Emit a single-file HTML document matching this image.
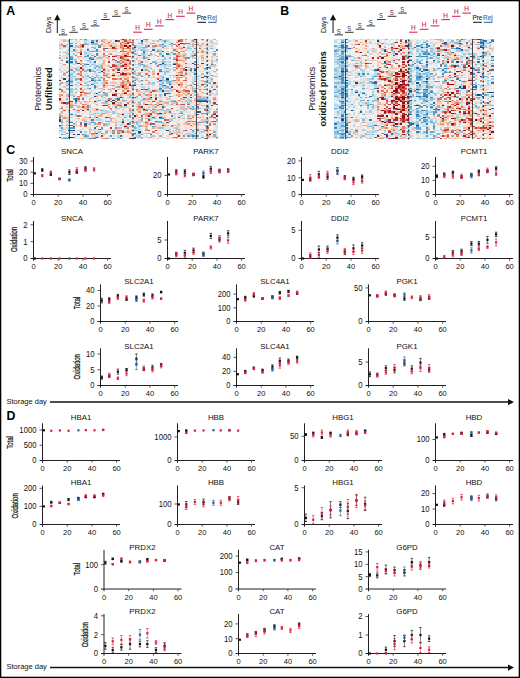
<!DOCTYPE html>
<html><head><meta charset="utf-8"><style>
html,body{margin:0;padding:0;background:#fff;}
svg{display:block;}
text{font-family:"Liberation Sans", sans-serif;}
</style></head><body>
<svg width="520" height="678" viewBox="0 0 520 678" font-family='"Liberation Sans", sans-serif'>
<defs><filter id="hb" x="-2%" y="-2%" width="104%" height="104%"><feGaussianBlur stdDeviation="0.6 0.35"/></filter></defs>
<rect x="0" y="0" width="520" height="678" fill="#fff"/>
<g filter="url(#hb)"><g transform="translate(58.60,38.90) scale(2.3426,1.3197)" shape-rendering="crispEdges">
<rect x="0" y="0" width="68" height="76" fill="#f7f6f6"/>
<path fill="#114781" d="M58 0h1v1h-1zM35 1h1v1h-1zM14 2h1v1h-1zM32 6h1v1h-1zM3 17h1v1h-1zM8 18h1v1h-1zM44 18h1v1h-1zM49 19h1v1h-1zM35 23h1v1h-1zM2 30h1v1h-1zM46 30h1v1h-1zM0 31h1v1h-1zM32 35h1v1h-1zM44 39h1v1h-1zM15 43h1v1h-1zM41 45h1v1h-1zM23 46h1v1h-1zM15 47h1v1h-1zM43 56h1v1h-1zM32 58h1v1h-1zM43 59h1v1h-1zM0 61h1v1h-1zM0 62h1v1h-1zM29 64h1v1h-1zM6 66h1v1h-1zM4 69h1v1h-1zM46 69h1v1h-1zM34 70h1v1h-1zM6 72h1v1h-1zM8 72h1v1h-1zM4 74h1v1h-1zM31 75h1v1h-1z"/>
<path fill="#1e61a5" d="M5 5h1v1h-1zM44 9h1v1h-1zM14 15h1v1h-1zM38 15h1v1h-1zM58 19h1v1h-1zM25 23h1v1h-1zM58 23h1v1h-1zM38 27h1v1h-1zM62 28h1v1h-1zM14 31h1v1h-1zM43 31h1v1h-1zM47 34h1v1h-1zM5 35h1v1h-1zM45 35h1v1h-1zM0 38h1v1h-1zM35 38h1v1h-1zM64 39h1v1h-1zM16 41h1v1h-1zM45 41h2v1h-2zM45 42h1v1h-1zM53 44h1v1h-1zM7 46h1v1h-1zM5 47h1v1h-1zM65 50h1v1h-1zM35 51h1v1h-1zM16 53h1v1h-1zM59 55h2v1h-2zM16 59h1v1h-1zM46 63h1v1h-1zM11 64h1v1h-1zM11 65h1v1h-1zM44 65h1v1h-1zM0 74h1v1h-1zM16 74h1v1h-1zM32 74h1v1h-1zM32 75h1v1h-1z"/>
<path fill="#2c75b4" d="M16 1h1v1h-1zM25 1h1v1h-1zM20 7h1v1h-1zM40 8h1v1h-1zM36 10h1v1h-1zM46 11h1v1h-1zM58 12h1v1h-1zM15 13h1v1h-1zM44 13h1v1h-1zM5 17h1v1h-1zM15 17h1v1h-1zM12 19h1v1h-1zM43 19h1v1h-1zM13 23h1v1h-1zM13 24h1v1h-1zM58 26h1v1h-1zM63 28h1v1h-1zM4 31h1v1h-1zM3 32h1v1h-1zM4 34h1v1h-1zM14 34h1v1h-1zM58 34h1v1h-1zM7 45h1v1h-1zM25 45h1v1h-1zM7 47h1v1h-1zM24 47h1v1h-1zM67 49h1v1h-1zM20 50h1v1h-1zM42 50h1v1h-1zM44 51h1v1h-1zM40 59h1v1h-1zM27 62h1v1h-1zM41 62h1v1h-1zM66 62h1v1h-1zM0 65h1v1h-1zM5 65h1v1h-1zM15 67h1v1h-1zM5 69h1v1h-1zM62 69h1v1h-1zM32 71h1v1h-1zM26 73h1v1h-1z"/>
<path fill="#3c8abe" d="M55 3h1v1h-1zM38 5h1v1h-1zM17 6h1v1h-1zM6 8h1v1h-1zM12 8h1v1h-1zM16 8h1v1h-1zM67 8h1v1h-1zM36 9h1v1h-1zM16 11h1v1h-1zM12 12h1v1h-1zM34 12h1v1h-1zM38 12h1v1h-1zM44 12h1v1h-1zM13 14h1v1h-1zM5 15h1v1h-1zM35 17h1v1h-1zM39 18h1v1h-1zM65 19h1v1h-1zM58 22h1v1h-1zM62 22h1v1h-1zM56 23h1v1h-1zM4 24h1v1h-1zM43 24h1v1h-1zM4 27h1v1h-1zM13 29h1v1h-1zM4 32h2v1h-2zM44 35h1v1h-1zM15 36h1v1h-1zM13 37h1v1h-1zM43 37h1v1h-1zM58 39h1v1h-1zM20 47h1v1h-1zM22 47h1v1h-1zM3 48h1v1h-1zM25 50h2v1h-2zM6 53h1v1h-1zM37 54h1v1h-1zM47 55h1v1h-1zM5 57h1v1h-1zM48 58h1v1h-1zM21 59h1v1h-1zM44 60h1v1h-1zM14 61h1v1h-1zM5 63h1v1h-1zM39 64h1v1h-1zM59 69h1v1h-1zM9 70h1v1h-1zM39 72h1v1h-1zM57 73h1v1h-1zM6 74h1v1h-1zM13 75h1v1h-1zM15 75h1v1h-1zM62 75h1v1h-1z"/>
<path fill="#569fc9" d="M11 0h1v1h-1zM43 0h1v1h-1zM14 1h1v1h-1zM45 1h1v1h-1zM5 3h1v1h-1zM35 3h1v1h-1zM44 4h1v1h-1zM49 4h1v1h-1zM17 5h1v1h-1zM32 5h1v1h-1zM44 6h1v1h-1zM58 7h1v1h-1zM49 8h1v1h-1zM14 9h1v1h-1zM42 9h1v1h-1zM49 11h1v1h-1zM7 12h1v1h-1zM16 12h1v1h-1zM11 13h1v1h-1zM36 13h1v1h-1zM5 14h1v1h-1zM36 14h1v1h-1zM55 14h1v1h-1zM7 17h1v1h-1zM25 17h1v1h-1zM58 17h1v1h-1zM41 18h1v1h-1zM49 18h1v1h-1zM11 19h1v1h-1zM35 19h1v1h-1zM45 19h1v1h-1zM64 21h1v1h-1zM64 22h1v1h-1zM5 23h1v1h-1zM43 23h1v1h-1zM53 23h1v1h-1zM3 25h1v1h-1zM65 27h1v1h-1zM35 28h1v1h-1zM15 29h1v1h-1zM14 30h1v1h-1zM17 31h1v1h-1zM32 31h1v1h-1zM35 31h1v1h-1zM46 31h1v1h-1zM49 31h1v1h-1zM58 32h1v1h-1zM62 32h1v1h-1zM35 34h1v1h-1zM43 34h1v1h-1zM15 35h1v1h-1zM56 35h1v1h-1zM47 37h1v1h-1zM4 38h1v1h-1zM33 38h1v1h-1zM36 38h1v1h-1zM43 38h1v1h-1zM60 38h1v1h-1zM62 38h1v1h-1zM17 40h1v1h-1zM11 41h2v1h-2zM24 41h1v1h-1zM47 41h1v1h-1zM55 41h1v1h-1zM47 43h1v1h-1zM6 45h1v1h-1zM21 45h1v1h-1zM36 45h1v1h-1zM63 46h1v1h-1zM43 47h1v1h-1zM12 50h1v1h-1zM12 51h1v1h-1zM24 51h1v1h-1zM63 51h1v1h-1zM56 52h1v1h-1zM62 53h1v1h-1zM18 54h1v1h-1zM38 56h1v1h-1zM45 56h1v1h-1zM62 56h1v1h-1zM30 58h1v1h-1zM35 60h1v1h-1zM43 60h1v1h-1zM47 62h1v1h-1zM58 62h1v1h-1zM65 62h1v1h-1zM4 63h1v1h-1zM9 63h1v1h-1zM14 63h1v1h-1zM30 63h1v1h-1zM60 63h1v1h-1zM30 64h1v1h-1zM4 65h1v1h-1zM64 65h1v1h-1zM16 66h1v1h-1zM40 66h1v1h-1zM1 67h1v1h-1zM5 67h2v1h-2zM18 67h1v1h-1zM56 68h1v1h-1zM23 69h1v1h-1zM26 69h1v1h-1zM57 69h1v1h-1zM3 71h1v1h-1zM23 71h1v1h-1zM25 71h1v1h-1zM31 71h1v1h-1zM34 71h1v1h-1zM1 72h1v1h-1zM11 73h1v1h-1zM22 73h1v1h-1zM53 73h1v1h-1zM58 73h2v1h-2zM49 74h1v1h-1zM2 75h2v1h-2zM23 75h1v1h-1zM26 75h1v1h-1z"/>
<path fill="#78b4d5" d="M36 0h1v1h-1zM4 1h1v1h-1zM7 3h1v1h-1zM11 3h1v1h-1zM14 3h3v1h-3zM40 3h1v1h-1zM11 4h2v1h-2zM43 4h1v1h-1zM47 4h1v1h-1zM58 4h1v1h-1zM45 5h1v1h-1zM14 6h1v1h-1zM36 6h1v1h-1zM15 7h1v1h-1zM65 7h1v1h-1zM4 8h1v1h-1zM35 8h1v1h-1zM13 9h1v1h-1zM15 9h2v1h-2zM32 9h1v1h-1zM4 11h1v1h-1zM32 11h1v1h-1zM36 11h1v1h-1zM39 11h1v1h-1zM43 11h1v1h-1zM58 11h1v1h-1zM66 11h1v1h-1zM14 12h1v1h-1zM20 12h1v1h-1zM24 12h2v1h-2zM5 13h1v1h-1zM12 13h1v1h-1zM0 14h1v1h-1zM3 14h1v1h-1zM14 14h1v1h-1zM47 14h1v1h-1zM13 15h1v1h-1zM45 15h1v1h-1zM4 16h1v1h-1zM12 16h1v1h-1zM40 17h1v1h-1zM44 17h1v1h-1zM16 20h1v1h-1zM36 20h1v1h-1zM15 21h1v1h-1zM49 21h1v1h-1zM7 22h1v1h-1zM15 22h1v1h-1zM25 22h1v1h-1zM39 22h1v1h-1zM46 22h1v1h-1zM12 23h1v1h-1zM11 24h1v1h-1zM14 24h2v1h-2zM32 24h1v1h-1zM38 24h1v1h-1zM46 24h1v1h-1zM17 25h1v1h-1zM63 25h1v1h-1zM34 26h1v1h-1zM12 27h1v1h-1zM16 27h1v1h-1zM20 27h1v1h-1zM33 27h1v1h-1zM12 28h1v1h-1zM44 28h1v1h-1zM59 28h1v1h-1zM32 29h1v1h-1zM7 30h1v1h-1zM65 30h1v1h-1zM15 31h1v1h-1zM44 31h1v1h-1zM13 32h1v1h-1zM15 32h1v1h-1zM43 32h1v1h-1zM46 32h2v1h-2zM32 33h1v1h-1zM38 33h1v1h-1zM44 33h1v1h-1zM47 33h1v1h-1zM0 34h1v1h-1zM7 34h1v1h-1zM32 34h1v1h-1zM3 35h1v1h-1zM12 35h1v1h-1zM25 36h1v1h-1zM46 36h1v1h-1zM65 36h1v1h-1zM3 37h1v1h-1zM15 37h1v1h-1zM38 37h1v1h-1zM58 37h1v1h-1zM49 38h1v1h-1zM41 39h1v1h-1zM7 40h1v1h-1zM58 40h1v1h-1zM36 41h1v1h-1zM53 41h1v1h-1zM4 42h1v1h-1zM20 42h1v1h-1zM64 42h1v1h-1zM6 43h1v1h-1zM18 43h1v1h-1zM33 43h1v1h-1zM3 45h1v1h-1zM24 45h1v1h-1zM17 46h1v1h-1zM35 46h1v1h-1zM56 46h1v1h-1zM11 47h1v1h-1zM7 48h1v1h-1zM38 49h1v1h-1zM5 50h1v1h-1zM5 51h1v1h-1zM57 51h1v1h-1zM44 52h1v1h-1zM59 52h2v1h-2zM22 53h1v1h-1zM33 53h1v1h-1zM37 53h1v1h-1zM41 53h1v1h-1zM43 53h1v1h-1zM46 53h1v1h-1zM63 54h1v1h-1zM66 55h1v1h-1zM15 56h1v1h-1zM0 58h1v1h-1zM57 59h1v1h-1zM22 60h1v1h-1zM55 60h1v1h-1zM27 61h1v1h-1zM67 61h1v1h-1zM3 62h1v1h-1zM11 62h1v1h-1zM21 62h1v1h-1zM42 62h2v1h-2zM56 62h1v1h-1zM62 62h2v1h-2zM1 63h1v1h-1zM15 63h1v1h-1zM43 63h1v1h-1zM15 64h1v1h-1zM19 64h1v1h-1zM1 65h1v1h-1zM19 65h1v1h-1zM24 65h1v1h-1zM0 66h1v1h-1zM34 66h1v1h-1zM63 66h1v1h-1zM32 67h1v1h-1zM18 68h1v1h-1zM31 69h3v1h-3zM53 69h1v1h-1zM20 70h1v1h-1zM66 70h1v1h-1zM65 71h1v1h-1zM50 72h1v1h-1zM57 72h1v1h-1zM66 72h1v1h-1zM12 73h1v1h-1zM43 73h1v1h-1zM15 74h1v1h-1zM61 74h1v1h-1zM58 75h1v1h-1z"/>
<path fill="#98c8e0" d="M5 0h1v1h-1zM33 0h1v1h-1zM66 0h1v1h-1zM42 1h1v1h-1zM45 2h1v1h-1zM58 2h1v1h-1zM20 3h1v1h-1zM0 4h1v1h-1zM3 4h1v1h-1zM14 4h3v1h-3zM7 5h1v1h-1zM60 5h1v1h-1zM8 6h1v1h-1zM15 6h1v1h-1zM0 7h1v1h-1zM12 7h1v1h-1zM36 7h1v1h-1zM55 7h2v1h-2zM32 8h1v1h-1zM42 8h1v1h-1zM7 9h1v1h-1zM17 9h1v1h-1zM43 9h1v1h-1zM46 9h1v1h-1zM0 10h1v1h-1zM11 10h1v1h-1zM6 11h1v1h-1zM0 12h1v1h-1zM41 12h1v1h-1zM17 14h1v1h-1zM37 14h1v1h-1zM45 14h1v1h-1zM49 14h1v1h-1zM53 14h1v1h-1zM6 15h1v1h-1zM44 15h1v1h-1zM61 16h1v1h-1zM67 16h1v1h-1zM4 17h1v1h-1zM13 17h1v1h-1zM41 17h1v1h-1zM45 17h1v1h-1zM65 17h1v1h-1zM5 18h1v1h-1zM7 18h1v1h-1zM65 18h1v1h-1zM14 19h1v1h-1zM34 19h1v1h-1zM36 19h1v1h-1zM44 19h1v1h-1zM25 21h1v1h-1zM36 21h1v1h-1zM38 21h1v1h-1zM7 23h2v1h-2zM31 23h1v1h-1zM49 23h1v1h-1zM67 23h1v1h-1zM40 24h1v1h-1zM44 24h1v1h-1zM56 24h1v1h-1zM58 24h1v1h-1zM6 25h1v1h-1zM31 25h1v1h-1zM45 25h1v1h-1zM54 25h1v1h-1zM5 26h1v1h-1zM20 26h1v1h-1zM32 26h1v1h-1zM45 26h1v1h-1zM5 27h1v1h-1zM34 27h1v1h-1zM47 27h1v1h-1zM49 27h1v1h-1zM62 27h1v1h-1zM4 28h1v1h-1zM6 28h1v1h-1zM38 29h1v1h-1zM44 29h1v1h-1zM58 29h1v1h-1zM33 30h1v1h-1zM44 30h1v1h-1zM5 31h1v1h-1zM7 31h1v1h-1zM16 31h1v1h-1zM45 31h1v1h-1zM12 32h1v1h-1zM3 33h1v1h-1zM5 33h1v1h-1zM11 33h1v1h-1zM40 33h1v1h-1zM46 33h1v1h-1zM57 33h1v1h-1zM12 34h1v1h-1zM62 34h1v1h-1zM55 35h1v1h-1zM67 35h1v1h-1zM62 36h1v1h-1zM0 37h1v1h-1zM5 37h1v1h-1zM7 37h1v1h-1zM12 37h1v1h-1zM31 37h1v1h-1zM45 37h1v1h-1zM3 38h1v1h-1zM5 38h1v1h-1zM5 39h1v1h-1zM5 40h1v1h-1zM13 40h1v1h-1zM13 41h1v1h-1zM62 41h1v1h-1zM65 41h1v1h-1zM67 41h1v1h-1zM19 42h1v1h-1zM43 42h1v1h-1zM58 42h1v1h-1zM30 43h1v1h-1zM31 44h1v1h-1zM39 45h1v1h-1zM53 45h1v1h-1zM59 45h1v1h-1zM28 46h1v1h-1zM31 46h1v1h-1zM49 46h1v1h-1zM8 47h1v1h-1zM13 47h1v1h-1zM16 47h1v1h-1zM30 47h1v1h-1zM54 47h1v1h-1zM60 47h1v1h-1zM19 48h2v1h-2zM26 48h1v1h-1zM34 48h1v1h-1zM55 48h1v1h-1zM6 50h1v1h-1zM13 50h1v1h-1zM18 50h1v1h-1zM58 50h1v1h-1zM61 50h1v1h-1zM63 50h1v1h-1zM45 51h1v1h-1zM55 51h1v1h-1zM0 52h1v1h-1zM57 52h2v1h-2zM62 52h1v1h-1zM9 53h1v1h-1zM38 53h1v1h-1zM12 54h1v1h-1zM19 54h1v1h-1zM44 54h1v1h-1zM50 54h1v1h-1zM53 54h1v1h-1zM1 55h1v1h-1zM4 55h1v1h-1zM23 55h1v1h-1zM52 55h1v1h-1zM63 55h1v1h-1zM0 56h1v1h-1zM18 56h1v1h-1zM23 56h1v1h-1zM25 56h1v1h-1zM27 56h1v1h-1zM7 57h1v1h-1zM43 57h1v1h-1zM53 57h1v1h-1zM7 58h1v1h-1zM11 59h1v1h-1zM44 59h1v1h-1zM40 60h2v1h-2zM49 60h1v1h-1zM53 60h1v1h-1zM66 60h1v1h-1zM22 61h1v1h-1zM48 61h1v1h-1zM35 62h1v1h-1zM67 62h1v1h-1zM24 63h1v1h-1zM42 63h1v1h-1zM44 63h1v1h-1zM13 64h1v1h-1zM20 64h1v1h-1zM33 64h1v1h-1zM51 64h1v1h-1zM3 65h1v1h-1zM20 65h1v1h-1zM26 65h1v1h-1zM34 65h1v1h-1zM36 65h1v1h-1zM45 65h1v1h-1zM62 65h1v1h-1zM32 66h1v1h-1zM25 67h1v1h-1zM43 67h2v1h-2zM50 67h1v1h-1zM4 68h1v1h-1zM15 68h1v1h-1zM47 68h1v1h-1zM50 68h1v1h-1zM0 69h2v1h-2zM17 70h1v1h-1zM26 70h1v1h-1zM47 70h1v1h-1zM57 70h1v1h-1zM61 70h1v1h-1zM4 71h1v1h-1zM58 71h1v1h-1zM2 72h1v1h-1zM11 72h1v1h-1zM32 72h1v1h-1zM56 72h1v1h-1zM34 73h1v1h-1zM40 73h1v1h-1zM56 73h1v1h-1zM11 74h1v1h-1zM25 74h1v1h-1zM63 74h1v1h-1zM1 75h1v1h-1zM4 75h1v1h-1zM12 75h1v1h-1zM21 75h1v1h-1zM35 75h1v1h-1zM59 75h1v1h-1z"/>
<path fill="#b1d5e7" d="M2 0h1v1h-1zM63 0h1v1h-1zM11 1h1v1h-1zM15 1h1v1h-1zM44 1h1v1h-1zM46 1h1v1h-1zM58 1h1v1h-1zM65 1h1v1h-1zM13 2h1v1h-1zM16 2h1v1h-1zM35 2h1v1h-1zM47 2h1v1h-1zM65 2h1v1h-1zM4 3h1v1h-1zM44 3h1v1h-1zM65 3h1v1h-1zM36 4h1v1h-1zM56 4h1v1h-1zM63 4h1v1h-1zM0 5h1v1h-1zM33 5h1v1h-1zM44 5h1v1h-1zM65 5h1v1h-1zM4 6h1v1h-1zM6 6h2v1h-2zM32 7h1v1h-1zM34 7h1v1h-1zM62 7h1v1h-1zM64 7h1v1h-1zM24 8h1v1h-1zM36 8h2v1h-2zM43 8h1v1h-1zM63 8h1v1h-1zM5 9h1v1h-1zM31 9h1v1h-1zM62 9h1v1h-1zM3 10h1v1h-1zM12 10h1v1h-1zM43 10h1v1h-1zM3 11h1v1h-1zM11 11h1v1h-1zM13 11h1v1h-1zM21 11h1v1h-1zM33 11h1v1h-1zM35 11h1v1h-1zM47 11h1v1h-1zM53 11h1v1h-1zM35 12h2v1h-2zM47 12h1v1h-1zM56 12h1v1h-1zM56 13h1v1h-1zM65 13h1v1h-1zM20 14h1v1h-1zM25 14h1v1h-1zM31 14h1v1h-1zM33 14h1v1h-1zM57 14h2v1h-2zM15 15h2v1h-2zM3 16h1v1h-1zM32 16h1v1h-1zM44 16h1v1h-1zM24 17h1v1h-1zM47 17h1v1h-1zM4 18h1v1h-1zM11 18h1v1h-1zM6 19h1v1h-1zM15 19h1v1h-1zM25 19h1v1h-1zM32 19h1v1h-1zM41 19h2v1h-2zM46 19h2v1h-2zM4 20h1v1h-1zM13 20h1v1h-1zM15 20h1v1h-1zM17 20h1v1h-1zM25 20h1v1h-1zM34 20h1v1h-1zM45 20h1v1h-1zM47 20h1v1h-1zM64 20h3v1h-3zM5 21h1v1h-1zM33 21h1v1h-1zM45 21h1v1h-1zM45 22h1v1h-1zM0 23h1v1h-1zM11 23h1v1h-1zM14 23h1v1h-1zM16 23h2v1h-2zM36 23h1v1h-1zM47 23h1v1h-1zM55 23h1v1h-1zM62 23h1v1h-1zM3 24h1v1h-1zM45 24h1v1h-1zM15 25h1v1h-1zM32 25h1v1h-1zM46 25h1v1h-1zM57 25h2v1h-2zM64 26h1v1h-1zM35 27h1v1h-1zM43 27h1v1h-1zM5 28h1v1h-1zM7 28h1v1h-1zM11 28h1v1h-1zM14 28h1v1h-1zM16 28h1v1h-1zM38 28h1v1h-1zM58 28h1v1h-1zM67 28h1v1h-1zM5 29h1v1h-1zM16 29h2v1h-2zM40 29h1v1h-1zM43 29h1v1h-1zM45 29h1v1h-1zM64 29h1v1h-1zM5 30h1v1h-1zM15 30h1v1h-1zM17 30h1v1h-1zM32 30h1v1h-1zM58 30h1v1h-1zM58 31h1v1h-1zM63 31h1v1h-1zM65 31h1v1h-1zM35 32h1v1h-1zM65 32h1v1h-1zM8 33h1v1h-1zM15 33h2v1h-2zM18 33h1v1h-1zM63 33h1v1h-1zM33 34h1v1h-1zM40 34h1v1h-1zM56 34h1v1h-1zM65 34h1v1h-1zM4 35h1v1h-1zM8 35h1v1h-1zM11 35h1v1h-1zM16 36h1v1h-1zM31 36h1v1h-1zM35 36h2v1h-2zM43 36h3v1h-3zM57 36h1v1h-1zM17 37h1v1h-1zM46 37h1v1h-1zM6 38h1v1h-1zM11 38h1v1h-1zM13 38h1v1h-1zM23 38h1v1h-1zM32 38h1v1h-1zM38 38h1v1h-1zM40 38h1v1h-1zM42 38h1v1h-1zM18 39h1v1h-1zM37 39h2v1h-2zM43 39h1v1h-1zM45 39h1v1h-1zM47 39h1v1h-1zM65 39h1v1h-1zM67 39h1v1h-1zM15 40h1v1h-1zM21 40h1v1h-1zM35 40h1v1h-1zM38 40h1v1h-1zM4 41h1v1h-1zM15 41h1v1h-1zM25 41h1v1h-1zM57 41h1v1h-1zM5 42h1v1h-1zM17 42h1v1h-1zM3 43h1v1h-1zM24 43h1v1h-1zM26 43h1v1h-1zM43 43h1v1h-1zM19 44h1v1h-1zM29 44h1v1h-1zM33 44h1v1h-1zM42 44h1v1h-1zM59 44h1v1h-1zM47 45h1v1h-1zM55 45h1v1h-1zM20 46h1v1h-1zM43 46h1v1h-1zM48 46h1v1h-1zM54 46h1v1h-1zM64 46h1v1h-1zM27 47h1v1h-1zM44 47h1v1h-1zM46 47h1v1h-1zM25 48h1v1h-1zM49 48h1v1h-1zM60 48h1v1h-1zM64 48h1v1h-1zM51 49h1v1h-1zM40 50h1v1h-1zM53 50h1v1h-1zM56 50h1v1h-1zM62 50h1v1h-1zM13 51h1v1h-1zM27 51h2v1h-2zM33 51h1v1h-1zM40 51h1v1h-1zM52 51h2v1h-2zM16 52h1v1h-1zM25 52h1v1h-1zM35 52h1v1h-1zM53 52h1v1h-1zM64 52h1v1h-1zM17 53h1v1h-1zM27 53h1v1h-1zM30 53h1v1h-1zM34 53h1v1h-1zM44 53h1v1h-1zM56 53h1v1h-1zM58 53h1v1h-1zM64 53h1v1h-1zM20 54h1v1h-1zM46 54h2v1h-2zM8 55h1v1h-1zM13 55h1v1h-1zM20 55h1v1h-1zM30 55h1v1h-1zM41 55h1v1h-1zM58 55h1v1h-1zM1 56h1v1h-1zM16 56h2v1h-2zM20 56h1v1h-1zM30 56h1v1h-1zM40 56h1v1h-1zM44 56h1v1h-1zM49 56h1v1h-1zM58 56h1v1h-1zM13 57h1v1h-1zM65 57h1v1h-1zM15 58h1v1h-1zM39 58h1v1h-1zM52 58h1v1h-1zM5 59h1v1h-1zM31 59h2v1h-2zM39 59h1v1h-1zM55 59h1v1h-1zM17 60h1v1h-1zM38 60h1v1h-1zM1 61h1v1h-1zM16 61h2v1h-2zM29 61h1v1h-1zM34 61h1v1h-1zM39 61h1v1h-1zM62 61h2v1h-2zM5 62h1v1h-1zM7 62h1v1h-1zM12 62h1v1h-1zM14 62h1v1h-1zM22 62h1v1h-1zM25 62h1v1h-1zM18 63h1v1h-1zM26 63h1v1h-1zM34 63h1v1h-1zM62 63h1v1h-1zM12 64h1v1h-1zM21 64h1v1h-1zM27 64h1v1h-1zM59 64h1v1h-1zM50 65h1v1h-1zM59 65h1v1h-1zM45 66h1v1h-1zM67 66h1v1h-1zM3 67h2v1h-2zM28 67h1v1h-1zM33 67h1v1h-1zM37 67h1v1h-1zM49 67h1v1h-1zM2 68h1v1h-1zM58 68h1v1h-1zM61 68h1v1h-1zM8 69h1v1h-1zM14 69h1v1h-1zM49 69h1v1h-1zM5 70h1v1h-1zM11 70h1v1h-1zM13 71h1v1h-1zM20 71h1v1h-1zM30 71h1v1h-1zM36 71h1v1h-1zM42 71h1v1h-1zM49 71h2v1h-2zM60 71h1v1h-1zM64 71h1v1h-1zM54 72h1v1h-1zM63 72h1v1h-1zM4 73h1v1h-1zM16 73h1v1h-1zM25 73h1v1h-1zM33 73h1v1h-1zM64 73h1v1h-1zM3 74h1v1h-1zM46 75h1v1h-1zM53 75h2v1h-2zM67 75h1v1h-1z"/>
<path fill="#cce2ef" d="M0 0h1v1h-1zM16 0h1v1h-1zM32 0h1v1h-1zM38 0h1v1h-1zM46 0h1v1h-1zM3 1h1v1h-1zM7 1h1v1h-1zM12 1h1v1h-1zM20 1h1v1h-1zM43 1h1v1h-1zM56 1h1v1h-1zM64 1h1v1h-1zM6 2h1v1h-1zM11 2h1v1h-1zM34 2h1v1h-1zM36 2h1v1h-1zM62 2h1v1h-1zM66 2h1v1h-1zM12 3h1v1h-1zM21 3h2v1h-2zM45 3h2v1h-2zM5 4h1v1h-1zM35 4h1v1h-1zM41 4h1v1h-1zM48 4h1v1h-1zM3 5h1v1h-1zM15 5h1v1h-1zM18 5h1v1h-1zM34 5h2v1h-2zM46 5h1v1h-1zM55 5h2v1h-2zM5 6h1v1h-1zM39 6h1v1h-1zM60 6h1v1h-1zM4 7h2v1h-2zM40 7h1v1h-1zM45 7h1v1h-1zM15 8h1v1h-1zM33 8h2v1h-2zM55 8h2v1h-2zM58 8h1v1h-1zM0 9h1v1h-1zM25 10h1v1h-1zM12 11h1v1h-1zM56 11h2v1h-2zM2 12h1v1h-1zM4 12h1v1h-1zM11 12h1v1h-1zM17 12h1v1h-1zM40 12h1v1h-1zM43 12h1v1h-1zM3 13h1v1h-1zM17 13h1v1h-1zM43 13h1v1h-1zM8 14h1v1h-1zM11 14h2v1h-2zM35 14h1v1h-1zM38 14h1v1h-1zM65 14h1v1h-1zM25 15h1v1h-1zM36 15h1v1h-1zM63 15h1v1h-1zM6 16h1v1h-1zM11 16h1v1h-1zM13 16h1v1h-1zM18 16h1v1h-1zM41 16h1v1h-1zM46 16h1v1h-1zM65 16h1v1h-1zM14 17h1v1h-1zM32 17h1v1h-1zM43 17h1v1h-1zM46 17h1v1h-1zM59 17h1v1h-1zM67 17h1v1h-1zM14 18h2v1h-2zM25 18h1v1h-1zM35 18h1v1h-1zM45 18h1v1h-1zM7 19h1v1h-1zM17 19h1v1h-1zM33 19h1v1h-1zM38 19h1v1h-1zM48 19h1v1h-1zM53 19h1v1h-1zM56 19h1v1h-1zM63 19h1v1h-1zM11 20h1v1h-1zM20 20h1v1h-1zM41 20h1v1h-1zM43 20h2v1h-2zM58 20h1v1h-1zM3 21h1v1h-1zM11 21h2v1h-2zM16 21h1v1h-1zM32 21h1v1h-1zM58 21h1v1h-1zM0 22h1v1h-1zM3 22h1v1h-1zM8 22h1v1h-1zM17 22h1v1h-1zM4 23h1v1h-1zM18 23h1v1h-1zM20 23h1v1h-1zM32 23h2v1h-2zM38 23h1v1h-1zM40 23h1v1h-1zM45 23h2v1h-2zM8 24h1v1h-1zM20 24h1v1h-1zM31 24h1v1h-1zM35 24h1v1h-1zM63 24h1v1h-1zM0 25h1v1h-1zM5 25h1v1h-1zM18 25h1v1h-1zM36 25h1v1h-1zM43 25h1v1h-1zM47 25h1v1h-1zM56 25h1v1h-1zM11 26h1v1h-1zM15 26h2v1h-2zM55 26h1v1h-1zM40 27h1v1h-1zM48 27h1v1h-1zM17 28h1v1h-1zM25 28h1v1h-1zM36 28h1v1h-1zM43 28h1v1h-1zM49 28h1v1h-1zM6 29h1v1h-1zM11 29h1v1h-1zM31 29h1v1h-1zM33 29h1v1h-1zM49 29h1v1h-1zM11 30h2v1h-2zM43 30h1v1h-1zM57 30h1v1h-1zM59 30h1v1h-1zM64 30h1v1h-1zM3 31h1v1h-1zM18 31h1v1h-1zM36 31h1v1h-1zM47 31h1v1h-1zM60 31h1v1h-1zM64 31h1v1h-1zM33 32h1v1h-1zM38 32h1v1h-1zM44 32h2v1h-2zM49 32h1v1h-1zM56 32h1v1h-1zM4 33h1v1h-1zM14 33h1v1h-1zM39 33h1v1h-1zM43 33h1v1h-1zM49 33h1v1h-1zM67 33h1v1h-1zM3 34h1v1h-1zM25 34h1v1h-1zM36 34h1v1h-1zM0 35h1v1h-1zM16 35h1v1h-1zM25 35h1v1h-1zM34 35h1v1h-1zM38 35h1v1h-1zM43 35h1v1h-1zM66 35h1v1h-1zM12 36h1v1h-1zM38 36h1v1h-1zM47 36h1v1h-1zM4 37h1v1h-1zM11 37h1v1h-1zM22 37h1v1h-1zM44 37h1v1h-1zM16 38h1v1h-1zM44 38h2v1h-2zM56 38h1v1h-1zM2 39h1v1h-1zM36 39h1v1h-1zM0 40h1v1h-1zM20 40h1v1h-1zM30 40h1v1h-1zM36 40h1v1h-1zM44 40h1v1h-1zM47 40h1v1h-1zM0 41h1v1h-1zM5 41h1v1h-1zM34 41h1v1h-1zM38 41h1v1h-1zM43 41h1v1h-1zM15 42h2v1h-2zM36 42h1v1h-1zM55 42h1v1h-1zM67 42h1v1h-1zM11 43h2v1h-2zM45 43h1v1h-1zM55 43h1v1h-1zM57 43h1v1h-1zM7 44h1v1h-1zM37 44h2v1h-2zM62 44h1v1h-1zM20 45h1v1h-1zM32 45h2v1h-2zM35 45h1v1h-1zM63 45h1v1h-1zM4 46h1v1h-1zM16 46h1v1h-1zM36 46h1v1h-1zM60 46h1v1h-1zM10 47h1v1h-1zM32 47h1v1h-1zM41 47h1v1h-1zM45 47h1v1h-1zM58 47h1v1h-1zM62 47h1v1h-1zM44 48h1v1h-1zM53 48h1v1h-1zM56 48h1v1h-1zM65 48h1v1h-1zM4 49h1v1h-1zM20 49h1v1h-1zM42 49h1v1h-1zM46 49h2v1h-2zM58 49h1v1h-1zM60 49h1v1h-1zM8 50h1v1h-1zM11 50h1v1h-1zM16 50h1v1h-1zM24 50h1v1h-1zM33 50h1v1h-1zM35 50h1v1h-1zM39 50h1v1h-1zM46 50h2v1h-2zM49 50h1v1h-1zM60 50h1v1h-1zM9 51h1v1h-1zM23 51h1v1h-1zM29 51h1v1h-1zM43 51h1v1h-1zM10 52h1v1h-1zM14 52h1v1h-1zM31 52h1v1h-1zM38 52h1v1h-1zM1 53h1v1h-1zM3 53h1v1h-1zM14 53h1v1h-1zM35 53h1v1h-1zM51 53h1v1h-1zM22 54h1v1h-1zM40 54h2v1h-2zM54 54h1v1h-1zM67 54h1v1h-1zM7 55h1v1h-1zM16 55h1v1h-1zM18 55h2v1h-2zM22 55h1v1h-1zM24 55h1v1h-1zM28 55h1v1h-1zM39 55h1v1h-1zM43 55h1v1h-1zM54 55h1v1h-1zM17 57h1v1h-1zM13 58h1v1h-1zM27 58h3v1h-3zM40 58h1v1h-1zM43 58h1v1h-1zM49 58h1v1h-1zM56 58h1v1h-1zM49 59h1v1h-1zM53 59h1v1h-1zM7 60h1v1h-1zM15 60h1v1h-1zM27 60h1v1h-1zM39 60h1v1h-1zM45 60h1v1h-1zM3 61h1v1h-1zM13 61h1v1h-1zM18 61h1v1h-1zM31 61h1v1h-1zM51 61h1v1h-1zM55 61h2v1h-2zM18 62h1v1h-1zM23 62h1v1h-1zM26 62h1v1h-1zM30 62h1v1h-1zM32 62h1v1h-1zM53 62h2v1h-2zM64 62h1v1h-1zM7 63h1v1h-1zM11 63h1v1h-1zM21 63h1v1h-1zM40 63h2v1h-2zM1 64h1v1h-1zM26 64h1v1h-1zM32 64h1v1h-1zM34 64h1v1h-1zM41 64h1v1h-1zM60 64h1v1h-1zM2 65h1v1h-1zM14 65h1v1h-1zM41 65h1v1h-1zM60 65h1v1h-1zM66 65h1v1h-1zM27 66h1v1h-1zM44 66h1v1h-1zM0 67h1v1h-1zM34 67h1v1h-1zM41 67h1v1h-1zM54 67h1v1h-1zM16 68h1v1h-1zM25 68h1v1h-1zM32 68h1v1h-1zM52 68h1v1h-1zM67 68h1v1h-1zM43 69h1v1h-1zM66 69h1v1h-1zM0 70h2v1h-2zM22 70h1v1h-1zM35 70h1v1h-1zM48 70h2v1h-2zM58 70h1v1h-1zM60 70h1v1h-1zM19 71h1v1h-1zM33 71h1v1h-1zM44 71h1v1h-1zM56 71h1v1h-1zM63 71h1v1h-1zM67 71h1v1h-1zM17 72h1v1h-1zM33 72h2v1h-2zM42 72h1v1h-1zM53 72h1v1h-1zM55 72h1v1h-1zM7 73h1v1h-1zM14 73h1v1h-1zM21 73h1v1h-1zM37 73h1v1h-1zM61 73h1v1h-1zM67 73h1v1h-1zM1 74h1v1h-1zM27 74h1v1h-1zM37 74h1v1h-1zM47 74h1v1h-1zM66 74h1v1h-1zM25 75h1v1h-1zM55 75h1v1h-1zM57 75h1v1h-1z"/>
<path fill="#ddebf2" d="M3 0h1v1h-1zM15 0h1v1h-1zM17 0h1v1h-1zM45 0h1v1h-1zM47 0h1v1h-1zM8 1h1v1h-1zM36 1h1v1h-1zM47 1h1v1h-1zM3 2h3v1h-3zM23 2h1v1h-1zM42 2h1v1h-1zM44 2h1v1h-1zM54 2h1v1h-1zM57 2h1v1h-1zM38 3h1v1h-1zM47 3h1v1h-1zM49 3h1v1h-1zM33 4h1v1h-1zM39 4h1v1h-1zM54 4h1v1h-1zM66 4h2v1h-2zM12 5h1v1h-1zM52 5h1v1h-1zM58 5h1v1h-1zM12 6h1v1h-1zM31 6h1v1h-1zM45 6h2v1h-2zM58 6h1v1h-1zM63 6h1v1h-1zM35 7h1v1h-1zM37 7h1v1h-1zM3 8h1v1h-1zM8 8h1v1h-1zM11 8h1v1h-1zM13 8h2v1h-2zM22 8h1v1h-1zM31 8h1v1h-1zM45 8h1v1h-1zM58 9h1v1h-1zM4 10h1v1h-1zM16 10h1v1h-1zM56 10h1v1h-1zM60 10h1v1h-1zM66 10h1v1h-1zM7 11h1v1h-1zM14 11h1v1h-1zM17 11h1v1h-1zM31 11h1v1h-1zM44 11h1v1h-1zM65 11h1v1h-1zM18 12h1v1h-1zM46 12h1v1h-1zM49 12h1v1h-1zM4 13h1v1h-1zM32 13h1v1h-1zM35 13h1v1h-1zM40 13h1v1h-1zM55 13h1v1h-1zM62 13h2v1h-2zM4 14h1v1h-1zM6 14h2v1h-2zM15 14h1v1h-1zM32 14h1v1h-1zM46 14h1v1h-1zM60 14h1v1h-1zM62 14h1v1h-1zM66 14h1v1h-1zM8 15h1v1h-1zM11 15h1v1h-1zM17 15h1v1h-1zM32 15h1v1h-1zM40 15h1v1h-1zM47 15h1v1h-1zM61 15h1v1h-1zM0 16h1v1h-1zM10 16h1v1h-1zM21 16h1v1h-1zM27 16h1v1h-1zM35 16h1v1h-1zM6 17h1v1h-1zM12 17h1v1h-1zM23 17h1v1h-1zM36 17h1v1h-1zM56 17h1v1h-1zM66 17h1v1h-1zM3 18h1v1h-1zM6 18h1v1h-1zM13 18h1v1h-1zM17 18h1v1h-1zM46 18h2v1h-2zM55 18h1v1h-1zM58 18h1v1h-1zM62 18h1v1h-1zM64 18h1v1h-1zM1 19h1v1h-1zM13 19h1v1h-1zM37 19h1v1h-1zM54 19h2v1h-2zM5 20h1v1h-1zM14 20h1v1h-1zM30 20h1v1h-1zM32 20h1v1h-1zM38 20h1v1h-1zM55 20h1v1h-1zM61 20h1v1h-1zM31 21h1v1h-1zM43 21h2v1h-2zM66 21h1v1h-1zM16 22h1v1h-1zM35 22h1v1h-1zM47 22h1v1h-1zM15 23h1v1h-1zM60 23h1v1h-1zM10 24h1v1h-1zM17 24h1v1h-1zM19 24h1v1h-1zM36 24h1v1h-1zM47 24h1v1h-1zM49 24h1v1h-1zM65 24h1v1h-1zM8 25h1v1h-1zM11 25h1v1h-1zM13 25h1v1h-1zM16 25h1v1h-1zM62 25h1v1h-1zM4 26h1v1h-1zM14 26h1v1h-1zM44 26h1v1h-1zM59 26h1v1h-1zM7 27h2v1h-2zM11 27h1v1h-1zM14 27h2v1h-2zM17 27h1v1h-1zM39 27h1v1h-1zM55 27h1v1h-1zM58 27h1v1h-1zM0 28h1v1h-1zM39 28h1v1h-1zM47 28h1v1h-1zM57 28h1v1h-1zM60 28h1v1h-1zM8 29h1v1h-1zM12 29h1v1h-1zM22 29h1v1h-1zM35 29h1v1h-1zM55 29h1v1h-1zM0 30h2v1h-2zM6 30h1v1h-1zM34 30h1v1h-1zM36 30h1v1h-1zM6 31h1v1h-1zM8 31h1v1h-1zM11 31h1v1h-1zM13 31h1v1h-1zM21 31h1v1h-1zM25 31h1v1h-1zM0 32h1v1h-1zM7 32h2v1h-2zM39 32h2v1h-2zM63 32h1v1h-1zM12 33h1v1h-1zM25 33h1v1h-1zM34 33h2v1h-2zM60 33h1v1h-1zM5 34h1v1h-1zM17 34h1v1h-1zM64 34h1v1h-1zM7 35h1v1h-1zM17 35h1v1h-1zM35 35h1v1h-1zM48 35h1v1h-1zM60 35h1v1h-1zM65 35h1v1h-1zM3 36h3v1h-3zM7 36h1v1h-1zM14 36h1v1h-1zM23 36h1v1h-1zM8 37h1v1h-1zM34 37h2v1h-2zM37 37h1v1h-1zM60 37h1v1h-1zM14 38h2v1h-2zM20 38h1v1h-1zM30 38h1v1h-1zM46 38h1v1h-1zM6 39h1v1h-1zM12 40h1v1h-1zM27 40h1v1h-1zM43 40h1v1h-1zM46 40h1v1h-1zM67 40h1v1h-1zM3 41h1v1h-1zM6 41h2v1h-2zM10 41h1v1h-1zM14 41h1v1h-1zM40 41h1v1h-1zM44 41h1v1h-1zM48 41h1v1h-1zM51 41h1v1h-1zM64 41h1v1h-1zM14 42h1v1h-1zM32 42h1v1h-1zM40 42h1v1h-1zM46 42h1v1h-1zM61 42h1v1h-1zM65 42h1v1h-1zM5 43h1v1h-1zM32 43h1v1h-1zM49 43h1v1h-1zM63 43h1v1h-1zM66 43h1v1h-1zM4 44h2v1h-2zM16 44h1v1h-1zM24 44h1v1h-1zM36 44h1v1h-1zM47 44h1v1h-1zM14 45h1v1h-1zM28 45h2v1h-2zM34 45h1v1h-1zM48 45h1v1h-1zM56 45h1v1h-1zM3 46h1v1h-1zM10 46h1v1h-1zM52 46h1v1h-1zM67 46h1v1h-1zM0 47h1v1h-1zM23 47h1v1h-1zM37 47h1v1h-1zM39 47h1v1h-1zM66 47h1v1h-1zM0 48h1v1h-1zM14 48h1v1h-1zM16 48h1v1h-1zM21 48h1v1h-1zM27 48h1v1h-1zM33 48h1v1h-1zM54 48h1v1h-1zM57 48h1v1h-1zM22 49h1v1h-1zM31 49h1v1h-1zM49 49h1v1h-1zM61 49h1v1h-1zM4 50h1v1h-1zM31 50h1v1h-1zM48 50h1v1h-1zM52 50h1v1h-1zM25 51h1v1h-1zM36 51h1v1h-1zM51 51h1v1h-1zM58 51h1v1h-1zM64 51h2v1h-2zM8 52h1v1h-1zM27 52h1v1h-1zM33 52h1v1h-1zM39 52h1v1h-1zM4 53h1v1h-1zM7 53h1v1h-1zM29 53h1v1h-1zM32 53h1v1h-1zM55 53h1v1h-1zM60 53h1v1h-1zM28 54h1v1h-1zM31 54h2v1h-2zM60 54h1v1h-1zM2 55h1v1h-1zM14 55h1v1h-1zM17 55h1v1h-1zM32 55h1v1h-1zM35 55h2v1h-2zM51 55h1v1h-1zM53 55h1v1h-1zM55 55h1v1h-1zM14 56h1v1h-1zM36 56h1v1h-1zM46 56h1v1h-1zM53 56h1v1h-1zM4 57h1v1h-1zM15 57h1v1h-1zM19 57h1v1h-1zM23 57h1v1h-1zM25 57h1v1h-1zM28 57h2v1h-2zM45 57h1v1h-1zM51 57h1v1h-1zM56 57h1v1h-1zM5 58h2v1h-2zM11 58h1v1h-1zM42 58h1v1h-1zM66 58h1v1h-1zM1 59h1v1h-1zM12 59h1v1h-1zM24 59h1v1h-1zM38 59h1v1h-1zM41 59h1v1h-1zM62 59h1v1h-1zM67 59h1v1h-1zM14 60h1v1h-1zM16 60h1v1h-1zM18 60h1v1h-1zM25 60h1v1h-1zM36 60h1v1h-1zM7 61h2v1h-2zM19 61h2v1h-2zM26 61h1v1h-1zM28 61h1v1h-1zM33 61h1v1h-1zM42 61h1v1h-1zM8 62h1v1h-1zM13 62h1v1h-1zM2 63h2v1h-2zM25 63h1v1h-1zM31 63h1v1h-1zM50 63h1v1h-1zM67 63h1v1h-1zM4 64h1v1h-1zM25 64h1v1h-1zM43 64h1v1h-1zM65 64h1v1h-1zM67 64h1v1h-1zM23 65h1v1h-1zM29 65h1v1h-1zM32 65h2v1h-2zM52 65h1v1h-1zM55 65h1v1h-1zM58 65h1v1h-1zM61 65h1v1h-1zM20 66h1v1h-1zM33 66h1v1h-1zM54 66h1v1h-1zM10 67h1v1h-1zM45 67h2v1h-2zM66 67h2v1h-2zM5 68h1v1h-1zM23 68h1v1h-1zM46 68h1v1h-1zM62 68h1v1h-1zM2 69h1v1h-1zM34 69h2v1h-2zM52 69h1v1h-1zM58 69h1v1h-1zM60 69h1v1h-1zM32 70h1v1h-1zM44 70h1v1h-1zM56 70h1v1h-1zM62 70h1v1h-1zM67 70h1v1h-1zM5 71h1v1h-1zM9 71h1v1h-1zM12 71h1v1h-1zM26 71h1v1h-1zM29 71h1v1h-1zM4 72h2v1h-2zM7 72h1v1h-1zM16 72h1v1h-1zM23 72h1v1h-1zM26 72h2v1h-2zM29 72h1v1h-1zM51 72h1v1h-1zM59 72h1v1h-1zM17 73h1v1h-1zM23 73h2v1h-2zM29 73h1v1h-1zM32 73h1v1h-1zM36 73h1v1h-1zM20 74h1v1h-1zM24 74h1v1h-1zM36 74h1v1h-1zM55 74h1v1h-1zM16 75h1v1h-1zM34 75h1v1h-1zM65 75h1v1h-1z"/>
<path fill="#eaf1f5" d="M13 0h2v1h-2zM39 0h1v1h-1zM48 0h2v1h-2zM65 0h1v1h-1zM0 1h1v1h-1zM6 1h1v1h-1zM9 1h1v1h-1zM13 1h1v1h-1zM17 1h1v1h-1zM33 1h2v1h-2zM38 1h2v1h-2zM49 1h1v1h-1zM62 1h1v1h-1zM7 2h1v1h-1zM20 2h1v1h-1zM40 2h1v1h-1zM46 2h1v1h-1zM43 3h1v1h-1zM50 3h1v1h-1zM58 3h2v1h-2zM63 3h1v1h-1zM2 4h1v1h-1zM13 4h1v1h-1zM25 4h1v1h-1zM31 4h2v1h-2zM34 4h1v1h-1zM45 4h2v1h-2zM62 4h1v1h-1zM64 4h2v1h-2zM4 5h1v1h-1zM14 5h1v1h-1zM36 5h1v1h-1zM47 5h1v1h-1zM54 5h1v1h-1zM66 5h1v1h-1zM11 6h1v1h-1zM16 6h1v1h-1zM25 6h1v1h-1zM41 6h3v1h-3zM49 6h1v1h-1zM56 6h1v1h-1zM8 7h1v1h-1zM13 7h1v1h-1zM16 7h1v1h-1zM33 7h1v1h-1zM41 7h1v1h-1zM5 8h1v1h-1zM21 8h1v1h-1zM39 8h1v1h-1zM44 8h1v1h-1zM48 8h1v1h-1zM53 8h1v1h-1zM57 8h1v1h-1zM59 8h2v1h-2zM65 8h2v1h-2zM25 9h1v1h-1zM47 9h1v1h-1zM65 9h1v1h-1zM1 10h1v1h-1zM5 10h1v1h-1zM7 10h1v1h-1zM35 10h1v1h-1zM38 10h1v1h-1zM40 10h2v1h-2zM45 10h3v1h-3zM52 10h2v1h-2zM55 10h1v1h-1zM0 11h1v1h-1zM5 11h1v1h-1zM15 11h1v1h-1zM18 11h1v1h-1zM25 11h1v1h-1zM41 11h1v1h-1zM1 12h1v1h-1zM30 12h1v1h-1zM32 12h1v1h-1zM60 12h1v1h-1zM33 13h1v1h-1zM45 13h1v1h-1zM47 13h2v1h-2zM54 13h1v1h-1zM64 13h1v1h-1zM19 14h1v1h-1zM40 14h1v1h-1zM43 14h1v1h-1zM56 14h1v1h-1zM67 14h1v1h-1zM4 15h1v1h-1zM12 15h1v1h-1zM18 15h1v1h-1zM35 15h1v1h-1zM46 15h1v1h-1zM48 15h1v1h-1zM56 15h2v1h-2zM15 16h1v1h-1zM22 16h1v1h-1zM25 16h1v1h-1zM31 16h1v1h-1zM39 16h1v1h-1zM48 16h2v1h-2zM55 16h1v1h-1zM57 16h1v1h-1zM59 16h1v1h-1zM62 16h1v1h-1zM0 17h1v1h-1zM17 17h2v1h-2zM31 17h1v1h-1zM38 17h1v1h-1zM55 17h1v1h-1zM57 17h1v1h-1zM62 17h1v1h-1zM12 18h1v1h-1zM21 18h1v1h-1zM33 18h1v1h-1zM38 18h1v1h-1zM43 18h1v1h-1zM63 18h1v1h-1zM3 19h3v1h-3zM21 19h1v1h-1zM0 20h1v1h-1zM7 20h1v1h-1zM22 20h1v1h-1zM48 20h1v1h-1zM53 20h1v1h-1zM4 21h1v1h-1zM10 21h1v1h-1zM14 21h1v1h-1zM40 21h1v1h-1zM47 21h1v1h-1zM14 22h1v1h-1zM36 22h1v1h-1zM38 22h1v1h-1zM44 22h1v1h-1zM55 22h1v1h-1zM60 22h1v1h-1zM63 22h1v1h-1zM3 23h1v1h-1zM34 23h1v1h-1zM39 23h1v1h-1zM42 23h1v1h-1zM61 23h1v1h-1zM63 23h1v1h-1zM65 23h2v1h-2zM5 24h1v1h-1zM37 24h1v1h-1zM39 24h1v1h-1zM48 24h1v1h-1zM10 25h1v1h-1zM12 25h1v1h-1zM20 25h1v1h-1zM41 25h1v1h-1zM44 25h1v1h-1zM65 25h1v1h-1zM18 26h1v1h-1zM31 26h1v1h-1zM43 26h1v1h-1zM46 26h1v1h-1zM13 27h1v1h-1zM32 27h1v1h-1zM42 27h1v1h-1zM46 27h1v1h-1zM63 27h1v1h-1zM15 28h1v1h-1zM18 28h1v1h-1zM46 28h1v1h-1zM3 29h1v1h-1zM7 29h1v1h-1zM23 29h1v1h-1zM46 29h1v1h-1zM62 29h1v1h-1zM67 29h1v1h-1zM3 30h1v1h-1zM16 30h1v1h-1zM39 31h3v1h-3zM56 31h1v1h-1zM59 31h1v1h-1zM62 31h1v1h-1zM6 32h1v1h-1zM11 32h1v1h-1zM17 32h1v1h-1zM31 32h2v1h-2zM41 32h1v1h-1zM55 32h1v1h-1zM7 33h1v1h-1zM13 33h1v1h-1zM17 33h1v1h-1zM31 33h1v1h-1zM53 33h1v1h-1zM6 34h1v1h-1zM11 34h1v1h-1zM15 34h1v1h-1zM18 34h1v1h-1zM22 34h1v1h-1zM31 34h1v1h-1zM45 34h1v1h-1zM59 34h1v1h-1zM63 34h1v1h-1zM41 35h1v1h-1zM49 35h1v1h-1zM54 35h1v1h-1zM6 36h1v1h-1zM11 36h1v1h-1zM13 36h1v1h-1zM17 36h1v1h-1zM22 36h1v1h-1zM39 36h1v1h-1zM41 36h1v1h-1zM58 36h2v1h-2zM64 36h1v1h-1zM66 36h1v1h-1zM1 37h1v1h-1zM24 37h1v1h-1zM30 37h1v1h-1zM32 37h2v1h-2zM42 37h1v1h-1zM49 37h1v1h-1zM62 37h2v1h-2zM67 37h1v1h-1zM8 38h1v1h-1zM12 38h1v1h-1zM26 38h1v1h-1zM52 38h1v1h-1zM0 39h1v1h-1zM31 39h1v1h-1zM35 39h1v1h-1zM61 39h1v1h-1zM14 40h1v1h-1zM16 40h1v1h-1zM18 40h1v1h-1zM24 40h2v1h-2zM49 40h1v1h-1zM53 40h1v1h-1zM65 40h2v1h-2zM17 41h1v1h-1zM52 41h1v1h-1zM58 41h1v1h-1zM60 41h1v1h-1zM63 41h1v1h-1zM33 42h1v1h-1zM47 42h1v1h-1zM10 43h1v1h-1zM21 43h1v1h-1zM23 43h1v1h-1zM31 43h1v1h-1zM34 43h1v1h-1zM37 43h1v1h-1zM50 43h1v1h-1zM54 43h1v1h-1zM67 43h1v1h-1zM11 44h1v1h-1zM13 44h1v1h-1zM17 44h1v1h-1zM21 44h1v1h-1zM34 44h1v1h-1zM49 44h2v1h-2zM11 45h1v1h-1zM30 45h1v1h-1zM40 45h1v1h-1zM44 45h1v1h-1zM49 45h1v1h-1zM22 46h1v1h-1zM3 47h1v1h-1zM6 47h1v1h-1zM17 47h1v1h-1zM42 47h1v1h-1zM51 47h1v1h-1zM57 47h1v1h-1zM59 47h1v1h-1zM8 48h1v1h-1zM10 48h1v1h-1zM13 48h1v1h-1zM17 48h1v1h-1zM22 48h1v1h-1zM28 48h1v1h-1zM63 48h1v1h-1zM67 48h1v1h-1zM62 49h1v1h-1zM3 50h1v1h-1zM17 50h1v1h-1zM21 50h1v1h-1zM36 50h1v1h-1zM43 50h1v1h-1zM45 50h1v1h-1zM51 50h1v1h-1zM54 50h2v1h-2zM6 51h1v1h-1zM14 51h3v1h-3zM20 51h1v1h-1zM30 51h1v1h-1zM42 51h1v1h-1zM3 52h1v1h-1zM20 52h1v1h-1zM23 52h1v1h-1zM26 52h1v1h-1zM43 52h1v1h-1zM61 52h1v1h-1zM65 52h1v1h-1zM15 53h1v1h-1zM19 53h1v1h-1zM31 53h1v1h-1zM3 54h1v1h-1zM11 54h1v1h-1zM29 54h1v1h-1zM57 54h1v1h-1zM61 54h1v1h-1zM64 54h1v1h-1zM5 55h2v1h-2zM9 55h1v1h-1zM15 55h1v1h-1zM42 55h1v1h-1zM44 55h1v1h-1zM48 55h1v1h-1zM57 55h1v1h-1zM65 55h1v1h-1zM2 56h1v1h-1zM6 56h1v1h-1zM28 56h1v1h-1zM34 56h2v1h-2zM57 56h1v1h-1zM65 56h1v1h-1zM8 57h1v1h-1zM10 57h1v1h-1zM22 57h1v1h-1zM46 57h1v1h-1zM48 57h1v1h-1zM50 57h1v1h-1zM60 57h1v1h-1zM24 58h1v1h-1zM50 58h1v1h-1zM59 58h1v1h-1zM62 58h1v1h-1zM23 59h1v1h-1zM29 59h1v1h-1zM5 60h1v1h-1zM19 60h1v1h-1zM24 60h1v1h-1zM31 60h1v1h-1zM54 60h1v1h-1zM62 60h1v1h-1zM2 61h1v1h-1zM21 61h1v1h-1zM50 61h1v1h-1zM52 61h1v1h-1zM2 62h1v1h-1zM6 62h1v1h-1zM15 62h1v1h-1zM19 62h1v1h-1zM38 62h1v1h-1zM40 62h1v1h-1zM48 62h1v1h-1zM51 62h2v1h-2zM59 62h1v1h-1zM14 64h1v1h-1zM48 64h2v1h-2zM62 64h1v1h-1zM12 65h1v1h-1zM17 65h1v1h-1zM43 65h1v1h-1zM53 65h1v1h-1zM57 65h1v1h-1zM4 66h1v1h-1zM10 66h1v1h-1zM24 66h1v1h-1zM26 66h1v1h-1zM47 66h1v1h-1zM58 66h1v1h-1zM7 67h1v1h-1zM11 67h1v1h-1zM35 67h1v1h-1zM39 67h1v1h-1zM53 67h1v1h-1zM3 68h1v1h-1zM12 68h1v1h-1zM21 68h2v1h-2zM28 68h1v1h-1zM33 68h1v1h-1zM36 68h1v1h-1zM48 68h1v1h-1zM53 68h1v1h-1zM11 69h1v1h-1zM17 69h3v1h-3zM56 69h1v1h-1zM61 69h1v1h-1zM4 70h1v1h-1zM8 70h1v1h-1zM10 70h1v1h-1zM12 70h1v1h-1zM21 70h1v1h-1zM46 70h1v1h-1zM1 71h2v1h-2zM7 71h1v1h-1zM17 71h1v1h-1zM21 71h1v1h-1zM27 71h2v1h-2zM46 71h1v1h-1zM53 71h1v1h-1zM18 72h1v1h-1zM20 72h1v1h-1zM22 72h1v1h-1zM46 72h1v1h-1zM58 72h1v1h-1zM61 72h1v1h-1zM5 73h1v1h-1zM8 73h2v1h-2zM28 73h1v1h-1zM44 73h1v1h-1zM60 73h1v1h-1zM7 74h1v1h-1zM10 74h1v1h-1zM13 74h1v1h-1zM18 74h1v1h-1zM23 74h1v1h-1zM26 74h1v1h-1zM31 74h1v1h-1zM43 74h1v1h-1zM46 74h1v1h-1zM54 74h1v1h-1zM59 74h2v1h-2zM7 75h1v1h-1zM17 75h1v1h-1zM39 75h1v1h-1zM43 75h1v1h-1zM45 75h1v1h-1zM66 75h1v1h-1z"/>
<path fill="#f9eee7" d="M12 0h1v1h-1zM22 0h1v1h-1zM24 0h1v1h-1zM29 0h1v1h-1zM50 0h1v1h-1zM56 0h1v1h-1zM60 0h1v1h-1zM64 0h1v1h-1zM5 1h1v1h-1zM10 1h1v1h-1zM23 1h1v1h-1zM48 1h1v1h-1zM53 1h1v1h-1zM63 1h1v1h-1zM2 2h1v1h-1zM9 2h2v1h-2zM18 2h1v1h-1zM24 2h1v1h-1zM33 2h1v1h-1zM41 2h1v1h-1zM49 2h1v1h-1zM52 2h2v1h-2zM55 2h1v1h-1zM63 2h1v1h-1zM2 3h2v1h-2zM6 3h1v1h-1zM8 3h2v1h-2zM27 3h1v1h-1zM33 3h1v1h-1zM36 3h1v1h-1zM51 3h1v1h-1zM62 3h1v1h-1zM64 3h1v1h-1zM7 4h2v1h-2zM20 4h1v1h-1zM29 4h2v1h-2zM6 5h1v1h-1zM11 5h1v1h-1zM13 5h1v1h-1zM16 5h1v1h-1zM59 5h1v1h-1zM2 7h1v1h-1zM14 7h1v1h-1zM31 7h1v1h-1zM57 7h1v1h-1zM59 7h1v1h-1zM61 7h1v1h-1zM67 7h1v1h-1zM17 8h1v1h-1zM24 9h1v1h-1zM29 9h1v1h-1zM35 9h1v1h-1zM40 9h1v1h-1zM64 9h1v1h-1zM6 10h1v1h-1zM10 10h1v1h-1zM14 10h1v1h-1zM19 10h4v1h-4zM33 10h1v1h-1zM49 10h1v1h-1zM54 10h1v1h-1zM63 10h1v1h-1zM2 11h1v1h-1zM8 11h1v1h-1zM10 11h1v1h-1zM38 11h1v1h-1zM60 11h2v1h-2zM64 11h1v1h-1zM15 12h1v1h-1zM21 12h1v1h-1zM31 12h1v1h-1zM42 12h1v1h-1zM48 12h1v1h-1zM55 12h1v1h-1zM59 12h1v1h-1zM67 12h1v1h-1zM6 13h1v1h-1zM10 13h1v1h-1zM16 13h1v1h-1zM20 13h1v1h-1zM34 13h1v1h-1zM49 13h1v1h-1zM1 14h1v1h-1zM9 14h1v1h-1zM30 14h1v1h-1zM42 14h1v1h-1zM59 14h1v1h-1zM0 15h1v1h-1zM2 15h2v1h-2zM9 15h1v1h-1zM24 15h1v1h-1zM34 15h1v1h-1zM55 15h1v1h-1zM2 16h1v1h-1zM16 16h1v1h-1zM42 16h1v1h-1zM47 16h1v1h-1zM56 16h1v1h-1zM58 16h1v1h-1zM2 17h1v1h-1zM10 17h1v1h-1zM20 17h1v1h-1zM22 17h1v1h-1zM54 17h1v1h-1zM31 18h1v1h-1zM37 18h1v1h-1zM48 18h1v1h-1zM59 18h2v1h-2zM67 18h1v1h-1zM10 19h1v1h-1zM22 19h1v1h-1zM40 19h1v1h-1zM60 19h1v1h-1zM62 19h1v1h-1zM64 19h1v1h-1zM67 19h1v1h-1zM6 20h1v1h-1zM12 20h1v1h-1zM19 20h1v1h-1zM35 20h1v1h-1zM62 20h1v1h-1zM67 20h1v1h-1zM2 21h1v1h-1zM19 21h1v1h-1zM29 21h1v1h-1zM46 21h1v1h-1zM52 21h1v1h-1zM62 21h1v1h-1zM2 22h1v1h-1zM27 22h1v1h-1zM43 22h1v1h-1zM49 22h1v1h-1zM51 22h1v1h-1zM67 22h1v1h-1zM44 23h1v1h-1zM48 23h1v1h-1zM51 23h1v1h-1zM0 24h1v1h-1zM12 24h1v1h-1zM25 24h1v1h-1zM34 24h1v1h-1zM50 24h1v1h-1zM53 24h1v1h-1zM62 24h1v1h-1zM21 25h2v1h-2zM30 25h1v1h-1zM59 25h1v1h-1zM61 25h1v1h-1zM67 25h1v1h-1zM10 26h1v1h-1zM13 26h1v1h-1zM17 26h1v1h-1zM35 26h1v1h-1zM47 26h1v1h-1zM49 26h1v1h-1zM53 26h1v1h-1zM57 26h1v1h-1zM0 27h1v1h-1zM6 27h1v1h-1zM18 27h1v1h-1zM21 27h1v1h-1zM41 27h1v1h-1zM44 27h2v1h-2zM66 27h2v1h-2zM1 28h1v1h-1zM13 28h1v1h-1zM32 28h2v1h-2zM37 28h1v1h-1zM45 28h1v1h-1zM51 28h2v1h-2zM55 28h1v1h-1zM0 29h1v1h-1zM9 29h1v1h-1zM14 29h1v1h-1zM34 29h1v1h-1zM42 29h1v1h-1zM48 29h1v1h-1zM21 30h2v1h-2zM45 30h1v1h-1zM48 30h1v1h-1zM56 30h1v1h-1zM12 31h1v1h-1zM28 31h1v1h-1zM31 31h1v1h-1zM67 31h1v1h-1zM14 32h1v1h-1zM16 32h1v1h-1zM21 32h1v1h-1zM37 32h1v1h-1zM54 32h1v1h-1zM59 32h2v1h-2zM67 32h1v1h-1zM6 33h1v1h-1zM10 33h1v1h-1zM21 33h1v1h-1zM36 33h2v1h-2zM55 33h2v1h-2zM61 33h1v1h-1zM2 34h1v1h-1zM16 34h1v1h-1zM23 34h1v1h-1zM34 34h1v1h-1zM53 34h1v1h-1zM60 34h1v1h-1zM67 34h1v1h-1zM24 35h1v1h-1zM33 35h1v1h-1zM37 35h1v1h-1zM42 35h1v1h-1zM46 35h2v1h-2zM50 35h1v1h-1zM57 35h1v1h-1zM62 35h3v1h-3zM1 36h1v1h-1zM18 36h1v1h-1zM30 36h1v1h-1zM34 36h1v1h-1zM49 36h1v1h-1zM51 36h1v1h-1zM61 36h1v1h-1zM2 37h1v1h-1zM6 37h1v1h-1zM39 37h1v1h-1zM50 37h1v1h-1zM61 37h1v1h-1zM65 37h1v1h-1zM39 38h1v1h-1zM50 38h2v1h-2zM59 38h1v1h-1zM64 38h2v1h-2zM3 39h1v1h-1zM15 39h1v1h-1zM19 39h1v1h-1zM21 39h1v1h-1zM26 39h1v1h-1zM49 39h1v1h-1zM56 39h1v1h-1zM62 39h2v1h-2zM66 39h1v1h-1zM3 40h2v1h-2zM22 40h1v1h-1zM26 40h1v1h-1zM33 40h1v1h-1zM41 40h1v1h-1zM50 40h1v1h-1zM2 41h1v1h-1zM22 41h1v1h-1zM39 41h1v1h-1zM42 41h1v1h-1zM49 41h2v1h-2zM2 42h1v1h-1zM12 42h1v1h-1zM21 42h1v1h-1zM42 42h1v1h-1zM53 42h1v1h-1zM19 43h1v1h-1zM27 43h1v1h-1zM44 43h1v1h-1zM46 43h1v1h-1zM56 43h1v1h-1zM64 43h2v1h-2zM6 44h1v1h-1zM15 44h1v1h-1zM20 44h1v1h-1zM48 44h1v1h-1zM51 44h1v1h-1zM55 44h1v1h-1zM64 44h2v1h-2zM26 45h1v1h-1zM45 45h1v1h-1zM61 45h2v1h-2zM9 46h1v1h-1zM32 46h2v1h-2zM46 46h1v1h-1zM61 46h1v1h-1zM2 47h1v1h-1zM21 47h1v1h-1zM25 47h1v1h-1zM29 47h1v1h-1zM37 48h1v1h-1zM47 48h1v1h-1zM51 48h1v1h-1zM0 49h1v1h-1zM8 49h1v1h-1zM27 49h1v1h-1zM32 49h1v1h-1zM54 49h1v1h-1zM65 49h1v1h-1zM2 50h1v1h-1zM14 50h2v1h-2zM22 50h1v1h-1zM38 50h1v1h-1zM57 50h1v1h-1zM0 51h1v1h-1zM7 51h1v1h-1zM17 51h3v1h-3zM46 51h2v1h-2zM2 52h1v1h-1zM4 52h1v1h-1zM6 52h2v1h-2zM18 52h1v1h-1zM29 52h1v1h-1zM41 52h2v1h-2zM46 52h2v1h-2zM49 52h3v1h-3zM5 53h1v1h-1zM18 53h1v1h-1zM21 53h1v1h-1zM0 54h1v1h-1zM6 54h1v1h-1zM9 54h1v1h-1zM14 54h1v1h-1zM23 54h1v1h-1zM25 54h1v1h-1zM55 54h2v1h-2zM0 55h1v1h-1zM3 55h1v1h-1zM27 55h1v1h-1zM29 55h1v1h-1zM33 55h1v1h-1zM49 55h2v1h-2zM61 55h2v1h-2zM4 56h1v1h-1zM60 56h1v1h-1zM67 56h1v1h-1zM1 57h1v1h-1zM16 57h1v1h-1zM31 57h1v1h-1zM34 57h1v1h-1zM40 57h1v1h-1zM47 57h1v1h-1zM54 57h1v1h-1zM62 57h1v1h-1zM10 58h1v1h-1zM34 58h1v1h-1zM36 58h1v1h-1zM46 58h1v1h-1zM6 59h1v1h-1zM36 59h2v1h-2zM46 59h1v1h-1zM52 59h1v1h-1zM56 59h1v1h-1zM9 60h1v1h-1zM11 60h1v1h-1zM21 60h1v1h-1zM26 60h1v1h-1zM28 60h3v1h-3zM32 60h1v1h-1zM46 60h1v1h-1zM5 61h1v1h-1zM9 61h1v1h-1zM23 61h1v1h-1zM25 61h1v1h-1zM37 61h1v1h-1zM40 61h1v1h-1zM44 61h1v1h-1zM49 61h1v1h-1zM54 61h1v1h-1zM57 61h2v1h-2zM60 61h1v1h-1zM36 62h1v1h-1zM44 62h1v1h-1zM46 62h1v1h-1zM6 63h1v1h-1zM12 63h1v1h-1zM16 63h1v1h-1zM35 63h1v1h-1zM58 63h1v1h-1zM63 63h1v1h-1zM0 64h1v1h-1zM18 64h1v1h-1zM35 64h1v1h-1zM52 64h1v1h-1zM61 64h1v1h-1zM63 64h1v1h-1zM6 65h2v1h-2zM13 65h1v1h-1zM16 65h1v1h-1zM25 65h1v1h-1zM1 66h1v1h-1zM8 66h1v1h-1zM12 66h1v1h-1zM14 66h1v1h-1zM18 66h1v1h-1zM23 66h1v1h-1zM31 66h1v1h-1zM38 66h1v1h-1zM52 66h1v1h-1zM60 66h1v1h-1zM66 66h1v1h-1zM14 67h1v1h-1zM16 67h2v1h-2zM21 67h1v1h-1zM23 67h1v1h-1zM31 67h1v1h-1zM36 67h1v1h-1zM48 67h1v1h-1zM52 67h1v1h-1zM56 67h2v1h-2zM62 67h1v1h-1zM64 67h1v1h-1zM6 68h1v1h-1zM38 68h1v1h-1zM40 68h1v1h-1zM49 68h1v1h-1zM64 68h2v1h-2zM7 69h1v1h-1zM12 69h1v1h-1zM30 69h1v1h-1zM40 69h1v1h-1zM3 70h1v1h-1zM36 70h2v1h-2zM41 70h3v1h-3zM45 70h1v1h-1zM0 71h1v1h-1zM10 71h1v1h-1zM24 71h1v1h-1zM35 71h1v1h-1zM40 71h1v1h-1zM45 71h1v1h-1zM57 71h1v1h-1zM59 71h1v1h-1zM61 71h1v1h-1zM0 72h1v1h-1zM12 72h2v1h-2zM24 72h1v1h-1zM36 72h1v1h-1zM41 72h1v1h-1zM45 72h1v1h-1zM52 72h1v1h-1zM0 73h1v1h-1zM20 73h1v1h-1zM30 73h1v1h-1zM42 73h1v1h-1zM47 73h3v1h-3zM65 73h1v1h-1zM21 74h1v1h-1zM28 74h1v1h-1zM53 74h1v1h-1zM64 74h1v1h-1zM5 75h2v1h-2zM24 75h1v1h-1zM37 75h1v1h-1zM64 75h1v1h-1z"/>
<path fill="#fbe4d6" d="M8 0h1v1h-1zM23 0h1v1h-1zM31 0h1v1h-1zM53 0h1v1h-1zM55 0h1v1h-1zM21 1h1v1h-1zM26 1h1v1h-1zM31 1h1v1h-1zM59 1h1v1h-1zM1 2h1v1h-1zM12 2h1v1h-1zM17 2h1v1h-1zM22 2h1v1h-1zM38 2h2v1h-2zM67 2h1v1h-1zM0 3h2v1h-2zM13 3h1v1h-1zM19 3h1v1h-1zM24 3h1v1h-1zM30 3h3v1h-3zM37 3h1v1h-1zM42 3h1v1h-1zM60 3h1v1h-1zM4 4h1v1h-1zM37 4h1v1h-1zM42 4h1v1h-1zM55 4h1v1h-1zM60 4h1v1h-1zM1 6h1v1h-1zM3 6h1v1h-1zM38 6h1v1h-1zM48 6h1v1h-1zM54 6h1v1h-1zM59 6h1v1h-1zM61 6h1v1h-1zM66 6h1v1h-1zM1 7h1v1h-1zM7 7h1v1h-1zM18 7h1v1h-1zM39 7h1v1h-1zM42 7h2v1h-2zM1 8h1v1h-1zM10 8h1v1h-1zM23 8h1v1h-1zM26 8h1v1h-1zM28 8h1v1h-1zM38 8h1v1h-1zM41 8h1v1h-1zM2 9h1v1h-1zM10 9h1v1h-1zM12 9h1v1h-1zM33 9h1v1h-1zM51 9h1v1h-1zM55 9h1v1h-1zM63 9h1v1h-1zM13 10h1v1h-1zM18 10h1v1h-1zM26 10h1v1h-1zM28 10h1v1h-1zM32 10h1v1h-1zM37 10h1v1h-1zM44 10h1v1h-1zM62 10h1v1h-1zM65 10h1v1h-1zM23 11h2v1h-2zM26 11h1v1h-1zM30 11h1v1h-1zM67 11h1v1h-1zM3 12h1v1h-1zM9 12h1v1h-1zM65 12h1v1h-1zM2 13h1v1h-1zM7 13h1v1h-1zM13 13h2v1h-2zM38 13h2v1h-2zM59 13h1v1h-1zM66 13h1v1h-1zM23 14h1v1h-1zM51 14h2v1h-2zM10 15h1v1h-1zM30 15h1v1h-1zM53 15h1v1h-1zM14 16h1v1h-1zM17 16h1v1h-1zM20 16h1v1h-1zM33 16h1v1h-1zM36 16h1v1h-1zM43 16h1v1h-1zM8 17h1v1h-1zM42 17h1v1h-1zM52 17h1v1h-1zM61 17h1v1h-1zM63 17h1v1h-1zM22 18h2v1h-2zM27 18h1v1h-1zM32 18h1v1h-1zM42 18h1v1h-1zM52 18h2v1h-2zM56 18h1v1h-1zM20 19h1v1h-1zM31 19h1v1h-1zM39 19h1v1h-1zM61 19h1v1h-1zM1 20h2v1h-2zM8 20h1v1h-1zM57 20h1v1h-1zM6 21h1v1h-1zM13 21h1v1h-1zM21 21h1v1h-1zM27 21h1v1h-1zM39 21h1v1h-1zM1 22h1v1h-1zM5 22h1v1h-1zM23 22h1v1h-1zM31 22h1v1h-1zM33 22h2v1h-2zM41 22h2v1h-2zM54 22h1v1h-1zM61 22h1v1h-1zM22 23h1v1h-1zM24 23h1v1h-1zM26 23h1v1h-1zM30 23h1v1h-1zM57 23h1v1h-1zM59 23h1v1h-1zM64 23h1v1h-1zM7 24h1v1h-1zM26 24h1v1h-1zM42 24h1v1h-1zM57 24h1v1h-1zM67 24h1v1h-1zM4 25h1v1h-1zM7 25h1v1h-1zM28 25h1v1h-1zM33 25h1v1h-1zM37 25h2v1h-2zM53 25h1v1h-1zM55 25h1v1h-1zM6 26h1v1h-1zM12 26h1v1h-1zM24 26h1v1h-1zM38 26h1v1h-1zM48 26h1v1h-1zM56 26h1v1h-1zM63 26h1v1h-1zM67 26h1v1h-1zM1 27h1v1h-1zM3 27h1v1h-1zM31 27h1v1h-1zM37 27h1v1h-1zM57 27h1v1h-1zM59 27h1v1h-1zM2 28h2v1h-2zM19 28h1v1h-1zM22 28h1v1h-1zM24 28h1v1h-1zM27 28h1v1h-1zM30 28h1v1h-1zM34 28h1v1h-1zM40 28h2v1h-2zM48 28h1v1h-1zM56 28h1v1h-1zM65 28h1v1h-1zM25 29h1v1h-1zM28 29h1v1h-1zM41 29h1v1h-1zM53 29h1v1h-1zM10 30h1v1h-1zM18 30h1v1h-1zM31 30h1v1h-1zM39 30h1v1h-1zM55 30h1v1h-1zM60 30h1v1h-1zM1 31h1v1h-1zM23 31h1v1h-1zM33 31h1v1h-1zM52 31h1v1h-1zM9 32h1v1h-1zM20 32h1v1h-1zM22 32h1v1h-1zM25 32h1v1h-1zM52 32h1v1h-1zM41 33h2v1h-2zM51 33h1v1h-1zM21 34h1v1h-1zM29 34h1v1h-1zM38 34h1v1h-1zM50 34h1v1h-1zM1 35h1v1h-1zM6 35h1v1h-1zM29 35h1v1h-1zM0 36h1v1h-1zM8 36h2v1h-2zM33 36h1v1h-1zM37 36h1v1h-1zM40 36h1v1h-1zM42 36h1v1h-1zM53 36h1v1h-1zM19 37h1v1h-1zM25 37h1v1h-1zM41 37h1v1h-1zM48 37h1v1h-1zM51 37h2v1h-2zM55 37h1v1h-1zM66 37h1v1h-1zM17 38h2v1h-2zM29 38h1v1h-1zM54 38h1v1h-1zM7 39h1v1h-1zM12 39h2v1h-2zM17 39h1v1h-1zM1 40h1v1h-1zM23 40h1v1h-1zM32 40h1v1h-1zM37 40h1v1h-1zM56 40h1v1h-1zM63 40h1v1h-1zM31 41h1v1h-1zM54 41h1v1h-1zM7 42h1v1h-1zM44 42h1v1h-1zM57 42h1v1h-1zM7 43h1v1h-1zM13 43h1v1h-1zM29 43h1v1h-1zM36 43h1v1h-1zM39 43h2v1h-2zM12 44h1v1h-1zM18 44h1v1h-1zM23 44h1v1h-1zM40 44h1v1h-1zM45 44h1v1h-1zM57 44h2v1h-2zM67 44h1v1h-1zM1 45h2v1h-2zM15 45h1v1h-1zM17 45h1v1h-1zM19 45h1v1h-1zM50 45h1v1h-1zM54 45h1v1h-1zM64 45h1v1h-1zM2 46h1v1h-1zM5 46h1v1h-1zM13 46h1v1h-1zM18 46h1v1h-1zM26 46h1v1h-1zM29 46h2v1h-2zM38 46h2v1h-2zM42 46h1v1h-1zM47 46h1v1h-1zM50 46h1v1h-1zM53 46h1v1h-1zM62 46h1v1h-1zM9 47h1v1h-1zM14 47h1v1h-1zM18 47h1v1h-1zM33 47h1v1h-1zM63 47h1v1h-1zM6 48h1v1h-1zM41 48h1v1h-1zM52 48h1v1h-1zM58 48h2v1h-2zM61 48h1v1h-1zM6 49h2v1h-2zM15 49h1v1h-1zM19 49h1v1h-1zM35 49h1v1h-1zM57 49h1v1h-1zM9 50h1v1h-1zM29 50h2v1h-2zM32 50h1v1h-1zM4 51h1v1h-1zM37 51h1v1h-1zM50 51h1v1h-1zM54 51h1v1h-1zM61 51h2v1h-2zM67 51h1v1h-1zM5 52h1v1h-1zM37 52h1v1h-1zM0 53h1v1h-1zM10 53h1v1h-1zM13 53h1v1h-1zM26 53h1v1h-1zM39 53h1v1h-1zM48 53h1v1h-1zM50 53h1v1h-1zM61 53h1v1h-1zM63 53h1v1h-1zM66 53h1v1h-1zM5 54h1v1h-1zM49 54h1v1h-1zM51 54h1v1h-1zM66 54h1v1h-1zM26 55h1v1h-1zM38 55h1v1h-1zM56 55h1v1h-1zM3 56h1v1h-1zM8 56h2v1h-2zM12 56h2v1h-2zM22 56h1v1h-1zM26 56h1v1h-1zM32 56h1v1h-1zM2 57h1v1h-1zM6 57h1v1h-1zM41 57h1v1h-1zM44 57h1v1h-1zM52 57h1v1h-1zM64 57h1v1h-1zM67 57h1v1h-1zM3 58h1v1h-1zM16 58h1v1h-1zM21 58h1v1h-1zM31 58h1v1h-1zM53 58h1v1h-1zM64 58h1v1h-1zM10 59h1v1h-1zM27 59h1v1h-1zM33 59h1v1h-1zM42 59h1v1h-1zM4 60h1v1h-1zM50 60h1v1h-1zM60 60h2v1h-2zM63 60h2v1h-2zM6 61h1v1h-1zM30 61h1v1h-1zM41 61h1v1h-1zM53 61h1v1h-1zM64 61h2v1h-2zM24 62h1v1h-1zM28 62h1v1h-1zM45 62h1v1h-1zM10 63h1v1h-1zM22 63h1v1h-1zM29 63h1v1h-1zM38 63h1v1h-1zM45 63h1v1h-1zM49 63h1v1h-1zM52 63h1v1h-1zM56 63h1v1h-1zM65 63h2v1h-2zM22 64h1v1h-1zM28 64h1v1h-1zM42 64h1v1h-1zM10 65h1v1h-1zM15 65h1v1h-1zM22 65h1v1h-1zM27 65h1v1h-1zM47 65h1v1h-1zM54 65h1v1h-1zM65 65h1v1h-1zM67 65h1v1h-1zM3 66h1v1h-1zM15 66h1v1h-1zM17 66h1v1h-1zM21 66h1v1h-1zM25 66h1v1h-1zM42 66h1v1h-1zM50 66h1v1h-1zM53 66h1v1h-1zM59 66h1v1h-1zM64 66h1v1h-1zM2 67h1v1h-1zM12 67h1v1h-1zM55 67h1v1h-1zM58 67h1v1h-1zM61 67h1v1h-1zM19 68h1v1h-1zM26 68h1v1h-1zM43 68h2v1h-2zM66 68h1v1h-1zM9 69h2v1h-2zM13 69h1v1h-1zM16 69h1v1h-1zM22 69h1v1h-1zM24 69h1v1h-1zM28 69h1v1h-1zM44 69h1v1h-1zM63 69h1v1h-1zM67 69h1v1h-1zM7 70h1v1h-1zM18 70h1v1h-1zM24 70h1v1h-1zM38 70h1v1h-1zM6 71h1v1h-1zM8 71h1v1h-1zM43 71h1v1h-1zM62 71h1v1h-1zM25 72h1v1h-1zM60 72h1v1h-1zM67 72h1v1h-1zM13 73h1v1h-1zM19 73h1v1h-1zM41 73h1v1h-1zM50 73h1v1h-1zM52 73h1v1h-1zM22 74h1v1h-1zM29 74h2v1h-2zM40 74h1v1h-1zM52 74h1v1h-1zM8 75h1v1h-1zM22 75h1v1h-1zM27 75h1v1h-1zM38 75h1v1h-1zM51 75h1v1h-1z"/>
<path fill="#fcd7c2" d="M1 0h1v1h-1zM6 0h1v1h-1zM10 0h1v1h-1zM18 0h1v1h-1zM20 0h1v1h-1zM34 0h1v1h-1zM59 0h1v1h-1zM1 1h1v1h-1zM41 1h1v1h-1zM50 1h1v1h-1zM54 1h1v1h-1zM61 1h1v1h-1zM67 1h1v1h-1zM0 2h1v1h-1zM8 2h1v1h-1zM25 2h1v1h-1zM37 2h1v1h-1zM48 2h1v1h-1zM56 2h1v1h-1zM41 3h1v1h-1zM66 3h1v1h-1zM19 4h1v1h-1zM38 4h1v1h-1zM50 4h1v1h-1zM20 5h2v1h-2zM25 5h1v1h-1zM31 5h1v1h-1zM53 5h1v1h-1zM61 5h4v1h-4zM0 6h1v1h-1zM19 6h1v1h-1zM22 6h1v1h-1zM33 6h1v1h-1zM57 6h1v1h-1zM64 6h2v1h-2zM9 7h1v1h-1zM25 7h1v1h-1zM44 7h1v1h-1zM49 7h2v1h-2zM53 7h2v1h-2zM66 7h1v1h-1zM29 8h1v1h-1zM52 8h1v1h-1zM11 9h1v1h-1zM19 9h1v1h-1zM22 9h1v1h-1zM38 9h1v1h-1zM48 9h2v1h-2zM60 9h1v1h-1zM24 10h1v1h-1zM27 10h1v1h-1zM30 10h1v1h-1zM42 10h1v1h-1zM64 10h1v1h-1zM37 11h1v1h-1zM40 11h1v1h-1zM48 11h1v1h-1zM52 11h1v1h-1zM62 11h2v1h-2zM5 12h1v1h-1zM23 12h1v1h-1zM33 12h1v1h-1zM37 12h1v1h-1zM1 13h1v1h-1zM18 13h1v1h-1zM25 13h1v1h-1zM37 13h1v1h-1zM46 13h1v1h-1zM60 13h1v1h-1zM2 14h1v1h-1zM10 14h1v1h-1zM34 14h1v1h-1zM1 15h1v1h-1zM19 15h1v1h-1zM37 15h1v1h-1zM43 15h1v1h-1zM51 15h2v1h-2zM62 15h1v1h-1zM37 16h1v1h-1zM63 16h1v1h-1zM29 17h1v1h-1zM37 17h1v1h-1zM49 17h1v1h-1zM0 18h2v1h-2zM24 18h1v1h-1zM26 19h1v1h-1zM52 19h1v1h-1zM39 20h1v1h-1zM46 20h1v1h-1zM54 20h1v1h-1zM59 20h1v1h-1zM1 21h1v1h-1zM7 21h1v1h-1zM23 21h1v1h-1zM53 21h1v1h-1zM56 21h1v1h-1zM61 21h1v1h-1zM4 22h1v1h-1zM20 22h1v1h-1zM26 22h1v1h-1zM29 22h1v1h-1zM37 22h1v1h-1zM48 22h1v1h-1zM59 22h1v1h-1zM2 23h1v1h-1zM9 23h1v1h-1zM27 23h1v1h-1zM50 23h1v1h-1zM23 24h2v1h-2zM27 24h2v1h-2zM30 24h1v1h-1zM60 24h2v1h-2zM64 24h1v1h-1zM1 25h2v1h-2zM26 25h1v1h-1zM35 25h1v1h-1zM39 25h1v1h-1zM42 25h1v1h-1zM64 25h1v1h-1zM66 25h1v1h-1zM7 26h1v1h-1zM33 26h1v1h-1zM50 26h1v1h-1zM10 27h1v1h-1zM24 27h1v1h-1zM29 27h1v1h-1zM36 27h1v1h-1zM54 27h1v1h-1zM56 27h1v1h-1zM61 27h1v1h-1zM64 27h1v1h-1zM21 28h1v1h-1zM23 28h1v1h-1zM29 28h1v1h-1zM31 28h1v1h-1zM42 28h1v1h-1zM50 28h1v1h-1zM19 29h1v1h-1zM30 29h1v1h-1zM36 29h2v1h-2zM39 29h1v1h-1zM47 29h1v1h-1zM57 29h1v1h-1zM37 30h1v1h-1zM41 30h1v1h-1zM63 30h1v1h-1zM10 31h1v1h-1zM38 31h1v1h-1zM57 31h1v1h-1zM10 32h1v1h-1zM23 32h1v1h-1zM26 32h1v1h-1zM30 32h1v1h-1zM50 32h2v1h-2zM53 32h1v1h-1zM57 32h1v1h-1zM64 32h1v1h-1zM2 33h1v1h-1zM9 33h1v1h-1zM48 33h1v1h-1zM54 33h1v1h-1zM59 33h1v1h-1zM20 34h1v1h-1zM24 34h1v1h-1zM44 34h1v1h-1zM49 34h1v1h-1zM57 34h1v1h-1zM66 34h1v1h-1zM9 35h1v1h-1zM18 35h1v1h-1zM40 35h1v1h-1zM10 36h1v1h-1zM20 36h1v1h-1zM50 36h1v1h-1zM56 36h1v1h-1zM21 37h1v1h-1zM26 37h2v1h-2zM54 37h1v1h-1zM56 37h1v1h-1zM10 38h1v1h-1zM24 38h1v1h-1zM34 38h1v1h-1zM41 38h1v1h-1zM47 38h1v1h-1zM8 39h2v1h-2zM14 39h1v1h-1zM28 39h1v1h-1zM31 40h1v1h-1zM42 40h1v1h-1zM57 40h1v1h-1zM59 40h1v1h-1zM26 41h1v1h-1zM33 41h1v1h-1zM61 41h1v1h-1zM66 41h1v1h-1zM10 42h1v1h-1zM13 42h1v1h-1zM27 42h2v1h-2zM35 42h1v1h-1zM49 42h1v1h-1zM60 42h1v1h-1zM66 42h1v1h-1zM2 43h1v1h-1zM25 43h1v1h-1zM52 43h2v1h-2zM61 43h2v1h-2zM1 44h1v1h-1zM3 44h1v1h-1zM35 44h1v1h-1zM43 44h2v1h-2zM60 44h1v1h-1zM16 45h1v1h-1zM18 45h1v1h-1zM23 45h1v1h-1zM27 45h1v1h-1zM31 45h1v1h-1zM43 45h1v1h-1zM65 45h1v1h-1zM67 45h1v1h-1zM15 46h1v1h-1zM19 46h1v1h-1zM40 46h2v1h-2zM44 46h1v1h-1zM57 46h1v1h-1zM12 47h1v1h-1zM19 47h1v1h-1zM26 47h1v1h-1zM36 47h1v1h-1zM53 47h1v1h-1zM67 47h1v1h-1zM11 48h2v1h-2zM15 48h1v1h-1zM24 48h1v1h-1zM39 48h1v1h-1zM43 48h1v1h-1zM2 49h1v1h-1zM12 49h2v1h-2zM29 49h1v1h-1zM63 49h2v1h-2zM10 50h1v1h-1zM23 50h1v1h-1zM50 50h1v1h-1zM59 50h1v1h-1zM39 51h1v1h-1zM56 51h1v1h-1zM9 52h1v1h-1zM13 52h1v1h-1zM19 52h1v1h-1zM21 52h1v1h-1zM28 52h1v1h-1zM40 52h1v1h-1zM2 53h1v1h-1zM8 53h1v1h-1zM24 53h2v1h-2zM42 53h1v1h-1zM65 53h1v1h-1zM24 54h1v1h-1zM27 54h1v1h-1zM35 54h1v1h-1zM43 54h1v1h-1zM48 54h1v1h-1zM58 54h1v1h-1zM11 55h1v1h-1zM37 55h1v1h-1zM31 56h1v1h-1zM50 56h1v1h-1zM55 56h1v1h-1zM3 57h1v1h-1zM12 57h1v1h-1zM49 57h1v1h-1zM55 57h1v1h-1zM61 57h1v1h-1zM2 58h1v1h-1zM4 58h1v1h-1zM20 58h1v1h-1zM22 58h1v1h-1zM41 58h1v1h-1zM44 58h2v1h-2zM51 58h1v1h-1zM58 58h1v1h-1zM61 58h1v1h-1zM14 59h1v1h-1zM19 59h1v1h-1zM22 59h1v1h-1zM25 59h1v1h-1zM48 59h1v1h-1zM63 59h1v1h-1zM1 60h1v1h-1zM10 60h1v1h-1zM13 60h1v1h-1zM20 60h1v1h-1zM48 60h1v1h-1zM57 60h1v1h-1zM67 60h1v1h-1zM15 61h1v1h-1zM32 61h1v1h-1zM4 62h1v1h-1zM9 62h1v1h-1zM49 62h2v1h-2zM8 63h1v1h-1zM28 63h1v1h-1zM55 63h1v1h-1zM57 63h1v1h-1zM3 64h1v1h-1zM46 64h1v1h-1zM50 64h1v1h-1zM56 64h1v1h-1zM21 65h1v1h-1zM37 65h1v1h-1zM7 66h1v1h-1zM13 66h1v1h-1zM36 66h1v1h-1zM46 66h1v1h-1zM62 66h1v1h-1zM13 67h1v1h-1zM47 67h1v1h-1zM51 67h1v1h-1zM59 67h1v1h-1zM9 68h2v1h-2zM14 68h1v1h-1zM20 68h1v1h-1zM30 68h1v1h-1zM35 68h1v1h-1zM39 68h1v1h-1zM54 68h1v1h-1zM57 68h1v1h-1zM20 69h1v1h-1zM42 69h1v1h-1zM47 69h2v1h-2zM50 69h2v1h-2zM55 69h1v1h-1zM6 70h1v1h-1zM16 70h1v1h-1zM52 70h2v1h-2zM55 70h1v1h-1zM59 70h1v1h-1zM63 70h1v1h-1zM11 71h1v1h-1zM51 71h1v1h-1zM10 73h1v1h-1zM27 73h1v1h-1zM46 73h1v1h-1zM41 74h1v1h-1zM45 74h1v1h-1zM48 74h1v1h-1zM65 74h1v1h-1zM40 75h1v1h-1zM48 75h2v1h-2zM56 75h1v1h-1zM63 75h1v1h-1z"/>
<path fill="#f8bfa4" d="M51 0h1v1h-1zM57 0h1v1h-1zM19 1h1v1h-1zM22 1h1v1h-1zM27 1h1v1h-1zM37 1h1v1h-1zM40 1h1v1h-1zM28 2h1v1h-1zM51 2h1v1h-1zM64 2h1v1h-1zM18 3h1v1h-1zM67 3h1v1h-1zM17 4h1v1h-1zM24 4h1v1h-1zM61 4h1v1h-1zM1 5h1v1h-1zM8 5h1v1h-1zM19 5h1v1h-1zM23 5h2v1h-2zM42 5h1v1h-1zM51 5h1v1h-1zM2 6h1v1h-1zM24 6h1v1h-1zM34 6h1v1h-1zM51 6h2v1h-2zM21 7h1v1h-1zM26 7h1v1h-1zM46 7h1v1h-1zM48 7h1v1h-1zM51 7h1v1h-1zM7 8h1v1h-1zM50 8h1v1h-1zM54 8h1v1h-1zM61 8h1v1h-1zM3 9h1v1h-1zM6 9h1v1h-1zM20 9h2v1h-2zM23 9h1v1h-1zM37 9h1v1h-1zM59 9h1v1h-1zM57 10h1v1h-1zM27 11h1v1h-1zM50 11h1v1h-1zM54 11h1v1h-1zM27 12h1v1h-1zM29 12h1v1h-1zM39 12h1v1h-1zM52 12h1v1h-1zM54 12h1v1h-1zM31 13h1v1h-1zM61 13h1v1h-1zM16 14h1v1h-1zM21 14h1v1h-1zM28 14h1v1h-1zM7 15h1v1h-1zM21 15h1v1h-1zM42 15h1v1h-1zM59 15h1v1h-1zM65 15h1v1h-1zM23 16h1v1h-1zM34 16h1v1h-1zM54 16h1v1h-1zM64 16h1v1h-1zM66 16h1v1h-1zM9 17h1v1h-1zM26 17h1v1h-1zM28 17h1v1h-1zM34 17h1v1h-1zM53 17h1v1h-1zM9 18h1v1h-1zM18 18h1v1h-1zM29 18h1v1h-1zM51 18h1v1h-1zM18 19h2v1h-2zM24 19h1v1h-1zM29 19h1v1h-1zM60 20h1v1h-1zM8 21h1v1h-1zM37 21h1v1h-1zM6 22h1v1h-1zM57 22h1v1h-1zM21 23h1v1h-1zM28 23h2v1h-2zM52 23h1v1h-1zM1 24h1v1h-1zM21 24h1v1h-1zM54 24h1v1h-1zM40 25h1v1h-1zM50 25h1v1h-1zM21 26h1v1h-1zM51 26h1v1h-1zM2 27h1v1h-1zM22 27h1v1h-1zM25 27h1v1h-1zM30 27h1v1h-1zM60 27h1v1h-1zM28 28h1v1h-1zM20 29h1v1h-1zM26 29h2v1h-2zM4 30h1v1h-1zM34 31h1v1h-1zM34 32h1v1h-1zM61 32h1v1h-1zM0 33h1v1h-1zM19 33h1v1h-1zM22 33h3v1h-3zM28 33h1v1h-1zM50 33h1v1h-1zM62 33h1v1h-1zM27 34h1v1h-1zM37 34h1v1h-1zM39 34h1v1h-1zM48 34h1v1h-1zM54 34h1v1h-1zM10 35h1v1h-1zM20 35h2v1h-2zM2 36h1v1h-1zM29 36h1v1h-1zM52 36h1v1h-1zM60 36h1v1h-1zM36 37h1v1h-1zM64 37h1v1h-1zM22 38h1v1h-1zM27 38h1v1h-1zM61 38h1v1h-1zM22 39h1v1h-1zM30 39h1v1h-1zM34 39h1v1h-1zM39 39h1v1h-1zM42 39h1v1h-1zM48 39h1v1h-1zM52 39h1v1h-1zM60 39h1v1h-1zM34 40h1v1h-1zM54 40h2v1h-2zM9 41h1v1h-1zM23 41h1v1h-1zM30 41h1v1h-1zM59 41h1v1h-1zM6 42h1v1h-1zM11 42h1v1h-1zM18 42h1v1h-1zM29 42h1v1h-1zM52 42h1v1h-1zM9 43h1v1h-1zM20 43h1v1h-1zM35 43h1v1h-1zM38 43h1v1h-1zM41 43h1v1h-1zM10 44h1v1h-1zM14 44h1v1h-1zM25 44h1v1h-1zM46 44h1v1h-1zM63 44h1v1h-1zM13 45h1v1h-1zM46 45h1v1h-1zM58 45h1v1h-1zM1 46h1v1h-1zM8 46h1v1h-1zM37 46h1v1h-1zM55 46h1v1h-1zM59 46h1v1h-1zM66 46h1v1h-1zM1 47h1v1h-1zM28 47h1v1h-1zM47 47h1v1h-1zM50 47h1v1h-1zM55 47h1v1h-1zM61 47h1v1h-1zM5 48h1v1h-1zM18 48h1v1h-1zM31 48h2v1h-2zM48 48h1v1h-1zM26 49h1v1h-1zM30 49h1v1h-1zM33 49h1v1h-1zM40 49h1v1h-1zM44 50h1v1h-1zM3 51h1v1h-1zM38 51h1v1h-1zM15 52h1v1h-1zM55 52h1v1h-1zM67 52h1v1h-1zM11 53h1v1h-1zM47 53h1v1h-1zM52 53h2v1h-2zM59 53h1v1h-1zM7 54h1v1h-1zM13 54h1v1h-1zM16 54h2v1h-2zM33 54h2v1h-2zM45 54h1v1h-1zM21 55h1v1h-1zM31 55h1v1h-1zM46 55h1v1h-1zM64 55h1v1h-1zM5 56h1v1h-1zM10 56h1v1h-1zM24 56h1v1h-1zM29 56h1v1h-1zM47 56h1v1h-1zM51 56h1v1h-1zM21 57h1v1h-1zM30 57h1v1h-1zM35 57h1v1h-1zM38 57h1v1h-1zM18 58h1v1h-1zM25 58h1v1h-1zM3 59h1v1h-1zM26 59h1v1h-1zM35 59h1v1h-1zM45 59h1v1h-1zM61 59h1v1h-1zM3 60h1v1h-1zM12 60h1v1h-1zM33 60h1v1h-1zM47 60h1v1h-1zM52 60h1v1h-1zM11 61h1v1h-1zM24 61h1v1h-1zM47 61h1v1h-1zM61 61h1v1h-1zM34 62h1v1h-1zM60 62h2v1h-2zM23 63h1v1h-1zM64 63h1v1h-1zM7 64h1v1h-1zM24 64h1v1h-1zM44 64h2v1h-2zM53 64h2v1h-2zM57 64h1v1h-1zM8 65h1v1h-1zM42 65h1v1h-1zM46 65h1v1h-1zM51 65h1v1h-1zM63 65h1v1h-1zM19 66h1v1h-1zM29 66h1v1h-1zM43 66h1v1h-1zM51 66h1v1h-1zM56 66h2v1h-2zM1 68h1v1h-1zM24 68h1v1h-1zM29 68h1v1h-1zM34 68h1v1h-1zM45 68h1v1h-1zM60 68h1v1h-1zM63 68h1v1h-1zM21 69h1v1h-1zM29 69h1v1h-1zM65 69h1v1h-1zM2 70h1v1h-1zM28 70h1v1h-1zM50 70h1v1h-1zM41 71h1v1h-1zM47 71h1v1h-1zM52 71h1v1h-1zM54 71h2v1h-2zM15 72h1v1h-1zM31 72h1v1h-1zM44 72h1v1h-1zM15 73h1v1h-1zM31 73h1v1h-1zM39 73h1v1h-1zM12 74h1v1h-1zM14 74h1v1h-1zM17 74h1v1h-1zM33 74h1v1h-1zM44 74h1v1h-1zM9 75h1v1h-1zM50 75h1v1h-1z"/>
<path fill="#f5aa89" d="M7 0h1v1h-1zM26 0h1v1h-1zM2 1h1v1h-1zM29 1h2v1h-2zM26 2h1v1h-1zM59 2h1v1h-1zM23 3h1v1h-1zM34 3h1v1h-1zM39 3h1v1h-1zM57 3h1v1h-1zM61 3h1v1h-1zM21 4h2v1h-2zM27 4h2v1h-2zM57 4h1v1h-1zM43 5h1v1h-1zM48 5h1v1h-1zM57 5h1v1h-1zM9 6h1v1h-1zM30 6h1v1h-1zM35 6h1v1h-1zM40 6h1v1h-1zM55 6h1v1h-1zM22 7h1v1h-1zM9 8h1v1h-1zM30 8h1v1h-1zM41 9h1v1h-1zM52 9h1v1h-1zM2 10h1v1h-1zM28 11h1v1h-1zM51 11h1v1h-1zM19 12h1v1h-1zM26 12h1v1h-1zM51 12h1v1h-1zM61 12h1v1h-1zM66 12h1v1h-1zM8 13h1v1h-1zM52 13h2v1h-2zM67 13h1v1h-1zM18 14h1v1h-1zM61 14h1v1h-1zM33 15h1v1h-1zM54 15h1v1h-1zM7 16h1v1h-1zM19 16h1v1h-1zM53 16h1v1h-1zM19 17h1v1h-1zM50 17h1v1h-1zM10 18h1v1h-1zM19 18h1v1h-1zM27 19h1v1h-1zM66 19h1v1h-1zM21 20h1v1h-1zM29 20h1v1h-1zM37 20h1v1h-1zM52 20h1v1h-1zM24 21h1v1h-1zM26 21h1v1h-1zM28 21h1v1h-1zM50 21h1v1h-1zM55 21h1v1h-1zM18 22h1v1h-1zM66 24h1v1h-1zM24 25h1v1h-1zM29 25h1v1h-1zM34 25h1v1h-1zM19 26h1v1h-1zM23 26h1v1h-1zM29 26h1v1h-1zM40 26h1v1h-1zM52 26h1v1h-1zM61 26h1v1h-1zM20 28h1v1h-1zM53 28h1v1h-1zM66 28h1v1h-1zM1 29h1v1h-1zM10 29h1v1h-1zM29 29h1v1h-1zM25 30h1v1h-1zM29 30h1v1h-1zM50 30h2v1h-2zM54 30h1v1h-1zM19 31h1v1h-1zM48 31h1v1h-1zM50 31h1v1h-1zM61 31h1v1h-1zM28 32h1v1h-1zM42 32h1v1h-1zM48 32h1v1h-1zM26 33h1v1h-1zM29 33h1v1h-1zM52 33h1v1h-1zM13 35h1v1h-1zM22 35h1v1h-1zM52 35h1v1h-1zM24 36h1v1h-1zM26 36h1v1h-1zM28 36h1v1h-1zM54 36h1v1h-1zM18 37h1v1h-1zM57 37h1v1h-1zM59 37h1v1h-1zM7 38h1v1h-1zM25 38h1v1h-1zM28 38h1v1h-1zM48 38h1v1h-1zM57 38h1v1h-1zM10 39h1v1h-1zM46 39h1v1h-1zM51 39h1v1h-1zM57 39h1v1h-1zM2 40h1v1h-1zM11 40h1v1h-1zM52 40h1v1h-1zM61 40h1v1h-1zM19 41h1v1h-1zM0 42h1v1h-1zM3 42h1v1h-1zM26 42h1v1h-1zM30 42h2v1h-2zM38 42h1v1h-1zM50 42h2v1h-2zM54 42h1v1h-1zM59 42h1v1h-1zM48 43h1v1h-1zM8 44h1v1h-1zM61 44h1v1h-1zM66 44h1v1h-1zM37 45h1v1h-1zM52 45h1v1h-1zM34 47h1v1h-1zM52 47h1v1h-1zM56 47h1v1h-1zM9 48h1v1h-1zM36 48h1v1h-1zM42 48h1v1h-1zM45 48h2v1h-2zM5 49h1v1h-1zM16 49h1v1h-1zM24 49h2v1h-2zM34 49h1v1h-1zM36 49h1v1h-1zM44 49h1v1h-1zM7 50h1v1h-1zM34 50h1v1h-1zM1 51h1v1h-1zM8 51h1v1h-1zM11 51h1v1h-1zM26 51h1v1h-1zM11 52h2v1h-2zM24 52h1v1h-1zM34 52h1v1h-1zM36 52h1v1h-1zM52 52h1v1h-1zM54 52h1v1h-1zM63 52h1v1h-1zM54 53h1v1h-1zM15 54h1v1h-1zM45 55h1v1h-1zM37 56h1v1h-1zM41 56h1v1h-1zM48 56h1v1h-1zM63 56h1v1h-1zM0 57h1v1h-1zM14 57h1v1h-1zM26 57h1v1h-1zM33 57h1v1h-1zM37 57h1v1h-1zM58 57h1v1h-1zM1 58h1v1h-1zM17 58h1v1h-1zM33 58h1v1h-1zM37 58h1v1h-1zM55 58h1v1h-1zM57 58h1v1h-1zM15 59h1v1h-1zM34 59h1v1h-1zM59 59h1v1h-1zM8 60h1v1h-1zM23 60h1v1h-1zM10 61h1v1h-1zM33 62h1v1h-1zM37 62h1v1h-1zM13 63h1v1h-1zM32 63h1v1h-1zM36 63h1v1h-1zM39 63h1v1h-1zM16 64h1v1h-1zM37 64h2v1h-2zM58 64h1v1h-1zM9 65h1v1h-1zM28 65h1v1h-1zM35 65h1v1h-1zM39 65h1v1h-1zM49 65h1v1h-1zM30 66h1v1h-1zM35 66h1v1h-1zM41 66h1v1h-1zM26 67h1v1h-1zM40 67h1v1h-1zM42 67h1v1h-1zM13 70h1v1h-1zM15 70h1v1h-1zM30 70h1v1h-1zM51 70h1v1h-1zM37 71h3v1h-3zM19 72h1v1h-1zM48 72h1v1h-1zM2 74h1v1h-1zM34 74h1v1h-1zM38 74h2v1h-2zM57 74h1v1h-1zM10 75h1v1h-1zM18 75h2v1h-2zM42 75h1v1h-1zM60 75h1v1h-1z"/>
<path fill="#ea8e70" d="M9 0h1v1h-1zM19 0h1v1h-1zM54 0h1v1h-1zM18 1h1v1h-1zM57 1h1v1h-1zM19 2h1v1h-1zM50 2h1v1h-1zM9 4h1v1h-1zM18 4h1v1h-1zM53 4h1v1h-1zM9 5h1v1h-1zM26 5h2v1h-2zM29 5h1v1h-1zM37 5h1v1h-1zM40 5h1v1h-1zM27 6h1v1h-1zM37 6h1v1h-1zM28 7h1v1h-1zM52 7h1v1h-1zM27 8h1v1h-1zM30 9h1v1h-1zM39 9h1v1h-1zM57 9h1v1h-1zM61 9h1v1h-1zM66 9h1v1h-1zM8 10h1v1h-1zM48 10h1v1h-1zM59 10h1v1h-1zM61 10h1v1h-1zM22 11h1v1h-1zM29 11h1v1h-1zM53 12h1v1h-1zM9 13h1v1h-1zM19 13h1v1h-1zM42 13h1v1h-1zM57 13h1v1h-1zM67 15h1v1h-1zM28 16h1v1h-1zM30 16h1v1h-1zM52 16h1v1h-1zM28 18h1v1h-1zM34 18h1v1h-1zM50 18h1v1h-1zM2 19h1v1h-1zM30 19h1v1h-1zM50 19h1v1h-1zM59 19h1v1h-1zM10 20h1v1h-1zM18 20h1v1h-1zM28 20h1v1h-1zM50 20h1v1h-1zM17 21h2v1h-2zM30 21h1v1h-1zM51 21h1v1h-1zM19 22h1v1h-1zM52 22h1v1h-1zM37 23h1v1h-1zM6 24h1v1h-1zM52 24h1v1h-1zM9 25h1v1h-1zM51 25h1v1h-1zM2 26h1v1h-1zM8 26h2v1h-2zM27 27h2v1h-2zM51 27h1v1h-1zM53 27h1v1h-1zM10 28h1v1h-1zM50 29h3v1h-3zM54 29h1v1h-1zM8 30h1v1h-1zM28 30h1v1h-1zM20 31h1v1h-1zM27 31h1v1h-1zM37 31h1v1h-1zM51 31h1v1h-1zM19 32h1v1h-1zM27 32h1v1h-1zM1 33h1v1h-1zM30 33h1v1h-1zM64 33h1v1h-1zM19 34h1v1h-1zM26 34h1v1h-1zM28 34h1v1h-1zM52 34h1v1h-1zM23 35h1v1h-1zM26 35h1v1h-1zM28 35h1v1h-1zM59 35h1v1h-1zM61 35h1v1h-1zM19 36h1v1h-1zM67 36h1v1h-1zM23 37h1v1h-1zM29 37h1v1h-1zM1 38h1v1h-1zM19 38h1v1h-1zM21 38h1v1h-1zM27 39h1v1h-1zM33 39h1v1h-1zM53 39h1v1h-1zM20 41h1v1h-1zM1 42h1v1h-1zM34 42h1v1h-1zM37 42h1v1h-1zM39 42h1v1h-1zM41 42h1v1h-1zM0 43h1v1h-1zM16 43h1v1h-1zM59 43h2v1h-2zM30 44h1v1h-1zM22 45h1v1h-1zM38 45h1v1h-1zM66 45h1v1h-1zM58 46h1v1h-1zM4 47h1v1h-1zM38 47h1v1h-1zM48 47h1v1h-1zM50 48h1v1h-1zM3 49h1v1h-1zM11 49h1v1h-1zM21 49h1v1h-1zM23 49h1v1h-1zM39 49h1v1h-1zM48 49h1v1h-1zM66 49h1v1h-1zM21 51h1v1h-1zM41 51h1v1h-1zM30 52h1v1h-1zM4 54h1v1h-1zM36 54h1v1h-1zM39 54h1v1h-1zM42 54h1v1h-1zM34 55h1v1h-1zM40 55h1v1h-1zM67 55h1v1h-1zM19 56h1v1h-1zM18 57h1v1h-1zM36 57h1v1h-1zM42 57h1v1h-1zM9 58h1v1h-1zM2 59h1v1h-1zM28 59h1v1h-1zM30 59h1v1h-1zM60 59h1v1h-1zM65 59h1v1h-1zM0 60h1v1h-1zM2 60h1v1h-1zM37 60h1v1h-1zM4 61h1v1h-1zM35 61h1v1h-1zM1 62h1v1h-1zM20 62h1v1h-1zM33 63h1v1h-1zM54 63h1v1h-1zM61 63h1v1h-1zM6 64h1v1h-1zM17 64h1v1h-1zM55 64h1v1h-1zM66 64h1v1h-1zM56 65h1v1h-1zM9 66h1v1h-1zM37 66h1v1h-1zM13 68h1v1h-1zM37 68h1v1h-1zM51 68h1v1h-1zM37 69h1v1h-1zM64 69h1v1h-1zM23 70h1v1h-1zM25 70h1v1h-1zM29 70h1v1h-1zM14 72h1v1h-1zM63 73h1v1h-1zM66 73h1v1h-1zM35 74h1v1h-1zM52 75h1v1h-1z"/>
<path fill="#dd7059" d="M28 0h1v1h-1zM30 0h1v1h-1zM37 0h1v1h-1zM52 0h1v1h-1zM61 0h1v1h-1zM52 1h1v1h-1zM27 2h1v1h-1zM26 3h1v1h-1zM28 3h1v1h-1zM53 3h1v1h-1zM1 4h1v1h-1zM26 4h1v1h-1zM59 4h1v1h-1zM22 5h1v1h-1zM41 5h1v1h-1zM50 5h1v1h-1zM10 6h1v1h-1zM26 6h1v1h-1zM24 7h1v1h-1zM27 7h1v1h-1zM29 7h2v1h-2zM19 8h1v1h-1zM9 9h1v1h-1zM27 9h2v1h-2zM50 9h1v1h-1zM53 9h1v1h-1zM9 10h1v1h-1zM29 10h1v1h-1zM19 11h1v1h-1zM50 12h1v1h-1zM57 12h1v1h-1zM27 13h1v1h-1zM27 14h1v1h-1zM50 14h1v1h-1zM54 14h1v1h-1zM27 15h2v1h-2zM49 15h1v1h-1zM1 16h1v1h-1zM51 16h1v1h-1zM27 17h1v1h-1zM30 17h1v1h-1zM26 18h1v1h-1zM9 19h1v1h-1zM51 19h1v1h-1zM26 20h1v1h-1zM42 20h1v1h-1zM10 22h1v1h-1zM24 22h1v1h-1zM53 22h1v1h-1zM56 22h1v1h-1zM10 23h1v1h-1zM23 23h1v1h-1zM9 24h1v1h-1zM27 25h1v1h-1zM52 25h1v1h-1zM30 26h1v1h-1zM37 26h1v1h-1zM54 26h1v1h-1zM26 27h1v1h-1zM18 29h1v1h-1zM19 30h1v1h-1zM23 30h2v1h-2zM26 30h1v1h-1zM53 31h1v1h-1zM29 32h1v1h-1zM20 33h1v1h-1zM27 33h1v1h-1zM31 35h1v1h-1zM51 35h1v1h-1zM28 37h1v1h-1zM53 38h1v1h-1zM1 39h1v1h-1zM10 40h1v1h-1zM27 41h1v1h-1zM9 42h1v1h-1zM56 42h1v1h-1zM4 43h1v1h-1zM8 43h1v1h-1zM51 43h1v1h-1zM27 44h1v1h-1zM41 44h1v1h-1zM60 45h1v1h-1zM0 46h1v1h-1zM25 46h1v1h-1zM27 46h1v1h-1zM51 46h1v1h-1zM49 47h1v1h-1zM64 47h1v1h-1zM1 48h1v1h-1zM29 48h1v1h-1zM10 49h1v1h-1zM41 49h1v1h-1zM59 49h1v1h-1zM34 51h1v1h-1zM1 52h1v1h-1zM22 52h1v1h-1zM40 53h1v1h-1zM57 53h1v1h-1zM67 53h1v1h-1zM8 54h1v1h-1zM30 54h1v1h-1zM62 54h1v1h-1zM52 56h1v1h-1zM61 56h1v1h-1zM4 59h1v1h-1zM64 59h1v1h-1zM56 60h1v1h-1zM46 61h1v1h-1zM31 62h1v1h-1zM55 62h1v1h-1zM57 62h1v1h-1zM59 63h1v1h-1zM64 64h1v1h-1zM31 65h1v1h-1zM48 65h1v1h-1zM11 66h1v1h-1zM48 66h1v1h-1zM24 67h1v1h-1zM29 67h1v1h-1zM59 68h1v1h-1zM25 69h1v1h-1zM27 69h1v1h-1zM40 70h1v1h-1zM14 71h2v1h-2zM18 71h1v1h-1zM35 72h1v1h-1zM55 73h1v1h-1zM50 74h1v1h-1zM67 74h1v1h-1zM14 75h1v1h-1zM20 75h1v1h-1z"/>
<path fill="#cf5246" d="M28 1h1v1h-1zM21 2h1v1h-1zM29 2h3v1h-3zM48 3h1v1h-1zM54 3h1v1h-1zM10 4h1v1h-1zM2 5h1v1h-1zM19 7h1v1h-1zM60 7h1v1h-1zM26 9h1v1h-1zM31 10h1v1h-1zM51 10h1v1h-1zM24 13h1v1h-1zM26 13h1v1h-1zM30 13h1v1h-1zM50 13h2v1h-2zM23 15h1v1h-1zM29 15h1v1h-1zM9 16h1v1h-1zM24 16h1v1h-1zM26 16h1v1h-1zM30 18h1v1h-1zM54 18h1v1h-1zM23 19h1v1h-1zM24 20h1v1h-1zM51 20h1v1h-1zM50 22h1v1h-1zM19 25h1v1h-1zM26 26h1v1h-1zM9 27h1v1h-1zM19 27h1v1h-1zM21 29h1v1h-1zM42 30h1v1h-1zM9 31h1v1h-1zM29 31h1v1h-1zM54 31h1v1h-1zM19 35h1v1h-1zM9 37h1v1h-1zM9 38h1v1h-1zM40 39h1v1h-1zM54 39h2v1h-2zM19 40h1v1h-1zM28 40h1v1h-1zM64 40h1v1h-1zM32 44h1v1h-1zM8 45h1v1h-1zM10 45h1v1h-1zM4 48h1v1h-1zM50 49h1v1h-1zM52 49h2v1h-2zM55 49h1v1h-1zM59 51h1v1h-1zM2 54h1v1h-1zM39 56h1v1h-1zM42 56h1v1h-1zM66 56h1v1h-1zM8 58h1v1h-1zM35 58h1v1h-1zM65 58h1v1h-1zM13 59h1v1h-1zM66 59h1v1h-1zM45 61h1v1h-1zM17 63h1v1h-1zM37 63h1v1h-1zM9 64h1v1h-1zM40 64h1v1h-1zM63 67h1v1h-1zM17 68h1v1h-1zM38 69h1v1h-1zM10 72h1v1h-1zM47 72h1v1h-1z"/>
<path fill="#be3036" d="M51 1h1v1h-1zM23 7h1v1h-1zM21 13h1v1h-1zM28 13h2v1h-2zM26 14h1v1h-1zM50 15h1v1h-1zM50 16h1v1h-1zM21 17h1v1h-1zM23 20h1v1h-1zM54 21h1v1h-1zM59 21h1v1h-1zM30 22h1v1h-1zM19 23h1v1h-1zM28 26h1v1h-1zM52 27h1v1h-1zM9 30h1v1h-1zM66 33h1v1h-1zM61 34h1v1h-1zM37 38h1v1h-1zM66 38h1v1h-1zM29 39h1v1h-1zM39 40h1v1h-1zM24 42h1v1h-1zM54 44h1v1h-1zM40 47h1v1h-1zM66 48h1v1h-1zM43 49h1v1h-1zM10 51h1v1h-1zM48 52h1v1h-1zM59 57h1v1h-1zM0 59h1v1h-1zM20 59h1v1h-1zM38 61h1v1h-1zM22 67h1v1h-1zM41 69h1v1h-1zM54 69h1v1h-1zM27 70h1v1h-1zM48 71h1v1h-1zM18 73h1v1h-1z"/>
<path fill="#ab162a" d="M27 0h1v1h-1zM29 3h1v1h-1zM53 6h1v1h-1zM23 13h1v1h-1zM57 18h1v1h-1zM61 18h1v1h-1zM28 19h1v1h-1zM27 20h1v1h-1zM9 21h1v1h-1zM22 21h1v1h-1zM63 21h1v1h-1zM9 22h1v1h-1zM42 26h1v1h-1zM50 27h1v1h-1zM61 29h1v1h-1zM9 34h1v1h-1zM30 34h1v1h-1zM51 34h1v1h-1zM27 35h1v1h-1zM27 36h1v1h-1zM48 36h1v1h-1zM50 39h1v1h-1zM51 40h1v1h-1zM28 41h1v1h-1zM26 44h1v1h-1zM56 44h1v1h-1zM21 46h1v1h-1zM2 48h1v1h-1zM12 53h1v1h-1zM39 57h1v1h-1zM66 57h1v1h-1zM38 58h1v1h-1zM51 59h1v1h-1zM16 71h1v1h-1zM51 73h1v1h-1zM30 75h1v1h-1z"/>
<path fill="#870a24" d="M24 1h1v1h-1zM52 3h1v1h-1zM51 4h1v1h-1zM10 5h1v1h-1zM28 5h1v1h-1zM30 5h1v1h-1zM23 6h1v1h-1zM29 6h1v1h-1zM9 11h1v1h-1zM28 12h1v1h-1zM29 16h1v1h-1zM28 22h1v1h-1zM54 23h1v1h-1zM18 24h1v1h-1zM25 25h1v1h-1zM27 26h1v1h-1zM23 27h1v1h-1zM30 35h1v1h-1zM24 39h1v1h-1zM9 40h1v1h-1zM23 42h1v1h-1zM39 44h1v1h-1zM0 45h1v1h-1zM23 48h1v1h-1zM28 49h1v1h-1zM37 49h1v1h-1zM19 50h1v1h-1zM28 50h1v1h-1zM36 53h1v1h-1zM10 54h1v1h-1zM27 57h1v1h-1zM67 58h1v1h-1zM27 63h1v1h-1zM28 66h1v1h-1zM6 69h1v1h-1zM64 72h1v1h-1zM5 74h1v1h-1z"/>
</g>
<line x1="133.00" y1="39.40" x2="133.00" y2="139.20" stroke="#333" stroke-width="1.3" stroke-dasharray="2.0,2.1"/>
<line x1="207.20" y1="39.40" x2="207.20" y2="139.20" stroke="#333" stroke-width="1.3" stroke-dasharray="2.0,2.1"/>
</g>
<line x1="69.50" y1="38.90" x2="69.50" y2="139.20" stroke="#333" stroke-width="0.9" />
<line x1="196.50" y1="38.90" x2="196.50" y2="139.20" stroke="#333" stroke-width="0.9" />
<rect x="197" y="96.8" width="10" height="2.6000000000000085" fill="#93c3e5"/>
<rect x="197" y="99.4" width="10" height="1.0" fill="#5a95c8"/>
<rect x="197" y="100.4" width="10" height="1.5" fill="#0d3b7c"/>
<line x1="57.30" y1="33.00" x2="57.30" y2="19.00" stroke="#111" stroke-width="1.0" />
<path d="M54.20 20.2 L57.30 14.2 L60.40 20.2 Z" fill="#111"/>
<text transform="translate(50.60,24.90) rotate(-90) scale(1.0,1)" x="0" y="0" font-size="7.2" text-anchor="middle" fill="#111">Days</text>
<line x1="58.80" y1="34.90" x2="67.30" y2="34.90" stroke="#333" stroke-width="1.0" />
<text transform="translate(62.90,33.70) scale(0.8,1)" x="0" y="0" font-size="7.5" text-anchor="middle" fill="#333" >S</text>
<line x1="69.30" y1="32.30" x2="77.80" y2="32.30" stroke="#333" stroke-width="1.0" />
<text transform="translate(73.40,31.10) scale(0.8,1)" x="0" y="0" font-size="7.5" text-anchor="middle" fill="#333" >S</text>
<line x1="80.00" y1="29.20" x2="88.50" y2="29.20" stroke="#333" stroke-width="1.0" />
<text transform="translate(84.10,28.00) scale(0.8,1)" x="0" y="0" font-size="7.5" text-anchor="middle" fill="#333" >S</text>
<line x1="90.80" y1="25.90" x2="99.30" y2="25.90" stroke="#333" stroke-width="1.0" />
<text transform="translate(94.90,24.70) scale(0.8,1)" x="0" y="0" font-size="7.5" text-anchor="middle" fill="#333" >S</text>
<line x1="101.20" y1="19.50" x2="109.70" y2="19.50" stroke="#333" stroke-width="1.0" />
<text transform="translate(105.30,18.30) scale(0.8,1)" x="0" y="0" font-size="7.5" text-anchor="middle" fill="#333" >S</text>
<line x1="112.00" y1="16.30" x2="120.50" y2="16.30" stroke="#333" stroke-width="1.0" />
<text transform="translate(116.10,15.10) scale(0.8,1)" x="0" y="0" font-size="7.5" text-anchor="middle" fill="#333" >S</text>
<line x1="122.50" y1="13.10" x2="131.00" y2="13.10" stroke="#333" stroke-width="1.0" />
<text transform="translate(126.60,11.90) scale(0.8,1)" x="0" y="0" font-size="7.5" text-anchor="middle" fill="#333" >S</text>
<line x1="133.20" y1="32.20" x2="141.80" y2="32.20" stroke="#d52a50" stroke-width="1.1" />
<text x="137.50" y="30.30" font-size="6.4" text-anchor="middle" fill="#d52a50" stroke="#d52a50" stroke-width="0.15">H</text>
<line x1="144.00" y1="29.30" x2="152.60" y2="29.30" stroke="#d52a50" stroke-width="1.1" />
<text x="148.30" y="27.40" font-size="6.4" text-anchor="middle" fill="#d52a50" stroke="#d52a50" stroke-width="0.15">H</text>
<line x1="155.00" y1="25.90" x2="163.60" y2="25.90" stroke="#d52a50" stroke-width="1.1" />
<text x="159.30" y="24.00" font-size="6.4" text-anchor="middle" fill="#d52a50" stroke="#d52a50" stroke-width="0.15">H</text>
<line x1="165.60" y1="19.60" x2="174.20" y2="19.60" stroke="#d52a50" stroke-width="1.1" />
<text x="169.90" y="17.70" font-size="6.4" text-anchor="middle" fill="#d52a50" stroke="#d52a50" stroke-width="0.15">H</text>
<line x1="176.20" y1="16.30" x2="184.80" y2="16.30" stroke="#d52a50" stroke-width="1.1" />
<text x="180.50" y="14.40" font-size="6.4" text-anchor="middle" fill="#d52a50" stroke="#d52a50" stroke-width="0.15">H</text>
<line x1="186.60" y1="13.10" x2="195.20" y2="13.10" stroke="#d52a50" stroke-width="1.1" />
<text x="190.90" y="11.20" font-size="6.4" text-anchor="middle" fill="#d52a50" stroke="#d52a50" stroke-width="0.15">H</text>
<line x1="197.40" y1="22.30" x2="206.00" y2="22.30" stroke="#222" stroke-width="1.1" />
<text x="201.60" y="20.20" font-size="6.3" text-anchor="middle" fill="#222" stroke="#222" stroke-width="0.12">Pre</text>
<line x1="208.00" y1="22.30" x2="216.40" y2="22.30" stroke="#2f6aa6" stroke-width="1.1" />
<text x="212.10" y="20.20" font-size="6.3" text-anchor="middle" fill="#2f6aa6" stroke="#2f6aa6" stroke-width="0.12">Rej</text>
<text transform="translate(41.30,88.80) rotate(-90) scale(1.0,1)" x="0" y="0" font-size="8.8" text-anchor="middle" fill="#111">Proteomics</text>
<text transform="translate(52.00,88.80) rotate(-90) scale(1.0,1)" x="0" y="0" font-size="9.2" text-anchor="middle" font-weight="bold" fill="#111">Unfiltered</text>
<g filter="url(#hb)"><g transform="translate(334.35,38.90) scale(2.3426,1.3197)" shape-rendering="crispEdges">
<rect x="0" y="0" width="68" height="76" fill="#f7f6f6"/>
<path fill="#124984" d="M61 0h1v1h-1zM18 1h1v1h-1zM30 1h1v1h-1zM47 2h1v1h-1zM31 5h1v1h-1zM24 6h1v1h-1zM37 6h1v1h-1zM57 6h1v1h-1zM62 6h2v1h-2zM32 13h1v1h-1zM58 13h1v1h-1zM62 13h1v1h-1zM67 13h1v1h-1zM5 14h1v1h-1zM56 14h1v1h-1zM32 16h1v1h-1zM42 16h1v1h-1zM21 17h1v1h-1zM52 17h1v1h-1zM39 19h1v1h-1zM39 23h1v1h-1zM3 24h1v1h-1zM37 24h1v1h-1zM52 24h1v1h-1zM2 28h1v1h-1zM62 28h1v1h-1zM39 30h1v1h-1zM5 31h1v1h-1zM39 32h1v1h-1zM9 33h1v1h-1zM35 33h1v1h-1zM53 36h1v1h-1zM35 38h1v1h-1zM32 39h1v1h-1zM9 40h1v1h-1zM66 40h2v1h-2zM61 42h1v1h-1zM63 43h1v1h-1zM3 44h1v1h-1zM56 45h1v1h-1zM32 46h1v1h-1zM57 48h1v1h-1zM35 50h1v1h-1zM7 54h1v1h-1zM38 59h1v1h-1zM3 61h1v1h-1zM35 65h1v1h-1zM5 70h1v1h-1zM24 75h1v1h-1z"/>
<path fill="#2065ab" d="M62 0h1v1h-1zM3 2h1v1h-1zM62 2h2v1h-2zM39 4h1v1h-1zM6 7h1v1h-1zM52 7h2v1h-2zM21 8h1v1h-1zM54 8h1v1h-1zM59 13h1v1h-1zM5 15h1v1h-1zM39 17h1v1h-1zM35 21h1v1h-1zM35 22h1v1h-1zM59 22h1v1h-1zM5 24h1v1h-1zM53 24h1v1h-1zM65 24h1v1h-1zM61 25h1v1h-1zM17 33h1v1h-1zM60 36h1v1h-1zM54 37h1v1h-1zM39 38h1v1h-1zM59 38h1v1h-1zM3 40h1v1h-1zM12 41h1v1h-1zM38 43h1v1h-1zM39 47h1v1h-1zM42 48h1v1h-1zM44 53h1v1h-1zM11 55h1v1h-1zM5 57h1v1h-1zM32 57h1v1h-1zM45 59h1v1h-1zM33 64h1v1h-1zM5 65h1v1h-1zM5 67h1v1h-1z"/>
<path fill="#307ab6" d="M5 0h1v1h-1zM59 0h1v1h-1zM64 1h1v1h-1zM67 1h1v1h-1zM30 2h1v1h-1zM56 2h1v1h-1zM66 2h1v1h-1zM47 3h1v1h-1zM62 3h1v1h-1zM3 5h1v1h-1zM62 5h1v1h-1zM3 6h1v1h-1zM34 6h1v1h-1zM39 6h1v1h-1zM44 6h1v1h-1zM3 9h1v1h-1zM50 10h1v1h-1zM40 11h1v1h-1zM44 11h1v1h-1zM63 12h1v1h-1zM3 17h1v1h-1zM61 17h1v1h-1zM56 18h1v1h-1zM56 19h1v1h-1zM67 20h1v1h-1zM47 22h1v1h-1zM17 23h1v1h-1zM38 23h1v1h-1zM46 23h1v1h-1zM67 23h1v1h-1zM36 28h1v1h-1zM0 29h1v1h-1zM36 29h1v1h-1zM52 30h1v1h-1zM53 31h1v1h-1zM32 32h1v1h-1zM67 33h1v1h-1zM5 35h1v1h-1zM60 35h1v1h-1zM59 36h1v1h-1zM3 37h1v1h-1zM52 37h1v1h-1zM3 38h1v1h-1zM38 38h1v1h-1zM35 40h1v1h-1zM41 40h1v1h-1zM65 40h1v1h-1zM5 41h1v1h-1zM10 42h1v1h-1zM62 42h1v1h-1zM15 43h1v1h-1zM32 43h1v1h-1zM35 43h2v1h-2zM39 43h1v1h-1zM67 43h1v1h-1zM39 44h1v1h-1zM3 47h1v1h-1zM65 48h1v1h-1zM3 50h1v1h-1zM14 50h1v1h-1zM34 50h1v1h-1zM3 52h1v1h-1zM43 52h1v1h-1zM67 52h1v1h-1zM35 57h1v1h-1zM3 58h1v1h-1zM7 59h1v1h-1zM3 60h1v1h-1zM15 61h1v1h-1zM0 64h1v1h-1zM5 64h1v1h-1zM32 64h1v1h-1zM39 64h1v1h-1zM17 65h1v1h-1zM32 65h1v1h-1zM20 66h1v1h-1zM26 66h1v1h-1zM35 70h1v1h-1zM22 72h1v1h-1zM24 72h1v1h-1zM3 74h1v1h-1zM17 74h1v1h-1z"/>
<path fill="#408fc1" d="M5 2h1v1h-1zM63 3h1v1h-1zM5 5h1v1h-1zM35 5h1v1h-1zM40 5h1v1h-1zM0 9h1v1h-1zM37 9h1v1h-1zM39 9h1v1h-1zM38 11h1v1h-1zM5 13h1v1h-1zM35 13h1v1h-1zM37 13h3v1h-3zM3 15h1v1h-1zM61 15h1v1h-1zM67 16h1v1h-1zM56 17h1v1h-1zM34 18h1v1h-1zM36 18h1v1h-1zM33 19h1v1h-1zM45 19h1v1h-1zM45 20h1v1h-1zM52 20h1v1h-1zM19 21h1v1h-1zM3 22h1v1h-1zM3 23h1v1h-1zM5 23h1v1h-1zM36 23h1v1h-1zM3 25h1v1h-1zM47 25h1v1h-1zM49 25h1v1h-1zM10 26h1v1h-1zM12 26h1v1h-1zM46 26h1v1h-1zM59 26h1v1h-1zM63 26h1v1h-1zM3 27h1v1h-1zM49 27h1v1h-1zM63 27h1v1h-1zM17 28h1v1h-1zM37 28h1v1h-1zM46 28h1v1h-1zM67 28h1v1h-1zM3 29h1v1h-1zM19 29h1v1h-1zM35 29h1v1h-1zM59 29h1v1h-1zM3 30h1v1h-1zM3 31h1v1h-1zM47 31h1v1h-1zM59 31h1v1h-1zM17 32h1v1h-1zM38 32h1v1h-1zM43 32h1v1h-1zM3 33h1v1h-1zM5 33h1v1h-1zM16 33h1v1h-1zM36 34h1v1h-1zM59 34h1v1h-1zM39 36h1v1h-1zM17 37h1v1h-1zM32 37h1v1h-1zM7 38h1v1h-1zM60 38h1v1h-1zM32 40h1v1h-1zM56 40h1v1h-1zM2 41h2v1h-2zM38 41h1v1h-1zM40 41h1v1h-1zM3 42h1v1h-1zM5 42h1v1h-1zM38 42h2v1h-2zM5 43h1v1h-1zM46 43h1v1h-1zM41 44h1v1h-1zM14 46h1v1h-1zM11 50h1v1h-1zM38 50h1v1h-1zM2 51h1v1h-1zM41 51h1v1h-1zM42 53h1v1h-1zM37 54h2v1h-2zM4 55h1v1h-1zM43 55h1v1h-1zM39 56h1v1h-1zM42 56h1v1h-1zM67 56h1v1h-1zM39 57h1v1h-1zM35 58h1v1h-1zM0 59h1v1h-1zM46 61h1v1h-1zM38 62h1v1h-1zM25 63h1v1h-1zM32 63h1v1h-1zM37 63h1v1h-1zM4 66h1v1h-1zM35 66h1v1h-1zM42 66h1v1h-1zM0 67h1v1h-1zM39 67h1v1h-1zM5 69h1v1h-1zM39 69h1v1h-1zM31 70h1v1h-1zM39 70h1v1h-1zM2 71h1v1h-1zM4 71h1v1h-1zM3 72h1v1h-1zM6 72h1v1h-1z"/>
<path fill="#5fa5cd" d="M28 0h1v1h-1zM60 0h1v1h-1zM67 0h1v1h-1zM53 1h1v1h-1zM62 1h1v1h-1zM38 2h1v1h-1zM28 3h1v1h-1zM39 3h1v1h-1zM3 4h1v1h-1zM37 4h1v1h-1zM0 5h1v1h-1zM36 5h1v1h-1zM39 5h1v1h-1zM4 6h2v1h-2zM8 6h1v1h-1zM31 6h1v1h-1zM52 6h1v1h-1zM3 7h1v1h-1zM5 7h1v1h-1zM50 7h2v1h-2zM24 8h1v1h-1zM46 8h1v1h-1zM4 9h1v1h-1zM3 10h1v1h-1zM38 10h2v1h-2zM63 10h2v1h-2zM3 11h1v1h-1zM39 11h1v1h-1zM42 11h1v1h-1zM2 12h1v1h-1zM30 12h1v1h-1zM36 12h1v1h-1zM3 13h1v1h-1zM6 13h1v1h-1zM30 13h1v1h-1zM36 13h1v1h-1zM3 14h1v1h-1zM41 14h1v1h-1zM59 14h1v1h-1zM1 15h2v1h-2zM27 15h1v1h-1zM39 15h1v1h-1zM36 17h1v1h-1zM3 18h1v1h-1zM15 18h1v1h-1zM37 18h1v1h-1zM60 19h1v1h-1zM5 20h1v1h-1zM21 20h1v1h-1zM39 20h1v1h-1zM47 20h1v1h-1zM32 22h1v1h-1zM36 22h1v1h-1zM44 22h1v1h-1zM61 23h1v1h-1zM49 24h1v1h-1zM3 26h1v1h-1zM14 26h1v1h-1zM36 26h1v1h-1zM41 26h1v1h-1zM32 27h1v1h-1zM39 27h1v1h-1zM3 28h1v1h-1zM11 28h1v1h-1zM32 28h1v1h-1zM35 28h1v1h-1zM39 28h1v1h-1zM64 28h1v1h-1zM5 29h1v1h-1zM40 29h1v1h-1zM49 29h1v1h-1zM63 29h1v1h-1zM32 30h1v1h-1zM35 30h2v1h-2zM3 32h1v1h-1zM15 32h1v1h-1zM62 32h1v1h-1zM4 33h1v1h-1zM39 33h1v1h-1zM36 35h1v1h-1zM39 35h1v1h-1zM0 36h1v1h-1zM5 36h1v1h-1zM41 36h1v1h-1zM12 37h1v1h-1zM36 38h1v1h-1zM3 39h1v1h-1zM5 39h1v1h-1zM39 39h1v1h-1zM41 39h1v1h-1zM0 40h1v1h-1zM38 40h2v1h-2zM4 41h1v1h-1zM36 41h1v1h-1zM63 41h1v1h-1zM30 42h1v1h-1zM60 42h1v1h-1zM64 42h1v1h-1zM0 43h1v1h-1zM3 43h1v1h-1zM11 44h1v1h-1zM13 44h1v1h-1zM32 44h1v1h-1zM36 44h1v1h-1zM61 44h1v1h-1zM5 46h1v1h-1zM38 46h1v1h-1zM2 47h1v1h-1zM5 47h1v1h-1zM16 47h1v1h-1zM3 48h1v1h-1zM62 48h1v1h-1zM7 49h1v1h-1zM15 49h1v1h-1zM41 49h1v1h-1zM4 50h1v1h-1zM36 50h1v1h-1zM60 50h1v1h-1zM64 50h1v1h-1zM3 51h1v1h-1zM32 51h1v1h-1zM36 51h2v1h-2zM39 51h1v1h-1zM0 52h1v1h-1zM2 52h1v1h-1zM35 52h1v1h-1zM32 55h1v1h-1zM35 55h1v1h-1zM42 55h1v1h-1zM3 57h1v1h-1zM38 57h1v1h-1zM42 57h1v1h-1zM44 57h1v1h-1zM5 59h1v1h-1zM40 59h1v1h-1zM20 60h1v1h-1zM37 60h1v1h-1zM36 61h1v1h-1zM38 61h2v1h-2zM41 63h1v1h-1zM3 65h1v1h-1zM50 65h1v1h-1zM3 66h1v1h-1zM35 67h2v1h-2zM42 67h1v1h-1zM5 68h1v1h-1zM36 68h1v1h-1zM2 69h2v1h-2zM46 69h1v1h-1zM1 70h1v1h-1zM41 70h1v1h-1zM3 71h1v1h-1zM20 71h1v1h-1zM39 71h1v1h-1zM39 73h1v1h-1zM0 74h1v1h-1zM5 74h2v1h-2zM44 74h1v1h-1zM42 75h1v1h-1z"/>
<path fill="#84bcd9" d="M3 1h1v1h-1zM50 1h1v1h-1zM49 2h1v1h-1zM51 2h2v1h-2zM59 2h1v1h-1zM32 3h1v1h-1zM52 3h1v1h-1zM54 3h1v1h-1zM58 3h1v1h-1zM24 4h1v1h-1zM53 4h2v1h-2zM60 4h1v1h-1zM32 5h1v1h-1zM63 5h1v1h-1zM2 6h1v1h-1zM38 6h1v1h-1zM50 6h1v1h-1zM33 7h1v1h-1zM41 7h1v1h-1zM58 7h1v1h-1zM0 8h2v1h-2zM39 8h1v1h-1zM44 8h1v1h-1zM53 8h1v1h-1zM38 9h1v1h-1zM41 9h1v1h-1zM14 10h1v1h-1zM25 10h1v1h-1zM32 10h1v1h-1zM36 11h1v1h-1zM57 11h1v1h-1zM63 11h1v1h-1zM5 12h2v1h-2zM41 12h1v1h-1zM64 12h1v1h-1zM1 13h1v1h-1zM7 13h1v1h-1zM31 13h1v1h-1zM42 13h1v1h-1zM54 13h1v1h-1zM61 13h1v1h-1zM2 14h1v1h-1zM63 14h1v1h-1zM26 15h1v1h-1zM32 15h1v1h-1zM35 15h1v1h-1zM4 16h1v1h-1zM7 16h2v1h-2zM37 16h1v1h-1zM50 16h1v1h-1zM2 17h1v1h-1zM35 17h1v1h-1zM42 17h1v1h-1zM44 17h1v1h-1zM46 17h1v1h-1zM1 18h1v1h-1zM67 18h1v1h-1zM54 19h1v1h-1zM3 20h2v1h-2zM24 20h1v1h-1zM32 20h1v1h-1zM1 21h1v1h-1zM3 21h1v1h-1zM39 21h1v1h-1zM63 21h1v1h-1zM42 22h1v1h-1zM45 22h1v1h-1zM0 23h1v1h-1zM42 23h1v1h-1zM59 23h1v1h-1zM4 24h1v1h-1zM32 24h1v1h-1zM35 25h1v1h-1zM39 25h1v1h-1zM38 26h1v1h-1zM6 27h1v1h-1zM35 27h2v1h-2zM42 27h1v1h-1zM54 27h1v1h-1zM60 27h1v1h-1zM41 28h1v1h-1zM59 28h1v1h-1zM1 29h1v1h-1zM4 29h1v1h-1zM16 29h1v1h-1zM27 29h1v1h-1zM44 29h1v1h-1zM52 29h1v1h-1zM2 30h1v1h-1zM16 30h1v1h-1zM32 31h1v1h-1zM35 31h1v1h-1zM65 31h1v1h-1zM46 32h1v1h-1zM54 32h1v1h-1zM0 33h2v1h-2zM46 33h1v1h-1zM5 34h1v1h-1zM21 34h1v1h-1zM12 35h1v1h-1zM35 35h1v1h-1zM62 35h1v1h-1zM3 36h2v1h-2zM40 36h1v1h-1zM4 37h1v1h-1zM40 37h1v1h-1zM45 37h1v1h-1zM53 37h1v1h-1zM60 37h1v1h-1zM5 38h1v1h-1zM48 38h1v1h-1zM1 39h2v1h-2zM4 39h1v1h-1zM9 39h1v1h-1zM38 39h1v1h-1zM56 39h1v1h-1zM1 40h1v1h-1zM12 40h1v1h-1zM37 40h1v1h-1zM20 41h1v1h-1zM42 41h1v1h-1zM16 42h1v1h-1zM33 42h1v1h-1zM33 43h1v1h-1zM37 43h1v1h-1zM52 43h1v1h-1zM1 44h1v1h-1zM4 44h2v1h-2zM60 44h1v1h-1zM38 45h1v1h-1zM41 45h1v1h-1zM2 46h1v1h-1zM11 46h2v1h-2zM17 46h1v1h-1zM34 46h1v1h-1zM39 46h1v1h-1zM44 46h1v1h-1zM62 46h1v1h-1zM38 47h1v1h-1zM37 48h1v1h-1zM16 49h1v1h-1zM31 49h2v1h-2zM16 51h1v1h-1zM60 51h1v1h-1zM63 51h1v1h-1zM14 52h1v1h-1zM32 52h1v1h-1zM5 53h1v1h-1zM47 53h1v1h-1zM33 54h1v1h-1zM35 54h1v1h-1zM39 54h1v1h-1zM43 54h2v1h-2zM1 55h1v1h-1zM39 55h1v1h-1zM12 57h1v1h-1zM55 57h1v1h-1zM36 58h1v1h-1zM39 58h1v1h-1zM39 59h1v1h-1zM56 59h1v1h-1zM35 60h1v1h-1zM40 60h1v1h-1zM5 61h1v1h-1zM12 61h1v1h-1zM22 61h1v1h-1zM3 62h1v1h-1zM5 62h1v1h-1zM21 62h1v1h-1zM35 62h1v1h-1zM39 62h1v1h-1zM41 62h1v1h-1zM45 62h1v1h-1zM1 63h1v1h-1zM3 63h2v1h-2zM28 63h1v1h-1zM43 63h1v1h-1zM35 64h1v1h-1zM42 64h1v1h-1zM13 65h1v1h-1zM16 65h1v1h-1zM42 65h1v1h-1zM0 66h1v1h-1zM15 66h1v1h-1zM16 67h1v1h-1zM34 67h1v1h-1zM35 68h1v1h-1zM39 68h2v1h-2zM42 68h1v1h-1zM52 68h1v1h-1zM18 69h1v1h-1zM21 69h1v1h-1zM27 69h1v1h-1zM0 70h1v1h-1zM9 70h1v1h-1zM36 70h1v1h-1zM38 70h1v1h-1zM42 70h1v1h-1zM54 70h1v1h-1zM0 71h1v1h-1zM6 71h1v1h-1zM8 71h1v1h-1zM13 71h1v1h-1zM26 71h1v1h-1zM1 72h1v1h-1zM14 72h1v1h-1zM16 72h1v1h-1zM27 72h1v1h-1zM30 72h1v1h-1zM41 72h1v1h-1zM44 72h1v1h-1zM3 73h1v1h-1zM12 73h1v1h-1zM28 73h1v1h-1zM50 73h1v1h-1zM2 74h1v1h-1zM11 74h1v1h-1zM2 75h2v1h-2zM41 75h1v1h-1z"/>
<path fill="#a2cde3" d="M3 0h1v1h-1zM14 0h1v1h-1zM39 1h1v1h-1zM46 1h1v1h-1zM57 1h1v1h-1zM15 2h1v1h-1zM25 2h1v1h-1zM32 2h1v1h-1zM53 2h1v1h-1zM64 2h1v1h-1zM2 3h1v1h-1zM32 4h1v1h-1zM38 4h1v1h-1zM50 4h1v1h-1zM61 4h1v1h-1zM2 5h1v1h-1zM37 5h1v1h-1zM47 5h1v1h-1zM64 5h1v1h-1zM66 5h1v1h-1zM1 6h1v1h-1zM43 6h1v1h-1zM48 6h1v1h-1zM61 6h1v1h-1zM64 6h1v1h-1zM32 7h1v1h-1zM57 7h1v1h-1zM2 8h4v1h-4zM20 8h1v1h-1zM35 8h1v1h-1zM41 8h1v1h-1zM52 8h1v1h-1zM56 8h1v1h-1zM1 9h1v1h-1zM5 9h1v1h-1zM32 9h1v1h-1zM35 9h1v1h-1zM49 9h1v1h-1zM52 9h2v1h-2zM56 9h1v1h-1zM65 9h1v1h-1zM27 10h1v1h-1zM42 10h1v1h-1zM47 10h1v1h-1zM0 11h2v1h-2zM20 11h1v1h-1zM48 11h1v1h-1zM55 11h1v1h-1zM59 11h1v1h-1zM66 11h1v1h-1zM3 12h1v1h-1zM39 12h1v1h-1zM47 12h1v1h-1zM0 13h1v1h-1zM4 13h1v1h-1zM4 14h1v1h-1zM30 14h1v1h-1zM39 14h2v1h-2zM44 14h1v1h-1zM47 14h1v1h-1zM57 14h1v1h-1zM67 14h1v1h-1zM0 15h1v1h-1zM4 15h1v1h-1zM50 15h1v1h-1zM53 15h1v1h-1zM56 15h2v1h-2zM2 16h1v1h-1zM10 16h1v1h-1zM0 17h2v1h-2zM5 17h1v1h-1zM11 17h1v1h-1zM25 17h1v1h-1zM33 17h1v1h-1zM58 17h1v1h-1zM4 18h2v1h-2zM31 18h1v1h-1zM1 19h3v1h-3zM47 19h1v1h-1zM50 19h1v1h-1zM2 20h1v1h-1zM8 20h1v1h-1zM11 20h1v1h-1zM33 20h1v1h-1zM37 20h2v1h-2zM62 20h1v1h-1zM4 21h1v1h-1zM10 21h1v1h-1zM24 21h1v1h-1zM34 21h1v1h-1zM38 21h1v1h-1zM59 21h1v1h-1zM61 21h1v1h-1zM65 21h1v1h-1zM0 22h1v1h-1zM2 22h1v1h-1zM5 22h1v1h-1zM10 22h1v1h-1zM37 22h2v1h-2zM55 22h1v1h-1zM11 23h1v1h-1zM32 23h1v1h-1zM35 23h1v1h-1zM40 23h1v1h-1zM43 23h1v1h-1zM0 24h3v1h-3zM12 24h1v1h-1zM17 24h1v1h-1zM40 24h1v1h-1zM61 24h1v1h-1zM63 24h1v1h-1zM1 25h1v1h-1zM6 25h1v1h-1zM40 25h1v1h-1zM0 26h1v1h-1zM5 26h1v1h-1zM32 26h1v1h-1zM35 26h1v1h-1zM39 26h2v1h-2zM1 27h1v1h-1zM34 27h1v1h-1zM43 27h1v1h-1zM0 28h2v1h-2zM16 28h1v1h-1zM40 28h1v1h-1zM65 28h1v1h-1zM2 29h1v1h-1zM9 29h1v1h-1zM37 29h2v1h-2zM42 29h1v1h-1zM45 29h1v1h-1zM62 29h1v1h-1zM65 29h1v1h-1zM1 30h1v1h-1zM15 30h1v1h-1zM23 30h1v1h-1zM37 30h1v1h-1zM40 30h1v1h-1zM42 30h1v1h-1zM58 30h1v1h-1zM67 30h1v1h-1zM36 31h2v1h-2zM49 31h1v1h-1zM2 32h1v1h-1zM8 32h1v1h-1zM16 32h1v1h-1zM34 32h1v1h-1zM67 32h1v1h-1zM2 33h1v1h-1zM11 33h1v1h-1zM14 33h2v1h-2zM33 33h1v1h-1zM37 33h2v1h-2zM60 33h1v1h-1zM65 33h1v1h-1zM1 34h1v1h-1zM6 34h1v1h-1zM17 34h1v1h-1zM33 34h1v1h-1zM39 34h1v1h-1zM61 34h1v1h-1zM0 35h1v1h-1zM3 35h1v1h-1zM8 35h1v1h-1zM42 35h1v1h-1zM2 36h1v1h-1zM18 36h1v1h-1zM35 36h2v1h-2zM54 36h1v1h-1zM62 36h1v1h-1zM35 37h1v1h-1zM1 38h2v1h-2zM4 38h1v1h-1zM15 38h1v1h-1zM27 38h1v1h-1zM33 38h1v1h-1zM62 38h1v1h-1zM35 39h1v1h-1zM53 39h1v1h-1zM7 40h1v1h-1zM16 40h1v1h-1zM36 40h1v1h-1zM63 40h1v1h-1zM35 41h1v1h-1zM43 41h1v1h-1zM46 41h1v1h-1zM0 42h1v1h-1zM4 42h1v1h-1zM13 42h1v1h-1zM43 42h1v1h-1zM65 42h1v1h-1zM67 42h1v1h-1zM1 43h1v1h-1zM10 43h1v1h-1zM21 43h1v1h-1zM59 43h1v1h-1zM63 44h1v1h-1zM3 45h2v1h-2zM22 45h1v1h-1zM36 45h2v1h-2zM42 45h1v1h-1zM61 45h1v1h-1zM16 46h1v1h-1zM41 46h1v1h-1zM6 47h1v1h-1zM11 47h1v1h-1zM32 47h1v1h-1zM34 47h1v1h-1zM4 48h1v1h-1zM14 48h1v1h-1zM19 48h1v1h-1zM32 48h1v1h-1zM53 48h1v1h-1zM3 49h1v1h-1zM13 49h2v1h-2zM35 49h1v1h-1zM43 49h1v1h-1zM59 49h1v1h-1zM0 50h2v1h-2zM5 50h1v1h-1zM16 50h1v1h-1zM54 50h1v1h-1zM8 51h1v1h-1zM14 51h1v1h-1zM61 51h1v1h-1zM16 52h1v1h-1zM41 52h1v1h-1zM3 53h1v1h-1zM32 53h1v1h-1zM35 53h1v1h-1zM2 54h1v1h-1zM8 54h1v1h-1zM11 54h1v1h-1zM15 54h1v1h-1zM46 54h1v1h-1zM3 55h1v1h-1zM15 55h1v1h-1zM36 55h2v1h-2zM41 55h1v1h-1zM2 56h2v1h-2zM32 56h1v1h-1zM35 56h1v1h-1zM37 56h1v1h-1zM1 57h1v1h-1zM65 58h1v1h-1zM1 59h1v1h-1zM3 59h1v1h-1zM35 59h1v1h-1zM51 59h1v1h-1zM2 60h1v1h-1zM4 60h1v1h-1zM38 60h1v1h-1zM41 61h1v1h-1zM1 62h1v1h-1zM19 62h1v1h-1zM0 63h1v1h-1zM5 63h1v1h-1zM34 63h1v1h-1zM38 63h2v1h-2zM42 63h1v1h-1zM48 63h1v1h-1zM1 64h3v1h-3zM8 65h1v1h-1zM12 65h1v1h-1zM2 66h1v1h-1zM14 66h1v1h-1zM27 66h1v1h-1zM39 66h1v1h-1zM2 67h1v1h-1zM30 67h1v1h-1zM3 68h2v1h-2zM7 68h1v1h-1zM12 69h1v1h-1zM17 69h1v1h-1zM30 69h1v1h-1zM3 70h1v1h-1zM6 70h1v1h-1zM14 70h1v1h-1zM16 70h1v1h-1zM52 70h1v1h-1zM1 71h1v1h-1zM22 71h1v1h-1zM25 71h1v1h-1zM38 71h1v1h-1zM46 71h1v1h-1zM0 72h1v1h-1zM2 72h1v1h-1zM4 72h1v1h-1zM2 73h1v1h-1zM4 73h2v1h-2zM30 73h1v1h-1zM43 73h1v1h-1zM9 74h1v1h-1zM13 74h1v1h-1zM21 74h1v1h-1zM32 74h1v1h-1zM43 74h1v1h-1zM62 74h1v1h-1zM15 75h1v1h-1zM22 75h1v1h-1zM31 75h1v1h-1zM35 75h2v1h-2z"/>
<path fill="#bbdaea" d="M2 0h1v1h-1zM11 0h1v1h-1zM31 0h1v1h-1zM49 0h1v1h-1zM0 1h1v1h-1zM4 1h1v1h-1zM6 1h1v1h-1zM32 1h1v1h-1zM48 1h1v1h-1zM63 1h1v1h-1zM0 2h1v1h-1zM4 2h1v1h-1zM35 2h1v1h-1zM39 2h1v1h-1zM41 2h1v1h-1zM50 2h1v1h-1zM15 3h1v1h-1zM17 3h1v1h-1zM21 3h1v1h-1zM35 3h1v1h-1zM43 3h1v1h-1zM64 3h1v1h-1zM23 4h1v1h-1zM1 5h1v1h-1zM21 5h1v1h-1zM42 5h1v1h-1zM46 5h1v1h-1zM57 5h1v1h-1zM25 6h1v1h-1zM33 6h1v1h-1zM1 7h1v1h-1zM35 7h1v1h-1zM37 7h1v1h-1zM17 8h1v1h-1zM33 8h1v1h-1zM36 8h2v1h-2zM42 8h1v1h-1zM49 8h1v1h-1zM57 8h1v1h-1zM67 8h1v1h-1zM24 9h1v1h-1zM30 9h1v1h-1zM54 9h1v1h-1zM63 9h1v1h-1zM0 10h1v1h-1zM31 10h1v1h-1zM35 10h1v1h-1zM40 10h2v1h-2zM54 10h1v1h-1zM15 11h1v1h-1zM24 11h1v1h-1zM32 11h2v1h-2zM37 11h1v1h-1zM60 11h1v1h-1zM65 11h1v1h-1zM0 12h1v1h-1zM49 12h1v1h-1zM53 12h1v1h-1zM55 12h1v1h-1zM60 12h1v1h-1zM62 12h1v1h-1zM66 12h1v1h-1zM2 13h1v1h-1zM20 13h1v1h-1zM43 13h1v1h-1zM55 13h1v1h-1zM8 14h1v1h-1zM11 14h1v1h-1zM49 14h1v1h-1zM53 14h2v1h-2zM7 15h1v1h-1zM37 15h1v1h-1zM43 15h1v1h-1zM65 15h1v1h-1zM67 15h1v1h-1zM1 16h1v1h-1zM3 16h1v1h-1zM5 16h1v1h-1zM15 16h1v1h-1zM24 16h1v1h-1zM35 16h2v1h-2zM44 16h1v1h-1zM47 16h1v1h-1zM66 16h1v1h-1zM53 17h1v1h-1zM65 17h1v1h-1zM39 18h1v1h-1zM41 18h1v1h-1zM43 18h1v1h-1zM6 19h1v1h-1zM8 19h1v1h-1zM32 19h1v1h-1zM62 19h1v1h-1zM66 19h1v1h-1zM35 20h1v1h-1zM2 21h1v1h-1zM5 21h1v1h-1zM48 21h1v1h-1zM9 22h1v1h-1zM11 22h1v1h-1zM34 22h1v1h-1zM1 23h1v1h-1zM4 23h1v1h-1zM12 23h1v1h-1zM16 23h1v1h-1zM31 23h1v1h-1zM34 23h1v1h-1zM47 23h1v1h-1zM6 24h1v1h-1zM24 24h1v1h-1zM33 24h1v1h-1zM35 24h1v1h-1zM38 24h1v1h-1zM42 24h1v1h-1zM45 24h1v1h-1zM66 24h1v1h-1zM4 25h1v1h-1zM12 25h1v1h-1zM19 25h1v1h-1zM23 25h2v1h-2zM32 25h1v1h-1zM46 25h1v1h-1zM50 25h1v1h-1zM62 25h1v1h-1zM1 26h2v1h-2zM7 26h1v1h-1zM17 26h1v1h-1zM37 26h1v1h-1zM65 26h2v1h-2zM0 27h1v1h-1zM2 27h1v1h-1zM12 27h1v1h-1zM16 27h2v1h-2zM37 27h1v1h-1zM40 27h1v1h-1zM57 27h1v1h-1zM12 28h2v1h-2zM38 28h1v1h-1zM33 29h1v1h-1zM53 29h2v1h-2zM0 30h1v1h-1zM14 30h1v1h-1zM48 30h1v1h-1zM4 31h1v1h-1zM14 31h1v1h-1zM20 31h1v1h-1zM24 31h1v1h-1zM34 31h1v1h-1zM39 31h1v1h-1zM66 31h1v1h-1zM1 32h1v1h-1zM4 32h1v1h-1zM6 32h1v1h-1zM9 32h1v1h-1zM12 32h1v1h-1zM6 33h1v1h-1zM12 33h1v1h-1zM32 33h1v1h-1zM2 34h1v1h-1zM4 34h1v1h-1zM9 34h1v1h-1zM32 34h1v1h-1zM53 34h1v1h-1zM60 34h1v1h-1zM65 34h1v1h-1zM7 35h1v1h-1zM9 35h1v1h-1zM17 35h1v1h-1zM37 35h2v1h-2zM40 35h1v1h-1zM8 36h1v1h-1zM17 36h1v1h-1zM25 36h1v1h-1zM37 36h1v1h-1zM43 36h3v1h-3zM0 37h2v1h-2zM14 37h1v1h-1zM34 37h1v1h-1zM36 37h1v1h-1zM39 37h1v1h-1zM58 37h1v1h-1zM0 38h1v1h-1zM6 38h1v1h-1zM12 38h1v1h-1zM16 38h1v1h-1zM32 38h1v1h-1zM34 38h1v1h-1zM37 38h1v1h-1zM56 38h1v1h-1zM65 38h1v1h-1zM0 39h1v1h-1zM16 39h1v1h-1zM40 39h1v1h-1zM5 40h1v1h-1zM11 40h1v1h-1zM42 40h1v1h-1zM49 40h1v1h-1zM54 40h1v1h-1zM21 41h1v1h-1zM44 41h1v1h-1zM1 42h2v1h-2zM32 42h1v1h-1zM35 42h1v1h-1zM40 42h1v1h-1zM53 42h1v1h-1zM2 43h1v1h-1zM16 43h2v1h-2zM23 43h1v1h-1zM25 43h1v1h-1zM34 43h1v1h-1zM40 43h1v1h-1zM54 43h1v1h-1zM14 44h2v1h-2zM37 44h2v1h-2zM44 44h1v1h-1zM62 44h1v1h-1zM66 44h2v1h-2zM9 45h1v1h-1zM17 45h1v1h-1zM39 45h1v1h-1zM65 45h1v1h-1zM1 46h1v1h-1zM3 46h2v1h-2zM33 46h1v1h-1zM40 46h1v1h-1zM67 46h1v1h-1zM52 47h1v1h-1zM10 48h1v1h-1zM12 48h1v1h-1zM38 48h1v1h-1zM40 48h1v1h-1zM54 48h1v1h-1zM0 49h1v1h-1zM4 49h2v1h-2zM10 49h1v1h-1zM39 49h1v1h-1zM17 50h1v1h-1zM39 50h1v1h-1zM63 50h1v1h-1zM1 51h1v1h-1zM6 51h1v1h-1zM45 51h2v1h-2zM55 51h1v1h-1zM1 52h1v1h-1zM18 52h1v1h-1zM24 52h1v1h-1zM49 52h1v1h-1zM0 53h1v1h-1zM34 53h1v1h-1zM36 53h1v1h-1zM39 53h1v1h-1zM3 54h2v1h-2zM17 54h1v1h-1zM61 54h1v1h-1zM40 55h1v1h-1zM1 56h1v1h-1zM6 56h1v1h-1zM8 56h1v1h-1zM14 56h1v1h-1zM16 56h1v1h-1zM36 56h1v1h-1zM40 56h1v1h-1zM43 56h1v1h-1zM4 57h1v1h-1zM13 57h1v1h-1zM41 57h1v1h-1zM52 57h1v1h-1zM60 57h1v1h-1zM63 57h1v1h-1zM24 58h1v1h-1zM30 58h1v1h-1zM38 58h1v1h-1zM52 58h1v1h-1zM55 58h1v1h-1zM2 59h1v1h-1zM4 59h1v1h-1zM6 59h1v1h-1zM9 59h1v1h-1zM32 59h1v1h-1zM36 59h1v1h-1zM43 59h1v1h-1zM62 59h1v1h-1zM5 60h1v1h-1zM12 60h1v1h-1zM42 60h1v1h-1zM52 60h1v1h-1zM8 61h1v1h-1zM21 61h1v1h-1zM32 61h1v1h-1zM10 62h1v1h-1zM17 62h1v1h-1zM33 62h1v1h-1zM40 62h1v1h-1zM16 63h1v1h-1zM33 63h1v1h-1zM35 63h1v1h-1zM14 64h1v1h-1zM17 64h1v1h-1zM34 64h1v1h-1zM53 64h1v1h-1zM2 65h1v1h-1zM4 65h1v1h-1zM14 65h2v1h-2zM38 65h1v1h-1zM1 66h1v1h-1zM8 66h1v1h-1zM16 66h1v1h-1zM37 66h2v1h-2zM53 66h1v1h-1zM3 67h1v1h-1zM31 67h1v1h-1zM45 67h1v1h-1zM1 68h1v1h-1zM12 68h1v1h-1zM53 68h1v1h-1zM0 69h2v1h-2zM13 69h1v1h-1zM28 69h1v1h-1zM43 69h1v1h-1zM67 69h1v1h-1zM8 70h1v1h-1zM15 70h1v1h-1zM17 70h1v1h-1zM21 70h1v1h-1zM24 70h2v1h-2zM32 70h1v1h-1zM46 70h1v1h-1zM48 70h1v1h-1zM53 70h1v1h-1zM15 71h1v1h-1zM27 71h1v1h-1zM45 71h1v1h-1zM53 71h1v1h-1zM15 72h1v1h-1zM17 72h1v1h-1zM37 72h1v1h-1zM55 72h1v1h-1zM0 73h1v1h-1zM11 73h1v1h-1zM19 73h1v1h-1zM23 73h1v1h-1zM32 73h1v1h-1zM45 73h1v1h-1zM1 74h1v1h-1zM15 74h1v1h-1zM39 74h1v1h-1zM5 75h1v1h-1zM27 75h1v1h-1zM33 75h1v1h-1zM38 75h3v1h-3z"/>
<path fill="#d2e6f0" d="M1 0h1v1h-1zM4 0h1v1h-1zM12 0h1v1h-1zM20 0h1v1h-1zM29 0h1v1h-1zM37 0h1v1h-1zM46 0h1v1h-1zM48 0h1v1h-1zM8 1h1v1h-1zM19 1h1v1h-1zM35 1h2v1h-2zM38 1h1v1h-1zM55 1h1v1h-1zM1 2h1v1h-1zM18 2h1v1h-1zM21 2h1v1h-1zM36 2h1v1h-1zM65 2h1v1h-1zM3 3h1v1h-1zM7 3h1v1h-1zM37 3h1v1h-1zM41 3h1v1h-1zM2 4h1v1h-1zM4 4h1v1h-1zM36 4h1v1h-1zM51 4h1v1h-1zM59 4h1v1h-1zM62 4h1v1h-1zM64 4h1v1h-1zM4 5h1v1h-1zM14 5h1v1h-1zM18 5h1v1h-1zM41 5h1v1h-1zM51 5h1v1h-1zM55 5h1v1h-1zM0 6h1v1h-1zM32 6h1v1h-1zM35 6h1v1h-1zM41 6h1v1h-1zM56 6h1v1h-1zM60 6h1v1h-1zM67 6h1v1h-1zM4 7h1v1h-1zM17 7h1v1h-1zM36 7h1v1h-1zM38 7h3v1h-3zM42 7h1v1h-1zM15 8h1v1h-1zM29 8h1v1h-1zM32 8h1v1h-1zM38 8h1v1h-1zM43 8h1v1h-1zM2 9h1v1h-1zM20 9h1v1h-1zM57 9h1v1h-1zM64 9h1v1h-1zM1 10h2v1h-2zM24 10h1v1h-1zM36 10h2v1h-2zM62 10h1v1h-1zM65 10h1v1h-1zM30 11h1v1h-1zM35 11h1v1h-1zM41 11h1v1h-1zM43 11h1v1h-1zM54 11h1v1h-1zM56 11h1v1h-1zM4 12h1v1h-1zM11 12h1v1h-1zM38 12h1v1h-1zM50 12h1v1h-1zM8 13h1v1h-1zM26 13h1v1h-1zM34 13h1v1h-1zM49 13h1v1h-1zM57 13h1v1h-1zM63 13h3v1h-3zM0 14h2v1h-2zM36 14h2v1h-2zM46 14h1v1h-1zM60 14h1v1h-1zM62 14h1v1h-1zM8 15h1v1h-1zM24 15h1v1h-1zM62 15h2v1h-2zM0 16h1v1h-1zM20 16h1v1h-1zM31 16h1v1h-1zM34 16h1v1h-1zM39 16h1v1h-1zM54 16h1v1h-1zM63 16h1v1h-1zM40 17h1v1h-1zM63 17h1v1h-1zM0 18h1v1h-1zM8 18h1v1h-1zM40 18h1v1h-1zM45 18h1v1h-1zM61 18h1v1h-1zM65 18h1v1h-1zM0 19h1v1h-1zM4 19h1v1h-1zM41 19h1v1h-1zM51 19h1v1h-1zM61 19h1v1h-1zM65 19h1v1h-1zM14 20h1v1h-1zM22 20h1v1h-1zM53 20h2v1h-2zM60 20h1v1h-1zM0 21h1v1h-1zM7 21h1v1h-1zM18 21h1v1h-1zM25 21h1v1h-1zM31 21h1v1h-1zM37 21h1v1h-1zM60 21h1v1h-1zM1 22h1v1h-1zM8 23h1v1h-1zM15 23h1v1h-1zM33 23h1v1h-1zM44 23h1v1h-1zM64 23h1v1h-1zM7 24h2v1h-2zM10 24h1v1h-1zM14 24h1v1h-1zM39 24h1v1h-1zM41 24h1v1h-1zM54 24h1v1h-1zM0 25h1v1h-1zM2 25h1v1h-1zM5 25h1v1h-1zM9 25h2v1h-2zM17 25h1v1h-1zM36 25h1v1h-1zM38 25h1v1h-1zM51 25h1v1h-1zM59 25h2v1h-2zM4 26h1v1h-1zM9 26h1v1h-1zM11 26h1v1h-1zM30 26h1v1h-1zM53 26h1v1h-1zM55 26h1v1h-1zM4 27h2v1h-2zM8 27h2v1h-2zM11 27h1v1h-1zM42 28h1v1h-1zM45 28h1v1h-1zM39 29h1v1h-1zM4 30h2v1h-2zM11 30h1v1h-1zM13 30h1v1h-1zM38 30h1v1h-1zM63 30h2v1h-2zM1 31h1v1h-1zM6 31h1v1h-1zM12 31h1v1h-1zM54 31h1v1h-1zM0 32h1v1h-1zM13 32h1v1h-1zM21 32h1v1h-1zM33 32h1v1h-1zM36 32h2v1h-2zM50 32h1v1h-1zM52 32h1v1h-1zM59 32h1v1h-1zM40 33h2v1h-2zM54 33h1v1h-1zM3 34h1v1h-1zM10 34h1v1h-1zM12 34h1v1h-1zM35 34h1v1h-1zM42 34h1v1h-1zM44 34h1v1h-1zM1 35h2v1h-2zM15 35h2v1h-2zM41 35h1v1h-1zM50 35h1v1h-1zM52 35h1v1h-1zM64 35h1v1h-1zM66 35h1v1h-1zM1 36h1v1h-1zM12 36h1v1h-1zM14 36h1v1h-1zM32 36h1v1h-1zM38 36h1v1h-1zM51 36h1v1h-1zM64 36h1v1h-1zM5 37h1v1h-1zM13 37h1v1h-1zM16 37h1v1h-1zM38 37h1v1h-1zM17 38h1v1h-1zM20 38h1v1h-1zM7 39h1v1h-1zM11 39h1v1h-1zM44 39h2v1h-2zM51 39h1v1h-1zM6 40h1v1h-1zM40 40h1v1h-1zM46 40h1v1h-1zM11 41h1v1h-1zM13 41h1v1h-1zM16 41h1v1h-1zM32 41h2v1h-2zM39 41h1v1h-1zM47 41h1v1h-1zM60 41h1v1h-1zM65 41h1v1h-1zM6 42h3v1h-3zM17 42h1v1h-1zM36 42h1v1h-1zM41 42h2v1h-2zM46 42h1v1h-1zM4 43h1v1h-1zM6 43h1v1h-1zM41 43h2v1h-2zM62 43h1v1h-1zM65 43h1v1h-1zM2 44h1v1h-1zM23 44h1v1h-1zM34 44h1v1h-1zM64 44h1v1h-1zM0 45h3v1h-3zM5 45h2v1h-2zM12 45h1v1h-1zM34 45h1v1h-1zM40 45h1v1h-1zM8 46h1v1h-1zM10 46h1v1h-1zM15 46h1v1h-1zM36 46h1v1h-1zM4 47h1v1h-1zM8 47h1v1h-1zM14 47h1v1h-1zM60 47h1v1h-1zM0 48h1v1h-1zM2 48h1v1h-1zM5 48h1v1h-1zM8 48h1v1h-1zM15 48h1v1h-1zM33 48h1v1h-1zM61 48h1v1h-1zM1 49h2v1h-2zM6 49h1v1h-1zM12 49h1v1h-1zM53 49h1v1h-1zM64 49h2v1h-2zM2 50h1v1h-1zM9 50h1v1h-1zM20 50h1v1h-1zM32 50h1v1h-1zM57 50h1v1h-1zM0 51h1v1h-1zM11 51h1v1h-1zM15 51h1v1h-1zM17 51h1v1h-1zM59 51h1v1h-1zM5 52h1v1h-1zM2 53h1v1h-1zM4 53h1v1h-1zM15 53h1v1h-1zM33 53h1v1h-1zM37 53h1v1h-1zM62 53h1v1h-1zM65 53h1v1h-1zM1 54h1v1h-1zM6 54h1v1h-1zM32 54h1v1h-1zM34 54h1v1h-1zM41 54h1v1h-1zM8 55h1v1h-1zM14 55h1v1h-1zM34 55h1v1h-1zM38 55h1v1h-1zM45 55h1v1h-1zM0 56h1v1h-1zM5 56h1v1h-1zM27 56h1v1h-1zM53 56h1v1h-1zM0 57h1v1h-1zM8 57h1v1h-1zM23 57h1v1h-1zM27 57h1v1h-1zM34 57h1v1h-1zM36 57h2v1h-2zM47 57h1v1h-1zM50 57h1v1h-1zM1 58h2v1h-2zM5 58h1v1h-1zM37 58h1v1h-1zM11 59h1v1h-1zM42 59h1v1h-1zM54 59h1v1h-1zM0 60h2v1h-2zM11 60h1v1h-1zM33 60h1v1h-1zM41 60h1v1h-1zM67 60h1v1h-1zM4 61h1v1h-1zM24 61h1v1h-1zM4 62h1v1h-1zM6 62h1v1h-1zM8 62h1v1h-1zM12 62h1v1h-1zM16 62h1v1h-1zM36 62h1v1h-1zM65 62h1v1h-1zM2 63h1v1h-1zM11 63h1v1h-1zM15 63h1v1h-1zM8 64h1v1h-1zM11 64h1v1h-1zM15 64h2v1h-2zM36 64h3v1h-3zM0 65h1v1h-1zM11 65h1v1h-1zM37 65h1v1h-1zM40 65h1v1h-1zM49 65h1v1h-1zM11 66h1v1h-1zM18 66h1v1h-1zM30 66h1v1h-1zM33 66h1v1h-1zM65 66h1v1h-1zM1 67h1v1h-1zM6 67h1v1h-1zM32 67h1v1h-1zM49 67h1v1h-1zM67 67h1v1h-1zM2 68h1v1h-1zM37 68h1v1h-1zM8 69h1v1h-1zM15 69h2v1h-2zM44 69h1v1h-1zM49 69h1v1h-1zM7 70h1v1h-1zM40 70h1v1h-1zM61 70h1v1h-1zM65 70h1v1h-1zM5 71h1v1h-1zM12 71h1v1h-1zM35 71h1v1h-1zM37 71h1v1h-1zM40 72h1v1h-1zM60 72h1v1h-1zM10 73h1v1h-1zM15 73h2v1h-2zM24 73h1v1h-1zM29 73h1v1h-1zM33 73h1v1h-1zM38 73h1v1h-1zM40 73h1v1h-1zM54 73h1v1h-1zM4 74h1v1h-1zM28 74h1v1h-1zM35 74h1v1h-1zM38 74h1v1h-1zM1 75h1v1h-1zM4 75h1v1h-1zM16 75h1v1h-1zM37 75h1v1h-1z"/>
<path fill="#e1edf3" d="M10 0h1v1h-1zM27 0h1v1h-1zM30 0h1v1h-1zM35 0h1v1h-1zM63 0h1v1h-1zM12 1h1v1h-1zM21 1h1v1h-1zM23 1h1v1h-1zM27 1h1v1h-1zM66 1h1v1h-1zM17 2h1v1h-1zM45 2h1v1h-1zM57 2h1v1h-1zM67 2h1v1h-1zM1 3h1v1h-1zM5 3h1v1h-1zM23 3h1v1h-1zM26 3h1v1h-1zM34 3h1v1h-1zM40 3h1v1h-1zM42 3h1v1h-1zM35 4h1v1h-1zM41 4h1v1h-1zM45 4h2v1h-2zM7 5h2v1h-2zM33 5h1v1h-1zM6 6h1v1h-1zM12 6h1v1h-1zM16 6h1v1h-1zM22 6h1v1h-1zM36 6h1v1h-1zM40 6h1v1h-1zM46 6h1v1h-1zM53 6h1v1h-1zM58 6h1v1h-1zM66 6h1v1h-1zM2 7h1v1h-1zM15 7h1v1h-1zM28 7h1v1h-1zM63 7h1v1h-1zM13 8h2v1h-2zM26 8h1v1h-1zM51 8h1v1h-1zM29 9h1v1h-1zM31 9h1v1h-1zM40 9h1v1h-1zM50 9h1v1h-1zM55 9h1v1h-1zM5 10h1v1h-1zM26 10h1v1h-1zM34 10h1v1h-1zM49 10h1v1h-1zM57 10h2v1h-2zM61 10h1v1h-1zM67 10h1v1h-1zM6 11h1v1h-1zM8 11h1v1h-1zM16 11h1v1h-1zM45 11h1v1h-1zM10 12h1v1h-1zM18 12h1v1h-1zM32 12h1v1h-1zM35 12h1v1h-1zM54 12h1v1h-1zM57 12h1v1h-1zM11 13h1v1h-1zM17 13h2v1h-2zM28 13h1v1h-1zM40 13h2v1h-2zM66 13h1v1h-1zM21 14h1v1h-1zM33 14h1v1h-1zM35 14h1v1h-1zM38 14h1v1h-1zM55 14h1v1h-1zM21 15h1v1h-1zM23 15h1v1h-1zM34 15h1v1h-1zM42 15h1v1h-1zM55 15h1v1h-1zM59 15h1v1h-1zM64 15h1v1h-1zM43 16h1v1h-1zM4 17h1v1h-1zM9 17h1v1h-1zM24 17h1v1h-1zM60 17h1v1h-1zM64 17h1v1h-1zM2 18h1v1h-1zM52 18h1v1h-1zM5 19h1v1h-1zM35 19h1v1h-1zM40 19h1v1h-1zM42 19h2v1h-2zM0 20h2v1h-2zM12 20h1v1h-1zM31 20h1v1h-1zM34 20h1v1h-1zM65 20h1v1h-1zM15 21h1v1h-1zM26 21h1v1h-1zM32 21h2v1h-2zM41 21h1v1h-1zM47 21h1v1h-1zM4 22h1v1h-1zM7 22h1v1h-1zM15 22h1v1h-1zM33 22h1v1h-1zM39 22h1v1h-1zM56 22h1v1h-1zM63 22h3v1h-3zM2 23h1v1h-1zM20 23h1v1h-1zM48 23h1v1h-1zM53 23h1v1h-1zM58 23h1v1h-1zM13 24h1v1h-1zM50 24h1v1h-1zM62 24h1v1h-1zM64 24h1v1h-1zM11 25h1v1h-1zM14 25h1v1h-1zM18 25h1v1h-1zM33 25h2v1h-2zM55 25h1v1h-1zM15 26h1v1h-1zM60 26h1v1h-1zM15 27h1v1h-1zM45 27h1v1h-1zM53 27h1v1h-1zM55 27h1v1h-1zM59 27h1v1h-1zM49 28h1v1h-1zM53 28h2v1h-2zM6 29h1v1h-1zM10 29h1v1h-1zM32 29h1v1h-1zM41 29h1v1h-1zM56 29h1v1h-1zM60 29h1v1h-1zM6 30h2v1h-2zM33 30h1v1h-1zM44 30h1v1h-1zM49 30h1v1h-1zM61 30h1v1h-1zM0 31h1v1h-1zM8 31h1v1h-1zM11 31h1v1h-1zM40 31h1v1h-1zM42 31h1v1h-1zM46 31h1v1h-1zM60 31h2v1h-2zM7 32h1v1h-1zM10 32h1v1h-1zM64 32h1v1h-1zM7 33h1v1h-1zM30 33h1v1h-1zM42 33h1v1h-1zM52 33h1v1h-1zM57 33h1v1h-1zM0 34h1v1h-1zM16 34h1v1h-1zM34 34h1v1h-1zM38 34h1v1h-1zM41 34h1v1h-1zM52 34h1v1h-1zM62 34h1v1h-1zM10 35h1v1h-1zM34 35h1v1h-1zM56 35h1v1h-1zM67 35h1v1h-1zM7 36h1v1h-1zM11 36h1v1h-1zM63 36h1v1h-1zM65 36h1v1h-1zM6 37h1v1h-1zM10 37h1v1h-1zM44 37h1v1h-1zM65 37h1v1h-1zM9 38h1v1h-1zM44 38h1v1h-1zM61 38h1v1h-1zM17 39h1v1h-1zM4 40h1v1h-1zM8 40h1v1h-1zM10 40h1v1h-1zM31 40h1v1h-1zM33 40h1v1h-1zM44 40h1v1h-1zM1 41h1v1h-1zM8 41h2v1h-2zM17 41h2v1h-2zM22 41h1v1h-1zM19 42h1v1h-1zM9 43h1v1h-1zM11 43h2v1h-2zM43 43h1v1h-1zM64 43h1v1h-1zM0 44h1v1h-1zM6 44h2v1h-2zM10 44h1v1h-1zM17 44h1v1h-1zM33 44h1v1h-1zM35 44h1v1h-1zM53 44h1v1h-1zM10 45h2v1h-2zM35 45h1v1h-1zM62 45h1v1h-1zM0 46h1v1h-1zM7 46h1v1h-1zM20 46h1v1h-1zM35 46h1v1h-1zM53 46h1v1h-1zM1 47h1v1h-1zM35 47h1v1h-1zM37 47h1v1h-1zM61 47h1v1h-1zM6 48h1v1h-1zM11 48h1v1h-1zM21 48h1v1h-1zM8 49h1v1h-1zM11 49h1v1h-1zM36 49h1v1h-1zM38 49h1v1h-1zM67 49h1v1h-1zM7 50h2v1h-2zM18 50h1v1h-1zM33 50h1v1h-1zM43 50h1v1h-1zM4 51h1v1h-1zM20 51h1v1h-1zM23 51h1v1h-1zM26 51h1v1h-1zM62 51h1v1h-1zM34 52h1v1h-1zM39 52h2v1h-2zM42 52h1v1h-1zM1 53h1v1h-1zM7 53h1v1h-1zM10 53h1v1h-1zM14 53h1v1h-1zM16 53h1v1h-1zM56 53h1v1h-1zM0 54h1v1h-1zM5 54h1v1h-1zM12 54h1v1h-1zM16 54h1v1h-1zM25 54h1v1h-1zM45 54h1v1h-1zM65 54h1v1h-1zM0 55h1v1h-1zM2 55h1v1h-1zM30 55h1v1h-1zM65 55h1v1h-1zM4 56h1v1h-1zM11 56h2v1h-2zM15 56h1v1h-1zM38 56h1v1h-1zM48 56h1v1h-1zM2 57h1v1h-1zM15 57h2v1h-2zM19 57h1v1h-1zM40 57h1v1h-1zM54 57h1v1h-1zM0 58h1v1h-1zM6 58h1v1h-1zM9 58h2v1h-2zM17 58h1v1h-1zM32 58h1v1h-1zM34 58h1v1h-1zM60 58h1v1h-1zM67 58h1v1h-1zM58 59h1v1h-1zM64 59h1v1h-1zM22 60h1v1h-1zM32 60h1v1h-1zM36 60h1v1h-1zM39 60h1v1h-1zM49 60h1v1h-1zM0 61h1v1h-1zM6 61h2v1h-2zM13 61h2v1h-2zM35 61h1v1h-1zM44 61h1v1h-1zM0 62h1v1h-1zM2 62h1v1h-1zM7 62h1v1h-1zM31 62h2v1h-2zM34 62h1v1h-1zM47 62h1v1h-1zM51 62h1v1h-1zM60 62h1v1h-1zM8 63h1v1h-1zM14 63h1v1h-1zM26 63h1v1h-1zM40 63h1v1h-1zM59 63h1v1h-1zM4 64h1v1h-1zM24 64h1v1h-1zM30 64h1v1h-1zM41 64h1v1h-1zM67 64h1v1h-1zM1 65h1v1h-1zM6 65h2v1h-2zM47 65h1v1h-1zM54 65h1v1h-1zM5 66h1v1h-1zM45 66h1v1h-1zM49 66h1v1h-1zM62 66h1v1h-1zM9 67h1v1h-1zM12 67h1v1h-1zM27 67h1v1h-1zM0 68h1v1h-1zM6 68h1v1h-1zM32 68h1v1h-1zM38 68h1v1h-1zM4 69h1v1h-1zM11 69h1v1h-1zM19 69h1v1h-1zM22 69h1v1h-1zM26 69h1v1h-1zM31 69h2v1h-2zM42 69h1v1h-1zM4 70h1v1h-1zM10 70h1v1h-1zM13 70h1v1h-1zM28 70h1v1h-1zM43 70h1v1h-1zM16 71h1v1h-1zM32 71h1v1h-1zM40 71h2v1h-2zM43 71h1v1h-1zM58 71h1v1h-1zM8 72h1v1h-1zM12 72h1v1h-1zM23 72h1v1h-1zM26 72h1v1h-1zM39 72h1v1h-1zM43 72h1v1h-1zM54 72h1v1h-1zM13 73h2v1h-2zM20 73h1v1h-1zM27 73h1v1h-1zM36 73h1v1h-1zM8 74h1v1h-1zM53 74h1v1h-1zM0 75h1v1h-1zM21 75h1v1h-1zM34 75h1v1h-1zM43 75h1v1h-1zM46 75h1v1h-1zM53 75h1v1h-1zM63 75h1v1h-1z"/>
<path fill="#edf2f5" d="M17 0h1v1h-1zM33 0h1v1h-1zM38 0h1v1h-1zM47 0h1v1h-1zM56 0h1v1h-1zM1 1h2v1h-2zM11 1h1v1h-1zM17 1h1v1h-1zM31 1h1v1h-1zM37 1h1v1h-1zM51 1h1v1h-1zM59 1h2v1h-2zM6 2h1v1h-1zM23 2h1v1h-1zM37 2h1v1h-1zM48 2h1v1h-1zM0 3h1v1h-1zM4 3h1v1h-1zM33 3h1v1h-1zM38 3h1v1h-1zM55 3h1v1h-1zM1 4h1v1h-1zM5 4h1v1h-1zM15 4h1v1h-1zM17 4h1v1h-1zM40 4h1v1h-1zM65 4h1v1h-1zM9 5h1v1h-1zM11 5h1v1h-1zM17 5h1v1h-1zM20 5h1v1h-1zM54 5h1v1h-1zM7 6h1v1h-1zM23 6h1v1h-1zM49 6h1v1h-1zM59 6h1v1h-1zM0 7h1v1h-1zM10 7h1v1h-1zM14 7h1v1h-1zM31 7h1v1h-1zM55 7h1v1h-1zM64 7h1v1h-1zM40 8h1v1h-1zM63 8h1v1h-1zM7 9h1v1h-1zM18 9h1v1h-1zM33 9h1v1h-1zM48 9h1v1h-1zM58 9h2v1h-2zM62 9h1v1h-1zM67 9h1v1h-1zM4 10h1v1h-1zM6 10h1v1h-1zM8 10h1v1h-1zM12 10h1v1h-1zM15 10h1v1h-1zM21 10h2v1h-2zM28 10h1v1h-1zM30 10h1v1h-1zM33 10h1v1h-1zM53 10h1v1h-1zM59 10h2v1h-2zM2 11h1v1h-1zM4 11h2v1h-2zM19 11h1v1h-1zM23 11h1v1h-1zM47 11h1v1h-1zM52 11h2v1h-2zM62 11h1v1h-1zM67 11h1v1h-1zM1 12h1v1h-1zM7 12h2v1h-2zM34 12h1v1h-1zM37 12h1v1h-1zM42 12h1v1h-1zM61 12h1v1h-1zM67 12h1v1h-1zM9 13h1v1h-1zM24 13h2v1h-2zM27 13h1v1h-1zM33 13h1v1h-1zM44 13h1v1h-1zM7 14h1v1h-1zM14 14h1v1h-1zM26 14h2v1h-2zM45 14h1v1h-1zM58 14h1v1h-1zM66 14h1v1h-1zM9 15h1v1h-1zM20 15h1v1h-1zM31 15h1v1h-1zM40 15h1v1h-1zM46 15h1v1h-1zM54 15h1v1h-1zM60 15h1v1h-1zM38 16h1v1h-1zM40 16h1v1h-1zM61 16h1v1h-1zM64 16h2v1h-2zM6 17h1v1h-1zM10 17h1v1h-1zM20 17h1v1h-1zM28 17h1v1h-1zM32 17h1v1h-1zM51 17h1v1h-1zM67 17h1v1h-1zM17 18h1v1h-1zM25 18h1v1h-1zM32 18h1v1h-1zM35 18h1v1h-1zM12 19h1v1h-1zM15 19h1v1h-1zM17 19h1v1h-1zM38 19h1v1h-1zM15 20h1v1h-1zM17 20h1v1h-1zM19 20h1v1h-1zM26 20h1v1h-1zM41 20h2v1h-2zM46 20h1v1h-1zM56 20h1v1h-1zM63 20h1v1h-1zM6 21h1v1h-1zM12 21h1v1h-1zM40 21h1v1h-1zM64 21h1v1h-1zM66 21h1v1h-1zM6 22h1v1h-1zM14 22h1v1h-1zM17 22h1v1h-1zM54 22h1v1h-1zM57 22h1v1h-1zM60 22h1v1h-1zM52 23h1v1h-1zM62 23h1v1h-1zM9 24h1v1h-1zM11 24h1v1h-1zM18 24h1v1h-1zM51 24h1v1h-1zM67 24h1v1h-1zM15 25h1v1h-1zM37 25h1v1h-1zM53 25h1v1h-1zM65 25h1v1h-1zM16 26h1v1h-1zM21 26h1v1h-1zM7 27h1v1h-1zM14 27h1v1h-1zM31 27h1v1h-1zM33 27h1v1h-1zM44 27h1v1h-1zM62 27h1v1h-1zM67 27h1v1h-1zM4 28h1v1h-1zM7 28h1v1h-1zM15 28h1v1h-1zM25 28h1v1h-1zM34 28h1v1h-1zM43 28h1v1h-1zM50 28h1v1h-1zM11 29h1v1h-1zM14 29h2v1h-2zM28 29h1v1h-1zM34 29h1v1h-1zM61 29h1v1h-1zM64 29h1v1h-1zM66 29h2v1h-2zM17 30h1v1h-1zM34 30h1v1h-1zM43 30h1v1h-1zM2 31h1v1h-1zM7 31h1v1h-1zM15 31h1v1h-1zM38 31h1v1h-1zM41 31h1v1h-1zM48 31h1v1h-1zM51 31h2v1h-2zM45 32h1v1h-1zM63 32h1v1h-1zM13 33h1v1h-1zM19 33h1v1h-1zM36 33h1v1h-1zM49 33h1v1h-1zM62 33h1v1h-1zM7 34h2v1h-2zM15 34h1v1h-1zM20 34h1v1h-1zM24 34h1v1h-1zM37 34h1v1h-1zM63 34h2v1h-2zM67 34h1v1h-1zM4 35h1v1h-1zM6 35h1v1h-1zM44 35h1v1h-1zM47 35h1v1h-1zM10 36h1v1h-1zM47 36h1v1h-1zM61 36h1v1h-1zM2 37h1v1h-1zM7 37h2v1h-2zM33 37h1v1h-1zM42 37h1v1h-1zM61 37h1v1h-1zM11 38h1v1h-1zM13 38h2v1h-2zM18 38h1v1h-1zM21 38h1v1h-1zM24 38h1v1h-1zM63 38h1v1h-1zM12 39h1v1h-1zM14 39h1v1h-1zM36 39h1v1h-1zM43 39h1v1h-1zM47 39h1v1h-1zM54 39h1v1h-1zM65 39h1v1h-1zM67 39h1v1h-1zM2 40h1v1h-1zM13 40h1v1h-1zM17 40h1v1h-1zM43 40h1v1h-1zM55 40h1v1h-1zM6 41h1v1h-1zM10 41h1v1h-1zM23 41h1v1h-1zM28 41h1v1h-1zM41 41h1v1h-1zM56 41h1v1h-1zM66 41h2v1h-2zM9 42h1v1h-1zM11 42h2v1h-2zM15 42h1v1h-1zM18 42h1v1h-1zM63 42h1v1h-1zM66 42h1v1h-1zM44 43h1v1h-1zM56 43h1v1h-1zM60 43h1v1h-1zM9 44h1v1h-1zM12 44h1v1h-1zM16 44h1v1h-1zM40 44h1v1h-1zM8 45h1v1h-1zM14 45h2v1h-2zM24 45h1v1h-1zM63 45h1v1h-1zM6 46h1v1h-1zM19 46h1v1h-1zM37 46h1v1h-1zM66 46h1v1h-1zM7 47h1v1h-1zM12 47h1v1h-1zM15 47h1v1h-1zM36 47h1v1h-1zM42 47h1v1h-1zM55 47h1v1h-1zM62 47h2v1h-2zM65 47h1v1h-1zM67 47h1v1h-1zM35 48h1v1h-1zM39 48h1v1h-1zM67 48h1v1h-1zM17 49h1v1h-1zM22 49h1v1h-1zM42 49h1v1h-1zM48 49h1v1h-1zM61 49h1v1h-1zM63 49h1v1h-1zM15 50h1v1h-1zM19 50h1v1h-1zM23 50h1v1h-1zM41 50h1v1h-1zM52 50h1v1h-1zM62 50h1v1h-1zM7 51h1v1h-1zM12 51h2v1h-2zM33 51h2v1h-2zM38 51h1v1h-1zM40 51h1v1h-1zM66 51h2v1h-2zM4 52h1v1h-1zM6 52h2v1h-2zM63 52h1v1h-1zM12 53h1v1h-1zM38 53h1v1h-1zM60 53h1v1h-1zM64 53h1v1h-1zM9 54h1v1h-1zM36 54h1v1h-1zM49 54h1v1h-1zM54 54h1v1h-1zM63 54h1v1h-1zM67 54h1v1h-1zM5 55h1v1h-1zM9 55h1v1h-1zM60 55h1v1h-1zM63 55h1v1h-1zM17 56h1v1h-1zM20 56h1v1h-1zM31 56h1v1h-1zM7 57h1v1h-1zM11 57h1v1h-1zM14 57h1v1h-1zM62 57h1v1h-1zM4 58h1v1h-1zM12 58h2v1h-2zM15 58h2v1h-2zM60 59h2v1h-2zM65 59h1v1h-1zM6 60h1v1h-1zM14 60h2v1h-2zM17 60h1v1h-1zM34 60h1v1h-1zM1 61h2v1h-2zM34 61h1v1h-1zM37 61h1v1h-1zM40 61h1v1h-1zM42 61h1v1h-1zM49 61h1v1h-1zM63 61h1v1h-1zM11 62h1v1h-1zM15 62h1v1h-1zM26 62h1v1h-1zM37 62h1v1h-1zM19 63h1v1h-1zM50 63h1v1h-1zM60 63h1v1h-1zM6 64h1v1h-1zM9 64h1v1h-1zM12 64h1v1h-1zM29 64h1v1h-1zM54 64h1v1h-1zM59 64h1v1h-1zM10 65h1v1h-1zM34 65h1v1h-1zM36 65h1v1h-1zM39 65h1v1h-1zM41 65h1v1h-1zM57 65h1v1h-1zM32 66h1v1h-1zM34 66h1v1h-1zM36 66h1v1h-1zM44 66h1v1h-1zM54 66h1v1h-1zM7 67h1v1h-1zM37 67h2v1h-2zM44 67h1v1h-1zM53 67h1v1h-1zM10 68h1v1h-1zM18 68h1v1h-1zM7 69h1v1h-1zM10 69h1v1h-1zM35 69h1v1h-1zM37 69h2v1h-2zM54 69h1v1h-1zM2 70h1v1h-1zM12 70h1v1h-1zM27 70h1v1h-1zM37 70h1v1h-1zM44 70h1v1h-1zM17 71h1v1h-1zM42 71h1v1h-1zM48 71h1v1h-1zM56 71h1v1h-1zM61 71h2v1h-2zM5 72h1v1h-1zM36 72h1v1h-1zM47 72h1v1h-1zM1 73h1v1h-1zM6 73h1v1h-1zM9 73h1v1h-1zM25 73h1v1h-1zM41 73h1v1h-1zM53 73h1v1h-1zM59 73h1v1h-1zM7 74h1v1h-1zM16 74h1v1h-1zM18 74h1v1h-1zM31 74h1v1h-1zM37 74h1v1h-1zM45 74h1v1h-1zM52 74h1v1h-1zM8 75h1v1h-1z"/>
<path fill="#f9f0eb" d="M6 0h2v1h-2zM32 0h1v1h-1zM39 0h2v1h-2zM64 0h1v1h-1zM10 1h1v1h-1zM22 1h1v1h-1zM29 1h1v1h-1zM49 1h1v1h-1zM61 1h1v1h-1zM2 2h1v1h-1zM20 2h1v1h-1zM34 2h1v1h-1zM42 2h1v1h-1zM46 2h1v1h-1zM54 2h1v1h-1zM11 3h2v1h-2zM16 3h1v1h-1zM19 3h1v1h-1zM31 3h1v1h-1zM36 3h1v1h-1zM57 3h1v1h-1zM11 4h1v1h-1zM14 4h1v1h-1zM21 4h1v1h-1zM12 5h1v1h-1zM15 5h1v1h-1zM23 5h1v1h-1zM26 5h1v1h-1zM34 5h1v1h-1zM44 5h1v1h-1zM9 6h2v1h-2zM8 7h1v1h-1zM21 7h2v1h-2zM7 8h1v1h-1zM11 8h1v1h-1zM19 8h1v1h-1zM23 8h1v1h-1zM30 8h1v1h-1zM50 8h1v1h-1zM59 8h2v1h-2zM10 9h1v1h-1zM19 9h1v1h-1zM46 9h1v1h-1zM13 10h1v1h-1zM18 10h1v1h-1zM51 10h2v1h-2zM9 11h2v1h-2zM17 11h1v1h-1zM27 11h1v1h-1zM34 11h1v1h-1zM24 12h1v1h-1zM27 12h1v1h-1zM58 12h1v1h-1zM65 12h1v1h-1zM10 13h1v1h-1zM15 13h1v1h-1zM23 13h1v1h-1zM50 13h1v1h-1zM12 14h1v1h-1zM64 14h1v1h-1zM17 15h1v1h-1zM19 15h1v1h-1zM22 15h1v1h-1zM28 15h1v1h-1zM36 15h1v1h-1zM45 15h1v1h-1zM47 15h1v1h-1zM49 15h1v1h-1zM41 16h1v1h-1zM45 16h1v1h-1zM49 16h1v1h-1zM51 16h1v1h-1zM55 16h1v1h-1zM17 17h1v1h-1zM27 17h1v1h-1zM38 17h1v1h-1zM43 17h1v1h-1zM16 18h1v1h-1zM19 18h1v1h-1zM27 18h2v1h-2zM38 18h1v1h-1zM42 18h1v1h-1zM14 19h1v1h-1zM21 19h1v1h-1zM31 19h1v1h-1zM34 19h1v1h-1zM44 19h1v1h-1zM7 20h1v1h-1zM20 20h1v1h-1zM40 20h1v1h-1zM8 21h1v1h-1zM11 21h1v1h-1zM36 21h1v1h-1zM43 21h1v1h-1zM45 21h1v1h-1zM52 21h1v1h-1zM57 21h1v1h-1zM67 21h1v1h-1zM8 22h1v1h-1zM20 22h1v1h-1zM46 22h1v1h-1zM62 22h1v1h-1zM14 23h1v1h-1zM24 23h2v1h-2zM56 23h1v1h-1zM65 23h1v1h-1zM30 24h1v1h-1zM36 24h1v1h-1zM43 24h1v1h-1zM60 24h1v1h-1zM7 25h1v1h-1zM16 25h1v1h-1zM41 25h1v1h-1zM56 25h1v1h-1zM63 25h2v1h-2zM6 26h1v1h-1zM13 26h1v1h-1zM31 26h1v1h-1zM33 26h2v1h-2zM47 26h3v1h-3zM52 26h1v1h-1zM64 26h1v1h-1zM67 26h1v1h-1zM13 27h1v1h-1zM47 27h1v1h-1zM61 27h1v1h-1zM65 27h2v1h-2zM6 28h1v1h-1zM33 28h1v1h-1zM66 28h1v1h-1zM13 29h1v1h-1zM46 29h1v1h-1zM48 29h1v1h-1zM50 30h1v1h-1zM16 31h2v1h-2zM33 31h1v1h-1zM5 32h1v1h-1zM49 32h1v1h-1zM66 32h1v1h-1zM8 33h1v1h-1zM20 33h1v1h-1zM28 33h1v1h-1zM43 33h1v1h-1zM59 33h1v1h-1zM63 33h1v1h-1zM66 33h1v1h-1zM14 34h1v1h-1zM46 34h2v1h-2zM55 34h2v1h-2zM13 35h1v1h-1zM20 35h1v1h-1zM32 35h1v1h-1zM43 35h1v1h-1zM46 35h1v1h-1zM61 35h1v1h-1zM13 36h1v1h-1zM16 36h1v1h-1zM22 36h1v1h-1zM34 36h1v1h-1zM49 36h1v1h-1zM11 37h1v1h-1zM22 37h1v1h-1zM31 37h1v1h-1zM46 37h1v1h-1zM48 37h1v1h-1zM59 37h1v1h-1zM66 37h1v1h-1zM10 38h1v1h-1zM25 38h1v1h-1zM40 38h1v1h-1zM42 38h1v1h-1zM45 38h1v1h-1zM55 38h1v1h-1zM67 38h1v1h-1zM6 39h1v1h-1zM8 39h1v1h-1zM15 39h1v1h-1zM23 39h1v1h-1zM30 39h1v1h-1zM37 39h1v1h-1zM49 39h1v1h-1zM59 39h1v1h-1zM61 39h1v1h-1zM63 39h1v1h-1zM66 39h1v1h-1zM15 40h1v1h-1zM34 40h1v1h-1zM57 41h1v1h-1zM14 42h1v1h-1zM34 42h1v1h-1zM44 42h1v1h-1zM50 42h1v1h-1zM55 42h1v1h-1zM13 43h1v1h-1zM18 43h1v1h-1zM30 43h1v1h-1zM8 44h1v1h-1zM22 44h1v1h-1zM42 44h1v1h-1zM65 44h1v1h-1zM16 45h1v1h-1zM19 45h1v1h-1zM33 45h1v1h-1zM50 45h1v1h-1zM52 45h1v1h-1zM13 46h1v1h-1zM43 46h1v1h-1zM60 46h1v1h-1zM63 46h1v1h-1zM10 47h1v1h-1zM13 47h1v1h-1zM33 47h1v1h-1zM46 47h1v1h-1zM9 48h1v1h-1zM17 48h1v1h-1zM23 48h1v1h-1zM27 48h1v1h-1zM30 48h1v1h-1zM13 50h1v1h-1zM50 50h1v1h-1zM59 50h1v1h-1zM61 50h1v1h-1zM5 51h1v1h-1zM9 51h1v1h-1zM21 51h1v1h-1zM35 51h1v1h-1zM65 51h1v1h-1zM8 52h1v1h-1zM10 52h2v1h-2zM15 52h1v1h-1zM22 52h1v1h-1zM33 52h1v1h-1zM44 52h1v1h-1zM54 52h1v1h-1zM58 52h1v1h-1zM9 53h1v1h-1zM21 53h1v1h-1zM46 53h1v1h-1zM52 53h1v1h-1zM58 53h1v1h-1zM61 53h1v1h-1zM27 54h1v1h-1zM60 54h1v1h-1zM17 55h1v1h-1zM19 55h1v1h-1zM50 55h1v1h-1zM52 55h1v1h-1zM56 55h1v1h-1zM66 55h1v1h-1zM13 56h1v1h-1zM33 56h1v1h-1zM45 56h1v1h-1zM52 56h1v1h-1zM63 56h1v1h-1zM10 57h1v1h-1zM17 57h1v1h-1zM25 57h1v1h-1zM45 57h1v1h-1zM59 57h1v1h-1zM65 57h1v1h-1zM14 58h1v1h-1zM41 58h1v1h-1zM43 58h1v1h-1zM45 58h1v1h-1zM54 58h1v1h-1zM63 58h1v1h-1zM10 59h1v1h-1zM14 59h1v1h-1zM17 59h1v1h-1zM31 59h1v1h-1zM37 59h1v1h-1zM46 59h1v1h-1zM59 59h1v1h-1zM67 59h1v1h-1zM16 60h1v1h-1zM44 60h1v1h-1zM17 61h1v1h-1zM50 61h1v1h-1zM67 61h1v1h-1zM64 62h1v1h-1zM17 63h1v1h-1zM44 63h1v1h-1zM10 64h1v1h-1zM63 64h1v1h-1zM33 65h1v1h-1zM52 65h2v1h-2zM61 65h1v1h-1zM7 66h1v1h-1zM12 66h2v1h-2zM17 66h1v1h-1zM19 66h1v1h-1zM24 66h1v1h-1zM4 67h1v1h-1zM8 67h1v1h-1zM18 67h1v1h-1zM41 67h1v1h-1zM43 67h1v1h-1zM58 67h1v1h-1zM14 68h1v1h-1zM17 68h1v1h-1zM21 68h2v1h-2zM34 68h1v1h-1zM41 68h1v1h-1zM43 68h2v1h-2zM67 68h1v1h-1zM33 69h1v1h-1zM36 69h1v1h-1zM56 69h1v1h-1zM63 69h1v1h-1zM45 70h1v1h-1zM51 70h1v1h-1zM64 70h1v1h-1zM7 71h1v1h-1zM18 71h2v1h-2zM21 71h1v1h-1zM34 71h1v1h-1zM54 71h1v1h-1zM7 72h1v1h-1zM42 72h1v1h-1zM50 72h1v1h-1zM61 72h2v1h-2zM64 72h1v1h-1zM21 73h1v1h-1zM31 73h1v1h-1zM34 73h1v1h-1zM44 73h1v1h-1zM49 73h1v1h-1zM51 73h1v1h-1zM23 74h2v1h-2zM27 74h1v1h-1zM36 74h1v1h-1zM41 74h1v1h-1zM46 74h2v1h-2zM49 74h1v1h-1zM60 74h2v1h-2zM63 74h2v1h-2zM66 74h1v1h-1zM6 75h2v1h-2zM10 75h1v1h-1zM17 75h1v1h-1zM44 75h1v1h-1zM55 75h1v1h-1zM57 75h2v1h-2zM60 75h1v1h-1zM62 75h1v1h-1zM65 75h1v1h-1z"/>
<path fill="#fae7dc" d="M0 0h1v1h-1zM9 0h1v1h-1zM34 0h1v1h-1zM50 0h2v1h-2zM57 0h1v1h-1zM65 0h1v1h-1zM7 1h1v1h-1zM14 1h1v1h-1zM16 1h1v1h-1zM33 1h2v1h-2zM40 1h3v1h-3zM65 1h1v1h-1zM8 2h3v1h-3zM29 3h1v1h-1zM67 3h1v1h-1zM28 4h1v1h-1zM30 4h1v1h-1zM43 4h2v1h-2zM49 4h1v1h-1zM55 4h1v1h-1zM58 5h1v1h-1zM60 5h2v1h-2zM14 6h1v1h-1zM26 6h1v1h-1zM45 6h1v1h-1zM47 6h1v1h-1zM11 7h1v1h-1zM34 7h1v1h-1zM6 8h1v1h-1zM9 8h1v1h-1zM31 8h1v1h-1zM34 8h1v1h-1zM58 8h1v1h-1zM62 8h1v1h-1zM65 8h1v1h-1zM6 9h1v1h-1zM11 9h3v1h-3zM28 9h1v1h-1zM42 9h1v1h-1zM60 9h1v1h-1zM56 10h1v1h-1zM66 10h1v1h-1zM12 11h1v1h-1zM46 11h1v1h-1zM61 11h1v1h-1zM9 12h1v1h-1zM14 12h1v1h-1zM19 12h1v1h-1zM23 12h1v1h-1zM40 12h1v1h-1zM45 12h1v1h-1zM13 13h1v1h-1zM46 13h1v1h-1zM22 14h3v1h-3zM28 14h1v1h-1zM42 14h1v1h-1zM15 15h1v1h-1zM25 15h1v1h-1zM11 16h1v1h-1zM14 16h1v1h-1zM18 16h1v1h-1zM23 16h1v1h-1zM26 16h1v1h-1zM29 16h1v1h-1zM52 16h2v1h-2zM59 16h1v1h-1zM7 17h1v1h-1zM13 17h2v1h-2zM26 17h1v1h-1zM34 17h1v1h-1zM41 17h1v1h-1zM6 18h2v1h-2zM23 18h1v1h-1zM44 18h1v1h-1zM49 18h1v1h-1zM51 18h1v1h-1zM55 18h1v1h-1zM59 18h1v1h-1zM66 18h1v1h-1zM7 19h1v1h-1zM10 19h1v1h-1zM26 19h1v1h-1zM53 19h1v1h-1zM63 19h1v1h-1zM25 20h1v1h-1zM36 20h1v1h-1zM48 20h1v1h-1zM59 20h1v1h-1zM66 20h1v1h-1zM16 21h1v1h-1zM30 21h1v1h-1zM42 21h1v1h-1zM49 21h1v1h-1zM54 21h1v1h-1zM21 22h1v1h-1zM29 22h1v1h-1zM41 22h1v1h-1zM50 22h2v1h-2zM13 23h1v1h-1zM22 23h1v1h-1zM26 23h2v1h-2zM41 23h1v1h-1zM45 23h1v1h-1zM48 24h1v1h-1zM55 24h2v1h-2zM58 24h2v1h-2zM42 25h2v1h-2zM57 25h1v1h-1zM25 26h1v1h-1zM50 26h1v1h-1zM54 26h1v1h-1zM61 26h1v1h-1zM8 28h3v1h-3zM23 28h1v1h-1zM56 28h1v1h-1zM8 29h1v1h-1zM12 29h1v1h-1zM21 29h1v1h-1zM25 29h1v1h-1zM46 30h1v1h-1zM10 31h1v1h-1zM18 31h2v1h-2zM56 31h1v1h-1zM63 31h1v1h-1zM26 32h1v1h-1zM30 32h1v1h-1zM48 32h1v1h-1zM58 32h1v1h-1zM18 33h1v1h-1zM23 33h1v1h-1zM44 33h1v1h-1zM50 33h1v1h-1zM11 35h1v1h-1zM57 35h1v1h-1zM9 36h1v1h-1zM15 36h1v1h-1zM19 36h1v1h-1zM31 36h1v1h-1zM33 36h1v1h-1zM42 36h1v1h-1zM52 36h1v1h-1zM66 36h1v1h-1zM37 37h1v1h-1zM43 37h1v1h-1zM19 38h1v1h-1zM47 38h1v1h-1zM50 38h1v1h-1zM10 39h1v1h-1zM13 39h1v1h-1zM50 39h1v1h-1zM60 39h1v1h-1zM14 40h1v1h-1zM25 40h1v1h-1zM51 40h1v1h-1zM53 40h1v1h-1zM60 40h1v1h-1zM37 41h1v1h-1zM45 41h1v1h-1zM49 41h1v1h-1zM58 41h1v1h-1zM64 41h1v1h-1zM54 42h1v1h-1zM59 42h1v1h-1zM22 43h1v1h-1zM45 43h1v1h-1zM58 43h1v1h-1zM43 44h1v1h-1zM59 44h1v1h-1zM7 45h1v1h-1zM23 45h1v1h-1zM48 45h1v1h-1zM66 45h1v1h-1zM30 46h1v1h-1zM55 46h1v1h-1zM57 46h1v1h-1zM21 47h1v1h-1zM41 47h1v1h-1zM53 47h1v1h-1zM64 47h1v1h-1zM7 48h1v1h-1zM16 48h1v1h-1zM34 48h1v1h-1zM36 48h1v1h-1zM43 48h1v1h-1zM28 49h1v1h-1zM37 49h1v1h-1zM47 49h1v1h-1zM54 49h1v1h-1zM60 49h1v1h-1zM6 50h1v1h-1zM24 50h1v1h-1zM30 50h1v1h-1zM47 50h1v1h-1zM55 50h1v1h-1zM19 51h1v1h-1zM27 51h1v1h-1zM42 51h1v1h-1zM13 52h1v1h-1zM36 52h1v1h-1zM51 52h1v1h-1zM59 52h1v1h-1zM8 53h1v1h-1zM30 53h1v1h-1zM40 53h1v1h-1zM67 53h1v1h-1zM53 54h1v1h-1zM16 55h1v1h-1zM33 55h1v1h-1zM51 55h1v1h-1zM67 55h1v1h-1zM44 56h1v1h-1zM46 56h1v1h-1zM54 56h1v1h-1zM56 57h1v1h-1zM7 58h1v1h-1zM21 58h1v1h-1zM33 58h1v1h-1zM51 58h1v1h-1zM59 58h1v1h-1zM62 58h1v1h-1zM12 59h1v1h-1zM15 59h1v1h-1zM20 59h1v1h-1zM49 59h2v1h-2zM7 60h1v1h-1zM53 60h1v1h-1zM55 60h1v1h-1zM27 61h1v1h-1zM33 61h1v1h-1zM13 62h2v1h-2zM42 62h1v1h-1zM52 62h1v1h-1zM57 62h1v1h-1zM63 62h1v1h-1zM7 63h1v1h-1zM9 63h1v1h-1zM52 63h1v1h-1zM23 64h1v1h-1zM43 64h1v1h-1zM47 64h1v1h-1zM49 64h1v1h-1zM52 64h1v1h-1zM55 64h1v1h-1zM61 64h2v1h-2zM26 65h1v1h-1zM28 65h1v1h-1zM43 65h1v1h-1zM9 66h1v1h-1zM28 66h1v1h-1zM41 66h1v1h-1zM46 66h1v1h-1zM48 66h1v1h-1zM50 66h2v1h-2zM60 66h1v1h-1zM10 67h1v1h-1zM15 67h1v1h-1zM23 67h1v1h-1zM46 67h1v1h-1zM52 67h1v1h-1zM13 68h1v1h-1zM20 68h1v1h-1zM23 68h1v1h-1zM27 68h1v1h-1zM46 68h1v1h-1zM60 68h1v1h-1zM14 69h1v1h-1zM20 69h1v1h-1zM24 69h1v1h-1zM59 69h2v1h-2zM11 70h1v1h-1zM18 70h1v1h-1zM9 71h1v1h-1zM23 71h1v1h-1zM29 71h1v1h-1zM67 71h1v1h-1zM10 72h1v1h-1zM19 72h1v1h-1zM33 72h2v1h-2zM53 72h1v1h-1zM65 72h1v1h-1zM67 72h1v1h-1zM35 73h1v1h-1zM61 73h1v1h-1zM65 73h1v1h-1zM30 74h1v1h-1zM33 74h1v1h-1zM50 74h1v1h-1zM54 74h1v1h-1zM9 75h1v1h-1zM56 75h1v1h-1zM59 75h1v1h-1z"/>
<path fill="#fddcc9" d="M13 0h1v1h-1zM15 0h1v1h-1zM19 0h1v1h-1zM42 0h1v1h-1zM66 0h1v1h-1zM15 1h1v1h-1zM26 1h1v1h-1zM44 1h1v1h-1zM54 1h1v1h-1zM58 1h1v1h-1zM12 2h1v1h-1zM28 2h1v1h-1zM44 2h1v1h-1zM55 2h1v1h-1zM58 2h1v1h-1zM6 3h1v1h-1zM9 3h1v1h-1zM14 3h1v1h-1zM22 3h1v1h-1zM49 3h2v1h-2zM61 3h1v1h-1zM7 4h1v1h-1zM16 4h1v1h-1zM20 4h1v1h-1zM25 4h1v1h-1zM29 4h1v1h-1zM66 4h1v1h-1zM24 5h1v1h-1zM11 6h1v1h-1zM18 6h1v1h-1zM42 6h1v1h-1zM12 7h1v1h-1zM19 7h1v1h-1zM45 7h1v1h-1zM47 7h1v1h-1zM49 7h1v1h-1zM12 8h1v1h-1zM25 8h1v1h-1zM61 8h1v1h-1zM17 9h1v1h-1zM26 9h1v1h-1zM51 9h1v1h-1zM66 9h1v1h-1zM16 10h1v1h-1zM43 10h2v1h-2zM46 10h1v1h-1zM55 10h1v1h-1zM29 11h1v1h-1zM17 12h1v1h-1zM26 12h1v1h-1zM52 13h1v1h-1zM56 13h1v1h-1zM60 13h1v1h-1zM6 14h1v1h-1zM15 14h1v1h-1zM19 14h1v1h-1zM25 14h1v1h-1zM50 14h1v1h-1zM12 15h1v1h-1zM16 15h1v1h-1zM33 15h1v1h-1zM58 15h1v1h-1zM12 17h1v1h-1zM30 17h1v1h-1zM18 18h1v1h-1zM48 18h1v1h-1zM60 18h1v1h-1zM18 19h1v1h-1zM20 19h1v1h-1zM27 19h1v1h-1zM37 19h1v1h-1zM52 19h1v1h-1zM67 19h1v1h-1zM6 20h1v1h-1zM43 20h1v1h-1zM58 20h1v1h-1zM20 21h1v1h-1zM23 21h1v1h-1zM28 21h1v1h-1zM44 21h1v1h-1zM46 21h1v1h-1zM19 22h1v1h-1zM23 22h1v1h-1zM27 22h1v1h-1zM30 22h2v1h-2zM52 22h1v1h-1zM7 23h1v1h-1zM9 23h1v1h-1zM46 24h1v1h-1zM8 25h1v1h-1zM66 25h1v1h-1zM57 26h1v1h-1zM62 26h1v1h-1zM27 27h2v1h-2zM50 27h2v1h-2zM21 28h1v1h-1zM47 28h1v1h-1zM57 28h2v1h-2zM60 28h2v1h-2zM20 29h1v1h-1zM47 29h1v1h-1zM51 29h1v1h-1zM57 29h1v1h-1zM12 30h1v1h-1zM24 30h1v1h-1zM27 30h1v1h-1zM30 30h1v1h-1zM41 30h1v1h-1zM53 30h1v1h-1zM65 30h1v1h-1zM9 31h1v1h-1zM13 31h1v1h-1zM28 31h1v1h-1zM31 31h1v1h-1zM55 31h1v1h-1zM11 32h1v1h-1zM19 32h1v1h-1zM31 32h1v1h-1zM40 32h2v1h-2zM53 32h1v1h-1zM65 32h1v1h-1zM21 33h1v1h-1zM56 33h1v1h-1zM11 34h1v1h-1zM13 34h1v1h-1zM18 34h1v1h-1zM45 34h1v1h-1zM66 34h1v1h-1zM14 35h1v1h-1zM18 35h1v1h-1zM25 35h1v1h-1zM49 35h1v1h-1zM51 35h1v1h-1zM46 36h1v1h-1zM20 37h1v1h-1zM57 37h1v1h-1zM64 37h1v1h-1zM67 37h1v1h-1zM22 38h1v1h-1zM31 38h1v1h-1zM52 38h1v1h-1zM57 38h1v1h-1zM19 39h1v1h-1zM48 39h1v1h-1zM55 39h1v1h-1zM64 39h1v1h-1zM57 40h1v1h-1zM7 41h1v1h-1zM24 41h1v1h-1zM51 41h1v1h-1zM23 42h1v1h-1zM19 43h1v1h-1zM48 43h2v1h-2zM66 43h1v1h-1zM21 44h1v1h-1zM47 44h1v1h-1zM50 44h1v1h-1zM32 45h1v1h-1zM43 45h1v1h-1zM55 45h1v1h-1zM60 45h1v1h-1zM9 46h1v1h-1zM48 46h1v1h-1zM59 46h1v1h-1zM17 47h1v1h-1zM20 48h1v1h-1zM41 48h1v1h-1zM50 48h1v1h-1zM55 48h1v1h-1zM40 49h1v1h-1zM44 49h1v1h-1zM49 49h1v1h-1zM51 49h1v1h-1zM62 49h1v1h-1zM10 50h1v1h-1zM22 50h1v1h-1zM27 50h1v1h-1zM31 50h1v1h-1zM49 50h1v1h-1zM24 51h1v1h-1zM30 51h1v1h-1zM53 51h1v1h-1zM64 51h1v1h-1zM9 52h1v1h-1zM17 52h1v1h-1zM19 52h2v1h-2zM46 52h1v1h-1zM55 52h1v1h-1zM60 52h1v1h-1zM64 52h1v1h-1zM11 53h1v1h-1zM41 53h1v1h-1zM45 53h1v1h-1zM50 53h2v1h-2zM63 53h1v1h-1zM26 54h1v1h-1zM55 54h1v1h-1zM10 55h1v1h-1zM20 55h1v1h-1zM44 55h1v1h-1zM18 56h1v1h-1zM58 56h1v1h-1zM66 56h1v1h-1zM6 57h1v1h-1zM22 57h1v1h-1zM28 57h1v1h-1zM31 57h1v1h-1zM49 57h1v1h-1zM67 57h1v1h-1zM8 58h1v1h-1zM25 58h2v1h-2zM53 58h1v1h-1zM18 59h1v1h-1zM33 59h1v1h-1zM48 59h1v1h-1zM63 59h1v1h-1zM66 59h1v1h-1zM9 60h1v1h-1zM13 60h1v1h-1zM23 60h1v1h-1zM43 60h1v1h-1zM45 60h1v1h-1zM47 60h1v1h-1zM54 60h1v1h-1zM59 60h1v1h-1zM61 60h1v1h-1zM65 60h1v1h-1zM18 61h1v1h-1zM48 61h1v1h-1zM30 62h1v1h-1zM44 62h1v1h-1zM54 62h1v1h-1zM61 62h1v1h-1zM27 63h1v1h-1zM45 63h1v1h-1zM54 63h1v1h-1zM62 63h1v1h-1zM19 64h1v1h-1zM56 64h2v1h-2zM60 64h1v1h-1zM19 65h1v1h-1zM29 65h2v1h-2zM44 65h2v1h-2zM55 65h2v1h-2zM59 65h1v1h-1zM63 65h1v1h-1zM43 66h1v1h-1zM52 66h1v1h-1zM55 66h1v1h-1zM11 67h1v1h-1zM17 67h1v1h-1zM19 67h1v1h-1zM51 67h1v1h-1zM55 68h1v1h-1zM58 68h2v1h-2zM61 68h1v1h-1zM64 68h1v1h-1zM66 68h1v1h-1zM40 69h1v1h-1zM30 70h1v1h-1zM55 70h1v1h-1zM60 70h1v1h-1zM62 70h2v1h-2zM30 71h1v1h-1zM33 71h1v1h-1zM36 71h1v1h-1zM65 71h1v1h-1zM28 72h1v1h-1zM57 72h1v1h-1zM58 73h1v1h-1zM62 73h1v1h-1zM66 73h1v1h-1zM19 74h1v1h-1zM25 74h1v1h-1zM51 74h1v1h-1zM58 74h1v1h-1zM67 74h1v1h-1zM18 75h1v1h-1zM50 75h1v1h-1zM54 75h1v1h-1z"/>
<path fill="#fac8af" d="M8 0h1v1h-1zM16 0h1v1h-1zM21 0h1v1h-1zM24 0h1v1h-1zM26 0h1v1h-1zM41 0h1v1h-1zM53 0h1v1h-1zM58 0h1v1h-1zM52 1h1v1h-1zM29 2h1v1h-1zM43 2h1v1h-1zM10 3h1v1h-1zM24 3h1v1h-1zM45 3h1v1h-1zM66 3h1v1h-1zM19 4h1v1h-1zM22 4h1v1h-1zM31 4h1v1h-1zM34 4h1v1h-1zM52 4h1v1h-1zM56 4h1v1h-1zM25 5h1v1h-1zM48 5h2v1h-2zM54 6h1v1h-1zM65 6h1v1h-1zM23 7h1v1h-1zM30 7h1v1h-1zM67 7h1v1h-1zM10 8h1v1h-1zM16 8h1v1h-1zM22 8h1v1h-1zM55 8h1v1h-1zM43 9h1v1h-1zM45 9h1v1h-1zM17 10h1v1h-1zM45 10h1v1h-1zM13 11h1v1h-1zM18 11h1v1h-1zM21 11h1v1h-1zM25 11h1v1h-1zM31 11h1v1h-1zM50 11h1v1h-1zM31 12h1v1h-1zM43 12h1v1h-1zM47 13h1v1h-1zM51 13h1v1h-1zM9 14h1v1h-1zM43 14h1v1h-1zM51 14h1v1h-1zM61 14h1v1h-1zM11 15h1v1h-1zM14 15h1v1h-1zM44 15h1v1h-1zM17 16h1v1h-1zM48 16h1v1h-1zM56 16h1v1h-1zM18 17h2v1h-2zM22 17h1v1h-1zM47 17h1v1h-1zM10 18h1v1h-1zM12 18h1v1h-1zM47 18h1v1h-1zM62 18h1v1h-1zM11 19h1v1h-1zM24 19h1v1h-1zM30 19h1v1h-1zM57 19h2v1h-2zM16 20h1v1h-1zM18 20h1v1h-1zM28 20h1v1h-1zM13 21h1v1h-1zM53 21h1v1h-1zM22 22h1v1h-1zM26 22h1v1h-1zM49 22h1v1h-1zM53 22h1v1h-1zM67 22h1v1h-1zM23 23h1v1h-1zM29 23h1v1h-1zM54 23h1v1h-1zM57 23h1v1h-1zM63 23h1v1h-1zM21 24h1v1h-1zM23 24h1v1h-1zM25 24h1v1h-1zM21 25h1v1h-1zM52 25h1v1h-1zM22 26h1v1h-1zM18 27h1v1h-1zM46 27h1v1h-1zM22 28h1v1h-1zM44 28h1v1h-1zM31 29h1v1h-1zM55 29h1v1h-1zM58 29h1v1h-1zM31 30h1v1h-1zM22 31h1v1h-1zM27 31h1v1h-1zM18 32h1v1h-1zM22 32h1v1h-1zM25 32h1v1h-1zM56 32h1v1h-1zM10 33h1v1h-1zM25 33h1v1h-1zM31 33h1v1h-1zM51 33h1v1h-1zM55 33h1v1h-1zM19 34h1v1h-1zM57 34h1v1h-1zM26 35h1v1h-1zM58 35h1v1h-1zM65 35h1v1h-1zM23 36h1v1h-1zM41 37h1v1h-1zM50 37h1v1h-1zM63 37h1v1h-1zM23 38h1v1h-1zM54 38h1v1h-1zM64 38h1v1h-1zM24 39h1v1h-1zM27 39h1v1h-1zM31 39h1v1h-1zM33 39h1v1h-1zM19 40h1v1h-1zM23 40h1v1h-1zM28 40h1v1h-1zM58 40h1v1h-1zM31 41h1v1h-1zM55 41h1v1h-1zM18 44h1v1h-1zM24 44h1v1h-1zM54 44h1v1h-1zM56 44h1v1h-1zM30 45h1v1h-1zM57 45h1v1h-1zM18 46h1v1h-1zM26 46h1v1h-1zM27 47h1v1h-1zM43 47h2v1h-2zM58 47h1v1h-1zM18 48h1v1h-1zM44 48h2v1h-2zM60 48h1v1h-1zM66 48h1v1h-1zM20 49h1v1h-1zM12 50h1v1h-1zM40 50h1v1h-1zM56 50h1v1h-1zM43 51h1v1h-1zM58 51h1v1h-1zM45 52h1v1h-1zM47 52h1v1h-1zM56 52h1v1h-1zM62 52h1v1h-1zM65 52h1v1h-1zM19 53h1v1h-1zM23 53h1v1h-1zM31 53h1v1h-1zM18 54h1v1h-1zM24 54h1v1h-1zM13 55h1v1h-1zM18 55h1v1h-1zM29 55h1v1h-1zM58 55h2v1h-2zM64 55h1v1h-1zM19 56h1v1h-1zM22 56h1v1h-1zM30 56h1v1h-1zM34 56h1v1h-1zM61 56h1v1h-1zM64 56h2v1h-2zM24 57h1v1h-1zM51 57h1v1h-1zM66 57h1v1h-1zM47 58h1v1h-1zM49 58h1v1h-1zM56 58h2v1h-2zM61 58h1v1h-1zM64 58h1v1h-1zM13 59h1v1h-1zM19 59h1v1h-1zM27 59h2v1h-2zM10 61h1v1h-1zM43 61h1v1h-1zM45 61h1v1h-1zM52 61h1v1h-1zM64 61h2v1h-2zM18 62h1v1h-1zM24 62h1v1h-1zM27 62h1v1h-1zM43 62h1v1h-1zM50 62h1v1h-1zM13 63h1v1h-1zM56 63h1v1h-1zM61 63h1v1h-1zM20 64h2v1h-2zM44 64h1v1h-1zM64 64h1v1h-1zM48 65h1v1h-1zM10 66h1v1h-1zM31 66h1v1h-1zM56 66h2v1h-2zM61 66h1v1h-1zM66 66h1v1h-1zM14 67h1v1h-1zM24 67h3v1h-3zM28 67h1v1h-1zM33 67h1v1h-1zM40 67h1v1h-1zM56 67h1v1h-1zM16 68h1v1h-1zM26 68h1v1h-1zM50 68h1v1h-1zM62 68h2v1h-2zM6 69h1v1h-1zM45 69h1v1h-1zM52 69h1v1h-1zM58 69h1v1h-1zM26 70h1v1h-1zM49 70h1v1h-1zM59 70h1v1h-1zM28 71h1v1h-1zM60 71h1v1h-1zM11 72h1v1h-1zM18 72h1v1h-1zM32 72h1v1h-1zM35 72h1v1h-1zM56 73h1v1h-1zM20 74h1v1h-1zM55 74h1v1h-1zM65 74h1v1h-1zM11 75h1v1h-1zM29 75h2v1h-2zM52 75h1v1h-1z"/>
<path fill="#f6b394" d="M18 0h1v1h-1zM45 1h1v1h-1zM13 2h1v1h-1zM19 2h1v1h-1zM13 3h1v1h-1zM18 3h1v1h-1zM25 3h1v1h-1zM48 3h1v1h-1zM51 3h1v1h-1zM8 4h1v1h-1zM12 4h1v1h-1zM42 4h1v1h-1zM28 5h2v1h-2zM56 5h1v1h-1zM21 6h1v1h-1zM29 6h1v1h-1zM7 7h1v1h-1zM9 7h1v1h-1zM20 7h1v1h-1zM27 7h1v1h-1zM27 8h1v1h-1zM9 10h1v1h-1zM51 11h1v1h-1zM58 11h1v1h-1zM29 12h1v1h-1zM52 12h1v1h-1zM14 13h1v1h-1zM48 13h1v1h-1zM48 14h1v1h-1zM13 15h1v1h-1zM9 16h1v1h-1zM16 16h1v1h-1zM59 17h1v1h-1zM11 18h1v1h-1zM58 18h1v1h-1zM63 18h2v1h-2zM13 19h1v1h-1zM46 19h1v1h-1zM10 20h1v1h-1zM29 20h1v1h-1zM49 20h1v1h-1zM14 21h1v1h-1zM21 21h1v1h-1zM27 21h1v1h-1zM50 21h1v1h-1zM13 22h1v1h-1zM24 22h2v1h-2zM61 22h1v1h-1zM51 23h1v1h-1zM25 25h1v1h-1zM19 26h1v1h-1zM23 26h1v1h-1zM28 26h1v1h-1zM43 26h1v1h-1zM23 27h1v1h-1zM31 28h1v1h-1zM48 28h1v1h-1zM52 28h1v1h-1zM18 30h1v1h-1zM47 30h1v1h-1zM57 30h1v1h-1zM60 30h1v1h-1zM25 31h1v1h-1zM42 32h1v1h-1zM51 32h1v1h-1zM27 33h1v1h-1zM47 33h1v1h-1zM58 33h1v1h-1zM22 34h1v1h-1zM51 34h1v1h-1zM54 34h1v1h-1zM45 35h1v1h-1zM54 35h1v1h-1zM63 35h1v1h-1zM30 36h1v1h-1zM57 36h1v1h-1zM23 37h1v1h-1zM46 38h1v1h-1zM49 38h1v1h-1zM46 39h1v1h-1zM22 40h1v1h-1zM64 40h1v1h-1zM59 41h1v1h-1zM20 42h1v1h-1zM26 42h1v1h-1zM31 42h1v1h-1zM57 42h1v1h-1zM20 43h1v1h-1zM55 43h1v1h-1zM25 44h1v1h-1zM51 44h1v1h-1zM55 44h1v1h-1zM25 45h1v1h-1zM46 46h1v1h-1zM54 46h1v1h-1zM23 47h1v1h-1zM45 47h1v1h-1zM50 47h2v1h-2zM54 47h1v1h-1zM57 47h1v1h-1zM25 48h1v1h-1zM58 48h1v1h-1zM18 49h2v1h-2zM30 49h1v1h-1zM46 49h1v1h-1zM66 49h1v1h-1zM48 50h1v1h-1zM65 50h2v1h-2zM28 51h1v1h-1zM50 51h1v1h-1zM52 51h1v1h-1zM31 52h1v1h-1zM61 52h1v1h-1zM49 53h1v1h-1zM54 53h1v1h-1zM19 54h1v1h-1zM52 54h1v1h-1zM26 55h1v1h-1zM62 55h1v1h-1zM10 56h1v1h-1zM23 56h1v1h-1zM49 56h1v1h-1zM18 57h1v1h-1zM53 57h1v1h-1zM42 58h1v1h-1zM50 58h1v1h-1zM21 59h1v1h-1zM30 59h1v1h-1zM53 59h1v1h-1zM21 60h1v1h-1zM30 60h1v1h-1zM48 60h1v1h-1zM9 61h1v1h-1zM47 61h1v1h-1zM53 61h1v1h-1zM28 62h1v1h-1zM56 62h1v1h-1zM59 62h1v1h-1zM67 62h1v1h-1zM20 63h1v1h-1zM22 63h1v1h-1zM30 63h1v1h-1zM47 63h1v1h-1zM63 63h1v1h-1zM65 63h1v1h-1zM65 64h1v1h-1zM21 65h1v1h-1zM46 65h1v1h-1zM21 66h1v1h-1zM64 66h1v1h-1zM20 67h1v1h-1zM47 67h1v1h-1zM55 67h1v1h-1zM59 67h1v1h-1zM9 68h1v1h-1zM29 68h1v1h-1zM45 68h1v1h-1zM34 69h1v1h-1zM62 69h1v1h-1zM64 69h1v1h-1zM66 70h1v1h-1zM31 71h1v1h-1zM52 71h1v1h-1zM9 72h1v1h-1zM13 72h1v1h-1zM25 72h1v1h-1zM51 72h1v1h-1zM63 72h1v1h-1zM26 73h1v1h-1zM42 74h1v1h-1zM14 75h1v1h-1zM49 75h1v1h-1zM51 75h1v1h-1zM67 75h1v1h-1z"/>
<path fill="#ef9979" d="M22 0h1v1h-1zM43 0h3v1h-3zM52 0h1v1h-1zM55 0h1v1h-1zM9 1h1v1h-1zM11 2h1v1h-1zM31 2h1v1h-1zM30 3h1v1h-1zM65 3h1v1h-1zM18 4h1v1h-1zM48 4h1v1h-1zM13 5h1v1h-1zM53 5h1v1h-1zM28 6h1v1h-1zM13 7h1v1h-1zM16 7h1v1h-1zM43 7h1v1h-1zM66 7h1v1h-1zM45 8h1v1h-1zM48 8h1v1h-1zM14 9h1v1h-1zM16 9h1v1h-1zM10 10h1v1h-1zM48 10h1v1h-1zM22 11h1v1h-1zM28 11h1v1h-1zM49 11h1v1h-1zM64 11h1v1h-1zM59 12h1v1h-1zM22 13h1v1h-1zM52 14h1v1h-1zM30 15h1v1h-1zM27 16h1v1h-1zM57 17h1v1h-1zM9 18h1v1h-1zM20 18h1v1h-1zM29 18h1v1h-1zM55 19h1v1h-1zM13 20h1v1h-1zM18 22h1v1h-1zM28 22h1v1h-1zM19 23h1v1h-1zM22 25h1v1h-1zM28 25h1v1h-1zM48 25h1v1h-1zM24 26h1v1h-1zM10 27h1v1h-1zM24 27h1v1h-1zM26 27h1v1h-1zM52 27h1v1h-1zM18 28h1v1h-1zM24 28h1v1h-1zM50 29h1v1h-1zM25 30h1v1h-1zM29 30h1v1h-1zM47 32h1v1h-1zM24 33h1v1h-1zM40 34h1v1h-1zM58 34h1v1h-1zM19 35h1v1h-1zM23 35h1v1h-1zM20 36h1v1h-1zM48 36h1v1h-1zM49 37h1v1h-1zM51 37h1v1h-1zM51 38h1v1h-1zM47 40h1v1h-1zM52 40h1v1h-1zM30 41h1v1h-1zM53 41h1v1h-1zM24 42h2v1h-2zM29 42h1v1h-1zM48 42h1v1h-1zM58 42h1v1h-1zM27 43h1v1h-1zM50 43h1v1h-1zM46 44h1v1h-1zM28 45h1v1h-1zM31 45h1v1h-1zM54 45h1v1h-1zM31 46h1v1h-1zM50 46h1v1h-1zM52 46h1v1h-1zM56 46h1v1h-1zM56 47h1v1h-1zM13 48h1v1h-1zM48 48h1v1h-1zM51 48h1v1h-1zM64 48h1v1h-1zM26 49h1v1h-1zM57 49h1v1h-1zM21 50h1v1h-1zM28 50h1v1h-1zM44 50h1v1h-1zM67 50h1v1h-1zM44 51h1v1h-1zM27 52h2v1h-2zM48 52h1v1h-1zM50 52h1v1h-1zM56 54h2v1h-2zM27 55h1v1h-1zM31 55h1v1h-1zM48 55h1v1h-1zM24 56h1v1h-1zM57 57h2v1h-2zM28 58h1v1h-1zM48 58h1v1h-1zM58 58h1v1h-1zM22 59h1v1h-1zM24 59h1v1h-1zM52 59h1v1h-1zM24 60h2v1h-2zM27 60h1v1h-1zM66 60h1v1h-1zM51 61h1v1h-1zM61 61h1v1h-1zM9 62h1v1h-1zM25 62h1v1h-1zM49 62h1v1h-1zM55 62h1v1h-1zM12 63h1v1h-1zM49 63h1v1h-1zM51 63h1v1h-1zM53 63h1v1h-1zM57 63h1v1h-1zM67 63h1v1h-1zM22 64h1v1h-1zM25 64h1v1h-1zM27 64h1v1h-1zM45 64h2v1h-2zM48 64h1v1h-1zM18 65h1v1h-1zM51 65h1v1h-1zM58 65h1v1h-1zM64 65h2v1h-2zM67 65h1v1h-1zM25 66h1v1h-1zM21 67h1v1h-1zM48 67h1v1h-1zM65 67h1v1h-1zM24 68h2v1h-2zM33 68h1v1h-1zM56 68h1v1h-1zM61 69h1v1h-1zM66 69h1v1h-1zM47 70h1v1h-1zM44 71h1v1h-1zM55 71h1v1h-1zM64 71h1v1h-1zM66 71h1v1h-1zM59 72h1v1h-1zM47 73h1v1h-1zM57 73h1v1h-1zM60 73h1v1h-1zM29 74h1v1h-1zM20 75h1v1h-1zM28 75h1v1h-1zM47 75h1v1h-1zM64 75h1v1h-1z"/>
<path fill="#e17860" d="M20 3h1v1h-1zM9 4h1v1h-1zM58 4h1v1h-1zM24 7h1v1h-1zM22 9h1v1h-1zM25 9h1v1h-1zM44 9h1v1h-1zM19 10h1v1h-1zM29 10h1v1h-1zM12 12h1v1h-1zM21 13h1v1h-1zM10 14h1v1h-1zM52 15h1v1h-1zM13 16h1v1h-1zM22 16h1v1h-1zM46 16h1v1h-1zM23 17h1v1h-1zM50 17h1v1h-1zM54 17h1v1h-1zM22 18h1v1h-1zM57 18h1v1h-1zM64 20h1v1h-1zM9 21h1v1h-1zM56 21h1v1h-1zM48 22h1v1h-1zM55 23h1v1h-1zM47 24h1v1h-1zM18 26h1v1h-1zM19 27h1v1h-1zM20 28h1v1h-1zM22 29h2v1h-2zM26 29h1v1h-1zM22 30h1v1h-1zM28 30h1v1h-1zM62 31h1v1h-1zM44 32h1v1h-1zM23 34h1v1h-1zM27 34h1v1h-1zM24 35h1v1h-1zM29 35h1v1h-1zM24 36h1v1h-1zM26 36h1v1h-1zM47 37h1v1h-1zM29 38h2v1h-2zM58 38h1v1h-1zM20 39h1v1h-1zM22 39h1v1h-1zM34 39h1v1h-1zM18 40h1v1h-1zM30 40h1v1h-1zM26 41h1v1h-1zM48 41h1v1h-1zM21 42h1v1h-1zM28 42h1v1h-1zM45 42h1v1h-1zM56 42h1v1h-1zM28 43h1v1h-1zM57 43h1v1h-1zM52 44h1v1h-1zM44 45h2v1h-2zM47 45h1v1h-1zM29 46h1v1h-1zM18 47h1v1h-1zM22 47h1v1h-1zM47 47h2v1h-2zM22 48h1v1h-1zM52 48h1v1h-1zM21 49h1v1h-1zM25 50h1v1h-1zM18 51h1v1h-1zM54 51h1v1h-1zM18 53h1v1h-1zM22 53h1v1h-1zM25 53h1v1h-1zM53 53h1v1h-1zM22 54h1v1h-1zM30 54h1v1h-1zM58 54h1v1h-1zM64 54h1v1h-1zM22 55h1v1h-1zM46 55h1v1h-1zM25 56h1v1h-1zM20 57h1v1h-1zM61 57h1v1h-1zM64 57h1v1h-1zM44 58h1v1h-1zM31 60h1v1h-1zM62 61h1v1h-1zM58 62h1v1h-1zM66 62h1v1h-1zM6 63h1v1h-1zM29 63h1v1h-1zM31 63h1v1h-1zM58 63h1v1h-1zM51 64h1v1h-1zM24 65h1v1h-1zM29 66h1v1h-1zM58 66h1v1h-1zM67 66h1v1h-1zM22 67h1v1h-1zM29 67h1v1h-1zM61 67h1v1h-1zM19 68h1v1h-1zM57 68h1v1h-1zM23 69h1v1h-1zM25 69h1v1h-1zM50 69h2v1h-2zM48 72h1v1h-1zM56 72h1v1h-1zM7 73h1v1h-1zM42 73h1v1h-1zM52 73h1v1h-1zM22 74h1v1h-1zM48 74h1v1h-1zM59 74h1v1h-1zM19 75h1v1h-1z"/>
<path fill="#d35a4a" d="M61 2h1v1h-1zM56 3h1v1h-1zM47 4h1v1h-1zM45 5h1v1h-1zM19 6h1v1h-1zM25 7h1v1h-1zM29 7h1v1h-1zM61 7h1v1h-1zM23 10h1v1h-1zM13 12h1v1h-1zM31 14h1v1h-1zM58 16h1v1h-1zM21 18h1v1h-1zM26 18h1v1h-1zM46 18h1v1h-1zM22 19h1v1h-1zM9 20h1v1h-1zM30 20h1v1h-1zM50 20h1v1h-1zM55 20h1v1h-1zM51 21h1v1h-1zM60 23h1v1h-1zM66 23h1v1h-1zM20 24h1v1h-1zM22 24h1v1h-1zM57 24h1v1h-1zM29 25h1v1h-1zM54 25h1v1h-1zM29 29h1v1h-1zM19 30h1v1h-1zM26 30h1v1h-1zM21 31h1v1h-1zM24 32h1v1h-1zM55 32h1v1h-1zM25 34h1v1h-1zM22 35h1v1h-1zM31 35h1v1h-1zM55 35h1v1h-1zM21 37h1v1h-1zM28 37h1v1h-1zM28 39h1v1h-1zM27 40h1v1h-1zM27 41h1v1h-1zM29 41h1v1h-1zM51 42h1v1h-1zM19 44h1v1h-1zM45 44h1v1h-1zM21 45h1v1h-1zM49 45h1v1h-1zM58 45h1v1h-1zM25 47h1v1h-1zM31 47h1v1h-1zM24 48h1v1h-1zM26 48h1v1h-1zM29 49h1v1h-1zM50 49h1v1h-1zM42 50h1v1h-1zM22 51h1v1h-1zM31 51h1v1h-1zM48 51h1v1h-1zM57 51h1v1h-1zM29 52h2v1h-2zM28 53h1v1h-1zM43 53h1v1h-1zM48 53h1v1h-1zM55 53h1v1h-1zM57 53h1v1h-1zM21 54h1v1h-1zM28 54h1v1h-1zM48 54h1v1h-1zM51 54h1v1h-1zM62 54h1v1h-1zM24 55h1v1h-1zM47 56h1v1h-1zM51 56h1v1h-1zM56 56h1v1h-1zM59 56h1v1h-1zM46 58h1v1h-1zM47 59h1v1h-1zM56 60h1v1h-1zM58 60h1v1h-1zM19 61h1v1h-1zM28 61h1v1h-1zM30 61h1v1h-1zM55 61h1v1h-1zM57 61h1v1h-1zM22 62h1v1h-1zM46 62h1v1h-1zM31 65h1v1h-1zM63 67h1v1h-1zM47 68h1v1h-1zM9 69h1v1h-1zM48 69h1v1h-1zM57 69h1v1h-1zM50 70h1v1h-1zM58 70h1v1h-1zM59 71h1v1h-1zM52 72h1v1h-1zM48 73h1v1h-1zM56 74h1v1h-1zM61 75h1v1h-1zM66 75h1v1h-1z"/>
<path fill="#c2383a" d="M54 0h1v1h-1zM13 1h1v1h-1zM28 1h1v1h-1zM27 5h1v1h-1zM9 9h1v1h-1zM27 9h1v1h-1zM22 12h1v1h-1zM25 12h1v1h-1zM19 13h1v1h-1zM18 14h1v1h-1zM48 15h1v1h-1zM51 15h1v1h-1zM25 16h1v1h-1zM57 16h1v1h-1zM14 18h1v1h-1zM29 19h1v1h-1zM27 20h1v1h-1zM29 21h1v1h-1zM58 21h1v1h-1zM30 23h1v1h-1zM19 24h1v1h-1zM27 24h1v1h-1zM29 24h1v1h-1zM20 25h1v1h-1zM58 26h1v1h-1zM28 28h1v1h-1zM20 30h1v1h-1zM30 31h1v1h-1zM50 31h1v1h-1zM29 33h1v1h-1zM48 33h1v1h-1zM30 34h1v1h-1zM28 36h1v1h-1zM24 37h1v1h-1zM27 37h1v1h-1zM29 37h2v1h-2zM18 39h1v1h-1zM52 39h1v1h-1zM57 39h1v1h-1zM21 40h1v1h-1zM29 40h1v1h-1zM52 41h1v1h-1zM47 42h1v1h-1zM27 44h1v1h-1zM30 44h1v1h-1zM48 44h2v1h-2zM18 45h1v1h-1zM59 45h1v1h-1zM22 46h1v1h-1zM27 46h1v1h-1zM29 47h1v1h-1zM66 47h1v1h-1zM23 49h1v1h-1zM21 52h1v1h-1zM52 52h1v1h-1zM26 53h1v1h-1zM47 55h1v1h-1zM55 55h1v1h-1zM21 56h1v1h-1zM29 57h1v1h-1zM18 58h1v1h-1zM19 60h1v1h-1zM26 60h1v1h-1zM28 60h1v1h-1zM51 60h1v1h-1zM62 60h1v1h-1zM25 61h1v1h-1zM29 61h1v1h-1zM23 62h1v1h-1zM66 63h1v1h-1zM58 64h1v1h-1zM22 65h1v1h-1zM59 66h1v1h-1zM60 67h1v1h-1zM62 67h1v1h-1zM64 67h1v1h-1zM28 68h1v1h-1zM48 68h1v1h-1zM29 69h1v1h-1zM47 69h1v1h-1zM53 69h1v1h-1zM23 70h1v1h-1zM29 70h1v1h-1zM24 71h1v1h-1zM51 71h1v1h-1zM57 71h1v1h-1zM46 73h1v1h-1zM23 75h1v1h-1zM26 75h1v1h-1zM45 75h1v1h-1z"/>
<path fill="#b1182b" d="M26 2h1v1h-1zM53 3h1v1h-1zM10 4h1v1h-1zM30 5h1v1h-1zM47 8h1v1h-1zM26 11h1v1h-1zM44 12h1v1h-1zM46 12h1v1h-1zM29 13h1v1h-1zM16 14h1v1h-1zM29 14h1v1h-1zM29 17h1v1h-1zM13 18h1v1h-1zM23 19h1v1h-1zM55 21h1v1h-1zM28 24h1v1h-1zM26 25h1v1h-1zM30 25h1v1h-1zM26 26h1v1h-1zM30 27h1v1h-1zM27 28h1v1h-1zM21 30h1v1h-1zM23 31h1v1h-1zM26 31h1v1h-1zM58 31h1v1h-1zM26 34h1v1h-1zM30 35h1v1h-1zM29 36h1v1h-1zM29 39h1v1h-1zM25 41h1v1h-1zM26 43h1v1h-1zM20 45h1v1h-1zM28 46h1v1h-1zM30 47h1v1h-1zM56 48h1v1h-1zM25 49h1v1h-1zM52 49h1v1h-1zM51 50h1v1h-1zM49 51h1v1h-1zM23 52h1v1h-1zM26 52h1v1h-1zM23 54h1v1h-1zM50 54h1v1h-1zM23 55h1v1h-1zM28 55h1v1h-1zM53 55h1v1h-1zM57 55h1v1h-1zM26 56h1v1h-1zM29 56h1v1h-1zM57 56h1v1h-1zM60 56h1v1h-1zM19 58h2v1h-2zM31 58h1v1h-1zM29 60h1v1h-1zM23 61h1v1h-1zM26 61h1v1h-1zM58 61h1v1h-1zM53 62h1v1h-1zM24 63h1v1h-1zM55 69h1v1h-1zM55 73h1v1h-1z"/>
<path fill="#8a0b25" d="M46 3h1v1h-1zM19 5h1v1h-1zM50 5h1v1h-1zM26 7h1v1h-1zM44 7h1v1h-1zM28 8h1v1h-1zM21 9h1v1h-1zM11 10h1v1h-1zM51 12h1v1h-1zM20 14h1v1h-1zM29 15h1v1h-1zM31 17h1v1h-1zM48 17h1v1h-1zM51 20h1v1h-1zM57 20h1v1h-1zM22 21h1v1h-1zM58 22h1v1h-1zM18 23h1v1h-1zM28 23h1v1h-1zM31 24h1v1h-1zM31 25h1v1h-1zM58 25h1v1h-1zM27 26h1v1h-1zM29 26h1v1h-1zM51 26h1v1h-1zM25 27h1v1h-1zM29 27h1v1h-1zM19 28h1v1h-1zM26 28h1v1h-1zM29 28h1v1h-1zM51 28h1v1h-1zM29 31h1v1h-1zM57 31h1v1h-1zM23 32h1v1h-1zM28 32h2v1h-2zM26 33h1v1h-1zM28 34h2v1h-2zM31 34h1v1h-1zM48 34h3v1h-3zM21 35h1v1h-1zM27 35h2v1h-2zM27 36h1v1h-1zM55 36h1v1h-1zM18 37h1v1h-1zM26 37h1v1h-1zM55 37h1v1h-1zM26 38h1v1h-1zM28 38h1v1h-1zM25 39h2v1h-2zM24 40h1v1h-1zM26 40h1v1h-1zM48 40h1v1h-1zM50 40h1v1h-1zM50 41h1v1h-1zM49 42h1v1h-1zM24 43h1v1h-1zM29 43h1v1h-1zM31 43h1v1h-1zM51 43h1v1h-1zM20 44h1v1h-1zM26 44h1v1h-1zM28 44h2v1h-2zM31 44h1v1h-1zM57 44h1v1h-1zM26 45h2v1h-2zM29 45h1v1h-1zM53 45h1v1h-1zM24 46h2v1h-2zM58 46h1v1h-1zM24 47h1v1h-1zM26 47h1v1h-1zM28 47h1v1h-1zM49 47h1v1h-1zM29 48h1v1h-1zM31 48h1v1h-1zM27 49h1v1h-1zM56 49h1v1h-1zM26 50h1v1h-1zM29 50h1v1h-1zM46 50h1v1h-1zM25 51h1v1h-1zM29 51h1v1h-1zM25 52h1v1h-1zM53 52h1v1h-1zM57 52h1v1h-1zM27 53h1v1h-1zM29 53h1v1h-1zM66 53h1v1h-1zM20 54h1v1h-1zM29 54h1v1h-1zM21 55h1v1h-1zM25 55h1v1h-1zM49 55h1v1h-1zM50 56h1v1h-1zM55 56h1v1h-1zM26 57h1v1h-1zM30 57h1v1h-1zM22 58h1v1h-1zM29 58h1v1h-1zM66 58h1v1h-1zM26 59h1v1h-1zM29 59h1v1h-1zM18 60h1v1h-1zM46 60h1v1h-1zM50 60h1v1h-1zM57 60h1v1h-1zM31 61h1v1h-1zM54 61h1v1h-1zM60 61h1v1h-1zM20 62h1v1h-1zM29 62h1v1h-1zM62 62h1v1h-1zM21 63h1v1h-1zM23 63h1v1h-1zM55 63h1v1h-1zM26 64h1v1h-1zM28 64h1v1h-1zM50 64h1v1h-1zM25 65h1v1h-1zM66 65h1v1h-1zM57 67h1v1h-1zM66 67h1v1h-1zM65 68h1v1h-1zM67 70h1v1h-1zM21 72h1v1h-1zM29 72h1v1h-1zM58 72h1v1h-1zM66 72h1v1h-1zM18 73h1v1h-1zM22 73h1v1h-1zM26 74h1v1h-1zM57 74h1v1h-1zM25 75h1v1h-1z"/>
</g>
<line x1="408.70" y1="39.40" x2="408.70" y2="139.20" stroke="#333" stroke-width="1.3" stroke-dasharray="2.0,2.1"/>
<line x1="483.30" y1="39.40" x2="483.30" y2="139.20" stroke="#333" stroke-width="1.3" stroke-dasharray="2.0,2.1"/>
</g>
<line x1="345.50" y1="38.90" x2="345.50" y2="139.20" stroke="#333" stroke-width="0.9" />
<line x1="472.50" y1="38.90" x2="472.50" y2="139.20" stroke="#333" stroke-width="0.9" />
<line x1="333.05" y1="33.00" x2="333.05" y2="19.00" stroke="#111" stroke-width="1.0" />
<path d="M329.95 20.2 L333.05 14.2 L336.15 20.2 Z" fill="#111"/>
<text transform="translate(326.35,24.90) rotate(-90) scale(1.0,1)" x="0" y="0" font-size="7.2" text-anchor="middle" fill="#111">Days</text>
<line x1="334.55" y1="34.90" x2="343.05" y2="34.90" stroke="#333" stroke-width="1.0" />
<text transform="translate(338.65,33.70) scale(0.8,1)" x="0" y="0" font-size="7.5" text-anchor="middle" fill="#333" >S</text>
<line x1="345.05" y1="32.30" x2="353.55" y2="32.30" stroke="#333" stroke-width="1.0" />
<text transform="translate(349.15,31.10) scale(0.8,1)" x="0" y="0" font-size="7.5" text-anchor="middle" fill="#333" >S</text>
<line x1="355.75" y1="29.20" x2="364.25" y2="29.20" stroke="#333" stroke-width="1.0" />
<text transform="translate(359.85,28.00) scale(0.8,1)" x="0" y="0" font-size="7.5" text-anchor="middle" fill="#333" >S</text>
<line x1="366.55" y1="25.90" x2="375.05" y2="25.90" stroke="#333" stroke-width="1.0" />
<text transform="translate(370.65,24.70) scale(0.8,1)" x="0" y="0" font-size="7.5" text-anchor="middle" fill="#333" >S</text>
<line x1="376.95" y1="19.50" x2="385.45" y2="19.50" stroke="#333" stroke-width="1.0" />
<text transform="translate(381.05,18.30) scale(0.8,1)" x="0" y="0" font-size="7.5" text-anchor="middle" fill="#333" >S</text>
<line x1="387.75" y1="16.30" x2="396.25" y2="16.30" stroke="#333" stroke-width="1.0" />
<text transform="translate(391.85,15.10) scale(0.8,1)" x="0" y="0" font-size="7.5" text-anchor="middle" fill="#333" >S</text>
<line x1="398.25" y1="13.10" x2="406.75" y2="13.10" stroke="#333" stroke-width="1.0" />
<text transform="translate(402.35,11.90) scale(0.8,1)" x="0" y="0" font-size="7.5" text-anchor="middle" fill="#333" >S</text>
<line x1="408.95" y1="32.20" x2="417.55" y2="32.20" stroke="#d52a50" stroke-width="1.1" />
<text x="413.25" y="30.30" font-size="6.4" text-anchor="middle" fill="#d52a50" stroke="#d52a50" stroke-width="0.15">H</text>
<line x1="419.75" y1="29.30" x2="428.35" y2="29.30" stroke="#d52a50" stroke-width="1.1" />
<text x="424.05" y="27.40" font-size="6.4" text-anchor="middle" fill="#d52a50" stroke="#d52a50" stroke-width="0.15">H</text>
<line x1="430.75" y1="25.90" x2="439.35" y2="25.90" stroke="#d52a50" stroke-width="1.1" />
<text x="435.05" y="24.00" font-size="6.4" text-anchor="middle" fill="#d52a50" stroke="#d52a50" stroke-width="0.15">H</text>
<line x1="441.35" y1="19.60" x2="449.95" y2="19.60" stroke="#d52a50" stroke-width="1.1" />
<text x="445.65" y="17.70" font-size="6.4" text-anchor="middle" fill="#d52a50" stroke="#d52a50" stroke-width="0.15">H</text>
<line x1="451.95" y1="16.30" x2="460.55" y2="16.30" stroke="#d52a50" stroke-width="1.1" />
<text x="456.25" y="14.40" font-size="6.4" text-anchor="middle" fill="#d52a50" stroke="#d52a50" stroke-width="0.15">H</text>
<line x1="462.35" y1="13.10" x2="470.95" y2="13.10" stroke="#d52a50" stroke-width="1.1" />
<text x="466.65" y="11.20" font-size="6.4" text-anchor="middle" fill="#d52a50" stroke="#d52a50" stroke-width="0.15">H</text>
<line x1="473.15" y1="22.30" x2="481.75" y2="22.30" stroke="#222" stroke-width="1.1" />
<text x="477.35" y="20.20" font-size="6.3" text-anchor="middle" fill="#222" stroke="#222" stroke-width="0.12">Pre</text>
<line x1="483.75" y1="22.30" x2="492.15" y2="22.30" stroke="#2f6aa6" stroke-width="1.1" />
<text x="487.85" y="20.20" font-size="6.3" text-anchor="middle" fill="#2f6aa6" stroke="#2f6aa6" stroke-width="0.12">Rej</text>
<text transform="translate(314.90,88.80) rotate(-90) scale(1.0,1)" x="0" y="0" font-size="8.8" text-anchor="middle" fill="#111">Proteomics</text>
<text transform="translate(326.20,88.80) rotate(-90) scale(1.0,1)" x="0" y="0" font-size="9.2" text-anchor="middle" font-weight="bold" fill="#111">oxidized proteins</text>
<text x="6.30" y="14.60" font-size="12.3" text-anchor="start" font-weight="bold" fill="#000" >A</text>
<text x="280.20" y="15.00" font-size="12.3" text-anchor="start" font-weight="bold" fill="#000" >B</text>
<text x="6.30" y="154.00" font-size="12.3" text-anchor="start" font-weight="bold" fill="#000" >C</text>
<text x="6.50" y="420.10" font-size="12.3" text-anchor="start" font-weight="bold" fill="#000" >D</text>
<line x1="33.50" y1="157.00" x2="33.50" y2="196.70" stroke="#231f20" stroke-width="1.0" />
<line x1="30.50" y1="194.50" x2="111.00" y2="194.50" stroke="#231f20" stroke-width="1.0" />
<text transform="translate(27.50,197.40) scale(0.93,1)" x="0" y="0" font-size="8.3" text-anchor="end" fill="#111" >0</text>
<line x1="30.50" y1="183.37" x2="33.50" y2="183.37" stroke="#444" stroke-width="0.9" />
<text transform="translate(27.50,186.27) scale(0.93,1)" x="0" y="0" font-size="8.3" text-anchor="end" fill="#111" >10</text>
<line x1="30.50" y1="172.24" x2="33.50" y2="172.24" stroke="#444" stroke-width="0.9" />
<text transform="translate(27.50,175.14) scale(0.93,1)" x="0" y="0" font-size="8.3" text-anchor="end" fill="#111" >20</text>
<line x1="30.50" y1="161.11" x2="33.50" y2="161.11" stroke="#444" stroke-width="0.9" />
<text transform="translate(27.50,164.01) scale(0.93,1)" x="0" y="0" font-size="8.3" text-anchor="end" fill="#111" >30</text>
<text transform="translate(33.50,205.20) scale(0.93,1)" x="0" y="0" font-size="8.1" text-anchor="middle" fill="#111" >0</text>
<line x1="58.20" y1="194.50" x2="58.20" y2="196.70" stroke="#444" stroke-width="0.9" />
<text transform="translate(58.20,205.20) scale(0.93,1)" x="0" y="0" font-size="8.1" text-anchor="middle" fill="#111" >20</text>
<line x1="82.90" y1="194.50" x2="82.90" y2="196.70" stroke="#444" stroke-width="0.9" />
<text transform="translate(82.90,205.20) scale(0.93,1)" x="0" y="0" font-size="8.1" text-anchor="middle" fill="#111" >40</text>
<line x1="107.60" y1="194.50" x2="107.60" y2="196.70" stroke="#444" stroke-width="0.9" />
<text transform="translate(107.60,205.20) scale(0.93,1)" x="0" y="0" font-size="8.1" text-anchor="middle" fill="#111" >60</text>
<text x="72.00" y="153.90" font-size="7.9" text-anchor="middle" fill="#111" >SNCA</text>
<text transform="translate(12.70,175.40) rotate(-90) scale(0.635,1)" x="0" y="0" font-size="9.4" text-anchor="middle" stroke="#111" stroke-width="0.22" fill="#111">Total</text>
<rect x="33.73" y="172.25" width="2.2" height="2.2" fill="#111111"/>
<line x1="42.25" y1="168.68" x2="42.25" y2="171.35" stroke="#111111" stroke-width="0.5" />
<line x1="41.05" y1="168.68" x2="43.45" y2="168.68" stroke="#111111" stroke-width="0.75" />
<line x1="41.05" y1="171.35" x2="43.45" y2="171.35" stroke="#111111" stroke-width="0.75" />
<rect x="41.15" y="168.91" width="2.2" height="2.2" fill="#111111"/>
<line x1="50.89" y1="173.35" x2="50.89" y2="175.58" stroke="#111111" stroke-width="0.5" />
<line x1="49.69" y1="173.35" x2="52.09" y2="173.35" stroke="#111111" stroke-width="0.75" />
<line x1="49.69" y1="175.58" x2="52.09" y2="175.58" stroke="#111111" stroke-width="0.75" />
<rect x="49.79" y="173.37" width="2.2" height="2.2" fill="#111111"/>
<rect x="58.44" y="177.82" width="2.2" height="2.2" fill="#111111"/>
<line x1="69.41" y1="170.01" x2="69.41" y2="174.47" stroke="#111111" stroke-width="0.5" />
<line x1="68.21" y1="170.01" x2="70.61" y2="170.01" stroke="#111111" stroke-width="0.75" />
<line x1="68.21" y1="174.47" x2="70.61" y2="174.47" stroke="#111111" stroke-width="0.75" />
<rect x="68.31" y="171.14" width="2.2" height="2.2" fill="#111111"/>
<line x1="76.82" y1="171.13" x2="76.82" y2="173.35" stroke="#111111" stroke-width="0.5" />
<line x1="75.62" y1="171.13" x2="78.02" y2="171.13" stroke="#111111" stroke-width="0.75" />
<line x1="75.62" y1="173.35" x2="78.02" y2="173.35" stroke="#111111" stroke-width="0.75" />
<rect x="75.72" y="171.14" width="2.2" height="2.2" fill="#111111"/>
<line x1="85.47" y1="166.68" x2="85.47" y2="170.01" stroke="#111111" stroke-width="0.5" />
<line x1="84.27" y1="166.68" x2="86.67" y2="166.68" stroke="#111111" stroke-width="0.75" />
<line x1="84.27" y1="170.01" x2="86.67" y2="170.01" stroke="#111111" stroke-width="0.75" />
<rect x="84.37" y="167.24" width="2.2" height="2.2" fill="#111111"/>
<line x1="42.25" y1="174.47" x2="42.25" y2="176.69" stroke="#de1f3f" stroke-width="0.5" />
<line x1="41.05" y1="174.47" x2="43.45" y2="174.47" stroke="#de1f3f" stroke-width="0.75" />
<line x1="41.05" y1="176.69" x2="43.45" y2="176.69" stroke="#de1f3f" stroke-width="0.75" />
<rect x="41.15" y="174.48" width="2.2" height="2.2" fill="#de1f3f"/>
<line x1="50.89" y1="171.13" x2="50.89" y2="173.35" stroke="#de1f3f" stroke-width="0.5" />
<line x1="49.69" y1="171.13" x2="52.09" y2="171.13" stroke="#de1f3f" stroke-width="0.75" />
<line x1="49.69" y1="173.35" x2="52.09" y2="173.35" stroke="#de1f3f" stroke-width="0.75" />
<rect x="49.79" y="171.14" width="2.2" height="2.2" fill="#de1f3f"/>
<line x1="59.54" y1="178.03" x2="59.54" y2="179.81" stroke="#de1f3f" stroke-width="0.5" />
<line x1="58.34" y1="178.03" x2="60.74" y2="178.03" stroke="#de1f3f" stroke-width="0.75" />
<line x1="58.34" y1="179.81" x2="60.74" y2="179.81" stroke="#de1f3f" stroke-width="0.75" />
<rect x="58.44" y="177.82" width="2.2" height="2.2" fill="#de1f3f"/>
<line x1="76.82" y1="167.79" x2="76.82" y2="172.24" stroke="#de1f3f" stroke-width="0.5" />
<line x1="75.62" y1="167.79" x2="78.02" y2="167.79" stroke="#de1f3f" stroke-width="0.75" />
<line x1="75.62" y1="172.24" x2="78.02" y2="172.24" stroke="#de1f3f" stroke-width="0.75" />
<rect x="75.72" y="168.91" width="2.2" height="2.2" fill="#de1f3f"/>
<line x1="85.47" y1="168.68" x2="85.47" y2="171.35" stroke="#de1f3f" stroke-width="0.5" />
<line x1="84.27" y1="168.68" x2="86.67" y2="168.68" stroke="#de1f3f" stroke-width="0.75" />
<line x1="84.27" y1="171.35" x2="86.67" y2="171.35" stroke="#de1f3f" stroke-width="0.75" />
<rect x="84.37" y="168.91" width="2.2" height="2.2" fill="#de1f3f"/>
<line x1="94.12" y1="167.79" x2="94.12" y2="171.13" stroke="#de1f3f" stroke-width="0.5" />
<line x1="92.92" y1="167.79" x2="95.32" y2="167.79" stroke="#de1f3f" stroke-width="0.75" />
<line x1="92.92" y1="171.13" x2="95.32" y2="171.13" stroke="#de1f3f" stroke-width="0.75" />
<rect x="93.02" y="168.36" width="2.2" height="2.2" fill="#de1f3f"/>
<line x1="69.41" y1="178.92" x2="69.41" y2="181.14" stroke="#215f9e" stroke-width="0.5" />
<line x1="68.21" y1="178.92" x2="70.61" y2="178.92" stroke="#215f9e" stroke-width="0.75" />
<line x1="68.21" y1="181.14" x2="70.61" y2="181.14" stroke="#215f9e" stroke-width="0.75" />
<rect x="68.31" y="178.93" width="2.2" height="2.2" fill="#215f9e"/>
<line x1="167.50" y1="157.00" x2="167.50" y2="196.70" stroke="#231f20" stroke-width="1.0" />
<line x1="164.50" y1="194.50" x2="245.00" y2="194.50" stroke="#231f20" stroke-width="1.0" />
<text transform="translate(161.50,197.40) scale(0.93,1)" x="0" y="0" font-size="8.3" text-anchor="end" fill="#111" >0</text>
<line x1="164.50" y1="175.40" x2="167.50" y2="175.40" stroke="#444" stroke-width="0.9" />
<text transform="translate(161.50,178.30) scale(0.93,1)" x="0" y="0" font-size="8.3" text-anchor="end" fill="#111" >20</text>
<text transform="translate(167.50,205.20) scale(0.93,1)" x="0" y="0" font-size="8.1" text-anchor="middle" fill="#111" >0</text>
<line x1="192.20" y1="194.50" x2="192.20" y2="196.70" stroke="#444" stroke-width="0.9" />
<text transform="translate(192.20,205.20) scale(0.93,1)" x="0" y="0" font-size="8.1" text-anchor="middle" fill="#111" >20</text>
<line x1="216.90" y1="194.50" x2="216.90" y2="196.70" stroke="#444" stroke-width="0.9" />
<text transform="translate(216.90,205.20) scale(0.93,1)" x="0" y="0" font-size="8.1" text-anchor="middle" fill="#111" >40</text>
<line x1="241.60" y1="194.50" x2="241.60" y2="196.70" stroke="#444" stroke-width="0.9" />
<text transform="translate(241.60,205.20) scale(0.93,1)" x="0" y="0" font-size="8.1" text-anchor="middle" fill="#111" >60</text>
<text x="206.00" y="153.90" font-size="7.9" text-anchor="middle" fill="#111" >PARK7</text>
<rect x="167.74" y="173.34" width="2.2" height="2.2" fill="#111111"/>
<line x1="176.25" y1="169.67" x2="176.25" y2="173.49" stroke="#111111" stroke-width="0.5" />
<line x1="175.05" y1="169.67" x2="177.44" y2="169.67" stroke="#111111" stroke-width="0.75" />
<line x1="175.05" y1="173.49" x2="177.44" y2="173.49" stroke="#111111" stroke-width="0.75" />
<rect x="175.15" y="170.48" width="2.2" height="2.2" fill="#111111"/>
<line x1="184.89" y1="169.67" x2="184.89" y2="173.49" stroke="#111111" stroke-width="0.5" />
<line x1="183.69" y1="169.67" x2="186.09" y2="169.67" stroke="#111111" stroke-width="0.75" />
<line x1="183.69" y1="173.49" x2="186.09" y2="173.49" stroke="#111111" stroke-width="0.75" />
<rect x="183.79" y="170.48" width="2.2" height="2.2" fill="#111111"/>
<line x1="193.53" y1="173.49" x2="193.53" y2="175.40" stroke="#111111" stroke-width="0.5" />
<line x1="192.34" y1="173.49" x2="194.73" y2="173.49" stroke="#111111" stroke-width="0.75" />
<line x1="192.34" y1="175.40" x2="194.73" y2="175.40" stroke="#111111" stroke-width="0.75" />
<rect x="192.44" y="173.34" width="2.2" height="2.2" fill="#111111"/>
<line x1="203.41" y1="175.40" x2="203.41" y2="178.27" stroke="#111111" stroke-width="0.5" />
<line x1="202.22" y1="175.40" x2="204.61" y2="175.40" stroke="#111111" stroke-width="0.75" />
<line x1="202.22" y1="178.27" x2="204.61" y2="178.27" stroke="#111111" stroke-width="0.75" />
<rect x="202.31" y="175.73" width="2.2" height="2.2" fill="#111111"/>
<line x1="210.82" y1="166.33" x2="210.82" y2="171.10" stroke="#111111" stroke-width="0.5" />
<line x1="209.62" y1="166.33" x2="212.02" y2="166.33" stroke="#111111" stroke-width="0.75" />
<line x1="209.62" y1="171.10" x2="212.02" y2="171.10" stroke="#111111" stroke-width="0.75" />
<rect x="209.72" y="167.62" width="2.2" height="2.2" fill="#111111"/>
<line x1="219.47" y1="169.19" x2="219.47" y2="172.06" stroke="#111111" stroke-width="0.5" />
<line x1="218.27" y1="169.19" x2="220.67" y2="169.19" stroke="#111111" stroke-width="0.75" />
<line x1="218.27" y1="172.06" x2="220.67" y2="172.06" stroke="#111111" stroke-width="0.75" />
<rect x="218.37" y="169.53" width="2.2" height="2.2" fill="#111111"/>
<line x1="228.12" y1="168.72" x2="228.12" y2="171.58" stroke="#111111" stroke-width="0.5" />
<line x1="226.92" y1="168.72" x2="229.31" y2="168.72" stroke="#111111" stroke-width="0.75" />
<line x1="226.92" y1="171.58" x2="229.31" y2="171.58" stroke="#111111" stroke-width="0.75" />
<rect x="227.02" y="169.05" width="2.2" height="2.2" fill="#111111"/>
<line x1="176.25" y1="172.06" x2="176.25" y2="174.92" stroke="#de1f3f" stroke-width="0.5" />
<line x1="175.05" y1="172.06" x2="177.44" y2="172.06" stroke="#de1f3f" stroke-width="0.75" />
<line x1="175.05" y1="174.92" x2="177.44" y2="174.92" stroke="#de1f3f" stroke-width="0.75" />
<rect x="175.15" y="172.39" width="2.2" height="2.2" fill="#de1f3f"/>
<line x1="184.89" y1="173.97" x2="184.89" y2="176.83" stroke="#de1f3f" stroke-width="0.5" />
<line x1="183.69" y1="173.97" x2="186.09" y2="173.97" stroke="#de1f3f" stroke-width="0.75" />
<line x1="183.69" y1="176.83" x2="186.09" y2="176.83" stroke="#de1f3f" stroke-width="0.75" />
<rect x="183.79" y="174.30" width="2.2" height="2.2" fill="#de1f3f"/>
<line x1="193.53" y1="173.01" x2="193.53" y2="175.88" stroke="#de1f3f" stroke-width="0.5" />
<line x1="192.34" y1="173.01" x2="194.73" y2="173.01" stroke="#de1f3f" stroke-width="0.75" />
<line x1="192.34" y1="175.88" x2="194.73" y2="175.88" stroke="#de1f3f" stroke-width="0.75" />
<rect x="192.44" y="173.34" width="2.2" height="2.2" fill="#de1f3f"/>
<line x1="210.82" y1="169.67" x2="210.82" y2="173.49" stroke="#de1f3f" stroke-width="0.5" />
<line x1="209.62" y1="169.67" x2="212.02" y2="169.67" stroke="#de1f3f" stroke-width="0.75" />
<line x1="209.62" y1="173.49" x2="212.02" y2="173.49" stroke="#de1f3f" stroke-width="0.75" />
<rect x="209.72" y="170.48" width="2.2" height="2.2" fill="#de1f3f"/>
<line x1="219.47" y1="170.15" x2="219.47" y2="173.01" stroke="#de1f3f" stroke-width="0.5" />
<line x1="218.27" y1="170.15" x2="220.67" y2="170.15" stroke="#de1f3f" stroke-width="0.75" />
<line x1="218.27" y1="173.01" x2="220.67" y2="173.01" stroke="#de1f3f" stroke-width="0.75" />
<rect x="218.37" y="170.48" width="2.2" height="2.2" fill="#de1f3f"/>
<line x1="228.12" y1="169.67" x2="228.12" y2="172.53" stroke="#de1f3f" stroke-width="0.5" />
<line x1="226.92" y1="169.67" x2="229.31" y2="169.67" stroke="#de1f3f" stroke-width="0.75" />
<line x1="226.92" y1="172.53" x2="229.31" y2="172.53" stroke="#de1f3f" stroke-width="0.75" />
<rect x="227.02" y="170.00" width="2.2" height="2.2" fill="#de1f3f"/>
<line x1="203.41" y1="171.10" x2="203.41" y2="174.92" stroke="#215f9e" stroke-width="0.5" />
<line x1="202.22" y1="171.10" x2="204.61" y2="171.10" stroke="#215f9e" stroke-width="0.75" />
<line x1="202.22" y1="174.92" x2="204.61" y2="174.92" stroke="#215f9e" stroke-width="0.75" />
<rect x="202.31" y="171.91" width="2.2" height="2.2" fill="#215f9e"/>
<line x1="301.50" y1="157.00" x2="301.50" y2="196.70" stroke="#231f20" stroke-width="1.0" />
<line x1="298.50" y1="194.50" x2="379.00" y2="194.50" stroke="#231f20" stroke-width="1.0" />
<text transform="translate(295.50,197.40) scale(0.93,1)" x="0" y="0" font-size="8.3" text-anchor="end" fill="#111" >0</text>
<line x1="298.50" y1="177.70" x2="301.50" y2="177.70" stroke="#444" stroke-width="0.9" />
<text transform="translate(295.50,180.60) scale(0.93,1)" x="0" y="0" font-size="8.3" text-anchor="end" fill="#111" >10</text>
<line x1="298.50" y1="160.90" x2="301.50" y2="160.90" stroke="#444" stroke-width="0.9" />
<text transform="translate(295.50,163.80) scale(0.93,1)" x="0" y="0" font-size="8.3" text-anchor="end" fill="#111" >20</text>
<text transform="translate(301.50,205.20) scale(0.93,1)" x="0" y="0" font-size="8.1" text-anchor="middle" fill="#111" >0</text>
<line x1="326.20" y1="194.50" x2="326.20" y2="196.70" stroke="#444" stroke-width="0.9" />
<text transform="translate(326.20,205.20) scale(0.93,1)" x="0" y="0" font-size="8.1" text-anchor="middle" fill="#111" >20</text>
<line x1="350.90" y1="194.50" x2="350.90" y2="196.70" stroke="#444" stroke-width="0.9" />
<text transform="translate(350.90,205.20) scale(0.93,1)" x="0" y="0" font-size="8.1" text-anchor="middle" fill="#111" >40</text>
<line x1="375.60" y1="194.50" x2="375.60" y2="196.70" stroke="#444" stroke-width="0.9" />
<text transform="translate(375.60,205.20) scale(0.93,1)" x="0" y="0" font-size="8.1" text-anchor="middle" fill="#111" >60</text>
<text x="340.00" y="153.90" font-size="7.9" text-anchor="middle" fill="#111" >DDI2</text>
<rect x="301.74" y="178.78" width="2.2" height="2.2" fill="#111111"/>
<line x1="310.25" y1="177.70" x2="310.25" y2="181.06" stroke="#111111" stroke-width="0.5" />
<line x1="309.05" y1="177.70" x2="311.44" y2="177.70" stroke="#111111" stroke-width="0.75" />
<line x1="309.05" y1="181.06" x2="311.44" y2="181.06" stroke="#111111" stroke-width="0.75" />
<rect x="309.14" y="178.28" width="2.2" height="2.2" fill="#111111"/>
<line x1="318.89" y1="171.32" x2="318.89" y2="177.36" stroke="#111111" stroke-width="0.5" />
<line x1="317.69" y1="171.32" x2="320.09" y2="171.32" stroke="#111111" stroke-width="0.75" />
<line x1="317.69" y1="177.36" x2="320.09" y2="177.36" stroke="#111111" stroke-width="0.75" />
<rect x="317.79" y="173.24" width="2.2" height="2.2" fill="#111111"/>
<line x1="327.54" y1="175.01" x2="327.54" y2="179.38" stroke="#111111" stroke-width="0.5" />
<line x1="326.34" y1="175.01" x2="328.74" y2="175.01" stroke="#111111" stroke-width="0.75" />
<line x1="326.34" y1="179.38" x2="328.74" y2="179.38" stroke="#111111" stroke-width="0.75" />
<rect x="326.44" y="176.10" width="2.2" height="2.2" fill="#111111"/>
<line x1="337.42" y1="167.62" x2="337.42" y2="174.34" stroke="#111111" stroke-width="0.5" />
<line x1="336.22" y1="167.62" x2="338.62" y2="167.62" stroke="#111111" stroke-width="0.75" />
<line x1="336.22" y1="174.34" x2="338.62" y2="174.34" stroke="#111111" stroke-width="0.75" />
<rect x="336.31" y="169.88" width="2.2" height="2.2" fill="#111111"/>
<line x1="344.83" y1="175.52" x2="344.83" y2="178.88" stroke="#111111" stroke-width="0.5" />
<line x1="343.63" y1="175.52" x2="346.03" y2="175.52" stroke="#111111" stroke-width="0.75" />
<line x1="343.63" y1="178.88" x2="346.03" y2="178.88" stroke="#111111" stroke-width="0.75" />
<rect x="343.73" y="176.10" width="2.2" height="2.2" fill="#111111"/>
<line x1="353.47" y1="177.20" x2="353.47" y2="180.56" stroke="#111111" stroke-width="0.5" />
<line x1="352.27" y1="177.20" x2="354.67" y2="177.20" stroke="#111111" stroke-width="0.75" />
<line x1="352.27" y1="180.56" x2="354.67" y2="180.56" stroke="#111111" stroke-width="0.75" />
<rect x="352.37" y="177.78" width="2.2" height="2.2" fill="#111111"/>
<line x1="362.12" y1="175.01" x2="362.12" y2="178.37" stroke="#111111" stroke-width="0.5" />
<line x1="360.92" y1="175.01" x2="363.31" y2="175.01" stroke="#111111" stroke-width="0.75" />
<line x1="360.92" y1="178.37" x2="363.31" y2="178.37" stroke="#111111" stroke-width="0.75" />
<rect x="361.01" y="175.59" width="2.2" height="2.2" fill="#111111"/>
<line x1="310.25" y1="174.68" x2="310.25" y2="180.72" stroke="#de1f3f" stroke-width="0.5" />
<line x1="309.05" y1="174.68" x2="311.44" y2="174.68" stroke="#de1f3f" stroke-width="0.75" />
<line x1="309.05" y1="180.72" x2="311.44" y2="180.72" stroke="#de1f3f" stroke-width="0.75" />
<rect x="309.14" y="176.60" width="2.2" height="2.2" fill="#de1f3f"/>
<line x1="318.89" y1="175.01" x2="318.89" y2="178.37" stroke="#de1f3f" stroke-width="0.5" />
<line x1="317.69" y1="175.01" x2="320.09" y2="175.01" stroke="#de1f3f" stroke-width="0.75" />
<line x1="317.69" y1="178.37" x2="320.09" y2="178.37" stroke="#de1f3f" stroke-width="0.75" />
<rect x="317.79" y="175.59" width="2.2" height="2.2" fill="#de1f3f"/>
<line x1="327.54" y1="171.15" x2="327.54" y2="176.19" stroke="#de1f3f" stroke-width="0.5" />
<line x1="326.34" y1="171.15" x2="328.74" y2="171.15" stroke="#de1f3f" stroke-width="0.75" />
<line x1="326.34" y1="176.19" x2="328.74" y2="176.19" stroke="#de1f3f" stroke-width="0.75" />
<rect x="326.44" y="172.57" width="2.2" height="2.2" fill="#de1f3f"/>
<line x1="344.83" y1="176.52" x2="344.83" y2="179.88" stroke="#de1f3f" stroke-width="0.5" />
<line x1="343.63" y1="176.52" x2="346.03" y2="176.52" stroke="#de1f3f" stroke-width="0.75" />
<line x1="343.63" y1="179.88" x2="346.03" y2="179.88" stroke="#de1f3f" stroke-width="0.75" />
<rect x="343.73" y="177.10" width="2.2" height="2.2" fill="#de1f3f"/>
<line x1="353.47" y1="180.22" x2="353.47" y2="184.59" stroke="#de1f3f" stroke-width="0.5" />
<line x1="352.27" y1="180.22" x2="354.67" y2="180.22" stroke="#de1f3f" stroke-width="0.75" />
<line x1="352.27" y1="184.59" x2="354.67" y2="184.59" stroke="#de1f3f" stroke-width="0.75" />
<rect x="352.37" y="181.30" width="2.2" height="2.2" fill="#de1f3f"/>
<line x1="362.12" y1="179.04" x2="362.12" y2="183.08" stroke="#de1f3f" stroke-width="0.5" />
<line x1="360.92" y1="179.04" x2="363.31" y2="179.04" stroke="#de1f3f" stroke-width="0.75" />
<line x1="360.92" y1="183.08" x2="363.31" y2="183.08" stroke="#de1f3f" stroke-width="0.75" />
<rect x="361.01" y="179.96" width="2.2" height="2.2" fill="#de1f3f"/>
<line x1="337.42" y1="169.30" x2="337.42" y2="173.33" stroke="#215f9e" stroke-width="0.5" />
<line x1="336.22" y1="169.30" x2="338.62" y2="169.30" stroke="#215f9e" stroke-width="0.75" />
<line x1="336.22" y1="173.33" x2="338.62" y2="173.33" stroke="#215f9e" stroke-width="0.75" />
<rect x="336.31" y="170.22" width="2.2" height="2.2" fill="#215f9e"/>
<line x1="435.50" y1="157.00" x2="435.50" y2="196.70" stroke="#231f20" stroke-width="1.0" />
<line x1="432.50" y1="194.50" x2="513.00" y2="194.50" stroke="#231f20" stroke-width="1.0" />
<text transform="translate(429.50,197.40) scale(0.93,1)" x="0" y="0" font-size="8.3" text-anchor="end" fill="#111" >0</text>
<line x1="432.50" y1="180.40" x2="435.50" y2="180.40" stroke="#444" stroke-width="0.9" />
<text transform="translate(429.50,183.30) scale(0.93,1)" x="0" y="0" font-size="8.3" text-anchor="end" fill="#111" >10</text>
<line x1="432.50" y1="166.30" x2="435.50" y2="166.30" stroke="#444" stroke-width="0.9" />
<text transform="translate(429.50,169.20) scale(0.93,1)" x="0" y="0" font-size="8.3" text-anchor="end" fill="#111" >20</text>
<text transform="translate(435.50,205.20) scale(0.93,1)" x="0" y="0" font-size="8.1" text-anchor="middle" fill="#111" >0</text>
<line x1="460.20" y1="194.50" x2="460.20" y2="196.70" stroke="#444" stroke-width="0.9" />
<text transform="translate(460.20,205.20) scale(0.93,1)" x="0" y="0" font-size="8.1" text-anchor="middle" fill="#111" >20</text>
<line x1="484.90" y1="194.50" x2="484.90" y2="196.70" stroke="#444" stroke-width="0.9" />
<text transform="translate(484.90,205.20) scale(0.93,1)" x="0" y="0" font-size="8.1" text-anchor="middle" fill="#111" >40</text>
<line x1="509.60" y1="194.50" x2="509.60" y2="196.70" stroke="#444" stroke-width="0.9" />
<text transform="translate(509.60,205.20) scale(0.93,1)" x="0" y="0" font-size="8.1" text-anchor="middle" fill="#111" >60</text>
<text x="474.00" y="153.90" font-size="7.9" text-anchor="middle" fill="#111" >PCMT1</text>
<line x1="436.84" y1="174.76" x2="436.84" y2="177.58" stroke="#111111" stroke-width="0.5" />
<line x1="435.64" y1="174.76" x2="438.04" y2="174.76" stroke="#111111" stroke-width="0.75" />
<line x1="435.64" y1="177.58" x2="438.04" y2="177.58" stroke="#111111" stroke-width="0.75" />
<rect x="435.74" y="175.07" width="2.2" height="2.2" fill="#111111"/>
<line x1="444.25" y1="172.93" x2="444.25" y2="175.75" stroke="#111111" stroke-width="0.5" />
<line x1="443.05" y1="172.93" x2="445.44" y2="172.93" stroke="#111111" stroke-width="0.75" />
<line x1="443.05" y1="175.75" x2="445.44" y2="175.75" stroke="#111111" stroke-width="0.75" />
<rect x="443.14" y="173.24" width="2.2" height="2.2" fill="#111111"/>
<line x1="452.89" y1="171.09" x2="452.89" y2="173.91" stroke="#111111" stroke-width="0.5" />
<line x1="451.69" y1="171.09" x2="454.09" y2="171.09" stroke="#111111" stroke-width="0.75" />
<line x1="451.69" y1="173.91" x2="454.09" y2="173.91" stroke="#111111" stroke-width="0.75" />
<rect x="451.79" y="171.40" width="2.2" height="2.2" fill="#111111"/>
<line x1="461.54" y1="175.47" x2="461.54" y2="178.28" stroke="#111111" stroke-width="0.5" />
<line x1="460.34" y1="175.47" x2="462.74" y2="175.47" stroke="#111111" stroke-width="0.75" />
<line x1="460.34" y1="178.28" x2="462.74" y2="178.28" stroke="#111111" stroke-width="0.75" />
<rect x="460.44" y="175.78" width="2.2" height="2.2" fill="#111111"/>
<line x1="471.42" y1="173.35" x2="471.42" y2="176.17" stroke="#111111" stroke-width="0.5" />
<line x1="470.22" y1="173.35" x2="472.62" y2="173.35" stroke="#111111" stroke-width="0.75" />
<line x1="470.22" y1="176.17" x2="472.62" y2="176.17" stroke="#111111" stroke-width="0.75" />
<rect x="470.31" y="173.66" width="2.2" height="2.2" fill="#111111"/>
<line x1="478.83" y1="169.97" x2="478.83" y2="172.79" stroke="#111111" stroke-width="0.5" />
<line x1="477.63" y1="169.97" x2="480.03" y2="169.97" stroke="#111111" stroke-width="0.75" />
<line x1="477.63" y1="172.79" x2="480.03" y2="172.79" stroke="#111111" stroke-width="0.75" />
<rect x="477.73" y="170.28" width="2.2" height="2.2" fill="#111111"/>
<line x1="487.47" y1="169.83" x2="487.47" y2="172.65" stroke="#111111" stroke-width="0.5" />
<line x1="486.27" y1="169.83" x2="488.67" y2="169.83" stroke="#111111" stroke-width="0.75" />
<line x1="486.27" y1="172.65" x2="488.67" y2="172.65" stroke="#111111" stroke-width="0.75" />
<rect x="486.37" y="170.14" width="2.2" height="2.2" fill="#111111"/>
<line x1="496.12" y1="166.72" x2="496.12" y2="170.11" stroke="#111111" stroke-width="0.5" />
<line x1="494.92" y1="166.72" x2="497.31" y2="166.72" stroke="#111111" stroke-width="0.75" />
<line x1="494.92" y1="170.11" x2="497.31" y2="170.11" stroke="#111111" stroke-width="0.75" />
<rect x="495.01" y="167.31" width="2.2" height="2.2" fill="#111111"/>
<line x1="444.25" y1="174.76" x2="444.25" y2="177.58" stroke="#de1f3f" stroke-width="0.5" />
<line x1="443.05" y1="174.76" x2="445.44" y2="174.76" stroke="#de1f3f" stroke-width="0.75" />
<line x1="443.05" y1="177.58" x2="445.44" y2="177.58" stroke="#de1f3f" stroke-width="0.75" />
<rect x="443.14" y="175.07" width="2.2" height="2.2" fill="#de1f3f"/>
<line x1="452.89" y1="174.06" x2="452.89" y2="178.29" stroke="#de1f3f" stroke-width="0.5" />
<line x1="451.69" y1="174.06" x2="454.09" y2="174.06" stroke="#de1f3f" stroke-width="0.75" />
<line x1="451.69" y1="178.29" x2="454.09" y2="178.29" stroke="#de1f3f" stroke-width="0.75" />
<rect x="451.79" y="175.07" width="2.2" height="2.2" fill="#de1f3f"/>
<line x1="461.54" y1="174.06" x2="461.54" y2="178.29" stroke="#de1f3f" stroke-width="0.5" />
<line x1="460.34" y1="174.06" x2="462.74" y2="174.06" stroke="#de1f3f" stroke-width="0.75" />
<line x1="460.34" y1="178.29" x2="462.74" y2="178.29" stroke="#de1f3f" stroke-width="0.75" />
<rect x="460.44" y="175.07" width="2.2" height="2.2" fill="#de1f3f"/>
<line x1="478.83" y1="173.63" x2="478.83" y2="175.89" stroke="#de1f3f" stroke-width="0.5" />
<line x1="477.63" y1="173.63" x2="480.03" y2="173.63" stroke="#de1f3f" stroke-width="0.75" />
<line x1="477.63" y1="175.89" x2="480.03" y2="175.89" stroke="#de1f3f" stroke-width="0.75" />
<rect x="477.73" y="173.66" width="2.2" height="2.2" fill="#de1f3f"/>
<line x1="487.47" y1="168.13" x2="487.47" y2="172.36" stroke="#de1f3f" stroke-width="0.5" />
<line x1="486.27" y1="168.13" x2="488.67" y2="168.13" stroke="#de1f3f" stroke-width="0.75" />
<line x1="486.27" y1="172.36" x2="488.67" y2="172.36" stroke="#de1f3f" stroke-width="0.75" />
<rect x="486.37" y="169.15" width="2.2" height="2.2" fill="#de1f3f"/>
<line x1="496.12" y1="171.94" x2="496.12" y2="175.61" stroke="#de1f3f" stroke-width="0.5" />
<line x1="494.92" y1="171.94" x2="497.31" y2="171.94" stroke="#de1f3f" stroke-width="0.75" />
<line x1="494.92" y1="175.61" x2="497.31" y2="175.61" stroke="#de1f3f" stroke-width="0.75" />
<rect x="495.01" y="172.67" width="2.2" height="2.2" fill="#de1f3f"/>
<line x1="471.42" y1="174.48" x2="471.42" y2="177.86" stroke="#215f9e" stroke-width="0.5" />
<line x1="470.22" y1="174.48" x2="472.62" y2="174.48" stroke="#215f9e" stroke-width="0.75" />
<line x1="470.22" y1="177.86" x2="472.62" y2="177.86" stroke="#215f9e" stroke-width="0.75" />
<rect x="470.31" y="175.07" width="2.2" height="2.2" fill="#215f9e"/>
<line x1="33.50" y1="221.00" x2="33.50" y2="260.70" stroke="#231f20" stroke-width="1.0" />
<line x1="30.50" y1="258.50" x2="111.00" y2="258.50" stroke="#231f20" stroke-width="1.0" />
<text transform="translate(27.50,261.40) scale(0.93,1)" x="0" y="0" font-size="8.3" text-anchor="end" fill="#111" >0</text>
<line x1="30.50" y1="241.65" x2="33.50" y2="241.65" stroke="#444" stroke-width="0.9" />
<text transform="translate(27.50,244.55) scale(0.93,1)" x="0" y="0" font-size="8.3" text-anchor="end" fill="#111" >1</text>
<line x1="30.50" y1="224.80" x2="33.50" y2="224.80" stroke="#444" stroke-width="0.9" />
<text transform="translate(27.50,227.70) scale(0.93,1)" x="0" y="0" font-size="8.3" text-anchor="end" fill="#111" >2</text>
<text transform="translate(33.50,269.20) scale(0.93,1)" x="0" y="0" font-size="8.1" text-anchor="middle" fill="#111" >0</text>
<line x1="58.20" y1="258.50" x2="58.20" y2="260.70" stroke="#444" stroke-width="0.9" />
<text transform="translate(58.20,269.20) scale(0.93,1)" x="0" y="0" font-size="8.1" text-anchor="middle" fill="#111" >20</text>
<line x1="82.90" y1="258.50" x2="82.90" y2="260.70" stroke="#444" stroke-width="0.9" />
<text transform="translate(82.90,269.20) scale(0.93,1)" x="0" y="0" font-size="8.1" text-anchor="middle" fill="#111" >40</text>
<line x1="107.60" y1="258.50" x2="107.60" y2="260.70" stroke="#444" stroke-width="0.9" />
<text transform="translate(107.60,269.20) scale(0.93,1)" x="0" y="0" font-size="8.1" text-anchor="middle" fill="#111" >60</text>
<text x="72.00" y="221.00" font-size="7.9" text-anchor="middle" fill="#111" >SNCA</text>
<text transform="translate(17.40,239.50) rotate(-90) scale(0.635,1)" x="0" y="0" font-size="9.4" text-anchor="middle" stroke="#111" stroke-width="0.22" fill="#111">Oxidation</text>
<rect x="33.73" y="257.40" width="2.2" height="2.2" fill="#111111"/>
<rect x="41.15" y="257.40" width="2.2" height="2.2" fill="#de1f3f"/>
<rect x="49.79" y="257.40" width="2.2" height="2.2" fill="#de1f3f"/>
<rect x="58.44" y="257.40" width="2.2" height="2.2" fill="#de1f3f"/>
<rect x="75.72" y="257.40" width="2.2" height="2.2" fill="#de1f3f"/>
<rect x="84.37" y="257.40" width="2.2" height="2.2" fill="#de1f3f"/>
<rect x="93.02" y="257.40" width="2.2" height="2.2" fill="#de1f3f"/>
<rect x="68.31" y="257.40" width="2.2" height="2.2" fill="#215f9e"/>
<line x1="167.50" y1="221.00" x2="167.50" y2="260.70" stroke="#231f20" stroke-width="1.0" />
<line x1="164.50" y1="258.50" x2="245.00" y2="258.50" stroke="#231f20" stroke-width="1.0" />
<text transform="translate(161.50,261.40) scale(0.93,1)" x="0" y="0" font-size="8.3" text-anchor="end" fill="#111" >0</text>
<line x1="164.50" y1="240.00" x2="167.50" y2="240.00" stroke="#444" stroke-width="0.9" />
<text transform="translate(161.50,242.90) scale(0.93,1)" x="0" y="0" font-size="8.3" text-anchor="end" fill="#111" >5</text>
<text transform="translate(167.50,269.20) scale(0.93,1)" x="0" y="0" font-size="8.1" text-anchor="middle" fill="#111" >0</text>
<line x1="192.20" y1="258.50" x2="192.20" y2="260.70" stroke="#444" stroke-width="0.9" />
<text transform="translate(192.20,269.20) scale(0.93,1)" x="0" y="0" font-size="8.1" text-anchor="middle" fill="#111" >20</text>
<line x1="216.90" y1="258.50" x2="216.90" y2="260.70" stroke="#444" stroke-width="0.9" />
<text transform="translate(216.90,269.20) scale(0.93,1)" x="0" y="0" font-size="8.1" text-anchor="middle" fill="#111" >40</text>
<line x1="241.60" y1="258.50" x2="241.60" y2="260.70" stroke="#444" stroke-width="0.9" />
<text transform="translate(241.60,269.20) scale(0.93,1)" x="0" y="0" font-size="8.1" text-anchor="middle" fill="#111" >60</text>
<text x="206.00" y="221.00" font-size="7.9" text-anchor="middle" fill="#111" >PARK7</text>
<rect x="167.74" y="257.40" width="2.2" height="2.2" fill="#111111"/>
<line x1="176.25" y1="252.21" x2="176.25" y2="255.91" stroke="#111111" stroke-width="0.5" />
<line x1="175.05" y1="252.21" x2="177.44" y2="252.21" stroke="#111111" stroke-width="0.75" />
<line x1="175.05" y1="255.91" x2="177.44" y2="255.91" stroke="#111111" stroke-width="0.75" />
<rect x="175.15" y="252.96" width="2.2" height="2.2" fill="#111111"/>
<line x1="184.89" y1="250.36" x2="184.89" y2="255.54" stroke="#111111" stroke-width="0.5" />
<line x1="183.69" y1="250.36" x2="186.09" y2="250.36" stroke="#111111" stroke-width="0.75" />
<line x1="183.69" y1="255.54" x2="186.09" y2="255.54" stroke="#111111" stroke-width="0.75" />
<rect x="183.79" y="251.85" width="2.2" height="2.2" fill="#111111"/>
<line x1="193.53" y1="248.14" x2="193.53" y2="252.58" stroke="#111111" stroke-width="0.5" />
<line x1="192.34" y1="248.14" x2="194.73" y2="248.14" stroke="#111111" stroke-width="0.75" />
<line x1="192.34" y1="252.58" x2="194.73" y2="252.58" stroke="#111111" stroke-width="0.75" />
<rect x="192.44" y="249.26" width="2.2" height="2.2" fill="#111111"/>
<line x1="203.41" y1="252.21" x2="203.41" y2="255.91" stroke="#111111" stroke-width="0.5" />
<line x1="202.22" y1="252.21" x2="204.61" y2="252.21" stroke="#111111" stroke-width="0.75" />
<line x1="202.22" y1="255.91" x2="204.61" y2="255.91" stroke="#111111" stroke-width="0.75" />
<rect x="202.31" y="252.96" width="2.2" height="2.2" fill="#111111"/>
<line x1="210.82" y1="233.34" x2="210.82" y2="238.52" stroke="#111111" stroke-width="0.5" />
<line x1="209.62" y1="233.34" x2="212.02" y2="233.34" stroke="#111111" stroke-width="0.75" />
<line x1="209.62" y1="238.52" x2="212.02" y2="238.52" stroke="#111111" stroke-width="0.75" />
<rect x="209.72" y="234.83" width="2.2" height="2.2" fill="#111111"/>
<line x1="219.47" y1="237.41" x2="219.47" y2="241.85" stroke="#111111" stroke-width="0.5" />
<line x1="218.27" y1="237.41" x2="220.67" y2="237.41" stroke="#111111" stroke-width="0.75" />
<line x1="218.27" y1="241.85" x2="220.67" y2="241.85" stroke="#111111" stroke-width="0.75" />
<rect x="218.37" y="238.53" width="2.2" height="2.2" fill="#111111"/>
<line x1="228.12" y1="230.75" x2="228.12" y2="235.93" stroke="#111111" stroke-width="0.5" />
<line x1="226.92" y1="230.75" x2="229.31" y2="230.75" stroke="#111111" stroke-width="0.75" />
<line x1="226.92" y1="235.93" x2="229.31" y2="235.93" stroke="#111111" stroke-width="0.75" />
<rect x="227.02" y="232.24" width="2.2" height="2.2" fill="#111111"/>
<line x1="176.25" y1="252.95" x2="176.25" y2="256.65" stroke="#de1f3f" stroke-width="0.5" />
<line x1="175.05" y1="252.95" x2="177.44" y2="252.95" stroke="#de1f3f" stroke-width="0.75" />
<line x1="175.05" y1="256.65" x2="177.44" y2="256.65" stroke="#de1f3f" stroke-width="0.75" />
<rect x="175.15" y="253.70" width="2.2" height="2.2" fill="#de1f3f"/>
<line x1="184.89" y1="253.69" x2="184.89" y2="257.39" stroke="#de1f3f" stroke-width="0.5" />
<line x1="183.69" y1="253.69" x2="186.09" y2="253.69" stroke="#de1f3f" stroke-width="0.75" />
<line x1="183.69" y1="257.39" x2="186.09" y2="257.39" stroke="#de1f3f" stroke-width="0.75" />
<rect x="183.79" y="254.44" width="2.2" height="2.2" fill="#de1f3f"/>
<line x1="193.53" y1="250.73" x2="193.53" y2="254.43" stroke="#de1f3f" stroke-width="0.5" />
<line x1="192.34" y1="250.73" x2="194.73" y2="250.73" stroke="#de1f3f" stroke-width="0.75" />
<line x1="192.34" y1="254.43" x2="194.73" y2="254.43" stroke="#de1f3f" stroke-width="0.75" />
<rect x="192.44" y="251.48" width="2.2" height="2.2" fill="#de1f3f"/>
<line x1="210.82" y1="245.92" x2="210.82" y2="248.88" stroke="#de1f3f" stroke-width="0.5" />
<line x1="209.62" y1="245.92" x2="212.02" y2="245.92" stroke="#de1f3f" stroke-width="0.75" />
<line x1="209.62" y1="248.88" x2="212.02" y2="248.88" stroke="#de1f3f" stroke-width="0.75" />
<rect x="209.72" y="246.30" width="2.2" height="2.2" fill="#de1f3f"/>
<line x1="219.47" y1="235.56" x2="219.47" y2="240.00" stroke="#de1f3f" stroke-width="0.5" />
<line x1="218.27" y1="235.56" x2="220.67" y2="235.56" stroke="#de1f3f" stroke-width="0.75" />
<line x1="218.27" y1="240.00" x2="220.67" y2="240.00" stroke="#de1f3f" stroke-width="0.75" />
<rect x="218.37" y="236.68" width="2.2" height="2.2" fill="#de1f3f"/>
<line x1="228.12" y1="237.41" x2="228.12" y2="243.33" stroke="#de1f3f" stroke-width="0.5" />
<line x1="226.92" y1="237.41" x2="229.31" y2="237.41" stroke="#de1f3f" stroke-width="0.75" />
<line x1="226.92" y1="243.33" x2="229.31" y2="243.33" stroke="#de1f3f" stroke-width="0.75" />
<rect x="227.02" y="239.27" width="2.2" height="2.2" fill="#de1f3f"/>
<line x1="203.41" y1="252.58" x2="203.41" y2="256.28" stroke="#215f9e" stroke-width="0.5" />
<line x1="202.22" y1="252.58" x2="204.61" y2="252.58" stroke="#215f9e" stroke-width="0.75" />
<line x1="202.22" y1="256.28" x2="204.61" y2="256.28" stroke="#215f9e" stroke-width="0.75" />
<rect x="202.31" y="253.33" width="2.2" height="2.2" fill="#215f9e"/>
<line x1="301.50" y1="221.00" x2="301.50" y2="260.70" stroke="#231f20" stroke-width="1.0" />
<line x1="298.50" y1="258.50" x2="379.00" y2="258.50" stroke="#231f20" stroke-width="1.0" />
<text transform="translate(295.50,261.40) scale(0.93,1)" x="0" y="0" font-size="8.3" text-anchor="end" fill="#111" >0</text>
<line x1="298.50" y1="230.30" x2="301.50" y2="230.30" stroke="#444" stroke-width="0.9" />
<text transform="translate(295.50,233.20) scale(0.93,1)" x="0" y="0" font-size="8.3" text-anchor="end" fill="#111" >5</text>
<text transform="translate(301.50,269.20) scale(0.93,1)" x="0" y="0" font-size="8.1" text-anchor="middle" fill="#111" >0</text>
<line x1="326.20" y1="258.50" x2="326.20" y2="260.70" stroke="#444" stroke-width="0.9" />
<text transform="translate(326.20,269.20) scale(0.93,1)" x="0" y="0" font-size="8.1" text-anchor="middle" fill="#111" >20</text>
<line x1="350.90" y1="258.50" x2="350.90" y2="260.70" stroke="#444" stroke-width="0.9" />
<text transform="translate(350.90,269.20) scale(0.93,1)" x="0" y="0" font-size="8.1" text-anchor="middle" fill="#111" >40</text>
<line x1="375.60" y1="258.50" x2="375.60" y2="260.70" stroke="#444" stroke-width="0.9" />
<text transform="translate(375.60,269.20) scale(0.93,1)" x="0" y="0" font-size="8.1" text-anchor="middle" fill="#111" >60</text>
<text x="340.00" y="221.00" font-size="7.9" text-anchor="middle" fill="#111" >DDI2</text>
<rect x="301.74" y="257.40" width="2.2" height="2.2" fill="#111111"/>
<line x1="310.25" y1="254.55" x2="310.25" y2="257.94" stroke="#111111" stroke-width="0.5" />
<line x1="309.05" y1="254.55" x2="311.44" y2="254.55" stroke="#111111" stroke-width="0.75" />
<line x1="309.05" y1="257.94" x2="311.44" y2="257.94" stroke="#111111" stroke-width="0.75" />
<rect x="309.14" y="255.14" width="2.2" height="2.2" fill="#111111"/>
<line x1="318.89" y1="246.09" x2="318.89" y2="252.86" stroke="#111111" stroke-width="0.5" />
<line x1="317.69" y1="246.09" x2="320.09" y2="246.09" stroke="#111111" stroke-width="0.75" />
<line x1="317.69" y1="252.86" x2="320.09" y2="252.86" stroke="#111111" stroke-width="0.75" />
<rect x="317.79" y="248.38" width="2.2" height="2.2" fill="#111111"/>
<line x1="327.54" y1="246.09" x2="327.54" y2="251.73" stroke="#111111" stroke-width="0.5" />
<line x1="326.34" y1="246.09" x2="328.74" y2="246.09" stroke="#111111" stroke-width="0.75" />
<line x1="326.34" y1="251.73" x2="328.74" y2="251.73" stroke="#111111" stroke-width="0.75" />
<rect x="326.44" y="247.81" width="2.2" height="2.2" fill="#111111"/>
<line x1="337.42" y1="234.81" x2="337.42" y2="240.45" stroke="#111111" stroke-width="0.5" />
<line x1="336.22" y1="234.81" x2="338.62" y2="234.81" stroke="#111111" stroke-width="0.75" />
<line x1="336.22" y1="240.45" x2="338.62" y2="240.45" stroke="#111111" stroke-width="0.75" />
<rect x="336.31" y="236.53" width="2.2" height="2.2" fill="#111111"/>
<line x1="344.83" y1="250.04" x2="344.83" y2="254.55" stroke="#111111" stroke-width="0.5" />
<line x1="343.63" y1="250.04" x2="346.03" y2="250.04" stroke="#111111" stroke-width="0.75" />
<line x1="343.63" y1="254.55" x2="346.03" y2="254.55" stroke="#111111" stroke-width="0.75" />
<rect x="343.73" y="251.20" width="2.2" height="2.2" fill="#111111"/>
<line x1="353.47" y1="244.96" x2="353.47" y2="251.73" stroke="#111111" stroke-width="0.5" />
<line x1="352.27" y1="244.96" x2="354.67" y2="244.96" stroke="#111111" stroke-width="0.75" />
<line x1="352.27" y1="251.73" x2="354.67" y2="251.73" stroke="#111111" stroke-width="0.75" />
<rect x="352.37" y="247.25" width="2.2" height="2.2" fill="#111111"/>
<line x1="362.12" y1="242.71" x2="362.12" y2="248.35" stroke="#111111" stroke-width="0.5" />
<line x1="360.92" y1="242.71" x2="363.31" y2="242.71" stroke="#111111" stroke-width="0.75" />
<line x1="360.92" y1="248.35" x2="363.31" y2="248.35" stroke="#111111" stroke-width="0.75" />
<rect x="361.01" y="244.43" width="2.2" height="2.2" fill="#111111"/>
<line x1="310.25" y1="252.86" x2="310.25" y2="258.50" stroke="#de1f3f" stroke-width="0.5" />
<line x1="309.05" y1="252.86" x2="311.44" y2="252.86" stroke="#de1f3f" stroke-width="0.75" />
<line x1="309.05" y1="258.50" x2="311.44" y2="258.50" stroke="#de1f3f" stroke-width="0.75" />
<rect x="309.14" y="254.58" width="2.2" height="2.2" fill="#de1f3f"/>
<line x1="318.89" y1="252.86" x2="318.89" y2="257.37" stroke="#de1f3f" stroke-width="0.5" />
<line x1="317.69" y1="252.86" x2="320.09" y2="252.86" stroke="#de1f3f" stroke-width="0.75" />
<line x1="317.69" y1="257.37" x2="320.09" y2="257.37" stroke="#de1f3f" stroke-width="0.75" />
<rect x="317.79" y="254.02" width="2.2" height="2.2" fill="#de1f3f"/>
<line x1="327.54" y1="247.78" x2="327.54" y2="253.42" stroke="#de1f3f" stroke-width="0.5" />
<line x1="326.34" y1="247.78" x2="328.74" y2="247.78" stroke="#de1f3f" stroke-width="0.75" />
<line x1="326.34" y1="253.42" x2="328.74" y2="253.42" stroke="#de1f3f" stroke-width="0.75" />
<rect x="326.44" y="249.50" width="2.2" height="2.2" fill="#de1f3f"/>
<line x1="344.83" y1="248.35" x2="344.83" y2="252.86" stroke="#de1f3f" stroke-width="0.5" />
<line x1="343.63" y1="248.35" x2="346.03" y2="248.35" stroke="#de1f3f" stroke-width="0.75" />
<line x1="343.63" y1="252.86" x2="346.03" y2="252.86" stroke="#de1f3f" stroke-width="0.75" />
<rect x="343.73" y="249.50" width="2.2" height="2.2" fill="#de1f3f"/>
<line x1="353.47" y1="248.91" x2="353.47" y2="254.55" stroke="#de1f3f" stroke-width="0.5" />
<line x1="352.27" y1="248.91" x2="354.67" y2="248.91" stroke="#de1f3f" stroke-width="0.75" />
<line x1="352.27" y1="254.55" x2="354.67" y2="254.55" stroke="#de1f3f" stroke-width="0.75" />
<rect x="352.37" y="250.63" width="2.2" height="2.2" fill="#de1f3f"/>
<line x1="362.12" y1="247.78" x2="362.12" y2="253.42" stroke="#de1f3f" stroke-width="0.5" />
<line x1="360.92" y1="247.78" x2="363.31" y2="247.78" stroke="#de1f3f" stroke-width="0.75" />
<line x1="360.92" y1="253.42" x2="363.31" y2="253.42" stroke="#de1f3f" stroke-width="0.75" />
<rect x="361.01" y="249.50" width="2.2" height="2.2" fill="#de1f3f"/>
<line x1="337.42" y1="238.20" x2="337.42" y2="243.84" stroke="#215f9e" stroke-width="0.5" />
<line x1="336.22" y1="238.20" x2="338.62" y2="238.20" stroke="#215f9e" stroke-width="0.75" />
<line x1="336.22" y1="243.84" x2="338.62" y2="243.84" stroke="#215f9e" stroke-width="0.75" />
<rect x="336.31" y="239.92" width="2.2" height="2.2" fill="#215f9e"/>
<line x1="435.50" y1="221.00" x2="435.50" y2="260.70" stroke="#231f20" stroke-width="1.0" />
<line x1="432.50" y1="258.50" x2="513.00" y2="258.50" stroke="#231f20" stroke-width="1.0" />
<text transform="translate(429.50,261.40) scale(0.93,1)" x="0" y="0" font-size="8.3" text-anchor="end" fill="#111" >0</text>
<line x1="432.50" y1="237.30" x2="435.50" y2="237.30" stroke="#444" stroke-width="0.9" />
<text transform="translate(429.50,240.20) scale(0.93,1)" x="0" y="0" font-size="8.3" text-anchor="end" fill="#111" >5</text>
<text transform="translate(435.50,269.20) scale(0.93,1)" x="0" y="0" font-size="8.1" text-anchor="middle" fill="#111" >0</text>
<line x1="460.20" y1="258.50" x2="460.20" y2="260.70" stroke="#444" stroke-width="0.9" />
<text transform="translate(460.20,269.20) scale(0.93,1)" x="0" y="0" font-size="8.1" text-anchor="middle" fill="#111" >20</text>
<line x1="484.90" y1="258.50" x2="484.90" y2="260.70" stroke="#444" stroke-width="0.9" />
<text transform="translate(484.90,269.20) scale(0.93,1)" x="0" y="0" font-size="8.1" text-anchor="middle" fill="#111" >40</text>
<line x1="509.60" y1="258.50" x2="509.60" y2="260.70" stroke="#444" stroke-width="0.9" />
<text transform="translate(509.60,269.20) scale(0.93,1)" x="0" y="0" font-size="8.1" text-anchor="middle" fill="#111" >60</text>
<text x="474.00" y="221.00" font-size="7.9" text-anchor="middle" fill="#111" >PCMT1</text>
<rect x="435.74" y="257.40" width="2.2" height="2.2" fill="#111111"/>
<line x1="452.89" y1="250.44" x2="452.89" y2="254.68" stroke="#111111" stroke-width="0.5" />
<line x1="451.69" y1="250.44" x2="454.09" y2="250.44" stroke="#111111" stroke-width="0.75" />
<line x1="451.69" y1="254.68" x2="454.09" y2="254.68" stroke="#111111" stroke-width="0.75" />
<rect x="451.79" y="251.46" width="2.2" height="2.2" fill="#111111"/>
<line x1="461.54" y1="249.17" x2="461.54" y2="253.41" stroke="#111111" stroke-width="0.5" />
<line x1="460.34" y1="249.17" x2="462.74" y2="249.17" stroke="#111111" stroke-width="0.75" />
<line x1="460.34" y1="253.41" x2="462.74" y2="253.41" stroke="#111111" stroke-width="0.75" />
<rect x="460.44" y="250.19" width="2.2" height="2.2" fill="#111111"/>
<line x1="471.42" y1="241.54" x2="471.42" y2="245.78" stroke="#111111" stroke-width="0.5" />
<line x1="470.22" y1="241.54" x2="472.62" y2="241.54" stroke="#111111" stroke-width="0.75" />
<line x1="470.22" y1="245.78" x2="472.62" y2="245.78" stroke="#111111" stroke-width="0.75" />
<rect x="470.31" y="242.56" width="2.2" height="2.2" fill="#111111"/>
<line x1="478.83" y1="241.54" x2="478.83" y2="245.78" stroke="#111111" stroke-width="0.5" />
<line x1="477.63" y1="241.54" x2="480.03" y2="241.54" stroke="#111111" stroke-width="0.75" />
<line x1="477.63" y1="245.78" x2="480.03" y2="245.78" stroke="#111111" stroke-width="0.75" />
<rect x="477.73" y="242.56" width="2.2" height="2.2" fill="#111111"/>
<line x1="487.47" y1="236.45" x2="487.47" y2="243.24" stroke="#111111" stroke-width="0.5" />
<line x1="486.27" y1="236.45" x2="488.67" y2="236.45" stroke="#111111" stroke-width="0.75" />
<line x1="486.27" y1="243.24" x2="488.67" y2="243.24" stroke="#111111" stroke-width="0.75" />
<rect x="486.37" y="238.74" width="2.2" height="2.2" fill="#111111"/>
<line x1="496.12" y1="232.21" x2="496.12" y2="236.45" stroke="#111111" stroke-width="0.5" />
<line x1="494.92" y1="232.21" x2="497.31" y2="232.21" stroke="#111111" stroke-width="0.75" />
<line x1="494.92" y1="236.45" x2="497.31" y2="236.45" stroke="#111111" stroke-width="0.75" />
<rect x="495.01" y="233.23" width="2.2" height="2.2" fill="#111111"/>
<line x1="444.25" y1="255.53" x2="444.25" y2="258.08" stroke="#de1f3f" stroke-width="0.5" />
<line x1="443.05" y1="255.53" x2="445.44" y2="255.53" stroke="#de1f3f" stroke-width="0.75" />
<line x1="443.05" y1="258.08" x2="445.44" y2="258.08" stroke="#de1f3f" stroke-width="0.75" />
<rect x="443.14" y="255.70" width="2.2" height="2.2" fill="#de1f3f"/>
<line x1="452.89" y1="252.56" x2="452.89" y2="256.80" stroke="#de1f3f" stroke-width="0.5" />
<line x1="451.69" y1="252.56" x2="454.09" y2="252.56" stroke="#de1f3f" stroke-width="0.75" />
<line x1="451.69" y1="256.80" x2="454.09" y2="256.80" stroke="#de1f3f" stroke-width="0.75" />
<rect x="451.79" y="253.58" width="2.2" height="2.2" fill="#de1f3f"/>
<line x1="461.54" y1="252.14" x2="461.54" y2="255.53" stroke="#de1f3f" stroke-width="0.5" />
<line x1="460.34" y1="252.14" x2="462.74" y2="252.14" stroke="#de1f3f" stroke-width="0.75" />
<line x1="460.34" y1="255.53" x2="462.74" y2="255.53" stroke="#de1f3f" stroke-width="0.75" />
<rect x="460.44" y="252.74" width="2.2" height="2.2" fill="#de1f3f"/>
<line x1="478.83" y1="247.05" x2="478.83" y2="250.44" stroke="#de1f3f" stroke-width="0.5" />
<line x1="477.63" y1="247.05" x2="480.03" y2="247.05" stroke="#de1f3f" stroke-width="0.75" />
<line x1="477.63" y1="250.44" x2="480.03" y2="250.44" stroke="#de1f3f" stroke-width="0.75" />
<rect x="477.73" y="247.65" width="2.2" height="2.2" fill="#de1f3f"/>
<line x1="487.47" y1="245.78" x2="487.47" y2="248.32" stroke="#de1f3f" stroke-width="0.5" />
<line x1="486.27" y1="245.78" x2="488.67" y2="245.78" stroke="#de1f3f" stroke-width="0.75" />
<line x1="486.27" y1="248.32" x2="488.67" y2="248.32" stroke="#de1f3f" stroke-width="0.75" />
<rect x="486.37" y="245.95" width="2.2" height="2.2" fill="#de1f3f"/>
<line x1="496.12" y1="239.00" x2="496.12" y2="245.78" stroke="#de1f3f" stroke-width="0.5" />
<line x1="494.92" y1="239.00" x2="497.31" y2="239.00" stroke="#de1f3f" stroke-width="0.75" />
<line x1="494.92" y1="245.78" x2="497.31" y2="245.78" stroke="#de1f3f" stroke-width="0.75" />
<rect x="495.01" y="241.29" width="2.2" height="2.2" fill="#de1f3f"/>
<line x1="471.42" y1="247.90" x2="471.42" y2="252.99" stroke="#215f9e" stroke-width="0.5" />
<line x1="470.22" y1="247.90" x2="472.62" y2="247.90" stroke="#215f9e" stroke-width="0.75" />
<line x1="470.22" y1="252.99" x2="472.62" y2="252.99" stroke="#215f9e" stroke-width="0.75" />
<rect x="470.31" y="249.34" width="2.2" height="2.2" fill="#215f9e"/>
<line x1="100.50" y1="284.40" x2="100.50" y2="323.70" stroke="#231f20" stroke-width="1.0" />
<line x1="97.50" y1="321.50" x2="178.00" y2="321.50" stroke="#231f20" stroke-width="1.0" />
<text transform="translate(94.50,324.40) scale(0.93,1)" x="0" y="0" font-size="8.3" text-anchor="end" fill="#111" >0</text>
<line x1="97.50" y1="306.00" x2="100.50" y2="306.00" stroke="#444" stroke-width="0.9" />
<text transform="translate(94.50,308.90) scale(0.93,1)" x="0" y="0" font-size="8.3" text-anchor="end" fill="#111" >20</text>
<line x1="97.50" y1="290.50" x2="100.50" y2="290.50" stroke="#444" stroke-width="0.9" />
<text transform="translate(94.50,293.40) scale(0.93,1)" x="0" y="0" font-size="8.3" text-anchor="end" fill="#111" >40</text>
<text transform="translate(100.50,332.20) scale(0.93,1)" x="0" y="0" font-size="8.1" text-anchor="middle" fill="#111" >0</text>
<line x1="125.20" y1="321.50" x2="125.20" y2="323.70" stroke="#444" stroke-width="0.9" />
<text transform="translate(125.20,332.20) scale(0.93,1)" x="0" y="0" font-size="8.1" text-anchor="middle" fill="#111" >20</text>
<line x1="149.90" y1="321.50" x2="149.90" y2="323.70" stroke="#444" stroke-width="0.9" />
<text transform="translate(149.90,332.20) scale(0.93,1)" x="0" y="0" font-size="8.1" text-anchor="middle" fill="#111" >40</text>
<line x1="174.60" y1="321.50" x2="174.60" y2="323.70" stroke="#444" stroke-width="0.9" />
<text transform="translate(174.60,332.20) scale(0.93,1)" x="0" y="0" font-size="8.1" text-anchor="middle" fill="#111" >60</text>
<text x="139.00" y="284.40" font-size="7.9" text-anchor="middle" fill="#111" >SLC2A1</text>
<text transform="translate(80.20,303.00) rotate(-90) scale(0.635,1)" x="0" y="0" font-size="9.4" text-anchor="middle" stroke="#111" stroke-width="0.22" fill="#111">Total</text>
<line x1="101.83" y1="298.25" x2="101.83" y2="302.90" stroke="#111111" stroke-width="0.5" />
<line x1="100.63" y1="298.25" x2="103.03" y2="298.25" stroke="#111111" stroke-width="0.75" />
<line x1="100.63" y1="302.90" x2="103.03" y2="302.90" stroke="#111111" stroke-width="0.75" />
<rect x="100.73" y="299.47" width="2.2" height="2.2" fill="#111111"/>
<line x1="109.24" y1="297.71" x2="109.24" y2="300.81" stroke="#111111" stroke-width="0.5" />
<line x1="108.04" y1="297.71" x2="110.44" y2="297.71" stroke="#111111" stroke-width="0.75" />
<line x1="108.04" y1="300.81" x2="110.44" y2="300.81" stroke="#111111" stroke-width="0.75" />
<rect x="108.14" y="298.16" width="2.2" height="2.2" fill="#111111"/>
<line x1="117.89" y1="294.38" x2="117.89" y2="297.48" stroke="#111111" stroke-width="0.5" />
<line x1="116.69" y1="294.38" x2="119.09" y2="294.38" stroke="#111111" stroke-width="0.75" />
<line x1="116.69" y1="297.48" x2="119.09" y2="297.48" stroke="#111111" stroke-width="0.75" />
<rect x="116.79" y="294.82" width="2.2" height="2.2" fill="#111111"/>
<line x1="126.53" y1="298.09" x2="126.53" y2="300.42" stroke="#111111" stroke-width="0.5" />
<line x1="125.33" y1="298.09" x2="127.73" y2="298.09" stroke="#111111" stroke-width="0.75" />
<line x1="125.33" y1="300.42" x2="127.73" y2="300.42" stroke="#111111" stroke-width="0.75" />
<rect x="125.44" y="298.16" width="2.2" height="2.2" fill="#111111"/>
<line x1="136.41" y1="295.93" x2="136.41" y2="299.03" stroke="#111111" stroke-width="0.5" />
<line x1="135.22" y1="295.93" x2="137.61" y2="295.93" stroke="#111111" stroke-width="0.75" />
<line x1="135.22" y1="299.03" x2="137.61" y2="299.03" stroke="#111111" stroke-width="0.75" />
<rect x="135.31" y="296.38" width="2.2" height="2.2" fill="#111111"/>
<line x1="143.82" y1="293.06" x2="143.82" y2="296.16" stroke="#111111" stroke-width="0.5" />
<line x1="142.62" y1="293.06" x2="145.02" y2="293.06" stroke="#111111" stroke-width="0.75" />
<line x1="142.62" y1="296.16" x2="145.02" y2="296.16" stroke="#111111" stroke-width="0.75" />
<rect x="142.72" y="293.51" width="2.2" height="2.2" fill="#111111"/>
<line x1="152.47" y1="293.91" x2="152.47" y2="297.01" stroke="#111111" stroke-width="0.5" />
<line x1="151.27" y1="293.91" x2="153.67" y2="293.91" stroke="#111111" stroke-width="0.75" />
<line x1="151.27" y1="297.01" x2="153.67" y2="297.01" stroke="#111111" stroke-width="0.75" />
<rect x="151.37" y="294.36" width="2.2" height="2.2" fill="#111111"/>
<line x1="161.12" y1="291.28" x2="161.12" y2="292.82" stroke="#111111" stroke-width="0.5" />
<line x1="159.92" y1="291.28" x2="162.31" y2="291.28" stroke="#111111" stroke-width="0.75" />
<line x1="159.92" y1="292.82" x2="162.31" y2="292.82" stroke="#111111" stroke-width="0.75" />
<rect x="160.02" y="290.95" width="2.2" height="2.2" fill="#111111"/>
<line x1="109.24" y1="300.34" x2="109.24" y2="303.44" stroke="#de1f3f" stroke-width="0.5" />
<line x1="108.04" y1="300.34" x2="110.44" y2="300.34" stroke="#de1f3f" stroke-width="0.75" />
<line x1="108.04" y1="303.44" x2="110.44" y2="303.44" stroke="#de1f3f" stroke-width="0.75" />
<rect x="108.14" y="300.79" width="2.2" height="2.2" fill="#de1f3f"/>
<line x1="117.89" y1="296.31" x2="117.89" y2="299.41" stroke="#de1f3f" stroke-width="0.5" />
<line x1="116.69" y1="296.31" x2="119.09" y2="296.31" stroke="#de1f3f" stroke-width="0.75" />
<line x1="116.69" y1="299.41" x2="119.09" y2="299.41" stroke="#de1f3f" stroke-width="0.75" />
<rect x="116.79" y="296.76" width="2.2" height="2.2" fill="#de1f3f"/>
<line x1="126.53" y1="295.77" x2="126.53" y2="298.87" stroke="#de1f3f" stroke-width="0.5" />
<line x1="125.33" y1="295.77" x2="127.73" y2="295.77" stroke="#de1f3f" stroke-width="0.75" />
<line x1="125.33" y1="298.87" x2="127.73" y2="298.87" stroke="#de1f3f" stroke-width="0.75" />
<rect x="125.44" y="296.22" width="2.2" height="2.2" fill="#de1f3f"/>
<line x1="143.82" y1="299.02" x2="143.82" y2="302.12" stroke="#de1f3f" stroke-width="0.5" />
<line x1="142.62" y1="299.02" x2="145.02" y2="299.02" stroke="#de1f3f" stroke-width="0.75" />
<line x1="142.62" y1="302.12" x2="145.02" y2="302.12" stroke="#de1f3f" stroke-width="0.75" />
<rect x="142.72" y="299.47" width="2.2" height="2.2" fill="#de1f3f"/>
<line x1="152.47" y1="295.93" x2="152.47" y2="299.03" stroke="#de1f3f" stroke-width="0.5" />
<line x1="151.27" y1="295.93" x2="153.67" y2="295.93" stroke="#de1f3f" stroke-width="0.75" />
<line x1="151.27" y1="299.03" x2="153.67" y2="299.03" stroke="#de1f3f" stroke-width="0.75" />
<rect x="151.37" y="296.38" width="2.2" height="2.2" fill="#de1f3f"/>
<line x1="161.12" y1="297.86" x2="161.12" y2="299.41" stroke="#de1f3f" stroke-width="0.5" />
<line x1="159.92" y1="297.86" x2="162.31" y2="297.86" stroke="#de1f3f" stroke-width="0.75" />
<line x1="159.92" y1="299.41" x2="162.31" y2="299.41" stroke="#de1f3f" stroke-width="0.75" />
<rect x="160.02" y="297.54" width="2.2" height="2.2" fill="#de1f3f"/>
<line x1="136.41" y1="298.40" x2="136.41" y2="301.50" stroke="#215f9e" stroke-width="0.5" />
<line x1="135.22" y1="298.40" x2="137.61" y2="298.40" stroke="#215f9e" stroke-width="0.75" />
<line x1="135.22" y1="301.50" x2="137.61" y2="301.50" stroke="#215f9e" stroke-width="0.75" />
<rect x="135.31" y="298.85" width="2.2" height="2.2" fill="#215f9e"/>
<line x1="236.50" y1="284.40" x2="236.50" y2="323.70" stroke="#231f20" stroke-width="1.0" />
<line x1="233.50" y1="321.50" x2="314.00" y2="321.50" stroke="#231f20" stroke-width="1.0" />
<text transform="translate(230.50,324.40) scale(0.93,1)" x="0" y="0" font-size="8.3" text-anchor="end" fill="#111" >0</text>
<line x1="233.50" y1="307.80" x2="236.50" y2="307.80" stroke="#444" stroke-width="0.9" />
<text transform="translate(230.50,310.70) scale(0.93,1)" x="0" y="0" font-size="8.3" text-anchor="end" fill="#111" >100</text>
<line x1="233.50" y1="294.10" x2="236.50" y2="294.10" stroke="#444" stroke-width="0.9" />
<text transform="translate(230.50,297.00) scale(0.93,1)" x="0" y="0" font-size="8.3" text-anchor="end" fill="#111" >200</text>
<text transform="translate(236.50,332.20) scale(0.93,1)" x="0" y="0" font-size="8.1" text-anchor="middle" fill="#111" >0</text>
<line x1="261.20" y1="321.50" x2="261.20" y2="323.70" stroke="#444" stroke-width="0.9" />
<text transform="translate(261.20,332.20) scale(0.93,1)" x="0" y="0" font-size="8.1" text-anchor="middle" fill="#111" >20</text>
<line x1="285.90" y1="321.50" x2="285.90" y2="323.70" stroke="#444" stroke-width="0.9" />
<text transform="translate(285.90,332.20) scale(0.93,1)" x="0" y="0" font-size="8.1" text-anchor="middle" fill="#111" >40</text>
<line x1="310.60" y1="321.50" x2="310.60" y2="323.70" stroke="#444" stroke-width="0.9" />
<text transform="translate(310.60,332.20) scale(0.93,1)" x="0" y="0" font-size="8.1" text-anchor="middle" fill="#111" >60</text>
<text x="275.00" y="284.40" font-size="7.9" text-anchor="middle" fill="#111" >SLC4A1</text>
<rect x="236.74" y="298.07" width="2.2" height="2.2" fill="#111111"/>
<line x1="245.25" y1="296.29" x2="245.25" y2="298.48" stroke="#111111" stroke-width="0.5" />
<line x1="244.05" y1="296.29" x2="246.44" y2="296.29" stroke="#111111" stroke-width="0.75" />
<line x1="244.05" y1="298.48" x2="246.44" y2="298.48" stroke="#111111" stroke-width="0.75" />
<rect x="244.15" y="296.29" width="2.2" height="2.2" fill="#111111"/>
<line x1="253.89" y1="294.92" x2="253.89" y2="297.11" stroke="#111111" stroke-width="0.5" />
<line x1="252.69" y1="294.92" x2="255.09" y2="294.92" stroke="#111111" stroke-width="0.75" />
<line x1="252.69" y1="297.11" x2="255.09" y2="297.11" stroke="#111111" stroke-width="0.75" />
<rect x="252.79" y="294.92" width="2.2" height="2.2" fill="#111111"/>
<line x1="262.54" y1="297.94" x2="262.54" y2="299.31" stroke="#111111" stroke-width="0.5" />
<line x1="261.34" y1="297.94" x2="263.74" y2="297.94" stroke="#111111" stroke-width="0.75" />
<line x1="261.34" y1="299.31" x2="263.74" y2="299.31" stroke="#111111" stroke-width="0.75" />
<rect x="261.44" y="297.52" width="2.2" height="2.2" fill="#111111"/>
<line x1="272.42" y1="295.74" x2="272.42" y2="297.94" stroke="#111111" stroke-width="0.5" />
<line x1="271.22" y1="295.74" x2="273.62" y2="295.74" stroke="#111111" stroke-width="0.75" />
<line x1="271.22" y1="297.94" x2="273.62" y2="297.94" stroke="#111111" stroke-width="0.75" />
<rect x="271.31" y="295.74" width="2.2" height="2.2" fill="#111111"/>
<line x1="279.83" y1="291.36" x2="279.83" y2="294.10" stroke="#111111" stroke-width="0.5" />
<line x1="278.63" y1="291.36" x2="281.03" y2="291.36" stroke="#111111" stroke-width="0.75" />
<line x1="278.63" y1="294.10" x2="281.03" y2="294.10" stroke="#111111" stroke-width="0.75" />
<rect x="278.73" y="291.63" width="2.2" height="2.2" fill="#111111"/>
<line x1="288.47" y1="290.26" x2="288.47" y2="292.46" stroke="#111111" stroke-width="0.5" />
<line x1="287.27" y1="290.26" x2="289.67" y2="290.26" stroke="#111111" stroke-width="0.75" />
<line x1="287.27" y1="292.46" x2="289.67" y2="292.46" stroke="#111111" stroke-width="0.75" />
<rect x="287.37" y="290.26" width="2.2" height="2.2" fill="#111111"/>
<line x1="297.12" y1="292.18" x2="297.12" y2="294.37" stroke="#111111" stroke-width="0.5" />
<line x1="295.92" y1="292.18" x2="298.31" y2="292.18" stroke="#111111" stroke-width="0.75" />
<line x1="295.92" y1="294.37" x2="298.31" y2="294.37" stroke="#111111" stroke-width="0.75" />
<rect x="296.01" y="292.18" width="2.2" height="2.2" fill="#111111"/>
<line x1="245.25" y1="298.89" x2="245.25" y2="301.09" stroke="#de1f3f" stroke-width="0.5" />
<line x1="244.05" y1="298.89" x2="246.44" y2="298.89" stroke="#de1f3f" stroke-width="0.75" />
<line x1="244.05" y1="301.09" x2="246.44" y2="301.09" stroke="#de1f3f" stroke-width="0.75" />
<rect x="244.15" y="298.89" width="2.2" height="2.2" fill="#de1f3f"/>
<line x1="253.89" y1="292.73" x2="253.89" y2="295.47" stroke="#de1f3f" stroke-width="0.5" />
<line x1="252.69" y1="292.73" x2="255.09" y2="292.73" stroke="#de1f3f" stroke-width="0.75" />
<line x1="252.69" y1="295.47" x2="255.09" y2="295.47" stroke="#de1f3f" stroke-width="0.75" />
<rect x="252.79" y="293.00" width="2.2" height="2.2" fill="#de1f3f"/>
<line x1="262.54" y1="297.80" x2="262.54" y2="299.44" stroke="#de1f3f" stroke-width="0.5" />
<line x1="261.34" y1="297.80" x2="263.74" y2="297.80" stroke="#de1f3f" stroke-width="0.75" />
<line x1="261.34" y1="299.44" x2="263.74" y2="299.44" stroke="#de1f3f" stroke-width="0.75" />
<rect x="261.44" y="297.52" width="2.2" height="2.2" fill="#de1f3f"/>
<line x1="279.83" y1="296.70" x2="279.83" y2="299.44" stroke="#de1f3f" stroke-width="0.5" />
<line x1="278.63" y1="296.70" x2="281.03" y2="296.70" stroke="#de1f3f" stroke-width="0.75" />
<line x1="278.63" y1="299.44" x2="281.03" y2="299.44" stroke="#de1f3f" stroke-width="0.75" />
<rect x="278.73" y="296.97" width="2.2" height="2.2" fill="#de1f3f"/>
<line x1="288.47" y1="294.37" x2="288.47" y2="296.57" stroke="#de1f3f" stroke-width="0.5" />
<line x1="287.27" y1="294.37" x2="289.67" y2="294.37" stroke="#de1f3f" stroke-width="0.75" />
<line x1="287.27" y1="296.57" x2="289.67" y2="296.57" stroke="#de1f3f" stroke-width="0.75" />
<rect x="287.37" y="294.37" width="2.2" height="2.2" fill="#de1f3f"/>
<line x1="297.12" y1="291.09" x2="297.12" y2="293.83" stroke="#de1f3f" stroke-width="0.5" />
<line x1="295.92" y1="291.09" x2="298.31" y2="291.09" stroke="#de1f3f" stroke-width="0.75" />
<line x1="295.92" y1="293.83" x2="298.31" y2="293.83" stroke="#de1f3f" stroke-width="0.75" />
<rect x="296.01" y="291.36" width="2.2" height="2.2" fill="#de1f3f"/>
<line x1="272.42" y1="296.70" x2="272.42" y2="298.89" stroke="#215f9e" stroke-width="0.5" />
<line x1="271.22" y1="296.70" x2="273.62" y2="296.70" stroke="#215f9e" stroke-width="0.75" />
<line x1="271.22" y1="298.89" x2="273.62" y2="298.89" stroke="#215f9e" stroke-width="0.75" />
<rect x="271.31" y="296.70" width="2.2" height="2.2" fill="#215f9e"/>
<line x1="368.50" y1="284.40" x2="368.50" y2="323.70" stroke="#231f20" stroke-width="1.0" />
<line x1="365.50" y1="321.50" x2="446.00" y2="321.50" stroke="#231f20" stroke-width="1.0" />
<text transform="translate(362.50,324.40) scale(0.93,1)" x="0" y="0" font-size="8.3" text-anchor="end" fill="#111" >0</text>
<line x1="365.50" y1="287.90" x2="368.50" y2="287.90" stroke="#444" stroke-width="0.9" />
<text transform="translate(362.50,290.80) scale(0.93,1)" x="0" y="0" font-size="8.3" text-anchor="end" fill="#111" >50</text>
<text transform="translate(368.50,332.20) scale(0.93,1)" x="0" y="0" font-size="8.1" text-anchor="middle" fill="#111" >0</text>
<line x1="393.20" y1="321.50" x2="393.20" y2="323.70" stroke="#444" stroke-width="0.9" />
<text transform="translate(393.20,332.20) scale(0.93,1)" x="0" y="0" font-size="8.1" text-anchor="middle" fill="#111" >20</text>
<line x1="417.90" y1="321.50" x2="417.90" y2="323.70" stroke="#444" stroke-width="0.9" />
<text transform="translate(417.90,332.20) scale(0.93,1)" x="0" y="0" font-size="8.1" text-anchor="middle" fill="#111" >40</text>
<line x1="442.60" y1="321.50" x2="442.60" y2="323.70" stroke="#444" stroke-width="0.9" />
<text transform="translate(442.60,332.20) scale(0.93,1)" x="0" y="0" font-size="8.1" text-anchor="middle" fill="#111" >60</text>
<text x="407.00" y="284.40" font-size="7.9" text-anchor="middle" fill="#111" >PGK1</text>
<rect x="368.74" y="294.19" width="2.2" height="2.2" fill="#111111"/>
<line x1="377.25" y1="295.29" x2="377.25" y2="296.64" stroke="#111111" stroke-width="0.5" />
<line x1="376.05" y1="295.29" x2="378.44" y2="295.29" stroke="#111111" stroke-width="0.75" />
<line x1="376.05" y1="296.64" x2="378.44" y2="296.64" stroke="#111111" stroke-width="0.75" />
<rect x="376.14" y="294.86" width="2.2" height="2.2" fill="#111111"/>
<line x1="385.89" y1="292.60" x2="385.89" y2="295.29" stroke="#111111" stroke-width="0.5" />
<line x1="384.69" y1="292.60" x2="387.09" y2="292.60" stroke="#111111" stroke-width="0.75" />
<line x1="384.69" y1="295.29" x2="387.09" y2="295.29" stroke="#111111" stroke-width="0.75" />
<rect x="384.79" y="292.85" width="2.2" height="2.2" fill="#111111"/>
<line x1="394.54" y1="294.28" x2="394.54" y2="296.30" stroke="#111111" stroke-width="0.5" />
<line x1="393.34" y1="294.28" x2="395.74" y2="294.28" stroke="#111111" stroke-width="0.75" />
<line x1="393.34" y1="296.30" x2="395.74" y2="296.30" stroke="#111111" stroke-width="0.75" />
<rect x="393.44" y="294.19" width="2.2" height="2.2" fill="#111111"/>
<line x1="404.42" y1="296.97" x2="404.42" y2="300.33" stroke="#111111" stroke-width="0.5" />
<line x1="403.22" y1="296.97" x2="405.62" y2="296.97" stroke="#111111" stroke-width="0.75" />
<line x1="403.22" y1="300.33" x2="405.62" y2="300.33" stroke="#111111" stroke-width="0.75" />
<rect x="403.31" y="297.55" width="2.2" height="2.2" fill="#111111"/>
<line x1="420.47" y1="297.98" x2="420.47" y2="300.67" stroke="#111111" stroke-width="0.5" />
<line x1="419.27" y1="297.98" x2="421.67" y2="297.98" stroke="#111111" stroke-width="0.75" />
<line x1="419.27" y1="300.67" x2="421.67" y2="300.67" stroke="#111111" stroke-width="0.75" />
<rect x="419.37" y="298.22" width="2.2" height="2.2" fill="#111111"/>
<line x1="429.12" y1="296.64" x2="429.12" y2="299.32" stroke="#111111" stroke-width="0.5" />
<line x1="427.92" y1="296.64" x2="430.31" y2="296.64" stroke="#111111" stroke-width="0.75" />
<line x1="427.92" y1="299.32" x2="430.31" y2="299.32" stroke="#111111" stroke-width="0.75" />
<rect x="428.01" y="296.88" width="2.2" height="2.2" fill="#111111"/>
<line x1="377.25" y1="294.62" x2="377.25" y2="297.31" stroke="#de1f3f" stroke-width="0.5" />
<line x1="376.05" y1="294.62" x2="378.44" y2="294.62" stroke="#de1f3f" stroke-width="0.75" />
<line x1="376.05" y1="297.31" x2="378.44" y2="297.31" stroke="#de1f3f" stroke-width="0.75" />
<rect x="376.14" y="294.86" width="2.2" height="2.2" fill="#de1f3f"/>
<line x1="385.89" y1="290.92" x2="385.89" y2="294.28" stroke="#de1f3f" stroke-width="0.5" />
<line x1="384.69" y1="290.92" x2="387.09" y2="290.92" stroke="#de1f3f" stroke-width="0.75" />
<line x1="384.69" y1="294.28" x2="387.09" y2="294.28" stroke="#de1f3f" stroke-width="0.75" />
<rect x="384.79" y="291.50" width="2.2" height="2.2" fill="#de1f3f"/>
<line x1="394.54" y1="293.61" x2="394.54" y2="296.97" stroke="#de1f3f" stroke-width="0.5" />
<line x1="393.34" y1="293.61" x2="395.74" y2="293.61" stroke="#de1f3f" stroke-width="0.75" />
<line x1="393.34" y1="296.97" x2="395.74" y2="296.97" stroke="#de1f3f" stroke-width="0.75" />
<rect x="393.44" y="294.19" width="2.2" height="2.2" fill="#de1f3f"/>
<line x1="411.83" y1="295.96" x2="411.83" y2="298.65" stroke="#de1f3f" stroke-width="0.5" />
<line x1="410.63" y1="295.96" x2="413.03" y2="295.96" stroke="#de1f3f" stroke-width="0.75" />
<line x1="410.63" y1="298.65" x2="413.03" y2="298.65" stroke="#de1f3f" stroke-width="0.75" />
<rect x="410.73" y="296.21" width="2.2" height="2.2" fill="#de1f3f"/>
<line x1="420.47" y1="295.63" x2="420.47" y2="298.99" stroke="#de1f3f" stroke-width="0.5" />
<line x1="419.27" y1="295.63" x2="421.67" y2="295.63" stroke="#de1f3f" stroke-width="0.75" />
<line x1="419.27" y1="298.99" x2="421.67" y2="298.99" stroke="#de1f3f" stroke-width="0.75" />
<rect x="419.37" y="296.21" width="2.2" height="2.2" fill="#de1f3f"/>
<line x1="429.12" y1="294.62" x2="429.12" y2="298.65" stroke="#de1f3f" stroke-width="0.5" />
<line x1="427.92" y1="294.62" x2="430.31" y2="294.62" stroke="#de1f3f" stroke-width="0.75" />
<line x1="427.92" y1="298.65" x2="430.31" y2="298.65" stroke="#de1f3f" stroke-width="0.75" />
<rect x="428.01" y="295.54" width="2.2" height="2.2" fill="#de1f3f"/>
<line x1="404.42" y1="292.94" x2="404.42" y2="296.30" stroke="#215f9e" stroke-width="0.5" />
<line x1="403.22" y1="292.94" x2="405.62" y2="292.94" stroke="#215f9e" stroke-width="0.75" />
<line x1="403.22" y1="296.30" x2="405.62" y2="296.30" stroke="#215f9e" stroke-width="0.75" />
<rect x="403.31" y="293.52" width="2.2" height="2.2" fill="#215f9e"/>
<line x1="100.50" y1="348.30" x2="100.50" y2="387.70" stroke="#231f20" stroke-width="1.0" />
<line x1="97.50" y1="385.50" x2="178.00" y2="385.50" stroke="#231f20" stroke-width="1.0" />
<text transform="translate(94.50,388.40) scale(0.93,1)" x="0" y="0" font-size="8.3" text-anchor="end" fill="#111" >0</text>
<line x1="97.50" y1="369.75" x2="100.50" y2="369.75" stroke="#444" stroke-width="0.9" />
<text transform="translate(94.50,372.65) scale(0.93,1)" x="0" y="0" font-size="8.3" text-anchor="end" fill="#111" >5</text>
<line x1="97.50" y1="354.00" x2="100.50" y2="354.00" stroke="#444" stroke-width="0.9" />
<text transform="translate(94.50,356.90) scale(0.93,1)" x="0" y="0" font-size="8.3" text-anchor="end" fill="#111" >10</text>
<text transform="translate(100.50,396.20) scale(0.93,1)" x="0" y="0" font-size="8.1" text-anchor="middle" fill="#111" >0</text>
<line x1="125.20" y1="385.50" x2="125.20" y2="387.70" stroke="#444" stroke-width="0.9" />
<text transform="translate(125.20,396.20) scale(0.93,1)" x="0" y="0" font-size="8.1" text-anchor="middle" fill="#111" >20</text>
<line x1="149.90" y1="385.50" x2="149.90" y2="387.70" stroke="#444" stroke-width="0.9" />
<text transform="translate(149.90,396.20) scale(0.93,1)" x="0" y="0" font-size="8.1" text-anchor="middle" fill="#111" >40</text>
<line x1="174.60" y1="385.50" x2="174.60" y2="387.70" stroke="#444" stroke-width="0.9" />
<text transform="translate(174.60,396.20) scale(0.93,1)" x="0" y="0" font-size="8.1" text-anchor="middle" fill="#111" >60</text>
<text x="139.00" y="348.80" font-size="7.9" text-anchor="middle" fill="#111" >SLC2A1</text>
<text transform="translate(80.20,366.80) rotate(-90) scale(0.635,1)" x="0" y="0" font-size="9.4" text-anchor="middle" stroke="#111" stroke-width="0.22" fill="#111">Oxidation</text>
<line x1="101.83" y1="376.05" x2="101.83" y2="379.20" stroke="#111111" stroke-width="0.5" />
<line x1="100.63" y1="376.05" x2="103.03" y2="376.05" stroke="#111111" stroke-width="0.75" />
<line x1="100.63" y1="379.20" x2="103.03" y2="379.20" stroke="#111111" stroke-width="0.75" />
<rect x="100.73" y="376.52" width="2.2" height="2.2" fill="#111111"/>
<line x1="109.24" y1="374.79" x2="109.24" y2="377.31" stroke="#111111" stroke-width="0.5" />
<line x1="108.04" y1="374.79" x2="110.44" y2="374.79" stroke="#111111" stroke-width="0.75" />
<line x1="108.04" y1="377.31" x2="110.44" y2="377.31" stroke="#111111" stroke-width="0.75" />
<rect x="108.14" y="374.95" width="2.2" height="2.2" fill="#111111"/>
<line x1="117.89" y1="369.12" x2="117.89" y2="374.16" stroke="#111111" stroke-width="0.5" />
<line x1="116.69" y1="369.12" x2="119.09" y2="369.12" stroke="#111111" stroke-width="0.75" />
<line x1="116.69" y1="374.16" x2="119.09" y2="374.16" stroke="#111111" stroke-width="0.75" />
<rect x="116.79" y="370.54" width="2.2" height="2.2" fill="#111111"/>
<line x1="126.53" y1="368.49" x2="126.53" y2="371.01" stroke="#111111" stroke-width="0.5" />
<line x1="125.33" y1="368.49" x2="127.73" y2="368.49" stroke="#111111" stroke-width="0.75" />
<line x1="125.33" y1="371.01" x2="127.73" y2="371.01" stroke="#111111" stroke-width="0.75" />
<rect x="125.44" y="368.65" width="2.2" height="2.2" fill="#111111"/>
<line x1="136.41" y1="354.00" x2="136.41" y2="363.45" stroke="#111111" stroke-width="0.5" />
<line x1="135.22" y1="354.00" x2="137.61" y2="354.00" stroke="#111111" stroke-width="0.75" />
<line x1="135.22" y1="363.45" x2="137.61" y2="363.45" stroke="#111111" stroke-width="0.75" />
<rect x="135.31" y="357.62" width="2.2" height="2.2" fill="#111111"/>
<line x1="143.82" y1="367.55" x2="143.82" y2="370.69" stroke="#111111" stroke-width="0.5" />
<line x1="142.62" y1="367.55" x2="145.02" y2="367.55" stroke="#111111" stroke-width="0.75" />
<line x1="142.62" y1="370.69" x2="145.02" y2="370.69" stroke="#111111" stroke-width="0.75" />
<rect x="142.72" y="368.02" width="2.2" height="2.2" fill="#111111"/>
<line x1="152.47" y1="365.34" x2="152.47" y2="369.75" stroke="#111111" stroke-width="0.5" />
<line x1="151.27" y1="365.34" x2="153.67" y2="365.34" stroke="#111111" stroke-width="0.75" />
<line x1="151.27" y1="369.75" x2="153.67" y2="369.75" stroke="#111111" stroke-width="0.75" />
<rect x="151.37" y="366.44" width="2.2" height="2.2" fill="#111111"/>
<line x1="161.12" y1="363.45" x2="161.12" y2="365.97" stroke="#111111" stroke-width="0.5" />
<line x1="159.92" y1="363.45" x2="162.31" y2="363.45" stroke="#111111" stroke-width="0.75" />
<line x1="159.92" y1="365.97" x2="162.31" y2="365.97" stroke="#111111" stroke-width="0.75" />
<rect x="160.02" y="363.61" width="2.2" height="2.2" fill="#111111"/>
<line x1="109.24" y1="373.22" x2="109.24" y2="377.00" stroke="#de1f3f" stroke-width="0.5" />
<line x1="108.04" y1="373.22" x2="110.44" y2="373.22" stroke="#de1f3f" stroke-width="0.75" />
<line x1="108.04" y1="377.00" x2="110.44" y2="377.00" stroke="#de1f3f" stroke-width="0.75" />
<rect x="108.14" y="374.00" width="2.2" height="2.2" fill="#de1f3f"/>
<line x1="117.89" y1="377.00" x2="117.89" y2="379.51" stroke="#de1f3f" stroke-width="0.5" />
<line x1="116.69" y1="377.00" x2="119.09" y2="377.00" stroke="#de1f3f" stroke-width="0.75" />
<line x1="116.69" y1="379.51" x2="119.09" y2="379.51" stroke="#de1f3f" stroke-width="0.75" />
<rect x="116.79" y="377.15" width="2.2" height="2.2" fill="#de1f3f"/>
<line x1="126.53" y1="371.32" x2="126.53" y2="375.73" stroke="#de1f3f" stroke-width="0.5" />
<line x1="125.33" y1="371.32" x2="127.73" y2="371.32" stroke="#de1f3f" stroke-width="0.75" />
<line x1="125.33" y1="375.73" x2="127.73" y2="375.73" stroke="#de1f3f" stroke-width="0.75" />
<rect x="125.44" y="372.43" width="2.2" height="2.2" fill="#de1f3f"/>
<line x1="143.82" y1="365.97" x2="143.82" y2="370.38" stroke="#de1f3f" stroke-width="0.5" />
<line x1="142.62" y1="365.97" x2="145.02" y2="365.97" stroke="#de1f3f" stroke-width="0.75" />
<line x1="142.62" y1="370.38" x2="145.02" y2="370.38" stroke="#de1f3f" stroke-width="0.75" />
<rect x="142.72" y="367.07" width="2.2" height="2.2" fill="#de1f3f"/>
<line x1="152.47" y1="367.55" x2="152.47" y2="371.95" stroke="#de1f3f" stroke-width="0.5" />
<line x1="151.27" y1="367.55" x2="153.67" y2="367.55" stroke="#de1f3f" stroke-width="0.75" />
<line x1="151.27" y1="371.95" x2="153.67" y2="371.95" stroke="#de1f3f" stroke-width="0.75" />
<rect x="151.37" y="368.65" width="2.2" height="2.2" fill="#de1f3f"/>
<line x1="161.12" y1="364.08" x2="161.12" y2="367.86" stroke="#de1f3f" stroke-width="0.5" />
<line x1="159.92" y1="364.08" x2="162.31" y2="364.08" stroke="#de1f3f" stroke-width="0.75" />
<line x1="159.92" y1="367.86" x2="162.31" y2="367.86" stroke="#de1f3f" stroke-width="0.75" />
<rect x="160.02" y="364.87" width="2.2" height="2.2" fill="#de1f3f"/>
<line x1="136.41" y1="359.98" x2="136.41" y2="369.44" stroke="#215f9e" stroke-width="0.5" />
<line x1="135.22" y1="359.98" x2="137.61" y2="359.98" stroke="#215f9e" stroke-width="0.75" />
<line x1="135.22" y1="369.44" x2="137.61" y2="369.44" stroke="#215f9e" stroke-width="0.75" />
<rect x="135.31" y="363.61" width="2.2" height="2.2" fill="#215f9e"/>
<line x1="236.50" y1="348.30" x2="236.50" y2="387.70" stroke="#231f20" stroke-width="1.0" />
<line x1="233.50" y1="385.50" x2="314.00" y2="385.50" stroke="#231f20" stroke-width="1.0" />
<text transform="translate(230.50,388.40) scale(0.93,1)" x="0" y="0" font-size="8.3" text-anchor="end" fill="#111" >0</text>
<line x1="233.50" y1="371.40" x2="236.50" y2="371.40" stroke="#444" stroke-width="0.9" />
<text transform="translate(230.50,374.30) scale(0.93,1)" x="0" y="0" font-size="8.3" text-anchor="end" fill="#111" >20</text>
<line x1="233.50" y1="357.30" x2="236.50" y2="357.30" stroke="#444" stroke-width="0.9" />
<text transform="translate(230.50,360.20) scale(0.93,1)" x="0" y="0" font-size="8.3" text-anchor="end" fill="#111" >40</text>
<text transform="translate(236.50,396.20) scale(0.93,1)" x="0" y="0" font-size="8.1" text-anchor="middle" fill="#111" >0</text>
<line x1="261.20" y1="385.50" x2="261.20" y2="387.70" stroke="#444" stroke-width="0.9" />
<text transform="translate(261.20,396.20) scale(0.93,1)" x="0" y="0" font-size="8.1" text-anchor="middle" fill="#111" >20</text>
<line x1="285.90" y1="385.50" x2="285.90" y2="387.70" stroke="#444" stroke-width="0.9" />
<text transform="translate(285.90,396.20) scale(0.93,1)" x="0" y="0" font-size="8.1" text-anchor="middle" fill="#111" >40</text>
<line x1="310.60" y1="385.50" x2="310.60" y2="387.70" stroke="#444" stroke-width="0.9" />
<text transform="translate(310.60,396.20) scale(0.93,1)" x="0" y="0" font-size="8.1" text-anchor="middle" fill="#111" >60</text>
<text x="275.00" y="348.80" font-size="7.9" text-anchor="middle" fill="#111" >SLC4A1</text>
<rect x="236.74" y="373.12" width="2.2" height="2.2" fill="#111111"/>
<line x1="245.25" y1="370.34" x2="245.25" y2="372.46" stroke="#111111" stroke-width="0.5" />
<line x1="244.05" y1="370.34" x2="246.44" y2="370.34" stroke="#111111" stroke-width="0.75" />
<line x1="244.05" y1="372.46" x2="246.44" y2="372.46" stroke="#111111" stroke-width="0.75" />
<rect x="244.15" y="370.30" width="2.2" height="2.2" fill="#111111"/>
<line x1="253.89" y1="366.96" x2="253.89" y2="369.07" stroke="#111111" stroke-width="0.5" />
<line x1="252.69" y1="366.96" x2="255.09" y2="366.96" stroke="#111111" stroke-width="0.75" />
<line x1="252.69" y1="369.07" x2="255.09" y2="369.07" stroke="#111111" stroke-width="0.75" />
<rect x="252.79" y="366.92" width="2.2" height="2.2" fill="#111111"/>
<line x1="262.54" y1="369.14" x2="262.54" y2="371.26" stroke="#111111" stroke-width="0.5" />
<line x1="261.34" y1="369.14" x2="263.74" y2="369.14" stroke="#111111" stroke-width="0.75" />
<line x1="261.34" y1="371.26" x2="263.74" y2="371.26" stroke="#111111" stroke-width="0.75" />
<rect x="261.44" y="369.10" width="2.2" height="2.2" fill="#111111"/>
<line x1="272.42" y1="364.91" x2="272.42" y2="368.44" stroke="#111111" stroke-width="0.5" />
<line x1="271.22" y1="364.91" x2="273.62" y2="364.91" stroke="#111111" stroke-width="0.75" />
<line x1="271.22" y1="368.44" x2="273.62" y2="368.44" stroke="#111111" stroke-width="0.75" />
<rect x="271.31" y="365.58" width="2.2" height="2.2" fill="#111111"/>
<line x1="279.83" y1="358.00" x2="279.83" y2="363.64" stroke="#111111" stroke-width="0.5" />
<line x1="278.63" y1="358.00" x2="281.03" y2="358.00" stroke="#111111" stroke-width="0.75" />
<line x1="278.63" y1="363.64" x2="281.03" y2="363.64" stroke="#111111" stroke-width="0.75" />
<rect x="278.73" y="359.72" width="2.2" height="2.2" fill="#111111"/>
<line x1="288.47" y1="359.06" x2="288.47" y2="362.59" stroke="#111111" stroke-width="0.5" />
<line x1="287.27" y1="359.06" x2="289.67" y2="359.06" stroke="#111111" stroke-width="0.75" />
<line x1="287.27" y1="362.59" x2="289.67" y2="362.59" stroke="#111111" stroke-width="0.75" />
<rect x="287.37" y="359.72" width="2.2" height="2.2" fill="#111111"/>
<line x1="297.12" y1="356.10" x2="297.12" y2="358.92" stroke="#111111" stroke-width="0.5" />
<line x1="295.92" y1="356.10" x2="298.31" y2="356.10" stroke="#111111" stroke-width="0.75" />
<line x1="295.92" y1="358.92" x2="298.31" y2="358.92" stroke="#111111" stroke-width="0.75" />
<rect x="296.01" y="356.41" width="2.2" height="2.2" fill="#111111"/>
<line x1="245.25" y1="371.75" x2="245.25" y2="373.87" stroke="#de1f3f" stroke-width="0.5" />
<line x1="244.05" y1="371.75" x2="246.44" y2="371.75" stroke="#de1f3f" stroke-width="0.75" />
<line x1="244.05" y1="373.87" x2="246.44" y2="373.87" stroke="#de1f3f" stroke-width="0.75" />
<rect x="244.15" y="371.71" width="2.2" height="2.2" fill="#de1f3f"/>
<line x1="253.89" y1="367.52" x2="253.89" y2="369.64" stroke="#de1f3f" stroke-width="0.5" />
<line x1="252.69" y1="367.52" x2="255.09" y2="367.52" stroke="#de1f3f" stroke-width="0.75" />
<line x1="252.69" y1="369.64" x2="255.09" y2="369.64" stroke="#de1f3f" stroke-width="0.75" />
<rect x="252.79" y="367.48" width="2.2" height="2.2" fill="#de1f3f"/>
<line x1="262.54" y1="371.05" x2="262.54" y2="373.16" stroke="#de1f3f" stroke-width="0.5" />
<line x1="261.34" y1="371.05" x2="263.74" y2="371.05" stroke="#de1f3f" stroke-width="0.75" />
<line x1="261.34" y1="373.16" x2="263.74" y2="373.16" stroke="#de1f3f" stroke-width="0.75" />
<rect x="261.44" y="371.00" width="2.2" height="2.2" fill="#de1f3f"/>
<line x1="279.83" y1="362.52" x2="279.83" y2="368.16" stroke="#de1f3f" stroke-width="0.5" />
<line x1="278.63" y1="362.52" x2="281.03" y2="362.52" stroke="#de1f3f" stroke-width="0.75" />
<line x1="278.63" y1="368.16" x2="281.03" y2="368.16" stroke="#de1f3f" stroke-width="0.75" />
<rect x="278.73" y="364.24" width="2.2" height="2.2" fill="#de1f3f"/>
<line x1="288.47" y1="360.75" x2="288.47" y2="364.28" stroke="#de1f3f" stroke-width="0.5" />
<line x1="287.27" y1="360.75" x2="289.67" y2="360.75" stroke="#de1f3f" stroke-width="0.75" />
<line x1="287.27" y1="364.28" x2="289.67" y2="364.28" stroke="#de1f3f" stroke-width="0.75" />
<rect x="287.37" y="361.42" width="2.2" height="2.2" fill="#de1f3f"/>
<line x1="297.12" y1="359.56" x2="297.12" y2="363.08" stroke="#de1f3f" stroke-width="0.5" />
<line x1="295.92" y1="359.56" x2="298.31" y2="359.56" stroke="#de1f3f" stroke-width="0.75" />
<line x1="295.92" y1="363.08" x2="298.31" y2="363.08" stroke="#de1f3f" stroke-width="0.75" />
<rect x="296.01" y="360.22" width="2.2" height="2.2" fill="#de1f3f"/>
<line x1="272.42" y1="368.23" x2="272.42" y2="371.05" stroke="#215f9e" stroke-width="0.5" />
<line x1="271.22" y1="368.23" x2="273.62" y2="368.23" stroke="#215f9e" stroke-width="0.75" />
<line x1="271.22" y1="371.05" x2="273.62" y2="371.05" stroke="#215f9e" stroke-width="0.75" />
<rect x="271.31" y="368.54" width="2.2" height="2.2" fill="#215f9e"/>
<line x1="368.50" y1="348.30" x2="368.50" y2="387.70" stroke="#231f20" stroke-width="1.0" />
<line x1="365.50" y1="385.50" x2="446.00" y2="385.50" stroke="#231f20" stroke-width="1.0" />
<text transform="translate(362.50,388.40) scale(0.93,1)" x="0" y="0" font-size="8.3" text-anchor="end" fill="#111" >0</text>
<line x1="365.50" y1="362.10" x2="368.50" y2="362.10" stroke="#444" stroke-width="0.9" />
<text transform="translate(362.50,365.00) scale(0.93,1)" x="0" y="0" font-size="8.3" text-anchor="end" fill="#111" >5</text>
<text transform="translate(368.50,396.20) scale(0.93,1)" x="0" y="0" font-size="8.1" text-anchor="middle" fill="#111" >0</text>
<line x1="393.20" y1="385.50" x2="393.20" y2="387.70" stroke="#444" stroke-width="0.9" />
<text transform="translate(393.20,396.20) scale(0.93,1)" x="0" y="0" font-size="8.1" text-anchor="middle" fill="#111" >20</text>
<line x1="417.90" y1="385.50" x2="417.90" y2="387.70" stroke="#444" stroke-width="0.9" />
<text transform="translate(417.90,396.20) scale(0.93,1)" x="0" y="0" font-size="8.1" text-anchor="middle" fill="#111" >40</text>
<line x1="442.60" y1="385.50" x2="442.60" y2="387.70" stroke="#444" stroke-width="0.9" />
<text transform="translate(442.60,396.20) scale(0.93,1)" x="0" y="0" font-size="8.1" text-anchor="middle" fill="#111" >60</text>
<text x="407.00" y="348.80" font-size="7.9" text-anchor="middle" fill="#111" >PGK1</text>
<line x1="369.84" y1="371.93" x2="369.84" y2="376.61" stroke="#111111" stroke-width="0.5" />
<line x1="368.64" y1="371.93" x2="371.04" y2="371.93" stroke="#111111" stroke-width="0.75" />
<line x1="368.64" y1="376.61" x2="371.04" y2="376.61" stroke="#111111" stroke-width="0.75" />
<rect x="368.74" y="373.17" width="2.2" height="2.2" fill="#111111"/>
<line x1="377.25" y1="373.33" x2="377.25" y2="376.14" stroke="#111111" stroke-width="0.5" />
<line x1="376.05" y1="373.33" x2="378.44" y2="373.33" stroke="#111111" stroke-width="0.75" />
<line x1="376.05" y1="376.14" x2="378.44" y2="376.14" stroke="#111111" stroke-width="0.75" />
<rect x="376.14" y="373.64" width="2.2" height="2.2" fill="#111111"/>
<line x1="385.89" y1="365.84" x2="385.89" y2="370.52" stroke="#111111" stroke-width="0.5" />
<line x1="384.69" y1="365.84" x2="387.09" y2="365.84" stroke="#111111" stroke-width="0.75" />
<line x1="384.69" y1="370.52" x2="387.09" y2="370.52" stroke="#111111" stroke-width="0.75" />
<rect x="384.79" y="367.08" width="2.2" height="2.2" fill="#111111"/>
<line x1="394.54" y1="367.25" x2="394.54" y2="372.86" stroke="#111111" stroke-width="0.5" />
<line x1="393.34" y1="367.25" x2="395.74" y2="367.25" stroke="#111111" stroke-width="0.75" />
<line x1="393.34" y1="372.86" x2="395.74" y2="372.86" stroke="#111111" stroke-width="0.75" />
<rect x="393.44" y="368.96" width="2.2" height="2.2" fill="#111111"/>
<line x1="404.42" y1="361.16" x2="404.42" y2="365.84" stroke="#111111" stroke-width="0.5" />
<line x1="403.22" y1="361.16" x2="405.62" y2="361.16" stroke="#111111" stroke-width="0.75" />
<line x1="403.22" y1="365.84" x2="405.62" y2="365.84" stroke="#111111" stroke-width="0.75" />
<rect x="403.31" y="362.40" width="2.2" height="2.2" fill="#111111"/>
<line x1="411.83" y1="365.84" x2="411.83" y2="371.46" stroke="#111111" stroke-width="0.5" />
<line x1="410.63" y1="365.84" x2="413.03" y2="365.84" stroke="#111111" stroke-width="0.75" />
<line x1="410.63" y1="371.46" x2="413.03" y2="371.46" stroke="#111111" stroke-width="0.75" />
<rect x="410.73" y="367.55" width="2.2" height="2.2" fill="#111111"/>
<line x1="420.47" y1="358.36" x2="420.47" y2="366.78" stroke="#111111" stroke-width="0.5" />
<line x1="419.27" y1="358.36" x2="421.67" y2="358.36" stroke="#111111" stroke-width="0.75" />
<line x1="419.27" y1="366.78" x2="421.67" y2="366.78" stroke="#111111" stroke-width="0.75" />
<rect x="419.37" y="361.47" width="2.2" height="2.2" fill="#111111"/>
<line x1="429.12" y1="367.25" x2="429.12" y2="371.93" stroke="#111111" stroke-width="0.5" />
<line x1="427.92" y1="367.25" x2="430.31" y2="367.25" stroke="#111111" stroke-width="0.75" />
<line x1="427.92" y1="371.93" x2="430.31" y2="371.93" stroke="#111111" stroke-width="0.75" />
<rect x="428.01" y="368.49" width="2.2" height="2.2" fill="#111111"/>
<line x1="377.25" y1="373.33" x2="377.25" y2="377.08" stroke="#de1f3f" stroke-width="0.5" />
<line x1="376.05" y1="373.33" x2="378.44" y2="373.33" stroke="#de1f3f" stroke-width="0.75" />
<line x1="376.05" y1="377.08" x2="378.44" y2="377.08" stroke="#de1f3f" stroke-width="0.75" />
<rect x="376.14" y="374.10" width="2.2" height="2.2" fill="#de1f3f"/>
<line x1="385.89" y1="370.52" x2="385.89" y2="374.27" stroke="#de1f3f" stroke-width="0.5" />
<line x1="384.69" y1="370.52" x2="387.09" y2="370.52" stroke="#de1f3f" stroke-width="0.75" />
<line x1="384.69" y1="374.27" x2="387.09" y2="374.27" stroke="#de1f3f" stroke-width="0.75" />
<rect x="384.79" y="371.30" width="2.2" height="2.2" fill="#de1f3f"/>
<line x1="394.54" y1="364.44" x2="394.54" y2="370.99" stroke="#de1f3f" stroke-width="0.5" />
<line x1="393.34" y1="364.44" x2="395.74" y2="364.44" stroke="#de1f3f" stroke-width="0.75" />
<line x1="393.34" y1="370.99" x2="395.74" y2="370.99" stroke="#de1f3f" stroke-width="0.75" />
<rect x="393.44" y="366.62" width="2.2" height="2.2" fill="#de1f3f"/>
<line x1="411.83" y1="369.12" x2="411.83" y2="373.80" stroke="#de1f3f" stroke-width="0.5" />
<line x1="410.63" y1="369.12" x2="413.03" y2="369.12" stroke="#de1f3f" stroke-width="0.75" />
<line x1="410.63" y1="373.80" x2="413.03" y2="373.80" stroke="#de1f3f" stroke-width="0.75" />
<rect x="410.73" y="370.36" width="2.2" height="2.2" fill="#de1f3f"/>
<line x1="420.47" y1="364.91" x2="420.47" y2="371.46" stroke="#de1f3f" stroke-width="0.5" />
<line x1="419.27" y1="364.91" x2="421.67" y2="364.91" stroke="#de1f3f" stroke-width="0.75" />
<line x1="419.27" y1="371.46" x2="421.67" y2="371.46" stroke="#de1f3f" stroke-width="0.75" />
<rect x="419.37" y="367.08" width="2.2" height="2.2" fill="#de1f3f"/>
<line x1="429.12" y1="364.44" x2="429.12" y2="371.93" stroke="#de1f3f" stroke-width="0.5" />
<line x1="427.92" y1="364.44" x2="430.31" y2="364.44" stroke="#de1f3f" stroke-width="0.75" />
<line x1="427.92" y1="371.93" x2="430.31" y2="371.93" stroke="#de1f3f" stroke-width="0.75" />
<rect x="428.01" y="367.08" width="2.2" height="2.2" fill="#de1f3f"/>
<line x1="404.42" y1="356.95" x2="404.42" y2="363.50" stroke="#215f9e" stroke-width="0.5" />
<line x1="403.22" y1="356.95" x2="405.62" y2="356.95" stroke="#215f9e" stroke-width="0.75" />
<line x1="403.22" y1="363.50" x2="405.62" y2="363.50" stroke="#215f9e" stroke-width="0.75" />
<rect x="403.31" y="359.13" width="2.2" height="2.2" fill="#215f9e"/>
<text x="6.40" y="403.50" font-size="7.5" text-anchor="start" fill="#111" >Storage day</text>
<line x1="50.00" y1="402.10" x2="508.50" y2="402.10" stroke="#111" stroke-width="1.5" />
<path d="M508 398.90 L514 402.10 L508 405.30 Z" fill="#111"/>
<text x="6.40" y="668.80" font-size="7.5" text-anchor="start" fill="#111" >Storage day</text>
<line x1="50.00" y1="667.60" x2="508.50" y2="667.60" stroke="#111" stroke-width="1.5" />
<path d="M508 664.40 L514 667.60 L508 670.80 Z" fill="#111"/>
<line x1="42.50" y1="423.30" x2="42.50" y2="462.70" stroke="#231f20" stroke-width="1.0" />
<line x1="39.50" y1="460.50" x2="120.00" y2="460.50" stroke="#231f20" stroke-width="1.0" />
<text transform="translate(36.50,463.40) scale(0.93,1)" x="0" y="0" font-size="8.3" text-anchor="end" fill="#111" >0</text>
<line x1="39.50" y1="445.25" x2="42.50" y2="445.25" stroke="#444" stroke-width="0.9" />
<text transform="translate(36.50,448.15) scale(0.93,1)" x="0" y="0" font-size="8.3" text-anchor="end" fill="#111" >500</text>
<line x1="39.50" y1="430.00" x2="42.50" y2="430.00" stroke="#444" stroke-width="0.9" />
<text transform="translate(36.50,432.90) scale(0.93,1)" x="0" y="0" font-size="8.3" text-anchor="end" fill="#111" >1000</text>
<text transform="translate(42.50,471.20) scale(0.93,1)" x="0" y="0" font-size="8.1" text-anchor="middle" fill="#111" >0</text>
<line x1="67.20" y1="460.50" x2="67.20" y2="462.70" stroke="#444" stroke-width="0.9" />
<text transform="translate(67.20,471.20) scale(0.93,1)" x="0" y="0" font-size="8.1" text-anchor="middle" fill="#111" >20</text>
<line x1="91.90" y1="460.50" x2="91.90" y2="462.70" stroke="#444" stroke-width="0.9" />
<text transform="translate(91.90,471.20) scale(0.93,1)" x="0" y="0" font-size="8.1" text-anchor="middle" fill="#111" >40</text>
<line x1="116.60" y1="460.50" x2="116.60" y2="462.70" stroke="#444" stroke-width="0.9" />
<text transform="translate(116.60,471.20) scale(0.93,1)" x="0" y="0" font-size="8.1" text-anchor="middle" fill="#111" >60</text>
<text x="81.00" y="420.00" font-size="7.9" text-anchor="middle" fill="#111" >HBA1</text>
<text transform="translate(13.00,442.50) rotate(-90) scale(0.635,1)" x="0" y="0" font-size="9.4" text-anchor="middle" stroke="#111" stroke-width="0.22" fill="#111">Total</text>
<rect x="42.73" y="429.20" width="2.2" height="2.2" fill="#111111"/>
<rect x="102.02" y="428.75" width="2.2" height="2.2" fill="#111111"/>
<rect x="50.15" y="429.66" width="2.2" height="2.2" fill="#de1f3f"/>
<rect x="58.79" y="429.36" width="2.2" height="2.2" fill="#de1f3f"/>
<rect x="67.44" y="429.66" width="2.2" height="2.2" fill="#de1f3f"/>
<rect x="84.72" y="429.05" width="2.2" height="2.2" fill="#de1f3f"/>
<rect x="93.37" y="429.20" width="2.2" height="2.2" fill="#de1f3f"/>
<rect x="102.02" y="428.90" width="2.2" height="2.2" fill="#de1f3f"/>
<rect x="77.31" y="429.20" width="2.2" height="2.2" fill="#215f9e"/>
<line x1="177.50" y1="423.30" x2="177.50" y2="462.70" stroke="#231f20" stroke-width="1.0" />
<line x1="174.50" y1="460.50" x2="255.00" y2="460.50" stroke="#231f20" stroke-width="1.0" />
<text transform="translate(171.50,463.40) scale(0.93,1)" x="0" y="0" font-size="8.3" text-anchor="end" fill="#111" >0</text>
<line x1="174.50" y1="437.00" x2="177.50" y2="437.00" stroke="#444" stroke-width="0.9" />
<text transform="translate(171.50,439.90) scale(0.93,1)" x="0" y="0" font-size="8.3" text-anchor="end" fill="#111" >1000</text>
<text transform="translate(177.50,471.20) scale(0.93,1)" x="0" y="0" font-size="8.1" text-anchor="middle" fill="#111" >0</text>
<line x1="202.20" y1="460.50" x2="202.20" y2="462.70" stroke="#444" stroke-width="0.9" />
<text transform="translate(202.20,471.20) scale(0.93,1)" x="0" y="0" font-size="8.1" text-anchor="middle" fill="#111" >20</text>
<line x1="226.90" y1="460.50" x2="226.90" y2="462.70" stroke="#444" stroke-width="0.9" />
<text transform="translate(226.90,471.20) scale(0.93,1)" x="0" y="0" font-size="8.1" text-anchor="middle" fill="#111" >40</text>
<line x1="251.60" y1="460.50" x2="251.60" y2="462.70" stroke="#444" stroke-width="0.9" />
<text transform="translate(251.60,471.20) scale(0.93,1)" x="0" y="0" font-size="8.1" text-anchor="middle" fill="#111" >60</text>
<text x="216.00" y="420.00" font-size="7.9" text-anchor="middle" fill="#111" >HBB</text>
<rect x="177.74" y="430.02" width="2.2" height="2.2" fill="#111111"/>
<line x1="186.25" y1="429.95" x2="186.25" y2="431.36" stroke="#111111" stroke-width="0.5" />
<line x1="185.05" y1="429.95" x2="187.44" y2="429.95" stroke="#111111" stroke-width="0.75" />
<line x1="185.05" y1="431.36" x2="187.44" y2="431.36" stroke="#111111" stroke-width="0.75" />
<rect x="185.15" y="429.55" width="2.2" height="2.2" fill="#111111"/>
<rect x="228.37" y="429.08" width="2.2" height="2.2" fill="#111111"/>
<line x1="186.25" y1="432.06" x2="186.25" y2="433.47" stroke="#de1f3f" stroke-width="0.5" />
<line x1="185.05" y1="432.06" x2="187.44" y2="432.06" stroke="#de1f3f" stroke-width="0.75" />
<line x1="185.05" y1="433.47" x2="187.44" y2="433.47" stroke="#de1f3f" stroke-width="0.75" />
<rect x="185.15" y="431.67" width="2.2" height="2.2" fill="#de1f3f"/>
<rect x="193.79" y="429.55" width="2.2" height="2.2" fill="#de1f3f"/>
<rect x="202.44" y="429.32" width="2.2" height="2.2" fill="#de1f3f"/>
<rect x="219.72" y="429.32" width="2.2" height="2.2" fill="#de1f3f"/>
<rect x="228.37" y="429.32" width="2.2" height="2.2" fill="#de1f3f"/>
<rect x="237.02" y="429.55" width="2.2" height="2.2" fill="#de1f3f"/>
<rect x="212.31" y="429.08" width="2.2" height="2.2" fill="#215f9e"/>
<line x1="304.50" y1="423.30" x2="304.50" y2="462.70" stroke="#231f20" stroke-width="1.0" />
<line x1="301.50" y1="460.50" x2="382.00" y2="460.50" stroke="#231f20" stroke-width="1.0" />
<text transform="translate(298.50,463.40) scale(0.93,1)" x="0" y="0" font-size="8.3" text-anchor="end" fill="#111" >0</text>
<line x1="301.50" y1="436.25" x2="304.50" y2="436.25" stroke="#444" stroke-width="0.9" />
<text transform="translate(298.50,439.15) scale(0.93,1)" x="0" y="0" font-size="8.3" text-anchor="end" fill="#111" >50</text>
<text transform="translate(304.50,471.20) scale(0.93,1)" x="0" y="0" font-size="8.1" text-anchor="middle" fill="#111" >0</text>
<line x1="329.20" y1="460.50" x2="329.20" y2="462.70" stroke="#444" stroke-width="0.9" />
<text transform="translate(329.20,471.20) scale(0.93,1)" x="0" y="0" font-size="8.1" text-anchor="middle" fill="#111" >20</text>
<line x1="353.90" y1="460.50" x2="353.90" y2="462.70" stroke="#444" stroke-width="0.9" />
<text transform="translate(353.90,471.20) scale(0.93,1)" x="0" y="0" font-size="8.1" text-anchor="middle" fill="#111" >40</text>
<line x1="378.60" y1="460.50" x2="378.60" y2="462.70" stroke="#444" stroke-width="0.9" />
<text transform="translate(378.60,471.20) scale(0.93,1)" x="0" y="0" font-size="8.1" text-anchor="middle" fill="#111" >60</text>
<text x="343.00" y="420.00" font-size="7.9" text-anchor="middle" fill="#111" >HBG1</text>
<line x1="305.84" y1="433.58" x2="305.84" y2="435.52" stroke="#111111" stroke-width="0.5" />
<line x1="304.64" y1="433.58" x2="307.04" y2="433.58" stroke="#111111" stroke-width="0.75" />
<line x1="304.64" y1="435.52" x2="307.04" y2="435.52" stroke="#111111" stroke-width="0.75" />
<rect x="304.74" y="433.45" width="2.2" height="2.2" fill="#111111"/>
<line x1="313.25" y1="432.08" x2="313.25" y2="434.02" stroke="#111111" stroke-width="0.5" />
<line x1="312.05" y1="432.08" x2="314.44" y2="432.08" stroke="#111111" stroke-width="0.75" />
<line x1="312.05" y1="434.02" x2="314.44" y2="434.02" stroke="#111111" stroke-width="0.75" />
<rect x="312.14" y="431.95" width="2.2" height="2.2" fill="#111111"/>
<line x1="321.89" y1="436.54" x2="321.89" y2="438.48" stroke="#111111" stroke-width="0.5" />
<line x1="320.69" y1="436.54" x2="323.09" y2="436.54" stroke="#111111" stroke-width="0.75" />
<line x1="320.69" y1="438.48" x2="323.09" y2="438.48" stroke="#111111" stroke-width="0.75" />
<rect x="320.79" y="436.41" width="2.2" height="2.2" fill="#111111"/>
<line x1="330.54" y1="432.08" x2="330.54" y2="434.02" stroke="#111111" stroke-width="0.5" />
<line x1="329.34" y1="432.08" x2="331.74" y2="432.08" stroke="#111111" stroke-width="0.75" />
<line x1="329.34" y1="434.02" x2="331.74" y2="434.02" stroke="#111111" stroke-width="0.75" />
<rect x="329.44" y="431.95" width="2.2" height="2.2" fill="#111111"/>
<line x1="347.83" y1="432.86" x2="347.83" y2="435.76" stroke="#111111" stroke-width="0.5" />
<line x1="346.63" y1="432.86" x2="349.03" y2="432.86" stroke="#111111" stroke-width="0.75" />
<line x1="346.63" y1="435.76" x2="349.03" y2="435.76" stroke="#111111" stroke-width="0.75" />
<rect x="346.73" y="433.21" width="2.2" height="2.2" fill="#111111"/>
<line x1="356.47" y1="431.88" x2="356.47" y2="434.79" stroke="#111111" stroke-width="0.5" />
<line x1="355.27" y1="431.88" x2="357.67" y2="431.88" stroke="#111111" stroke-width="0.75" />
<line x1="355.27" y1="434.79" x2="357.67" y2="434.79" stroke="#111111" stroke-width="0.75" />
<rect x="355.37" y="432.24" width="2.2" height="2.2" fill="#111111"/>
<line x1="365.12" y1="429.94" x2="365.12" y2="431.89" stroke="#111111" stroke-width="0.5" />
<line x1="363.92" y1="429.94" x2="366.31" y2="429.94" stroke="#111111" stroke-width="0.75" />
<line x1="363.92" y1="431.89" x2="366.31" y2="431.89" stroke="#111111" stroke-width="0.75" />
<rect x="364.01" y="429.81" width="2.2" height="2.2" fill="#111111"/>
<line x1="313.25" y1="433.05" x2="313.25" y2="436.93" stroke="#de1f3f" stroke-width="0.5" />
<line x1="312.05" y1="433.05" x2="314.44" y2="433.05" stroke="#de1f3f" stroke-width="0.75" />
<line x1="312.05" y1="436.93" x2="314.44" y2="436.93" stroke="#de1f3f" stroke-width="0.75" />
<rect x="312.14" y="433.89" width="2.2" height="2.2" fill="#de1f3f"/>
<line x1="321.89" y1="430.09" x2="321.89" y2="434.94" stroke="#de1f3f" stroke-width="0.5" />
<line x1="320.69" y1="430.09" x2="323.09" y2="430.09" stroke="#de1f3f" stroke-width="0.75" />
<line x1="320.69" y1="434.94" x2="323.09" y2="434.94" stroke="#de1f3f" stroke-width="0.75" />
<rect x="320.79" y="431.42" width="2.2" height="2.2" fill="#de1f3f"/>
<line x1="330.54" y1="434.07" x2="330.54" y2="436.98" stroke="#de1f3f" stroke-width="0.5" />
<line x1="329.34" y1="434.07" x2="331.74" y2="434.07" stroke="#de1f3f" stroke-width="0.75" />
<line x1="329.34" y1="436.98" x2="331.74" y2="436.98" stroke="#de1f3f" stroke-width="0.75" />
<rect x="329.44" y="434.42" width="2.2" height="2.2" fill="#de1f3f"/>
<line x1="347.83" y1="430.09" x2="347.83" y2="433.97" stroke="#de1f3f" stroke-width="0.5" />
<line x1="346.63" y1="430.09" x2="349.03" y2="430.09" stroke="#de1f3f" stroke-width="0.75" />
<line x1="346.63" y1="433.97" x2="349.03" y2="433.97" stroke="#de1f3f" stroke-width="0.75" />
<rect x="346.73" y="430.93" width="2.2" height="2.2" fill="#de1f3f"/>
<line x1="356.47" y1="430.58" x2="356.47" y2="434.46" stroke="#de1f3f" stroke-width="0.5" />
<line x1="355.27" y1="430.58" x2="357.67" y2="430.58" stroke="#de1f3f" stroke-width="0.75" />
<line x1="355.27" y1="434.46" x2="357.67" y2="434.46" stroke="#de1f3f" stroke-width="0.75" />
<rect x="355.37" y="431.42" width="2.2" height="2.2" fill="#de1f3f"/>
<line x1="365.12" y1="431.55" x2="365.12" y2="433.49" stroke="#de1f3f" stroke-width="0.5" />
<line x1="363.92" y1="431.55" x2="366.31" y2="431.55" stroke="#de1f3f" stroke-width="0.75" />
<line x1="363.92" y1="433.49" x2="366.31" y2="433.49" stroke="#de1f3f" stroke-width="0.75" />
<rect x="364.01" y="431.42" width="2.2" height="2.2" fill="#de1f3f"/>
<line x1="340.42" y1="434.31" x2="340.42" y2="436.73" stroke="#215f9e" stroke-width="0.5" />
<line x1="339.22" y1="434.31" x2="341.62" y2="434.31" stroke="#215f9e" stroke-width="0.75" />
<line x1="339.22" y1="436.73" x2="341.62" y2="436.73" stroke="#215f9e" stroke-width="0.75" />
<rect x="339.31" y="434.42" width="2.2" height="2.2" fill="#215f9e"/>
<line x1="435.50" y1="423.30" x2="435.50" y2="462.70" stroke="#231f20" stroke-width="1.0" />
<line x1="432.50" y1="460.50" x2="513.00" y2="460.50" stroke="#231f20" stroke-width="1.0" />
<text transform="translate(429.50,463.40) scale(0.93,1)" x="0" y="0" font-size="8.3" text-anchor="end" fill="#111" >0</text>
<line x1="432.50" y1="439.50" x2="435.50" y2="439.50" stroke="#444" stroke-width="0.9" />
<text transform="translate(429.50,442.40) scale(0.93,1)" x="0" y="0" font-size="8.3" text-anchor="end" fill="#111" >100</text>
<text transform="translate(435.50,471.20) scale(0.93,1)" x="0" y="0" font-size="8.1" text-anchor="middle" fill="#111" >0</text>
<line x1="460.20" y1="460.50" x2="460.20" y2="462.70" stroke="#444" stroke-width="0.9" />
<text transform="translate(460.20,471.20) scale(0.93,1)" x="0" y="0" font-size="8.1" text-anchor="middle" fill="#111" >20</text>
<line x1="484.90" y1="460.50" x2="484.90" y2="462.70" stroke="#444" stroke-width="0.9" />
<text transform="translate(484.90,471.20) scale(0.93,1)" x="0" y="0" font-size="8.1" text-anchor="middle" fill="#111" >40</text>
<line x1="509.60" y1="460.50" x2="509.60" y2="462.70" stroke="#444" stroke-width="0.9" />
<text transform="translate(509.60,471.20) scale(0.93,1)" x="0" y="0" font-size="8.1" text-anchor="middle" fill="#111" >60</text>
<text x="474.00" y="420.00" font-size="7.9" text-anchor="middle" fill="#111" >HBD</text>
<rect x="435.74" y="436.30" width="2.2" height="2.2" fill="#111111"/>
<line x1="444.25" y1="433.41" x2="444.25" y2="435.51" stroke="#111111" stroke-width="0.5" />
<line x1="443.05" y1="433.41" x2="445.44" y2="433.41" stroke="#111111" stroke-width="0.75" />
<line x1="443.05" y1="435.51" x2="445.44" y2="435.51" stroke="#111111" stroke-width="0.75" />
<rect x="443.14" y="433.36" width="2.2" height="2.2" fill="#111111"/>
<line x1="461.54" y1="432.15" x2="461.54" y2="433.83" stroke="#111111" stroke-width="0.5" />
<line x1="460.34" y1="432.15" x2="462.74" y2="432.15" stroke="#111111" stroke-width="0.75" />
<line x1="460.34" y1="433.83" x2="462.74" y2="433.83" stroke="#111111" stroke-width="0.75" />
<rect x="460.44" y="431.89" width="2.2" height="2.2" fill="#111111"/>
<line x1="471.42" y1="434.46" x2="471.42" y2="436.56" stroke="#111111" stroke-width="0.5" />
<line x1="470.22" y1="434.46" x2="472.62" y2="434.46" stroke="#111111" stroke-width="0.75" />
<line x1="470.22" y1="436.56" x2="472.62" y2="436.56" stroke="#111111" stroke-width="0.75" />
<rect x="470.31" y="434.41" width="2.2" height="2.2" fill="#111111"/>
<line x1="487.47" y1="431.94" x2="487.47" y2="433.20" stroke="#111111" stroke-width="0.5" />
<line x1="486.27" y1="431.94" x2="488.67" y2="431.94" stroke="#111111" stroke-width="0.75" />
<line x1="486.27" y1="433.20" x2="488.67" y2="433.20" stroke="#111111" stroke-width="0.75" />
<rect x="486.37" y="431.47" width="2.2" height="2.2" fill="#111111"/>
<line x1="496.12" y1="433.20" x2="496.12" y2="434.46" stroke="#111111" stroke-width="0.5" />
<line x1="494.92" y1="433.20" x2="497.31" y2="433.20" stroke="#111111" stroke-width="0.75" />
<line x1="494.92" y1="434.46" x2="497.31" y2="434.46" stroke="#111111" stroke-width="0.75" />
<rect x="495.01" y="432.73" width="2.2" height="2.2" fill="#111111"/>
<line x1="444.25" y1="436.14" x2="444.25" y2="437.82" stroke="#de1f3f" stroke-width="0.5" />
<line x1="443.05" y1="436.14" x2="445.44" y2="436.14" stroke="#de1f3f" stroke-width="0.75" />
<line x1="443.05" y1="437.82" x2="445.44" y2="437.82" stroke="#de1f3f" stroke-width="0.75" />
<rect x="443.14" y="435.88" width="2.2" height="2.2" fill="#de1f3f"/>
<line x1="452.89" y1="433.20" x2="452.89" y2="434.46" stroke="#de1f3f" stroke-width="0.5" />
<line x1="451.69" y1="433.20" x2="454.09" y2="433.20" stroke="#de1f3f" stroke-width="0.75" />
<line x1="451.69" y1="434.46" x2="454.09" y2="434.46" stroke="#de1f3f" stroke-width="0.75" />
<rect x="451.79" y="432.73" width="2.2" height="2.2" fill="#de1f3f"/>
<line x1="461.54" y1="433.20" x2="461.54" y2="434.46" stroke="#de1f3f" stroke-width="0.5" />
<line x1="460.34" y1="433.20" x2="462.74" y2="433.20" stroke="#de1f3f" stroke-width="0.75" />
<line x1="460.34" y1="434.46" x2="462.74" y2="434.46" stroke="#de1f3f" stroke-width="0.75" />
<rect x="460.44" y="432.73" width="2.2" height="2.2" fill="#de1f3f"/>
<line x1="478.83" y1="431.94" x2="478.83" y2="433.20" stroke="#de1f3f" stroke-width="0.5" />
<line x1="477.63" y1="431.94" x2="480.03" y2="431.94" stroke="#de1f3f" stroke-width="0.75" />
<line x1="477.63" y1="433.20" x2="480.03" y2="433.20" stroke="#de1f3f" stroke-width="0.75" />
<rect x="477.73" y="431.47" width="2.2" height="2.2" fill="#de1f3f"/>
<line x1="487.47" y1="430.47" x2="487.47" y2="432.15" stroke="#de1f3f" stroke-width="0.5" />
<line x1="486.27" y1="430.47" x2="488.67" y2="430.47" stroke="#de1f3f" stroke-width="0.75" />
<line x1="486.27" y1="432.15" x2="488.67" y2="432.15" stroke="#de1f3f" stroke-width="0.75" />
<rect x="486.37" y="430.21" width="2.2" height="2.2" fill="#de1f3f"/>
<line x1="496.12" y1="432.15" x2="496.12" y2="433.41" stroke="#de1f3f" stroke-width="0.5" />
<line x1="494.92" y1="432.15" x2="497.31" y2="432.15" stroke="#de1f3f" stroke-width="0.75" />
<line x1="494.92" y1="433.41" x2="497.31" y2="433.41" stroke="#de1f3f" stroke-width="0.75" />
<rect x="495.01" y="431.68" width="2.2" height="2.2" fill="#de1f3f"/>
<line x1="471.42" y1="431.73" x2="471.42" y2="433.41" stroke="#215f9e" stroke-width="0.5" />
<line x1="470.22" y1="431.73" x2="472.62" y2="431.73" stroke="#215f9e" stroke-width="0.75" />
<line x1="470.22" y1="433.41" x2="472.62" y2="433.41" stroke="#215f9e" stroke-width="0.75" />
<rect x="470.31" y="431.47" width="2.2" height="2.2" fill="#215f9e"/>
<line x1="42.50" y1="485.50" x2="42.50" y2="526.70" stroke="#231f20" stroke-width="1.0" />
<line x1="39.50" y1="524.50" x2="120.00" y2="524.50" stroke="#231f20" stroke-width="1.0" />
<text transform="translate(36.50,527.40) scale(0.93,1)" x="0" y="0" font-size="8.3" text-anchor="end" fill="#111" >0</text>
<line x1="39.50" y1="506.40" x2="42.50" y2="506.40" stroke="#444" stroke-width="0.9" />
<text transform="translate(36.50,509.30) scale(0.93,1)" x="0" y="0" font-size="8.3" text-anchor="end" fill="#111" >100</text>
<line x1="39.50" y1="488.30" x2="42.50" y2="488.30" stroke="#444" stroke-width="0.9" />
<text transform="translate(36.50,491.20) scale(0.93,1)" x="0" y="0" font-size="8.3" text-anchor="end" fill="#111" >200</text>
<text transform="translate(42.50,535.20) scale(0.93,1)" x="0" y="0" font-size="8.1" text-anchor="middle" fill="#111" >0</text>
<line x1="67.20" y1="524.50" x2="67.20" y2="526.70" stroke="#444" stroke-width="0.9" />
<text transform="translate(67.20,535.20) scale(0.93,1)" x="0" y="0" font-size="8.1" text-anchor="middle" fill="#111" >20</text>
<line x1="91.90" y1="524.50" x2="91.90" y2="526.70" stroke="#444" stroke-width="0.9" />
<text transform="translate(91.90,535.20) scale(0.93,1)" x="0" y="0" font-size="8.1" text-anchor="middle" fill="#111" >40</text>
<line x1="116.60" y1="524.50" x2="116.60" y2="526.70" stroke="#444" stroke-width="0.9" />
<text transform="translate(116.60,535.20) scale(0.93,1)" x="0" y="0" font-size="8.1" text-anchor="middle" fill="#111" >60</text>
<text x="81.00" y="484.80" font-size="7.9" text-anchor="middle" fill="#111" >HBA1</text>
<text transform="translate(17.50,505.90) rotate(-90) scale(0.635,1)" x="0" y="0" font-size="9.4" text-anchor="middle" stroke="#111" stroke-width="0.22" fill="#111">Oxidation</text>
<rect x="42.73" y="505.30" width="2.2" height="2.2" fill="#111111"/>
<line x1="51.25" y1="501.33" x2="51.25" y2="503.14" stroke="#111111" stroke-width="0.5" />
<line x1="50.05" y1="501.33" x2="52.45" y2="501.33" stroke="#111111" stroke-width="0.75" />
<line x1="50.05" y1="503.14" x2="52.45" y2="503.14" stroke="#111111" stroke-width="0.75" />
<rect x="50.15" y="501.14" width="2.2" height="2.2" fill="#111111"/>
<line x1="59.89" y1="502.42" x2="59.89" y2="503.50" stroke="#111111" stroke-width="0.5" />
<line x1="58.69" y1="502.42" x2="61.09" y2="502.42" stroke="#111111" stroke-width="0.75" />
<line x1="58.69" y1="503.50" x2="61.09" y2="503.50" stroke="#111111" stroke-width="0.75" />
<rect x="58.79" y="501.86" width="2.2" height="2.2" fill="#111111"/>
<line x1="68.53" y1="498.44" x2="68.53" y2="500.61" stroke="#111111" stroke-width="0.5" />
<line x1="67.33" y1="498.44" x2="69.73" y2="498.44" stroke="#111111" stroke-width="0.75" />
<line x1="67.33" y1="500.61" x2="69.73" y2="500.61" stroke="#111111" stroke-width="0.75" />
<rect x="67.44" y="498.42" width="2.2" height="2.2" fill="#111111"/>
<line x1="78.41" y1="497.35" x2="78.41" y2="499.16" stroke="#111111" stroke-width="0.5" />
<line x1="77.21" y1="497.35" x2="79.61" y2="497.35" stroke="#111111" stroke-width="0.75" />
<line x1="77.21" y1="499.16" x2="79.61" y2="499.16" stroke="#111111" stroke-width="0.75" />
<rect x="77.31" y="497.15" width="2.2" height="2.2" fill="#111111"/>
<line x1="85.82" y1="496.26" x2="85.82" y2="497.71" stroke="#111111" stroke-width="0.5" />
<line x1="84.62" y1="496.26" x2="87.02" y2="496.26" stroke="#111111" stroke-width="0.75" />
<line x1="84.62" y1="497.71" x2="87.02" y2="497.71" stroke="#111111" stroke-width="0.75" />
<rect x="84.72" y="495.89" width="2.2" height="2.2" fill="#111111"/>
<line x1="94.47" y1="496.26" x2="94.47" y2="497.71" stroke="#111111" stroke-width="0.5" />
<line x1="93.27" y1="496.26" x2="95.67" y2="496.26" stroke="#111111" stroke-width="0.75" />
<line x1="93.27" y1="497.71" x2="95.67" y2="497.71" stroke="#111111" stroke-width="0.75" />
<rect x="93.37" y="495.89" width="2.2" height="2.2" fill="#111111"/>
<line x1="103.12" y1="493.19" x2="103.12" y2="495.00" stroke="#111111" stroke-width="0.5" />
<line x1="101.92" y1="493.19" x2="104.32" y2="493.19" stroke="#111111" stroke-width="0.75" />
<line x1="101.92" y1="495.00" x2="104.32" y2="495.00" stroke="#111111" stroke-width="0.75" />
<rect x="102.02" y="492.99" width="2.2" height="2.2" fill="#111111"/>
<line x1="51.25" y1="505.31" x2="51.25" y2="506.76" stroke="#de1f3f" stroke-width="0.5" />
<line x1="50.05" y1="505.31" x2="52.45" y2="505.31" stroke="#de1f3f" stroke-width="0.75" />
<line x1="50.05" y1="506.76" x2="52.45" y2="506.76" stroke="#de1f3f" stroke-width="0.75" />
<rect x="50.15" y="504.94" width="2.2" height="2.2" fill="#de1f3f"/>
<line x1="59.89" y1="502.06" x2="59.89" y2="503.50" stroke="#de1f3f" stroke-width="0.5" />
<line x1="58.69" y1="502.06" x2="61.09" y2="502.06" stroke="#de1f3f" stroke-width="0.75" />
<line x1="58.69" y1="503.50" x2="61.09" y2="503.50" stroke="#de1f3f" stroke-width="0.75" />
<rect x="58.79" y="501.68" width="2.2" height="2.2" fill="#de1f3f"/>
<line x1="68.53" y1="503.32" x2="68.53" y2="504.77" stroke="#de1f3f" stroke-width="0.5" />
<line x1="67.33" y1="503.32" x2="69.73" y2="503.32" stroke="#de1f3f" stroke-width="0.75" />
<line x1="67.33" y1="504.77" x2="69.73" y2="504.77" stroke="#de1f3f" stroke-width="0.75" />
<rect x="67.44" y="502.95" width="2.2" height="2.2" fill="#de1f3f"/>
<line x1="85.82" y1="494.82" x2="85.82" y2="496.63" stroke="#de1f3f" stroke-width="0.5" />
<line x1="84.62" y1="494.82" x2="87.02" y2="494.82" stroke="#de1f3f" stroke-width="0.75" />
<line x1="84.62" y1="496.63" x2="87.02" y2="496.63" stroke="#de1f3f" stroke-width="0.75" />
<rect x="84.72" y="494.62" width="2.2" height="2.2" fill="#de1f3f"/>
<line x1="94.47" y1="495.00" x2="94.47" y2="496.44" stroke="#de1f3f" stroke-width="0.5" />
<line x1="93.27" y1="495.00" x2="95.67" y2="495.00" stroke="#de1f3f" stroke-width="0.75" />
<line x1="93.27" y1="496.44" x2="95.67" y2="496.44" stroke="#de1f3f" stroke-width="0.75" />
<rect x="93.37" y="494.62" width="2.2" height="2.2" fill="#de1f3f"/>
<line x1="103.12" y1="494.45" x2="103.12" y2="496.26" stroke="#de1f3f" stroke-width="0.5" />
<line x1="101.92" y1="494.45" x2="104.32" y2="494.45" stroke="#de1f3f" stroke-width="0.75" />
<line x1="101.92" y1="496.26" x2="104.32" y2="496.26" stroke="#de1f3f" stroke-width="0.75" />
<rect x="102.02" y="494.26" width="2.2" height="2.2" fill="#de1f3f"/>
<line x1="78.41" y1="498.80" x2="78.41" y2="500.61" stroke="#215f9e" stroke-width="0.5" />
<line x1="77.21" y1="498.80" x2="79.61" y2="498.80" stroke="#215f9e" stroke-width="0.75" />
<line x1="77.21" y1="500.61" x2="79.61" y2="500.61" stroke="#215f9e" stroke-width="0.75" />
<rect x="77.31" y="498.60" width="2.2" height="2.2" fill="#215f9e"/>
<line x1="177.50" y1="485.50" x2="177.50" y2="526.70" stroke="#231f20" stroke-width="1.0" />
<line x1="174.50" y1="524.50" x2="255.00" y2="524.50" stroke="#231f20" stroke-width="1.0" />
<text transform="translate(171.50,527.40) scale(0.93,1)" x="0" y="0" font-size="8.3" text-anchor="end" fill="#111" >0</text>
<line x1="174.50" y1="504.00" x2="177.50" y2="504.00" stroke="#444" stroke-width="0.9" />
<text transform="translate(171.50,506.90) scale(0.93,1)" x="0" y="0" font-size="8.3" text-anchor="end" fill="#111" >100</text>
<text transform="translate(177.50,535.20) scale(0.93,1)" x="0" y="0" font-size="8.1" text-anchor="middle" fill="#111" >0</text>
<line x1="202.20" y1="524.50" x2="202.20" y2="526.70" stroke="#444" stroke-width="0.9" />
<text transform="translate(202.20,535.20) scale(0.93,1)" x="0" y="0" font-size="8.1" text-anchor="middle" fill="#111" >20</text>
<line x1="226.90" y1="524.50" x2="226.90" y2="526.70" stroke="#444" stroke-width="0.9" />
<text transform="translate(226.90,535.20) scale(0.93,1)" x="0" y="0" font-size="8.1" text-anchor="middle" fill="#111" >40</text>
<line x1="251.60" y1="524.50" x2="251.60" y2="526.70" stroke="#444" stroke-width="0.9" />
<text transform="translate(251.60,535.20) scale(0.93,1)" x="0" y="0" font-size="8.1" text-anchor="middle" fill="#111" >60</text>
<text x="216.00" y="484.80" font-size="7.9" text-anchor="middle" fill="#111" >HBB</text>
<rect x="177.74" y="503.31" width="2.2" height="2.2" fill="#111111"/>
<line x1="186.25" y1="501.54" x2="186.25" y2="507.28" stroke="#111111" stroke-width="0.5" />
<line x1="185.05" y1="501.54" x2="187.44" y2="501.54" stroke="#111111" stroke-width="0.75" />
<line x1="185.05" y1="507.28" x2="187.44" y2="507.28" stroke="#111111" stroke-width="0.75" />
<rect x="185.15" y="503.31" width="2.2" height="2.2" fill="#111111"/>
<line x1="203.53" y1="499.08" x2="203.53" y2="504.82" stroke="#111111" stroke-width="0.5" />
<line x1="202.34" y1="499.08" x2="204.73" y2="499.08" stroke="#111111" stroke-width="0.75" />
<line x1="202.34" y1="504.82" x2="204.73" y2="504.82" stroke="#111111" stroke-width="0.75" />
<rect x="202.44" y="500.85" width="2.2" height="2.2" fill="#111111"/>
<line x1="229.47" y1="496.62" x2="229.47" y2="499.90" stroke="#111111" stroke-width="0.5" />
<line x1="228.27" y1="496.62" x2="230.67" y2="496.62" stroke="#111111" stroke-width="0.75" />
<line x1="228.27" y1="499.90" x2="230.67" y2="499.90" stroke="#111111" stroke-width="0.75" />
<rect x="228.37" y="497.16" width="2.2" height="2.2" fill="#111111"/>
<line x1="238.12" y1="500.31" x2="238.12" y2="504.41" stroke="#111111" stroke-width="0.5" />
<line x1="236.92" y1="500.31" x2="239.31" y2="500.31" stroke="#111111" stroke-width="0.75" />
<line x1="236.92" y1="504.41" x2="239.31" y2="504.41" stroke="#111111" stroke-width="0.75" />
<rect x="237.02" y="501.26" width="2.2" height="2.2" fill="#111111"/>
<line x1="186.25" y1="504.62" x2="186.25" y2="509.53" stroke="#de1f3f" stroke-width="0.5" />
<line x1="185.05" y1="504.62" x2="187.44" y2="504.62" stroke="#de1f3f" stroke-width="0.75" />
<line x1="185.05" y1="509.53" x2="187.44" y2="509.53" stroke="#de1f3f" stroke-width="0.75" />
<rect x="185.15" y="505.97" width="2.2" height="2.2" fill="#de1f3f"/>
<line x1="194.89" y1="499.49" x2="194.89" y2="504.41" stroke="#de1f3f" stroke-width="0.5" />
<line x1="193.69" y1="499.49" x2="196.09" y2="499.49" stroke="#de1f3f" stroke-width="0.75" />
<line x1="193.69" y1="504.41" x2="196.09" y2="504.41" stroke="#de1f3f" stroke-width="0.75" />
<rect x="193.79" y="500.85" width="2.2" height="2.2" fill="#de1f3f"/>
<line x1="203.53" y1="501.13" x2="203.53" y2="506.87" stroke="#de1f3f" stroke-width="0.5" />
<line x1="202.34" y1="501.13" x2="204.73" y2="501.13" stroke="#de1f3f" stroke-width="0.75" />
<line x1="202.34" y1="506.87" x2="204.73" y2="506.87" stroke="#de1f3f" stroke-width="0.75" />
<rect x="202.44" y="502.90" width="2.2" height="2.2" fill="#de1f3f"/>
<line x1="220.82" y1="500.31" x2="220.82" y2="505.23" stroke="#de1f3f" stroke-width="0.5" />
<line x1="219.62" y1="500.31" x2="222.02" y2="500.31" stroke="#de1f3f" stroke-width="0.75" />
<line x1="219.62" y1="505.23" x2="222.02" y2="505.23" stroke="#de1f3f" stroke-width="0.75" />
<rect x="219.72" y="501.67" width="2.2" height="2.2" fill="#de1f3f"/>
<line x1="229.47" y1="496.82" x2="229.47" y2="500.93" stroke="#de1f3f" stroke-width="0.5" />
<line x1="228.27" y1="496.82" x2="230.67" y2="496.82" stroke="#de1f3f" stroke-width="0.75" />
<line x1="228.27" y1="500.93" x2="230.67" y2="500.93" stroke="#de1f3f" stroke-width="0.75" />
<rect x="228.37" y="497.77" width="2.2" height="2.2" fill="#de1f3f"/>
<line x1="238.12" y1="496.62" x2="238.12" y2="503.18" stroke="#de1f3f" stroke-width="0.5" />
<line x1="236.92" y1="496.62" x2="239.31" y2="496.62" stroke="#de1f3f" stroke-width="0.75" />
<line x1="236.92" y1="503.18" x2="239.31" y2="503.18" stroke="#de1f3f" stroke-width="0.75" />
<rect x="237.02" y="498.80" width="2.2" height="2.2" fill="#de1f3f"/>
<line x1="213.41" y1="500.31" x2="213.41" y2="505.23" stroke="#215f9e" stroke-width="0.5" />
<line x1="212.22" y1="500.31" x2="214.61" y2="500.31" stroke="#215f9e" stroke-width="0.75" />
<line x1="212.22" y1="505.23" x2="214.61" y2="505.23" stroke="#215f9e" stroke-width="0.75" />
<rect x="212.31" y="501.67" width="2.2" height="2.2" fill="#215f9e"/>
<line x1="304.50" y1="485.50" x2="304.50" y2="526.70" stroke="#231f20" stroke-width="1.0" />
<line x1="301.50" y1="524.50" x2="382.00" y2="524.50" stroke="#231f20" stroke-width="1.0" />
<text transform="translate(298.50,527.40) scale(0.93,1)" x="0" y="0" font-size="8.3" text-anchor="end" fill="#111" >0</text>
<line x1="301.50" y1="487.75" x2="304.50" y2="487.75" stroke="#444" stroke-width="0.9" />
<text transform="translate(298.50,490.65) scale(0.93,1)" x="0" y="0" font-size="8.3" text-anchor="end" fill="#111" >5</text>
<text transform="translate(304.50,535.20) scale(0.93,1)" x="0" y="0" font-size="8.1" text-anchor="middle" fill="#111" >0</text>
<line x1="329.20" y1="524.50" x2="329.20" y2="526.70" stroke="#444" stroke-width="0.9" />
<text transform="translate(329.20,535.20) scale(0.93,1)" x="0" y="0" font-size="8.1" text-anchor="middle" fill="#111" >20</text>
<line x1="353.90" y1="524.50" x2="353.90" y2="526.70" stroke="#444" stroke-width="0.9" />
<text transform="translate(353.90,535.20) scale(0.93,1)" x="0" y="0" font-size="8.1" text-anchor="middle" fill="#111" >40</text>
<line x1="378.60" y1="524.50" x2="378.60" y2="526.70" stroke="#444" stroke-width="0.9" />
<text transform="translate(378.60,535.20) scale(0.93,1)" x="0" y="0" font-size="8.1" text-anchor="middle" fill="#111" >60</text>
<text x="343.00" y="484.80" font-size="7.9" text-anchor="middle" fill="#111" >HBG1</text>
<line x1="305.84" y1="514.21" x2="305.84" y2="521.56" stroke="#111111" stroke-width="0.5" />
<line x1="304.64" y1="514.21" x2="307.04" y2="514.21" stroke="#111111" stroke-width="0.75" />
<line x1="304.64" y1="521.56" x2="307.04" y2="521.56" stroke="#111111" stroke-width="0.75" />
<rect x="304.74" y="516.78" width="2.2" height="2.2" fill="#111111"/>
<line x1="321.89" y1="512.37" x2="321.89" y2="519.72" stroke="#111111" stroke-width="0.5" />
<line x1="320.69" y1="512.37" x2="323.09" y2="512.37" stroke="#111111" stroke-width="0.75" />
<line x1="320.69" y1="519.72" x2="323.09" y2="519.72" stroke="#111111" stroke-width="0.75" />
<rect x="320.79" y="514.95" width="2.2" height="2.2" fill="#111111"/>
<line x1="330.54" y1="501.72" x2="330.54" y2="517.88" stroke="#111111" stroke-width="0.5" />
<line x1="329.34" y1="501.72" x2="331.74" y2="501.72" stroke="#111111" stroke-width="0.75" />
<line x1="329.34" y1="517.88" x2="331.74" y2="517.88" stroke="#111111" stroke-width="0.75" />
<rect x="329.44" y="508.70" width="2.2" height="2.2" fill="#111111"/>
<line x1="340.42" y1="501.71" x2="340.42" y2="507.59" stroke="#111111" stroke-width="0.5" />
<line x1="339.22" y1="501.71" x2="341.62" y2="501.71" stroke="#111111" stroke-width="0.75" />
<line x1="339.22" y1="507.59" x2="341.62" y2="507.59" stroke="#111111" stroke-width="0.75" />
<rect x="339.31" y="503.55" width="2.2" height="2.2" fill="#111111"/>
<line x1="347.83" y1="503.19" x2="347.83" y2="518.62" stroke="#111111" stroke-width="0.5" />
<line x1="346.63" y1="503.19" x2="349.03" y2="503.19" stroke="#111111" stroke-width="0.75" />
<line x1="346.63" y1="518.62" x2="349.03" y2="518.62" stroke="#111111" stroke-width="0.75" />
<rect x="346.73" y="509.80" width="2.2" height="2.2" fill="#111111"/>
<line x1="356.47" y1="495.10" x2="356.47" y2="505.39" stroke="#111111" stroke-width="0.5" />
<line x1="355.27" y1="495.10" x2="357.67" y2="495.10" stroke="#111111" stroke-width="0.75" />
<line x1="355.27" y1="505.39" x2="357.67" y2="505.39" stroke="#111111" stroke-width="0.75" />
<rect x="355.37" y="499.14" width="2.2" height="2.2" fill="#111111"/>
<line x1="365.12" y1="497.31" x2="365.12" y2="510.54" stroke="#111111" stroke-width="0.5" />
<line x1="363.92" y1="497.31" x2="366.31" y2="497.31" stroke="#111111" stroke-width="0.75" />
<line x1="363.92" y1="510.54" x2="366.31" y2="510.54" stroke="#111111" stroke-width="0.75" />
<rect x="364.01" y="502.82" width="2.2" height="2.2" fill="#111111"/>
<line x1="313.25" y1="515.68" x2="313.25" y2="523.76" stroke="#de1f3f" stroke-width="0.5" />
<line x1="312.05" y1="515.68" x2="314.44" y2="515.68" stroke="#de1f3f" stroke-width="0.75" />
<line x1="312.05" y1="523.76" x2="314.44" y2="523.76" stroke="#de1f3f" stroke-width="0.75" />
<rect x="312.14" y="518.62" width="2.2" height="2.2" fill="#de1f3f"/>
<line x1="321.89" y1="507.60" x2="321.89" y2="519.36" stroke="#de1f3f" stroke-width="0.5" />
<line x1="320.69" y1="507.60" x2="323.09" y2="507.60" stroke="#de1f3f" stroke-width="0.75" />
<line x1="320.69" y1="519.36" x2="323.09" y2="519.36" stroke="#de1f3f" stroke-width="0.75" />
<rect x="320.79" y="512.38" width="2.2" height="2.2" fill="#de1f3f"/>
<line x1="330.54" y1="506.12" x2="330.54" y2="514.95" stroke="#de1f3f" stroke-width="0.5" />
<line x1="329.34" y1="506.12" x2="331.74" y2="506.12" stroke="#de1f3f" stroke-width="0.75" />
<line x1="329.34" y1="514.95" x2="331.74" y2="514.95" stroke="#de1f3f" stroke-width="0.75" />
<rect x="329.44" y="509.44" width="2.2" height="2.2" fill="#de1f3f"/>
<line x1="347.83" y1="499.51" x2="347.83" y2="514.21" stroke="#de1f3f" stroke-width="0.5" />
<line x1="346.63" y1="499.51" x2="349.03" y2="499.51" stroke="#de1f3f" stroke-width="0.75" />
<line x1="346.63" y1="514.21" x2="349.03" y2="514.21" stroke="#de1f3f" stroke-width="0.75" />
<rect x="346.73" y="505.76" width="2.2" height="2.2" fill="#de1f3f"/>
<line x1="356.47" y1="494.37" x2="356.47" y2="507.60" stroke="#de1f3f" stroke-width="0.5" />
<line x1="355.27" y1="494.37" x2="357.67" y2="494.37" stroke="#de1f3f" stroke-width="0.75" />
<line x1="355.27" y1="507.60" x2="357.67" y2="507.60" stroke="#de1f3f" stroke-width="0.75" />
<rect x="355.37" y="499.88" width="2.2" height="2.2" fill="#de1f3f"/>
<line x1="365.12" y1="500.98" x2="365.12" y2="509.80" stroke="#de1f3f" stroke-width="0.5" />
<line x1="363.92" y1="500.98" x2="366.31" y2="500.98" stroke="#de1f3f" stroke-width="0.75" />
<line x1="363.92" y1="509.80" x2="366.31" y2="509.80" stroke="#de1f3f" stroke-width="0.75" />
<rect x="364.01" y="504.29" width="2.2" height="2.2" fill="#de1f3f"/>
<line x1="340.42" y1="505.39" x2="340.42" y2="515.68" stroke="#215f9e" stroke-width="0.5" />
<line x1="339.22" y1="505.39" x2="341.62" y2="505.39" stroke="#215f9e" stroke-width="0.75" />
<line x1="339.22" y1="515.68" x2="341.62" y2="515.68" stroke="#215f9e" stroke-width="0.75" />
<rect x="339.31" y="509.44" width="2.2" height="2.2" fill="#215f9e"/>
<line x1="435.50" y1="485.50" x2="435.50" y2="526.70" stroke="#231f20" stroke-width="1.0" />
<line x1="432.50" y1="524.50" x2="513.00" y2="524.50" stroke="#231f20" stroke-width="1.0" />
<text transform="translate(429.50,527.40) scale(0.93,1)" x="0" y="0" font-size="8.3" text-anchor="end" fill="#111" >0</text>
<line x1="432.50" y1="509.00" x2="435.50" y2="509.00" stroke="#444" stroke-width="0.9" />
<text transform="translate(429.50,511.90) scale(0.93,1)" x="0" y="0" font-size="8.3" text-anchor="end" fill="#111" >10</text>
<line x1="432.50" y1="493.50" x2="435.50" y2="493.50" stroke="#444" stroke-width="0.9" />
<text transform="translate(429.50,496.40) scale(0.93,1)" x="0" y="0" font-size="8.3" text-anchor="end" fill="#111" >20</text>
<text transform="translate(435.50,535.20) scale(0.93,1)" x="0" y="0" font-size="8.1" text-anchor="middle" fill="#111" >0</text>
<line x1="460.20" y1="524.50" x2="460.20" y2="526.70" stroke="#444" stroke-width="0.9" />
<text transform="translate(460.20,535.20) scale(0.93,1)" x="0" y="0" font-size="8.1" text-anchor="middle" fill="#111" >20</text>
<line x1="484.90" y1="524.50" x2="484.90" y2="526.70" stroke="#444" stroke-width="0.9" />
<text transform="translate(484.90,535.20) scale(0.93,1)" x="0" y="0" font-size="8.1" text-anchor="middle" fill="#111" >40</text>
<line x1="509.60" y1="524.50" x2="509.60" y2="526.70" stroke="#444" stroke-width="0.9" />
<text transform="translate(509.60,535.20) scale(0.93,1)" x="0" y="0" font-size="8.1" text-anchor="middle" fill="#111" >60</text>
<text x="474.00" y="484.80" font-size="7.9" text-anchor="middle" fill="#111" >HBD</text>
<rect x="435.74" y="503.71" width="2.2" height="2.2" fill="#111111"/>
<line x1="444.25" y1="503.26" x2="444.25" y2="506.37" stroke="#111111" stroke-width="0.5" />
<line x1="443.05" y1="503.26" x2="445.44" y2="503.26" stroke="#111111" stroke-width="0.75" />
<line x1="443.05" y1="506.37" x2="445.44" y2="506.37" stroke="#111111" stroke-width="0.75" />
<rect x="443.14" y="503.71" width="2.2" height="2.2" fill="#111111"/>
<line x1="471.42" y1="496.29" x2="471.42" y2="499.39" stroke="#111111" stroke-width="0.5" />
<line x1="470.22" y1="496.29" x2="472.62" y2="496.29" stroke="#111111" stroke-width="0.75" />
<line x1="470.22" y1="499.39" x2="472.62" y2="499.39" stroke="#111111" stroke-width="0.75" />
<rect x="470.31" y="496.74" width="2.2" height="2.2" fill="#111111"/>
<line x1="487.47" y1="495.05" x2="487.47" y2="498.15" stroke="#111111" stroke-width="0.5" />
<line x1="486.27" y1="495.05" x2="488.67" y2="495.05" stroke="#111111" stroke-width="0.75" />
<line x1="486.27" y1="498.15" x2="488.67" y2="498.15" stroke="#111111" stroke-width="0.75" />
<rect x="486.37" y="495.50" width="2.2" height="2.2" fill="#111111"/>
<line x1="496.12" y1="497.06" x2="496.12" y2="500.79" stroke="#111111" stroke-width="0.5" />
<line x1="494.92" y1="497.06" x2="497.31" y2="497.06" stroke="#111111" stroke-width="0.75" />
<line x1="494.92" y1="500.79" x2="497.31" y2="500.79" stroke="#111111" stroke-width="0.75" />
<rect x="495.01" y="497.82" width="2.2" height="2.2" fill="#111111"/>
<line x1="444.25" y1="500.01" x2="444.25" y2="504.66" stroke="#de1f3f" stroke-width="0.5" />
<line x1="443.05" y1="500.01" x2="445.44" y2="500.01" stroke="#de1f3f" stroke-width="0.75" />
<line x1="443.05" y1="504.66" x2="445.44" y2="504.66" stroke="#de1f3f" stroke-width="0.75" />
<rect x="443.14" y="501.23" width="2.2" height="2.2" fill="#de1f3f"/>
<line x1="452.89" y1="498.31" x2="452.89" y2="503.89" stroke="#de1f3f" stroke-width="0.5" />
<line x1="451.69" y1="498.31" x2="454.09" y2="498.31" stroke="#de1f3f" stroke-width="0.75" />
<line x1="451.69" y1="503.89" x2="454.09" y2="503.89" stroke="#de1f3f" stroke-width="0.75" />
<rect x="451.79" y="500.00" width="2.2" height="2.2" fill="#de1f3f"/>
<line x1="461.54" y1="494.43" x2="461.54" y2="500.01" stroke="#de1f3f" stroke-width="0.5" />
<line x1="460.34" y1="494.43" x2="462.74" y2="494.43" stroke="#de1f3f" stroke-width="0.75" />
<line x1="460.34" y1="500.01" x2="462.74" y2="500.01" stroke="#de1f3f" stroke-width="0.75" />
<rect x="460.44" y="496.12" width="2.2" height="2.2" fill="#de1f3f"/>
<line x1="478.83" y1="495.36" x2="478.83" y2="500.94" stroke="#de1f3f" stroke-width="0.5" />
<line x1="477.63" y1="495.36" x2="480.03" y2="495.36" stroke="#de1f3f" stroke-width="0.75" />
<line x1="477.63" y1="500.94" x2="480.03" y2="500.94" stroke="#de1f3f" stroke-width="0.75" />
<rect x="477.73" y="497.05" width="2.2" height="2.2" fill="#de1f3f"/>
<line x1="487.47" y1="493.81" x2="487.47" y2="497.84" stroke="#de1f3f" stroke-width="0.5" />
<line x1="486.27" y1="493.81" x2="488.67" y2="493.81" stroke="#de1f3f" stroke-width="0.75" />
<line x1="486.27" y1="497.84" x2="488.67" y2="497.84" stroke="#de1f3f" stroke-width="0.75" />
<rect x="486.37" y="494.72" width="2.2" height="2.2" fill="#de1f3f"/>
<line x1="496.12" y1="494.89" x2="496.12" y2="499.54" stroke="#de1f3f" stroke-width="0.5" />
<line x1="494.92" y1="494.89" x2="497.31" y2="494.89" stroke="#de1f3f" stroke-width="0.75" />
<line x1="494.92" y1="499.54" x2="497.31" y2="499.54" stroke="#de1f3f" stroke-width="0.75" />
<rect x="495.01" y="496.12" width="2.2" height="2.2" fill="#de1f3f"/>
<line x1="471.42" y1="495.82" x2="471.42" y2="500.47" stroke="#215f9e" stroke-width="0.5" />
<line x1="470.22" y1="495.82" x2="472.62" y2="495.82" stroke="#215f9e" stroke-width="0.75" />
<line x1="470.22" y1="500.47" x2="472.62" y2="500.47" stroke="#215f9e" stroke-width="0.75" />
<rect x="470.31" y="497.05" width="2.2" height="2.2" fill="#215f9e"/>
<line x1="104.00" y1="549.80" x2="104.00" y2="591.20" stroke="#231f20" stroke-width="1.0" />
<line x1="101.00" y1="589.00" x2="181.50" y2="589.00" stroke="#231f20" stroke-width="1.0" />
<text transform="translate(98.00,591.90) scale(0.93,1)" x="0" y="0" font-size="8.3" text-anchor="end" fill="#111" >0</text>
<line x1="101.00" y1="564.70" x2="104.00" y2="564.70" stroke="#444" stroke-width="0.9" />
<text transform="translate(98.00,567.60) scale(0.93,1)" x="0" y="0" font-size="8.3" text-anchor="end" fill="#111" >100</text>
<text transform="translate(104.00,599.70) scale(0.93,1)" x="0" y="0" font-size="8.1" text-anchor="middle" fill="#111" >0</text>
<line x1="128.70" y1="589.00" x2="128.70" y2="591.20" stroke="#444" stroke-width="0.9" />
<text transform="translate(128.70,599.70) scale(0.93,1)" x="0" y="0" font-size="8.1" text-anchor="middle" fill="#111" >20</text>
<line x1="153.40" y1="589.00" x2="153.40" y2="591.20" stroke="#444" stroke-width="0.9" />
<text transform="translate(153.40,599.70) scale(0.93,1)" x="0" y="0" font-size="8.1" text-anchor="middle" fill="#111" >40</text>
<line x1="178.10" y1="589.00" x2="178.10" y2="591.20" stroke="#444" stroke-width="0.9" />
<text transform="translate(178.10,599.70) scale(0.93,1)" x="0" y="0" font-size="8.1" text-anchor="middle" fill="#111" >60</text>
<text x="142.50" y="549.80" font-size="7.9" text-anchor="middle" fill="#111" >PRDX2</text>
<text transform="translate(79.70,569.30) rotate(-90) scale(0.635,1)" x="0" y="0" font-size="9.4" text-anchor="middle" stroke="#111" stroke-width="0.22" fill="#111">Total</text>
<line x1="105.33" y1="561.30" x2="105.33" y2="564.21" stroke="#111111" stroke-width="0.5" />
<line x1="104.13" y1="561.30" x2="106.53" y2="561.30" stroke="#111111" stroke-width="0.75" />
<line x1="104.13" y1="564.21" x2="106.53" y2="564.21" stroke="#111111" stroke-width="0.75" />
<rect x="104.23" y="561.66" width="2.2" height="2.2" fill="#111111"/>
<line x1="112.74" y1="558.14" x2="112.74" y2="559.60" stroke="#111111" stroke-width="0.5" />
<line x1="111.54" y1="558.14" x2="113.94" y2="558.14" stroke="#111111" stroke-width="0.75" />
<line x1="111.54" y1="559.60" x2="113.94" y2="559.60" stroke="#111111" stroke-width="0.75" />
<rect x="111.64" y="557.77" width="2.2" height="2.2" fill="#111111"/>
<line x1="121.39" y1="560.57" x2="121.39" y2="562.03" stroke="#111111" stroke-width="0.5" />
<line x1="120.19" y1="560.57" x2="122.59" y2="560.57" stroke="#111111" stroke-width="0.75" />
<line x1="120.19" y1="562.03" x2="122.59" y2="562.03" stroke="#111111" stroke-width="0.75" />
<rect x="120.29" y="560.20" width="2.2" height="2.2" fill="#111111"/>
<line x1="139.91" y1="561.05" x2="139.91" y2="562.51" stroke="#111111" stroke-width="0.5" />
<line x1="138.72" y1="561.05" x2="141.11" y2="561.05" stroke="#111111" stroke-width="0.75" />
<line x1="138.72" y1="562.51" x2="141.11" y2="562.51" stroke="#111111" stroke-width="0.75" />
<rect x="138.81" y="560.68" width="2.2" height="2.2" fill="#111111"/>
<line x1="147.32" y1="558.62" x2="147.32" y2="560.08" stroke="#111111" stroke-width="0.5" />
<line x1="146.12" y1="558.62" x2="148.52" y2="558.62" stroke="#111111" stroke-width="0.75" />
<line x1="146.12" y1="560.08" x2="148.52" y2="560.08" stroke="#111111" stroke-width="0.75" />
<rect x="146.22" y="558.25" width="2.2" height="2.2" fill="#111111"/>
<line x1="164.62" y1="559.84" x2="164.62" y2="561.30" stroke="#111111" stroke-width="0.5" />
<line x1="163.42" y1="559.84" x2="165.81" y2="559.84" stroke="#111111" stroke-width="0.75" />
<line x1="163.42" y1="561.30" x2="165.81" y2="561.30" stroke="#111111" stroke-width="0.75" />
<rect x="163.52" y="559.47" width="2.2" height="2.2" fill="#111111"/>
<line x1="112.74" y1="563.49" x2="112.74" y2="564.94" stroke="#de1f3f" stroke-width="0.5" />
<line x1="111.54" y1="563.49" x2="113.94" y2="563.49" stroke="#de1f3f" stroke-width="0.75" />
<line x1="111.54" y1="564.94" x2="113.94" y2="564.94" stroke="#de1f3f" stroke-width="0.75" />
<rect x="111.64" y="563.11" width="2.2" height="2.2" fill="#de1f3f"/>
<line x1="121.39" y1="557.90" x2="121.39" y2="559.84" stroke="#de1f3f" stroke-width="0.5" />
<line x1="120.19" y1="557.90" x2="122.59" y2="557.90" stroke="#de1f3f" stroke-width="0.75" />
<line x1="120.19" y1="559.84" x2="122.59" y2="559.84" stroke="#de1f3f" stroke-width="0.75" />
<rect x="120.29" y="557.77" width="2.2" height="2.2" fill="#de1f3f"/>
<line x1="130.03" y1="561.06" x2="130.03" y2="563.00" stroke="#de1f3f" stroke-width="0.5" />
<line x1="128.84" y1="561.06" x2="131.23" y2="561.06" stroke="#de1f3f" stroke-width="0.75" />
<line x1="128.84" y1="563.00" x2="131.23" y2="563.00" stroke="#de1f3f" stroke-width="0.75" />
<rect x="128.94" y="560.93" width="2.2" height="2.2" fill="#de1f3f"/>
<line x1="147.32" y1="560.57" x2="147.32" y2="562.03" stroke="#de1f3f" stroke-width="0.5" />
<line x1="146.12" y1="560.57" x2="148.52" y2="560.57" stroke="#de1f3f" stroke-width="0.75" />
<line x1="146.12" y1="562.03" x2="148.52" y2="562.03" stroke="#de1f3f" stroke-width="0.75" />
<rect x="146.22" y="560.20" width="2.2" height="2.2" fill="#de1f3f"/>
<line x1="155.97" y1="559.35" x2="155.97" y2="560.81" stroke="#de1f3f" stroke-width="0.5" />
<line x1="154.77" y1="559.35" x2="157.17" y2="559.35" stroke="#de1f3f" stroke-width="0.75" />
<line x1="154.77" y1="560.81" x2="157.17" y2="560.81" stroke="#de1f3f" stroke-width="0.75" />
<rect x="154.87" y="558.98" width="2.2" height="2.2" fill="#de1f3f"/>
<line x1="164.62" y1="559.35" x2="164.62" y2="560.81" stroke="#de1f3f" stroke-width="0.5" />
<line x1="163.42" y1="559.35" x2="165.81" y2="559.35" stroke="#de1f3f" stroke-width="0.75" />
<line x1="163.42" y1="560.81" x2="165.81" y2="560.81" stroke="#de1f3f" stroke-width="0.75" />
<rect x="163.52" y="558.98" width="2.2" height="2.2" fill="#de1f3f"/>
<line x1="139.91" y1="561.06" x2="139.91" y2="563.00" stroke="#215f9e" stroke-width="0.5" />
<line x1="138.72" y1="561.06" x2="141.11" y2="561.06" stroke="#215f9e" stroke-width="0.75" />
<line x1="138.72" y1="563.00" x2="141.11" y2="563.00" stroke="#215f9e" stroke-width="0.75" />
<rect x="138.81" y="560.93" width="2.2" height="2.2" fill="#215f9e"/>
<line x1="238.50" y1="549.80" x2="238.50" y2="591.20" stroke="#231f20" stroke-width="1.0" />
<line x1="235.50" y1="589.00" x2="316.00" y2="589.00" stroke="#231f20" stroke-width="1.0" />
<text transform="translate(232.50,591.90) scale(0.93,1)" x="0" y="0" font-size="8.3" text-anchor="end" fill="#111" >0</text>
<line x1="235.50" y1="572.55" x2="238.50" y2="572.55" stroke="#444" stroke-width="0.9" />
<text transform="translate(232.50,575.45) scale(0.93,1)" x="0" y="0" font-size="8.3" text-anchor="end" fill="#111" >100</text>
<line x1="235.50" y1="556.10" x2="238.50" y2="556.10" stroke="#444" stroke-width="0.9" />
<text transform="translate(232.50,559.00) scale(0.93,1)" x="0" y="0" font-size="8.3" text-anchor="end" fill="#111" >200</text>
<text transform="translate(238.50,599.70) scale(0.93,1)" x="0" y="0" font-size="8.1" text-anchor="middle" fill="#111" >0</text>
<line x1="263.20" y1="589.00" x2="263.20" y2="591.20" stroke="#444" stroke-width="0.9" />
<text transform="translate(263.20,599.70) scale(0.93,1)" x="0" y="0" font-size="8.1" text-anchor="middle" fill="#111" >20</text>
<line x1="287.90" y1="589.00" x2="287.90" y2="591.20" stroke="#444" stroke-width="0.9" />
<text transform="translate(287.90,599.70) scale(0.93,1)" x="0" y="0" font-size="8.1" text-anchor="middle" fill="#111" >40</text>
<line x1="312.60" y1="589.00" x2="312.60" y2="591.20" stroke="#444" stroke-width="0.9" />
<text transform="translate(312.60,599.70) scale(0.93,1)" x="0" y="0" font-size="8.1" text-anchor="middle" fill="#111" >60</text>
<text x="277.00" y="549.80" font-size="7.9" text-anchor="middle" fill="#111" >CAT</text>
<rect x="238.74" y="561.58" width="2.2" height="2.2" fill="#111111"/>
<line x1="247.25" y1="559.06" x2="247.25" y2="560.71" stroke="#111111" stroke-width="0.5" />
<line x1="246.05" y1="559.06" x2="248.44" y2="559.06" stroke="#111111" stroke-width="0.75" />
<line x1="246.05" y1="560.71" x2="248.44" y2="560.71" stroke="#111111" stroke-width="0.75" />
<rect x="246.15" y="558.78" width="2.2" height="2.2" fill="#111111"/>
<line x1="281.83" y1="558.24" x2="281.83" y2="559.55" stroke="#111111" stroke-width="0.5" />
<line x1="280.63" y1="558.24" x2="283.03" y2="558.24" stroke="#111111" stroke-width="0.75" />
<line x1="280.63" y1="559.55" x2="283.03" y2="559.55" stroke="#111111" stroke-width="0.75" />
<rect x="280.73" y="557.80" width="2.2" height="2.2" fill="#111111"/>
<line x1="299.12" y1="557.91" x2="299.12" y2="559.23" stroke="#111111" stroke-width="0.5" />
<line x1="297.92" y1="557.91" x2="300.31" y2="557.91" stroke="#111111" stroke-width="0.75" />
<line x1="297.92" y1="559.23" x2="300.31" y2="559.23" stroke="#111111" stroke-width="0.75" />
<rect x="298.01" y="557.47" width="2.2" height="2.2" fill="#111111"/>
<line x1="247.25" y1="561.86" x2="247.25" y2="563.50" stroke="#de1f3f" stroke-width="0.5" />
<line x1="246.05" y1="561.86" x2="248.44" y2="561.86" stroke="#de1f3f" stroke-width="0.75" />
<line x1="246.05" y1="563.50" x2="248.44" y2="563.50" stroke="#de1f3f" stroke-width="0.75" />
<rect x="246.15" y="561.58" width="2.2" height="2.2" fill="#de1f3f"/>
<line x1="255.89" y1="559.72" x2="255.89" y2="561.69" stroke="#de1f3f" stroke-width="0.5" />
<line x1="254.69" y1="559.72" x2="257.09" y2="559.72" stroke="#de1f3f" stroke-width="0.75" />
<line x1="254.69" y1="561.69" x2="257.09" y2="561.69" stroke="#de1f3f" stroke-width="0.75" />
<rect x="254.79" y="559.61" width="2.2" height="2.2" fill="#de1f3f"/>
<line x1="264.54" y1="559.23" x2="264.54" y2="561.20" stroke="#de1f3f" stroke-width="0.5" />
<line x1="263.34" y1="559.23" x2="265.74" y2="559.23" stroke="#de1f3f" stroke-width="0.75" />
<line x1="263.34" y1="561.20" x2="265.74" y2="561.20" stroke="#de1f3f" stroke-width="0.75" />
<rect x="263.44" y="559.11" width="2.2" height="2.2" fill="#de1f3f"/>
<line x1="281.83" y1="559.39" x2="281.83" y2="561.03" stroke="#de1f3f" stroke-width="0.5" />
<line x1="280.63" y1="559.39" x2="283.03" y2="559.39" stroke="#de1f3f" stroke-width="0.75" />
<line x1="280.63" y1="561.03" x2="283.03" y2="561.03" stroke="#de1f3f" stroke-width="0.75" />
<rect x="280.73" y="559.11" width="2.2" height="2.2" fill="#de1f3f"/>
<line x1="290.47" y1="559.39" x2="290.47" y2="561.03" stroke="#de1f3f" stroke-width="0.5" />
<line x1="289.27" y1="559.39" x2="291.67" y2="559.39" stroke="#de1f3f" stroke-width="0.75" />
<line x1="289.27" y1="561.03" x2="291.67" y2="561.03" stroke="#de1f3f" stroke-width="0.75" />
<rect x="289.37" y="559.11" width="2.2" height="2.2" fill="#de1f3f"/>
<line x1="299.12" y1="558.90" x2="299.12" y2="560.87" stroke="#de1f3f" stroke-width="0.5" />
<line x1="297.92" y1="558.90" x2="300.31" y2="558.90" stroke="#de1f3f" stroke-width="0.75" />
<line x1="297.92" y1="560.87" x2="300.31" y2="560.87" stroke="#de1f3f" stroke-width="0.75" />
<rect x="298.01" y="558.78" width="2.2" height="2.2" fill="#de1f3f"/>
<line x1="274.42" y1="559.39" x2="274.42" y2="561.03" stroke="#215f9e" stroke-width="0.5" />
<line x1="273.22" y1="559.39" x2="275.62" y2="559.39" stroke="#215f9e" stroke-width="0.75" />
<line x1="273.22" y1="561.03" x2="275.62" y2="561.03" stroke="#215f9e" stroke-width="0.75" />
<rect x="273.31" y="559.11" width="2.2" height="2.2" fill="#215f9e"/>
<line x1="368.50" y1="549.80" x2="368.50" y2="591.20" stroke="#231f20" stroke-width="1.0" />
<line x1="365.50" y1="589.00" x2="446.00" y2="589.00" stroke="#231f20" stroke-width="1.0" />
<text transform="translate(362.50,591.90) scale(0.93,1)" x="0" y="0" font-size="8.3" text-anchor="end" fill="#111" >0</text>
<line x1="365.50" y1="576.65" x2="368.50" y2="576.65" stroke="#444" stroke-width="0.9" />
<text transform="translate(362.50,579.55) scale(0.93,1)" x="0" y="0" font-size="8.3" text-anchor="end" fill="#111" >5</text>
<line x1="365.50" y1="564.30" x2="368.50" y2="564.30" stroke="#444" stroke-width="0.9" />
<text transform="translate(362.50,567.20) scale(0.93,1)" x="0" y="0" font-size="8.3" text-anchor="end" fill="#111" >10</text>
<line x1="365.50" y1="551.95" x2="368.50" y2="551.95" stroke="#444" stroke-width="0.9" />
<text transform="translate(362.50,554.85) scale(0.93,1)" x="0" y="0" font-size="8.3" text-anchor="end" fill="#111" >15</text>
<text transform="translate(368.50,599.70) scale(0.93,1)" x="0" y="0" font-size="8.1" text-anchor="middle" fill="#111" >0</text>
<line x1="393.20" y1="589.00" x2="393.20" y2="591.20" stroke="#444" stroke-width="0.9" />
<text transform="translate(393.20,599.70) scale(0.93,1)" x="0" y="0" font-size="8.1" text-anchor="middle" fill="#111" >20</text>
<line x1="417.90" y1="589.00" x2="417.90" y2="591.20" stroke="#444" stroke-width="0.9" />
<text transform="translate(417.90,599.70) scale(0.93,1)" x="0" y="0" font-size="8.1" text-anchor="middle" fill="#111" >40</text>
<line x1="442.60" y1="589.00" x2="442.60" y2="591.20" stroke="#444" stroke-width="0.9" />
<text transform="translate(442.60,599.70) scale(0.93,1)" x="0" y="0" font-size="8.1" text-anchor="middle" fill="#111" >60</text>
<text x="407.00" y="549.80" font-size="7.9" text-anchor="middle" fill="#111" >G6PD</text>
<line x1="369.84" y1="573.44" x2="369.84" y2="576.40" stroke="#111111" stroke-width="0.5" />
<line x1="368.64" y1="573.44" x2="371.04" y2="573.44" stroke="#111111" stroke-width="0.75" />
<line x1="368.64" y1="576.40" x2="371.04" y2="576.40" stroke="#111111" stroke-width="0.75" />
<rect x="368.74" y="573.82" width="2.2" height="2.2" fill="#111111"/>
<line x1="377.25" y1="572.94" x2="377.25" y2="577.88" stroke="#111111" stroke-width="0.5" />
<line x1="376.05" y1="572.94" x2="378.44" y2="572.94" stroke="#111111" stroke-width="0.75" />
<line x1="376.05" y1="577.88" x2="378.44" y2="577.88" stroke="#111111" stroke-width="0.75" />
<rect x="376.14" y="574.31" width="2.2" height="2.2" fill="#111111"/>
<line x1="385.89" y1="565.04" x2="385.89" y2="573.93" stroke="#111111" stroke-width="0.5" />
<line x1="384.69" y1="565.04" x2="387.09" y2="565.04" stroke="#111111" stroke-width="0.75" />
<line x1="384.69" y1="573.93" x2="387.09" y2="573.93" stroke="#111111" stroke-width="0.75" />
<rect x="384.79" y="568.39" width="2.2" height="2.2" fill="#111111"/>
<line x1="394.54" y1="567.02" x2="394.54" y2="573.44" stroke="#111111" stroke-width="0.5" />
<line x1="393.34" y1="567.02" x2="395.74" y2="567.02" stroke="#111111" stroke-width="0.75" />
<line x1="393.34" y1="573.44" x2="395.74" y2="573.44" stroke="#111111" stroke-width="0.75" />
<rect x="393.44" y="569.13" width="2.2" height="2.2" fill="#111111"/>
<line x1="404.42" y1="569.49" x2="404.42" y2="575.91" stroke="#111111" stroke-width="0.5" />
<line x1="403.22" y1="569.49" x2="405.62" y2="569.49" stroke="#111111" stroke-width="0.75" />
<line x1="403.22" y1="575.91" x2="405.62" y2="575.91" stroke="#111111" stroke-width="0.75" />
<rect x="403.31" y="571.60" width="2.2" height="2.2" fill="#111111"/>
<line x1="411.83" y1="558.37" x2="411.83" y2="565.78" stroke="#111111" stroke-width="0.5" />
<line x1="410.63" y1="558.37" x2="413.03" y2="558.37" stroke="#111111" stroke-width="0.75" />
<line x1="410.63" y1="565.78" x2="413.03" y2="565.78" stroke="#111111" stroke-width="0.75" />
<rect x="410.73" y="560.98" width="2.2" height="2.2" fill="#111111"/>
<line x1="420.47" y1="563.06" x2="420.47" y2="568.00" stroke="#111111" stroke-width="0.5" />
<line x1="419.27" y1="563.06" x2="421.67" y2="563.06" stroke="#111111" stroke-width="0.75" />
<line x1="419.27" y1="568.00" x2="421.67" y2="568.00" stroke="#111111" stroke-width="0.75" />
<rect x="419.37" y="564.43" width="2.2" height="2.2" fill="#111111"/>
<line x1="429.12" y1="557.63" x2="429.12" y2="566.52" stroke="#111111" stroke-width="0.5" />
<line x1="427.92" y1="557.63" x2="430.31" y2="557.63" stroke="#111111" stroke-width="0.75" />
<line x1="427.92" y1="566.52" x2="430.31" y2="566.52" stroke="#111111" stroke-width="0.75" />
<rect x="428.01" y="560.98" width="2.2" height="2.2" fill="#111111"/>
<line x1="377.25" y1="563.56" x2="377.25" y2="570.97" stroke="#de1f3f" stroke-width="0.5" />
<line x1="376.05" y1="563.56" x2="378.44" y2="563.56" stroke="#de1f3f" stroke-width="0.75" />
<line x1="376.05" y1="570.97" x2="378.44" y2="570.97" stroke="#de1f3f" stroke-width="0.75" />
<rect x="376.14" y="566.16" width="2.2" height="2.2" fill="#de1f3f"/>
<line x1="385.89" y1="568.50" x2="385.89" y2="573.44" stroke="#de1f3f" stroke-width="0.5" />
<line x1="384.69" y1="568.50" x2="387.09" y2="568.50" stroke="#de1f3f" stroke-width="0.75" />
<line x1="384.69" y1="573.44" x2="387.09" y2="573.44" stroke="#de1f3f" stroke-width="0.75" />
<rect x="384.79" y="569.87" width="2.2" height="2.2" fill="#de1f3f"/>
<line x1="394.54" y1="569.49" x2="394.54" y2="575.91" stroke="#de1f3f" stroke-width="0.5" />
<line x1="393.34" y1="569.49" x2="395.74" y2="569.49" stroke="#de1f3f" stroke-width="0.75" />
<line x1="393.34" y1="575.91" x2="395.74" y2="575.91" stroke="#de1f3f" stroke-width="0.75" />
<rect x="393.44" y="571.60" width="2.2" height="2.2" fill="#de1f3f"/>
<line x1="411.83" y1="563.56" x2="411.83" y2="569.98" stroke="#de1f3f" stroke-width="0.5" />
<line x1="410.63" y1="563.56" x2="413.03" y2="563.56" stroke="#de1f3f" stroke-width="0.75" />
<line x1="410.63" y1="569.98" x2="413.03" y2="569.98" stroke="#de1f3f" stroke-width="0.75" />
<rect x="410.73" y="565.67" width="2.2" height="2.2" fill="#de1f3f"/>
<line x1="420.47" y1="561.58" x2="420.47" y2="569.49" stroke="#de1f3f" stroke-width="0.5" />
<line x1="419.27" y1="561.58" x2="421.67" y2="561.58" stroke="#de1f3f" stroke-width="0.75" />
<line x1="419.27" y1="569.49" x2="421.67" y2="569.49" stroke="#de1f3f" stroke-width="0.75" />
<rect x="419.37" y="564.43" width="2.2" height="2.2" fill="#de1f3f"/>
<line x1="429.12" y1="563.06" x2="429.12" y2="568.00" stroke="#de1f3f" stroke-width="0.5" />
<line x1="427.92" y1="563.06" x2="430.31" y2="563.06" stroke="#de1f3f" stroke-width="0.75" />
<line x1="427.92" y1="568.00" x2="430.31" y2="568.00" stroke="#de1f3f" stroke-width="0.75" />
<rect x="428.01" y="564.43" width="2.2" height="2.2" fill="#de1f3f"/>
<line x1="404.42" y1="567.02" x2="404.42" y2="573.44" stroke="#215f9e" stroke-width="0.5" />
<line x1="403.22" y1="567.02" x2="405.62" y2="567.02" stroke="#215f9e" stroke-width="0.75" />
<line x1="403.22" y1="573.44" x2="405.62" y2="573.44" stroke="#215f9e" stroke-width="0.75" />
<rect x="403.31" y="569.13" width="2.2" height="2.2" fill="#215f9e"/>
<line x1="104.00" y1="614.00" x2="104.00" y2="655.70" stroke="#231f20" stroke-width="1.0" />
<line x1="101.00" y1="653.50" x2="181.50" y2="653.50" stroke="#231f20" stroke-width="1.0" />
<text transform="translate(98.00,656.40) scale(0.93,1)" x="0" y="0" font-size="8.3" text-anchor="end" fill="#111" >0</text>
<line x1="101.00" y1="634.66" x2="104.00" y2="634.66" stroke="#444" stroke-width="0.9" />
<text transform="translate(98.00,637.56) scale(0.93,1)" x="0" y="0" font-size="8.3" text-anchor="end" fill="#111" >2</text>
<line x1="101.00" y1="615.82" x2="104.00" y2="615.82" stroke="#444" stroke-width="0.9" />
<text transform="translate(98.00,618.72) scale(0.93,1)" x="0" y="0" font-size="8.3" text-anchor="end" fill="#111" >4</text>
<text transform="translate(104.00,664.20) scale(0.93,1)" x="0" y="0" font-size="8.1" text-anchor="middle" fill="#111" >0</text>
<line x1="128.70" y1="653.50" x2="128.70" y2="655.70" stroke="#444" stroke-width="0.9" />
<text transform="translate(128.70,664.20) scale(0.93,1)" x="0" y="0" font-size="8.1" text-anchor="middle" fill="#111" >20</text>
<line x1="153.40" y1="653.50" x2="153.40" y2="655.70" stroke="#444" stroke-width="0.9" />
<text transform="translate(153.40,664.20) scale(0.93,1)" x="0" y="0" font-size="8.1" text-anchor="middle" fill="#111" >40</text>
<line x1="178.10" y1="653.50" x2="178.10" y2="655.70" stroke="#444" stroke-width="0.9" />
<text transform="translate(178.10,664.20) scale(0.93,1)" x="0" y="0" font-size="8.1" text-anchor="middle" fill="#111" >60</text>
<text x="142.50" y="614.20" font-size="7.9" text-anchor="middle" fill="#111" >PRDX2</text>
<text transform="translate(88.30,634.70) rotate(-90) scale(0.635,1)" x="0" y="0" font-size="9.4" text-anchor="middle" stroke="#111" stroke-width="0.22" fill="#111">Oxidation</text>
<line x1="105.33" y1="642.67" x2="105.33" y2="649.26" stroke="#111111" stroke-width="0.5" />
<line x1="104.13" y1="642.67" x2="106.53" y2="642.67" stroke="#111111" stroke-width="0.75" />
<line x1="104.13" y1="649.26" x2="106.53" y2="649.26" stroke="#111111" stroke-width="0.75" />
<rect x="104.23" y="644.86" width="2.2" height="2.2" fill="#111111"/>
<line x1="112.74" y1="647.19" x2="112.74" y2="652.84" stroke="#111111" stroke-width="0.5" />
<line x1="111.54" y1="647.19" x2="113.94" y2="647.19" stroke="#111111" stroke-width="0.75" />
<line x1="111.54" y1="652.84" x2="113.94" y2="652.84" stroke="#111111" stroke-width="0.75" />
<rect x="111.64" y="648.91" width="2.2" height="2.2" fill="#111111"/>
<line x1="121.39" y1="644.46" x2="121.39" y2="650.11" stroke="#111111" stroke-width="0.5" />
<line x1="120.19" y1="644.46" x2="122.59" y2="644.46" stroke="#111111" stroke-width="0.75" />
<line x1="120.19" y1="650.11" x2="122.59" y2="650.11" stroke="#111111" stroke-width="0.75" />
<rect x="120.29" y="646.18" width="2.2" height="2.2" fill="#111111"/>
<line x1="130.03" y1="638.90" x2="130.03" y2="649.26" stroke="#111111" stroke-width="0.5" />
<line x1="128.84" y1="638.90" x2="131.23" y2="638.90" stroke="#111111" stroke-width="0.75" />
<line x1="128.84" y1="649.26" x2="131.23" y2="649.26" stroke="#111111" stroke-width="0.75" />
<rect x="128.94" y="642.98" width="2.2" height="2.2" fill="#111111"/>
<line x1="139.91" y1="641.25" x2="139.91" y2="646.91" stroke="#111111" stroke-width="0.5" />
<line x1="138.72" y1="641.25" x2="141.11" y2="641.25" stroke="#111111" stroke-width="0.75" />
<line x1="138.72" y1="646.91" x2="141.11" y2="646.91" stroke="#111111" stroke-width="0.75" />
<rect x="138.81" y="642.98" width="2.2" height="2.2" fill="#111111"/>
<line x1="147.32" y1="640.78" x2="147.32" y2="647.38" stroke="#111111" stroke-width="0.5" />
<line x1="146.12" y1="640.78" x2="148.52" y2="640.78" stroke="#111111" stroke-width="0.75" />
<line x1="146.12" y1="647.38" x2="148.52" y2="647.38" stroke="#111111" stroke-width="0.75" />
<rect x="146.22" y="642.98" width="2.2" height="2.2" fill="#111111"/>
<line x1="155.97" y1="647.66" x2="155.97" y2="652.37" stroke="#111111" stroke-width="0.5" />
<line x1="154.77" y1="647.66" x2="157.17" y2="647.66" stroke="#111111" stroke-width="0.75" />
<line x1="154.77" y1="652.37" x2="157.17" y2="652.37" stroke="#111111" stroke-width="0.75" />
<rect x="154.87" y="648.91" width="2.2" height="2.2" fill="#111111"/>
<line x1="164.62" y1="642.67" x2="164.62" y2="649.26" stroke="#111111" stroke-width="0.5" />
<line x1="163.42" y1="642.67" x2="165.81" y2="642.67" stroke="#111111" stroke-width="0.75" />
<line x1="163.42" y1="649.26" x2="165.81" y2="649.26" stroke="#111111" stroke-width="0.75" />
<rect x="163.52" y="644.86" width="2.2" height="2.2" fill="#111111"/>
<line x1="112.74" y1="637.96" x2="112.74" y2="644.55" stroke="#de1f3f" stroke-width="0.5" />
<line x1="111.54" y1="637.96" x2="113.94" y2="637.96" stroke="#de1f3f" stroke-width="0.75" />
<line x1="111.54" y1="644.55" x2="113.94" y2="644.55" stroke="#de1f3f" stroke-width="0.75" />
<rect x="111.64" y="640.15" width="2.2" height="2.2" fill="#de1f3f"/>
<line x1="121.39" y1="635.60" x2="121.39" y2="644.08" stroke="#de1f3f" stroke-width="0.5" />
<line x1="120.19" y1="635.60" x2="122.59" y2="635.60" stroke="#de1f3f" stroke-width="0.75" />
<line x1="120.19" y1="644.08" x2="122.59" y2="644.08" stroke="#de1f3f" stroke-width="0.75" />
<rect x="120.29" y="638.74" width="2.2" height="2.2" fill="#de1f3f"/>
<line x1="130.03" y1="635.60" x2="130.03" y2="643.14" stroke="#de1f3f" stroke-width="0.5" />
<line x1="128.84" y1="635.60" x2="131.23" y2="635.60" stroke="#de1f3f" stroke-width="0.75" />
<line x1="128.84" y1="643.14" x2="131.23" y2="643.14" stroke="#de1f3f" stroke-width="0.75" />
<rect x="128.94" y="638.27" width="2.2" height="2.2" fill="#de1f3f"/>
<line x1="147.32" y1="628.54" x2="147.32" y2="637.96" stroke="#de1f3f" stroke-width="0.5" />
<line x1="146.12" y1="628.54" x2="148.52" y2="628.54" stroke="#de1f3f" stroke-width="0.75" />
<line x1="146.12" y1="637.96" x2="148.52" y2="637.96" stroke="#de1f3f" stroke-width="0.75" />
<rect x="146.22" y="632.15" width="2.2" height="2.2" fill="#de1f3f"/>
<line x1="155.97" y1="640.59" x2="155.97" y2="644.36" stroke="#de1f3f" stroke-width="0.5" />
<line x1="154.77" y1="640.59" x2="157.17" y2="640.59" stroke="#de1f3f" stroke-width="0.75" />
<line x1="154.77" y1="644.36" x2="157.17" y2="644.36" stroke="#de1f3f" stroke-width="0.75" />
<rect x="154.87" y="641.38" width="2.2" height="2.2" fill="#de1f3f"/>
<line x1="164.62" y1="643.99" x2="164.62" y2="650.58" stroke="#de1f3f" stroke-width="0.5" />
<line x1="163.42" y1="643.99" x2="165.81" y2="643.99" stroke="#de1f3f" stroke-width="0.75" />
<line x1="163.42" y1="650.58" x2="165.81" y2="650.58" stroke="#de1f3f" stroke-width="0.75" />
<rect x="163.52" y="646.18" width="2.2" height="2.2" fill="#de1f3f"/>
<line x1="139.91" y1="629.48" x2="139.91" y2="639.84" stroke="#215f9e" stroke-width="0.5" />
<line x1="138.72" y1="629.48" x2="141.11" y2="629.48" stroke="#215f9e" stroke-width="0.75" />
<line x1="138.72" y1="639.84" x2="141.11" y2="639.84" stroke="#215f9e" stroke-width="0.75" />
<rect x="138.81" y="633.56" width="2.2" height="2.2" fill="#215f9e"/>
<line x1="238.50" y1="614.00" x2="238.50" y2="655.70" stroke="#231f20" stroke-width="1.0" />
<line x1="235.50" y1="653.50" x2="316.00" y2="653.50" stroke="#231f20" stroke-width="1.0" />
<text transform="translate(232.50,656.40) scale(0.93,1)" x="0" y="0" font-size="8.3" text-anchor="end" fill="#111" >0</text>
<line x1="235.50" y1="638.70" x2="238.50" y2="638.70" stroke="#444" stroke-width="0.9" />
<text transform="translate(232.50,641.60) scale(0.93,1)" x="0" y="0" font-size="8.3" text-anchor="end" fill="#111" >10</text>
<line x1="235.50" y1="623.90" x2="238.50" y2="623.90" stroke="#444" stroke-width="0.9" />
<text transform="translate(232.50,626.80) scale(0.93,1)" x="0" y="0" font-size="8.3" text-anchor="end" fill="#111" >20</text>
<text transform="translate(238.50,664.20) scale(0.93,1)" x="0" y="0" font-size="8.1" text-anchor="middle" fill="#111" >0</text>
<line x1="263.20" y1="653.50" x2="263.20" y2="655.70" stroke="#444" stroke-width="0.9" />
<text transform="translate(263.20,664.20) scale(0.93,1)" x="0" y="0" font-size="8.1" text-anchor="middle" fill="#111" >20</text>
<line x1="287.90" y1="653.50" x2="287.90" y2="655.70" stroke="#444" stroke-width="0.9" />
<text transform="translate(287.90,664.20) scale(0.93,1)" x="0" y="0" font-size="8.1" text-anchor="middle" fill="#111" >40</text>
<line x1="312.60" y1="653.50" x2="312.60" y2="655.70" stroke="#444" stroke-width="0.9" />
<text transform="translate(312.60,664.20) scale(0.93,1)" x="0" y="0" font-size="8.1" text-anchor="middle" fill="#111" >60</text>
<text x="277.00" y="614.20" font-size="7.9" text-anchor="middle" fill="#111" >CAT</text>
<rect x="238.74" y="638.64" width="2.2" height="2.2" fill="#111111"/>
<line x1="247.25" y1="633.82" x2="247.25" y2="636.78" stroke="#111111" stroke-width="0.5" />
<line x1="246.05" y1="633.82" x2="248.44" y2="633.82" stroke="#111111" stroke-width="0.75" />
<line x1="246.05" y1="636.78" x2="248.44" y2="636.78" stroke="#111111" stroke-width="0.75" />
<rect x="246.15" y="634.20" width="2.2" height="2.2" fill="#111111"/>
<line x1="255.89" y1="631.60" x2="255.89" y2="634.56" stroke="#111111" stroke-width="0.5" />
<line x1="254.69" y1="631.60" x2="257.09" y2="631.60" stroke="#111111" stroke-width="0.75" />
<line x1="254.69" y1="634.56" x2="257.09" y2="634.56" stroke="#111111" stroke-width="0.75" />
<rect x="254.79" y="631.98" width="2.2" height="2.2" fill="#111111"/>
<line x1="264.54" y1="628.34" x2="264.54" y2="631.30" stroke="#111111" stroke-width="0.5" />
<line x1="263.34" y1="628.34" x2="265.74" y2="628.34" stroke="#111111" stroke-width="0.75" />
<line x1="263.34" y1="631.30" x2="265.74" y2="631.30" stroke="#111111" stroke-width="0.75" />
<rect x="263.44" y="628.72" width="2.2" height="2.2" fill="#111111"/>
<line x1="274.42" y1="624.79" x2="274.42" y2="627.75" stroke="#111111" stroke-width="0.5" />
<line x1="273.22" y1="624.79" x2="275.62" y2="624.79" stroke="#111111" stroke-width="0.75" />
<line x1="273.22" y1="627.75" x2="275.62" y2="627.75" stroke="#111111" stroke-width="0.75" />
<rect x="273.31" y="625.17" width="2.2" height="2.2" fill="#111111"/>
<line x1="299.12" y1="622.86" x2="299.12" y2="625.82" stroke="#111111" stroke-width="0.5" />
<line x1="297.92" y1="622.86" x2="300.31" y2="622.86" stroke="#111111" stroke-width="0.75" />
<line x1="297.92" y1="625.82" x2="300.31" y2="625.82" stroke="#111111" stroke-width="0.75" />
<rect x="298.01" y="623.24" width="2.2" height="2.2" fill="#111111"/>
<line x1="247.25" y1="633.96" x2="247.25" y2="637.52" stroke="#de1f3f" stroke-width="0.5" />
<line x1="246.05" y1="633.96" x2="248.44" y2="633.96" stroke="#de1f3f" stroke-width="0.75" />
<line x1="246.05" y1="637.52" x2="248.44" y2="637.52" stroke="#de1f3f" stroke-width="0.75" />
<rect x="246.15" y="634.64" width="2.2" height="2.2" fill="#de1f3f"/>
<line x1="255.89" y1="631.30" x2="255.89" y2="636.63" stroke="#de1f3f" stroke-width="0.5" />
<line x1="254.69" y1="631.30" x2="257.09" y2="631.30" stroke="#de1f3f" stroke-width="0.75" />
<line x1="254.69" y1="636.63" x2="257.09" y2="636.63" stroke="#de1f3f" stroke-width="0.75" />
<rect x="254.79" y="632.86" width="2.2" height="2.2" fill="#de1f3f"/>
<line x1="264.54" y1="629.52" x2="264.54" y2="633.96" stroke="#de1f3f" stroke-width="0.5" />
<line x1="263.34" y1="629.52" x2="265.74" y2="629.52" stroke="#de1f3f" stroke-width="0.75" />
<line x1="263.34" y1="633.96" x2="265.74" y2="633.96" stroke="#de1f3f" stroke-width="0.75" />
<rect x="263.44" y="630.64" width="2.2" height="2.2" fill="#de1f3f"/>
<line x1="281.83" y1="626.42" x2="281.83" y2="629.38" stroke="#de1f3f" stroke-width="0.5" />
<line x1="280.63" y1="626.42" x2="283.03" y2="626.42" stroke="#de1f3f" stroke-width="0.75" />
<line x1="280.63" y1="629.38" x2="283.03" y2="629.38" stroke="#de1f3f" stroke-width="0.75" />
<rect x="280.73" y="626.80" width="2.2" height="2.2" fill="#de1f3f"/>
<line x1="290.47" y1="628.34" x2="290.47" y2="632.48" stroke="#de1f3f" stroke-width="0.5" />
<line x1="289.27" y1="628.34" x2="291.67" y2="628.34" stroke="#de1f3f" stroke-width="0.75" />
<line x1="289.27" y1="632.48" x2="291.67" y2="632.48" stroke="#de1f3f" stroke-width="0.75" />
<rect x="289.37" y="629.31" width="2.2" height="2.2" fill="#de1f3f"/>
<line x1="299.12" y1="624.05" x2="299.12" y2="628.49" stroke="#de1f3f" stroke-width="0.5" />
<line x1="297.92" y1="624.05" x2="300.31" y2="624.05" stroke="#de1f3f" stroke-width="0.75" />
<line x1="297.92" y1="628.49" x2="300.31" y2="628.49" stroke="#de1f3f" stroke-width="0.75" />
<rect x="298.01" y="625.17" width="2.2" height="2.2" fill="#de1f3f"/>
<line x1="274.42" y1="627.01" x2="274.42" y2="629.97" stroke="#215f9e" stroke-width="0.5" />
<line x1="273.22" y1="627.01" x2="275.62" y2="627.01" stroke="#215f9e" stroke-width="0.75" />
<line x1="273.22" y1="629.97" x2="275.62" y2="629.97" stroke="#215f9e" stroke-width="0.75" />
<rect x="273.31" y="627.39" width="2.2" height="2.2" fill="#215f9e"/>
<line x1="368.50" y1="614.00" x2="368.50" y2="655.70" stroke="#231f20" stroke-width="1.0" />
<line x1="365.50" y1="653.50" x2="446.00" y2="653.50" stroke="#231f20" stroke-width="1.0" />
<text transform="translate(362.50,656.40) scale(0.93,1)" x="0" y="0" font-size="8.3" text-anchor="end" fill="#111" >0</text>
<line x1="365.50" y1="635.00" x2="368.50" y2="635.00" stroke="#444" stroke-width="0.9" />
<text transform="translate(362.50,637.90) scale(0.93,1)" x="0" y="0" font-size="8.3" text-anchor="end" fill="#111" >1</text>
<line x1="365.50" y1="616.50" x2="368.50" y2="616.50" stroke="#444" stroke-width="0.9" />
<text transform="translate(362.50,619.40) scale(0.93,1)" x="0" y="0" font-size="8.3" text-anchor="end" fill="#111" >2</text>
<text transform="translate(368.50,664.20) scale(0.93,1)" x="0" y="0" font-size="8.1" text-anchor="middle" fill="#111" >0</text>
<line x1="393.20" y1="653.50" x2="393.20" y2="655.70" stroke="#444" stroke-width="0.9" />
<text transform="translate(393.20,664.20) scale(0.93,1)" x="0" y="0" font-size="8.1" text-anchor="middle" fill="#111" >20</text>
<line x1="417.90" y1="653.50" x2="417.90" y2="655.70" stroke="#444" stroke-width="0.9" />
<text transform="translate(417.90,664.20) scale(0.93,1)" x="0" y="0" font-size="8.1" text-anchor="middle" fill="#111" >40</text>
<line x1="442.60" y1="653.50" x2="442.60" y2="655.70" stroke="#444" stroke-width="0.9" />
<text transform="translate(442.60,664.20) scale(0.93,1)" x="0" y="0" font-size="8.1" text-anchor="middle" fill="#111" >60</text>
<text x="407.00" y="614.20" font-size="7.9" text-anchor="middle" fill="#111" >G6PD</text>
<rect x="368.74" y="652.40" width="2.2" height="2.2" fill="#111111"/>
<line x1="385.89" y1="647.02" x2="385.89" y2="652.57" stroke="#111111" stroke-width="0.5" />
<line x1="384.69" y1="647.02" x2="387.09" y2="647.02" stroke="#111111" stroke-width="0.75" />
<line x1="384.69" y1="652.57" x2="387.09" y2="652.57" stroke="#111111" stroke-width="0.75" />
<rect x="384.79" y="648.70" width="2.2" height="2.2" fill="#111111"/>
<line x1="394.54" y1="635.56" x2="394.54" y2="646.65" stroke="#111111" stroke-width="0.5" />
<line x1="393.34" y1="635.56" x2="395.74" y2="635.56" stroke="#111111" stroke-width="0.75" />
<line x1="393.34" y1="646.65" x2="395.74" y2="646.65" stroke="#111111" stroke-width="0.75" />
<rect x="393.44" y="640.00" width="2.2" height="2.2" fill="#111111"/>
<line x1="404.42" y1="635.56" x2="404.42" y2="646.65" stroke="#111111" stroke-width="0.5" />
<line x1="403.22" y1="635.56" x2="405.62" y2="635.56" stroke="#111111" stroke-width="0.75" />
<line x1="403.22" y1="646.65" x2="405.62" y2="646.65" stroke="#111111" stroke-width="0.75" />
<rect x="403.31" y="640.00" width="2.2" height="2.2" fill="#111111"/>
<line x1="411.83" y1="630.38" x2="411.83" y2="639.62" stroke="#111111" stroke-width="0.5" />
<line x1="410.63" y1="630.38" x2="413.03" y2="630.38" stroke="#111111" stroke-width="0.75" />
<line x1="410.63" y1="639.62" x2="413.03" y2="639.62" stroke="#111111" stroke-width="0.75" />
<rect x="410.73" y="633.90" width="2.2" height="2.2" fill="#111111"/>
<line x1="420.47" y1="627.60" x2="420.47" y2="642.40" stroke="#111111" stroke-width="0.5" />
<line x1="419.27" y1="627.60" x2="421.67" y2="627.60" stroke="#111111" stroke-width="0.75" />
<line x1="419.27" y1="642.40" x2="421.67" y2="642.40" stroke="#111111" stroke-width="0.75" />
<rect x="419.37" y="633.90" width="2.2" height="2.2" fill="#111111"/>
<line x1="429.12" y1="635.93" x2="429.12" y2="641.48" stroke="#111111" stroke-width="0.5" />
<line x1="427.92" y1="635.93" x2="430.31" y2="635.93" stroke="#111111" stroke-width="0.75" />
<line x1="427.92" y1="641.48" x2="430.31" y2="641.48" stroke="#111111" stroke-width="0.75" />
<rect x="428.01" y="637.60" width="2.2" height="2.2" fill="#111111"/>
<rect x="376.14" y="652.40" width="2.2" height="2.2" fill="#de1f3f"/>
<rect x="384.79" y="652.40" width="2.2" height="2.2" fill="#de1f3f"/>
<line x1="394.54" y1="638.70" x2="394.54" y2="649.80" stroke="#de1f3f" stroke-width="0.5" />
<line x1="393.34" y1="638.70" x2="395.74" y2="638.70" stroke="#de1f3f" stroke-width="0.75" />
<line x1="393.34" y1="649.80" x2="395.74" y2="649.80" stroke="#de1f3f" stroke-width="0.75" />
<rect x="393.44" y="643.15" width="2.2" height="2.2" fill="#de1f3f"/>
<line x1="411.83" y1="635.55" x2="411.83" y2="642.96" stroke="#de1f3f" stroke-width="0.5" />
<line x1="410.63" y1="635.55" x2="413.03" y2="635.55" stroke="#de1f3f" stroke-width="0.75" />
<line x1="410.63" y1="642.96" x2="413.03" y2="642.96" stroke="#de1f3f" stroke-width="0.75" />
<rect x="410.73" y="638.15" width="2.2" height="2.2" fill="#de1f3f"/>
<line x1="420.47" y1="643.33" x2="420.47" y2="652.58" stroke="#de1f3f" stroke-width="0.5" />
<line x1="419.27" y1="643.33" x2="421.67" y2="643.33" stroke="#de1f3f" stroke-width="0.75" />
<line x1="419.27" y1="652.58" x2="421.67" y2="652.58" stroke="#de1f3f" stroke-width="0.75" />
<rect x="419.37" y="646.85" width="2.2" height="2.2" fill="#de1f3f"/>
<line x1="429.12" y1="647.02" x2="429.12" y2="652.57" stroke="#de1f3f" stroke-width="0.5" />
<line x1="427.92" y1="647.02" x2="430.31" y2="647.02" stroke="#de1f3f" stroke-width="0.75" />
<line x1="427.92" y1="652.57" x2="430.31" y2="652.57" stroke="#de1f3f" stroke-width="0.75" />
<rect x="428.01" y="648.70" width="2.2" height="2.2" fill="#de1f3f"/>
<line x1="404.42" y1="635.00" x2="404.42" y2="640.55" stroke="#215f9e" stroke-width="0.5" />
<line x1="403.22" y1="635.00" x2="405.62" y2="635.00" stroke="#215f9e" stroke-width="0.75" />
<line x1="403.22" y1="640.55" x2="405.62" y2="640.55" stroke="#215f9e" stroke-width="0.75" />
<rect x="403.31" y="636.67" width="2.2" height="2.2" fill="#215f9e"/>
<rect x="0.65" y="0.65" width="518.7" height="676.7" fill="none" stroke="#000" stroke-width="1.3"/>
</svg>
</body></html>
